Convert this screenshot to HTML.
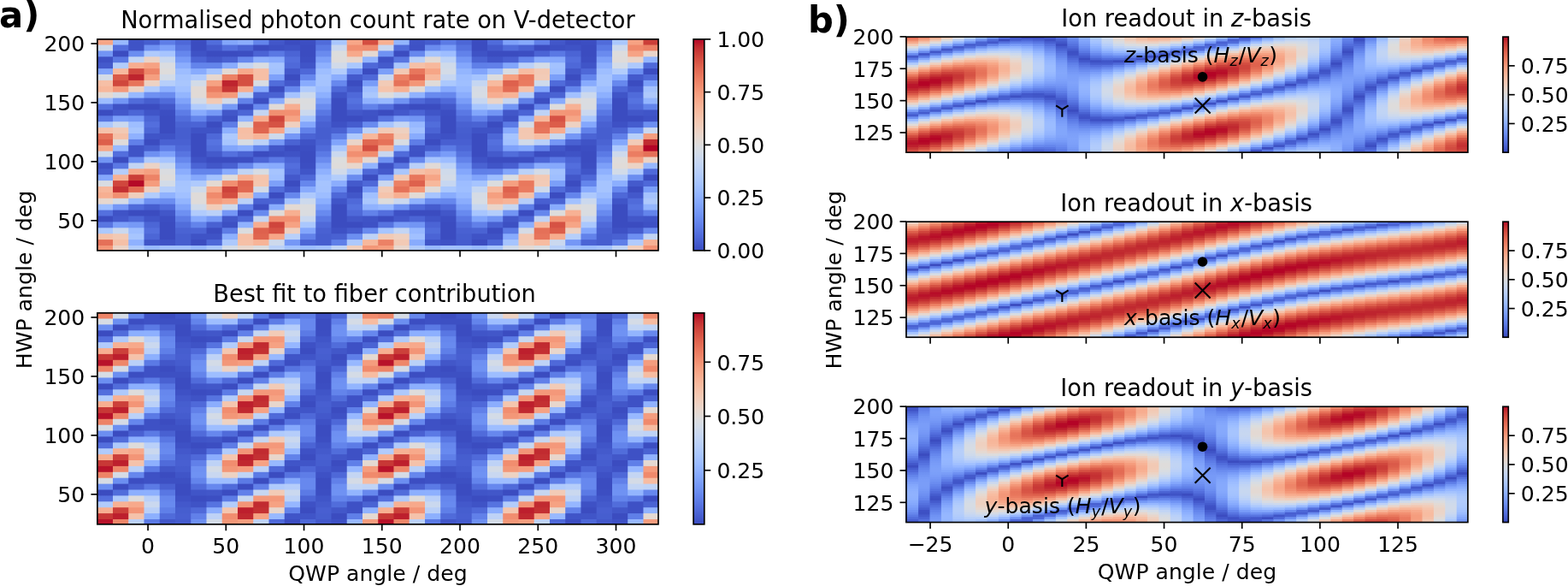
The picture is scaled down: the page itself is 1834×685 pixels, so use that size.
<!DOCTYPE html>
<html><head><meta charset="utf-8"><title>Figure</title>
<style>
html,body{margin:0;padding:0;background:#fff}
#f{position:relative;width:1834px;height:685px;overflow:hidden;background:#fff;font-family:'DejaVu Sans','Liberation Sans',sans-serif}
#f i{position:absolute;display:block}
#f svg{position:absolute;left:0;top:0}
#f svg path,#f svg rect{stroke:#000;stroke-linecap:butt;fill:none}
#f svg rect{stroke-linejoin:miter}
#f svg text{font-family:'DejaVu Sans','Liberation Sans',sans-serif;fill:#000}
</style></head><body>
<div id="f">
<i style="left:113px;top:45px;width:19px;height:248px;background:linear-gradient(#f6a586 7px,#cedaeb 8px 13.9px,#7295f4 14.9px 20.8px,#3e51c5 21.8px 27.7px,#445acc 28.7px 34.6px,#81a4fb 35.6px 41.5px,#d3dbe7 42.5px 48.4px,#f6bfa6 49.4px 55.3px,#f7b79b 56.3px 62.2px,#e4d9d2 63.2px 69.1px,#9dbdff 70.1px 76px,#5470de 77px 82.9px,#3b4cc0 83.9px 89.8px,#5875e1 90.8px 96.7px,#adc9fd 97.7px 103.6px,#f5c2aa 104.6px 110.5px,#e57058 111.5px 117.4px,#dd5f4b 118.4px 124.3px,#f6a586 125.3px 131.2px,#cedaeb 132.2px 138px,#7295f4 139px 144.9px,#3e51c5 145.9px 151.8px,#455cce 152.8px 158.7px,#84a7fc 159.7px 165.6px,#d8dce2 166.6px 172.5px,#f7b79b 173.5px 179.4px,#f7af91 180.4px 186.3px,#e7d7ce 187.3px 193.2px,#9ebeff 194.2px 200.1px,#5470de 201.1px 207px,#3b4cc0 208px 213.9px,#5875e1 214.9px 220.8px,#adc9fd 221.8px 227.7px,#f5c2aa 228.7px 234.6px,#e57058 235.6px 241.5px,#f39577 242.5px)"></i>
<i style="left:132px;top:45px;width:18px;height:248px;background:linear-gradient(#98b9ff 7px,#536edd 8px 13.9px,#3b4cc0 14.9px 20.8px,#5a78e4 21.8px 27.7px,#b2ccfb 28.7px 34.6px,#f7b99e 35.6px 41.5px,#da5a49 42.5px 48.4px,#d0473d 49.4px 55.3px,#f4987a 56.3px 62.2px,#d3dbe7 63.2px 69.1px,#7396f5 70.1px 76px,#3f53c6 77px 82.9px,#4358cb 83.9px 89.8px,#7b9ff9 90.8px 96.7px,#cad8ef 97.7px 103.6px,#f2c9b4 104.6px 110.5px,#f5c0a7 111.5px 117.4px,#dfdbd9 118.4px 124.3px,#98b9ff 125.3px 131.2px,#536edd 132.2px 138px,#3b4cc0 139px 144.9px,#5a78e4 145.9px 151.8px,#b5cdfa 152.8px 158.7px,#f7b194 159.7px 165.6px,#d0473d 166.6px 172.5px,#c43032 173.5px 179.4px,#f18f71 180.4px 186.3px,#d5dbe5 187.3px 193.2px,#7597f6 194.2px 200.1px,#3f53c6 201.1px 207px,#4358cb 208px 213.9px,#7b9ff9 214.9px 220.8px,#cad8ef 221.8px 227.7px,#f2c9b4 228.7px 234.6px,#f5c0a7 235.6px 241.5px,#ebd3c6 242.5px)"></i>
<i style="left:150px;top:45px;width:1px;height:248px;background:linear-gradient(#556cd4 7px,#445acc 8px 13.9px,#5f7de4 14.9px 20.8px,#a9bef0 21.8px 27.7px,#e6b5aa 28.7px 34.6px,#da6556 35.6px 41.5px,#c53135 42.5px 48.4px,#e16954 49.4px 55.3px,#efc3b0 56.3px 62.2px,#a7c1f9 63.2px 69.1px,#5976e1 70.1px 76px,#3c4ec1 77px 82.9px,#4a63d3 83.9px 89.8px,#779af7 90.8px 96.7px,#a9c4fb 97.7px 103.6px,#bac6ec 104.6px 110.5px,#a8b5e8 111.5px 117.4px,#8096e5 118.4px 124.3px,#556cd4 125.3px 131.2px,#445acc 132.2px 138px,#5f7de4 139px 144.9px,#aabeef 145.9px 151.8px,#e7b2a6 152.8px 158.7px,#d65a4f 159.7px 165.6px,#bc182c 166.6px 172.5px,#db5b4a 173.5px 179.4px,#efbeaa 180.4px 186.3px,#a9c3f9 187.3px 193.2px,#5976e1 194.2px 200.1px,#3c4ec1 201.1px 207px,#4a63d3 208px 213.9px,#779af7 214.9px 220.8px,#a9c4fb 221.8px 227.7px,#bac6ec 228.7px 234.6px,#a8b5e8 235.6px 241.5px,#beccef 242.5px)"></i>
<i style="left:151px;top:45px;width:17px;height:248px;background:linear-gradient(#3f53c6 13.9px,#6b8df0 14.9px 20.8px,#c3d5f4 21.8px 27.7px,#f7ad90 28.7px 34.6px,#d1493f 35.6px 41.5px,#be242e 42.5px 48.4px,#e7745b 49.4px 55.3px,#edd1c2 56.3px 62.2px,#98b9ff 63.2px 69.1px,#506bda 70.1px 76px,#3b4cc0 77px 82.9px,#4c66d6 83.9px 89.8px,#7699f6 90.8px 96.7px,#9ebeff 97.7px 103.6px,#a7c5fe 104.6px 110.5px,#8fb1fe 111.5px 117.4px,#6180e9 118.4px 124.3px,#3f53c6 125.3px 138px,#6b8df0 139px 144.9px,#c4d5f3 145.9px 151.8px,#f7a98b 152.8px 158.7px,#cb3e38 159.7px 165.6px,#b50927 166.6px 172.5px,#e26952 173.5px 179.4px,#efcebd 180.4px 186.3px,#9abbff 187.3px 193.2px,#506bda 194.2px 200.1px,#3b4cc0 201.1px 207px,#4c66d6 208px 213.9px,#7699f6 214.9px 220.8px,#9ebeff 221.8px 227.7px,#a7c5fe 228.7px 234.6px,#8fb1fe 235.6px 241.5px,#afcafc 242.5px)"></i>
<i style="left:168px;top:45px;width:1px;height:248px;background:linear-gradient(#4359cb 7px,#5772dc 8px 13.9px,#8dacf6 14.9px 20.8px,#d7d4dd 21.8px 27.7px,#f6a789 28.7px 34.6px,#e06854 35.6px 41.5px,#da6257 42.5px 48.4px,#eaa38f 49.4px 55.3px,#cfcedf 56.3px 62.2px,#83a4f8 63.2px 69.1px,#4b64d4 70.1px 76px,#3b4cc0 77px 82.9px,#465dcf 83.9px 89.8px,#617fe6 90.8px 96.7px,#7896ee 97.7px 103.6px,#7995ea 104.6px 110.5px,#6783e3 111.5px 117.4px,#4e66d4 118.4px 124.3px,#4359cb 125.3px 131.2px,#5772dc 132.2px 138px,#8dacf6 139px 144.9px,#d8d4dc 145.9px 151.8px,#f6a486 152.8px 158.7px,#dc614f 159.7px 165.6px,#d55352 166.6px 172.5px,#e89d89 173.5px 179.4px,#d0cddc 180.4px 186.3px,#84a5f8 187.3px 193.2px,#4b64d4 194.2px 200.1px,#3b4cc0 201.1px 207px,#465dcf 208px 213.9px,#617fe6 214.9px 220.8px,#7896ee 221.8px 227.7px,#7995ea 228.7px 234.6px,#6783e3 235.6px 241.5px,#a3c1fe 242.5px)"></i>
<i style="left:169px;top:45px;width:17px;height:248px;background:linear-gradient(#465ecf 7px,#6e90f2 8px 13.9px,#afcafc 14.9px 20.8px,#ebd3c6 21.8px 27.7px,#f6a283 28.7px 34.6px,#ee8669 35.6px 41.5px,#f59f80 42.5px 48.4px,#edd2c3 49.4px 55.3px,#b1cbfc 56.3px 62.2px,#6e90f2 63.2px 69.1px,#465ecf 70.1px 76px,#3b4cc0 77px 82.9px,#4055c8 83.9px 89.8px,#4c66d6 90.8px 96.7px,#536edd 97.7px 103.6px,#4c66d6 104.6px 110.5px,#4055c8 111.5px 117.4px,#3b4cc0 118.4px 124.3px,#465ecf 125.3px 131.2px,#6e90f2 132.2px 138px,#afcafc 139px 144.9px,#ebd3c6 145.9px 151.8px,#f5a081 152.8px 158.7px,#ed8366 159.7px 165.6px,#f59c7d 166.6px 172.5px,#eed0c0 173.5px 179.4px,#b2ccfb 180.4px 186.3px,#6e90f2 187.3px 193.2px,#465ecf 194.2px 200.1px,#3b4cc0 201.1px 207px,#4055c8 208px 213.9px,#4c66d6 214.9px 220.8px,#536edd 221.8px 227.7px,#4c66d6 228.7px 234.6px,#4055c8 235.6px 241.5px,#97b8ff 242.5px)"></i>
<i style="left:186px;top:45px;width:1px;height:248px;background:linear-gradient(#4c66d5 7px,#7294f4 8px 13.9px,#adc8fd 14.9px 20.8px,#e2d4d1 21.8px 27.7px,#efb19b 28.7px 34.6px,#ea9c86 35.6px 41.5px,#ecae9b 42.5px 48.4px,#dfd1d1 49.4px 55.3px,#a8c4fd 56.3px 62.2px,#6d8ff1 63.2px 69.1px,#4961d2 70.1px 76px,#3d4fc2 77px 82.9px,#3f53c6 83.9px 89.8px,#485fd0 90.8px 96.7px,#4d65d6 97.7px 103.6px,#485fd0 104.6px 110.5px,#4054c7 111.5px 117.4px,#3f51c5 118.4px 124.3px,#4c66d5 125.3px 131.2px,#7294f4 132.2px 138px,#adc8fd 139px 144.9px,#e2d4d1 145.9px 151.8px,#eeaf99 152.8px 158.7px,#e99a84 159.7px 165.6px,#ecac98 166.6px 172.5px,#e0cfcf 173.5px 179.4px,#a9c5fc 180.4px 186.3px,#6d8ff1 187.3px 193.2px,#4961d2 194.2px 200.1px,#3d4fc2 201.1px 207px,#3f53c6 208px 213.9px,#485fd0 214.9px 220.8px,#4d65d6 221.8px 227.7px,#485fd0 228.7px 234.6px,#4054c7 235.6px 241.5px,#9abaff 242.5px)"></i>
<i style="left:187px;top:45px;width:18px;height:248px;background:linear-gradient(#5e7de7 7px,#7ea1fa 8px 13.9px,#a6c4fe 14.9px 20.8px,#c7d7f0 21.8px 27.7px,#dadce0 28.7px 34.6px,#dedcdb 35.6px 41.5px,#d2dbe8 42.5px 48.4px,#b6cefa 49.4px 55.3px,#8fb1fe 56.3px 62.2px,#6a8bef 63.2px 69.1px,#506bda 70.1px 76px,#4257c9 77px 82.9px,#3c4ec2 83.9px 89.8px,#3b4cc0 90.8px 110.5px,#3f53c6 111.5px 117.4px,#4961d2 118.4px 124.3px,#5e7de7 125.3px 131.2px,#7ea1fa 132.2px 138px,#a6c4fe 139px 144.9px,#c7d7f0 145.9px 151.8px,#dadce0 152.8px 158.7px,#dedcdb 159.7px 165.6px,#d2dbe8 166.6px 172.5px,#b6cefa 173.5px 179.4px,#8fb1fe 180.4px 186.3px,#6b8df0 187.3px 193.2px,#506bda 194.2px 200.1px,#4257c9 201.1px 207px,#3c4ec2 208px 213.9px,#3b4cc0 214.9px 234.6px,#3f53c6 235.6px 241.5px,#a1c0ff 242.5px)"></i>
<i style="left:205px;top:45px;width:18px;height:248px;background:linear-gradient(#4e68d8 7px,#5875e1 8px 13.9px,#6687ed 14.9px 20.8px,#779af7 21.8px 27.7px,#8badfd 28.7px 34.6px,#9dbdff 35.6px 41.5px,#a6c4fe 42.5px 48.4px,#a9c6fd 49.4px 55.3px,#a2c1ff 56.3px 62.2px,#93b5fe 63.2px 69.1px,#80a3fa 70.1px 76px,#6e90f2 77px 82.9px,#5d7ce6 83.9px 89.8px,#516ddb 90.8px 96.7px,#4a63d3 97.7px 103.6px,#465ecf 104.6px 117.4px,#4961d2 118.4px 124.3px,#4e68d8 125.3px 131.2px,#5875e1 132.2px 138px,#6687ed 139px 144.9px,#779af7 145.9px 151.8px,#8badfd 152.8px 158.7px,#9bbcff 159.7px 165.6px,#a6c4fe 166.6px 172.5px,#a7c5fe 173.5px 179.4px,#a1c0ff 180.4px 186.3px,#93b5fe 187.3px 193.2px,#80a3fa 194.2px 200.1px,#6e90f2 201.1px 207px,#5d7ce6 208px 213.9px,#516ddb 214.9px 220.8px,#4a63d3 221.8px 227.7px,#465ecf 228.7px 241.5px,#a1c0ff 242.5px)"></i>
<i style="left:223px;top:45px;width:1px;height:248px;background:linear-gradient(#4053c6 7px,#4256c8 8px 13.9px,#4860cf 14.9px 20.8px,#5671dd 21.8px 27.7px,#6d8eef 28.7px 34.6px,#8daffd 35.6px 41.5px,#aec9fc 42.5px 48.4px,#c8d6ed 49.4px 55.3px,#d2d4e0 56.3px 62.2px,#ced1e0 63.2px 69.1px,#bdcded 70.1px 76px,#a1bdfa 77px 82.9px,#7ea0f7 83.9px 89.8px,#5f7ee7 90.8px 96.7px,#4b64d5 97.7px 103.6px,#4156c8 104.6px 110.5px,#3e50c4 111.5px 117.4px,#3e51c4 118.4px 124.3px,#4053c6 125.3px 131.2px,#4256c8 132.2px 138px,#4860cf 139px 144.9px,#5671dd 145.9px 151.8px,#6d8eef 152.8px 158.7px,#8baefd 159.7px 165.6px,#adc9fc 166.6px 172.5px,#c5d5ef 173.5px 179.4px,#d0d4e2 180.4px 186.3px,#cdd2e2 187.3px 193.2px,#bccdee 194.2px 200.1px,#a1bdfa 201.1px 207px,#7ea0f7 208px 213.9px,#5f7ee7 214.9px 220.8px,#4b64d5 221.8px 227.7px,#4156c8 228.7px 234.6px,#3e50c4 235.6px 241.5px,#99baff 242.5px)"></i>
<i style="left:224px;top:45px;width:17px;height:248px;background:linear-gradient(#3b4cc0 13.9px,#3f53c6 14.9px 20.8px,#4b64d5 21.8px 27.7px,#6384eb 28.7px 34.6px,#88abfd 35.6px 41.5px,#b1cbfc 42.5px 48.4px,#d2dbe8 49.4px 55.3px,#e1dad6 56.3px 69.1px,#d1dae9 70.1px 76px,#b1cbfc 77px 82.9px,#88abfd 83.9px 89.8px,#6384eb 90.8px 96.7px,#4b64d5 97.7px 103.6px,#3f53c6 104.6px 110.5px,#3b4cc0 111.5px 138px,#3f53c6 139px 144.9px,#4b64d5 145.9px 151.8px,#6384eb 152.8px 158.7px,#86a9fc 159.7px 165.6px,#afcafc 166.6px 172.5px,#cfdaea 173.5px 179.4px,#dfdbd9 180.4px 193.2px,#cfdaea 194.2px 200.1px,#b1cbfc 201.1px 207px,#88abfd 208px 213.9px,#6384eb 214.9px 220.8px,#4b64d5 221.8px 227.7px,#3f53c6 228.7px 234.6px,#3b4cc0 235.6px 241.5px,#97b8ff 242.5px)"></i>
<i style="left:241px;top:45px;width:1px;height:248px;background:linear-gradient(#465dce 7px,#4053c6 8px 13.9px,#3d4fc3 14.9px 20.8px,#465dcf 21.8px 27.7px,#6384eb 28.7px 34.6px,#97b7fe 35.6px 41.5px,#cdd1e5 42.5px 48.4px,#e4beb5 49.4px 55.3px,#e6ab9b 56.3px 62.2px,#eab6a5 63.2px 69.1px,#e2d2ce 70.1px 76px,#b7cff9 77px 82.9px,#7fa2f9 83.9px 89.8px,#5672de 90.8px 96.7px,#4358ca 97.7px 103.6px,#3f53c6 104.6px 110.5px,#455acc 111.5px 117.4px,#4960d0 118.4px 124.3px,#465dce 125.3px 131.2px,#4053c6 132.2px 138px,#3d4fc3 139px 144.9px,#465dcf 145.9px 151.8px,#6384eb 152.8px 158.7px,#95b6fd 159.7px 165.6px,#cad2e7 166.6px 172.5px,#e3c2ba 173.5px 179.4px,#e8b2a1 180.4px 186.3px,#eabaa9 187.3px 193.2px,#e0d3d1 194.2px 200.1px,#b6cefa 201.1px 207px,#7fa2f9 208px 213.9px,#5672de 214.9px 220.8px,#4358ca 221.8px 227.7px,#3f53c6 228.7px 234.6px,#455acc 235.6px 241.5px,#a0bffe 242.5px)"></i>
<i style="left:242px;top:45px;width:17px;height:248px;background:linear-gradient(#516ddb 7px,#445acc 8px 13.9px,#3b4cc0 14.9px 20.8px,#4257c9 21.8px 27.7px,#6384eb 28.7px 34.6px,#a5c3fe 35.6px 41.5px,#e7d7ce 42.5px 48.4px,#f6a283 49.4px 55.3px,#eb7d62 56.3px 62.2px,#f39475 63.2px 69.1px,#f2cab5 70.1px 76px,#bcd2f7 77px 82.9px,#7699f6 83.9px 89.8px,#4961d2 90.8px 96.7px,#3b4cc0 97.7px 103.6px,#3f53c6 104.6px 110.5px,#4e68d8 111.5px 117.4px,#5673e0 118.4px 124.3px,#516ddb 125.3px 131.2px,#445acc 132.2px 138px,#3b4cc0 139px 144.9px,#4257c9 145.9px 151.8px,#6384eb 152.8px 158.7px,#a3c2fe 159.7px 165.6px,#e4d9d2 166.6px 172.5px,#f7aa8c 173.5px 179.4px,#f08a6c 180.4px 186.3px,#f49a7b 187.3px 193.2px,#f1ccb8 194.2px 200.1px,#bbd1f8 201.1px 207px,#7699f6 208px 213.9px,#4961d2 214.9px 220.8px,#3b4cc0 221.8px 227.7px,#3f53c6 228.7px 234.6px,#4e68d8 235.6px 241.5px,#a9c6fd 242.5px)"></i>
<i style="left:259px;top:45px;width:1px;height:248px;background:linear-gradient(#5e7ce3 7px,#4860d1 8px 13.9px,#3b4cc0 14.9px 20.8px,#445acb 21.8px 27.7px,#6d8ef0 28.7px 34.6px,#b5c9f3 35.6px 41.5px,#e8c1b3 42.5px 48.4px,#e7816d 49.4px 55.3px,#e26a56 56.3px 62.2px,#f39677 63.2px 69.1px,#e9cec3 70.1px 76px,#aac3f7 77px 82.9px,#6888ea 83.9px 89.8px,#465dce 90.8px 96.7px,#4459ca 97.7px 103.6px,#536bd5 104.6px 110.5px,#6781e2 111.5px 117.4px,#6b88e8 118.4px 124.3px,#5e7ce3 125.3px 131.2px,#4860d1 132.2px 138px,#3b4cc0 139px 144.9px,#445acb 145.9px 151.8px,#6d8ef0 152.8px 158.7px,#b3c9f4 159.7px 165.6px,#e7c6b9 166.6px 172.5px,#ec8f77 173.5px 179.4px,#e97a61 180.4px 186.3px,#f59d7e 187.3px 193.2px,#e8cfc6 194.2px 200.1px,#a9c2f7 201.1px 207px,#6888ea 208px 213.9px,#465dce 214.9px 220.8px,#4459ca 221.8px 227.7px,#536bd5 228.7px 234.6px,#6781e2 235.6px 241.5px,#b4cbf8 242.5px)"></i>
<i style="left:260px;top:45px;width:18px;height:248px;background:linear-gradient(#82a6fb 7px,#5470de 8px 13.9px,#3b4cc0 14.9px 20.8px,#4961d2 21.8px 27.7px,#89acfd 28.7px 34.6px,#e3d9d3 35.6px 41.5px,#ec8165 42.5px 48.4px,#be242e 49.4px 55.3px,#c73635 56.3px 62.2px,#f49a7b 63.2px 69.1px,#d1dae9 70.1px 76px,#7699f6 77px 82.9px,#4257c9 83.9px 89.8px,#3d50c3 90.8px 96.7px,#5d7ce6 97.7px 103.6px,#8db0fe 104.6px 110.5px,#adc9fd 111.5px 117.4px,#a7c5fe 118.4px 124.3px,#82a6fb 125.3px 131.2px,#5470de 132.2px 138px,#3b4cc0 139px 144.9px,#4961d2 145.9px 151.8px,#88abfd 152.8px 158.7px,#dfdbd9 159.7px 165.6px,#f18f71 166.6px 172.5px,#cd423b 173.5px 179.4px,#d44e41 180.4px 186.3px,#f6a586 187.3px 193.2px,#cdd9ec 194.2px 200.1px,#7597f6 201.1px 207px,#4257c9 208px 213.9px,#3d50c3 214.9px 220.8px,#5d7ce6 221.8px 227.7px,#8db0fe 228.7px 234.6px,#adc9fd 235.6px 241.5px,#d2dbe8 242.5px)"></i>
<i style="left:278px;top:45px;width:18px;height:248px;background:linear-gradient(#8badfd 7px,#4a63d3 8px 13.9px,#3c4ec2 14.9px 20.8px,#6687ed 21.8px 27.7px,#c4d5f3 28.7px 34.6px,#f7a98b 35.6px 41.5px,#d55042 42.5px 55.3px,#f7ac8e 56.3px 62.2px,#bfd3f6 63.2px 69.1px,#6282ea 70.1px 76px,#3b4cc0 77px 82.9px,#4c66d6 83.9px 89.8px,#90b2fe 90.8px 96.7px,#dbdcde 97.7px 103.6px,#f6bea4 104.6px 110.5px,#f5c0a7 111.5px 117.4px,#d7dce3 118.4px 124.3px,#8badfd 125.3px 131.2px,#4a63d3 132.2px 138px,#3c4ec2 139px 144.9px,#6687ed 145.9px 151.8px,#c1d4f4 152.8px 158.7px,#f7b194 159.7px 165.6px,#e0654f 166.6px 172.5px,#e26952 173.5px 179.4px,#f7b79b 180.4px 186.3px,#bbd1f8 187.3px 193.2px,#6180e9 194.2px 200.1px,#3b4cc0 201.1px 207px,#4c66d6 208px 213.9px,#90b2fe 214.9px 220.8px,#dbdcde 221.8px 227.7px,#f6bea4 228.7px 234.6px,#f5c0a7 235.6px 241.5px,#e7d7ce 242.5px)"></i>
<i style="left:296px;top:45px;width:1px;height:248px;background:linear-gradient(#6c8eef 7px,#3f51c4 8px 13.9px,#475fd1 14.9px 20.8px,#84a6fa 21.8px 27.7px,#d4dae5 28.7px 34.6px,#f6baa0 35.6px 41.5px,#eea58e 42.5px 48.4px,#d7bbbc 49.4px 55.3px,#a3ace3 56.3px 62.2px,#657cda 63.2px 69.1px,#455acb 70.1px 76px,#5d7be4 77px 82.9px,#a8bbec 83.9px 89.8px,#dfaeaa 90.8px 96.7px,#dd7e6f 97.7px 103.6px,#e57a63 104.6px 110.5px,#f7b79b 111.5px 117.4px,#c2d4f2 118.4px 124.3px,#6c8eef 125.3px 131.2px,#3f51c4 132.2px 138px,#475fd1 139px 144.9px,#83a6fa 145.9px 151.8px,#d2dae7 152.8px 158.7px,#f5c0a6 159.7px 165.6px,#efaf98 166.6px 172.5px,#d7c0c4 173.5px 179.4px,#a1ace5 180.4px 186.3px,#647bdb 187.3px 193.2px,#455acb 194.2px 200.1px,#5d7be4 201.1px 207px,#a8bbec 208px 213.9px,#dfaeaa 214.9px 220.8px,#dd7e6f 221.8px 227.7px,#e57a63 228.7px 234.6px,#f7b79b 235.6px 241.5px,#dedbda 242.5px)"></i>
<i style="left:297px;top:45px;width:17px;height:248px;background:linear-gradient(#6384eb 7px,#3b4cc0 8px 13.9px,#4b64d5 14.9px 20.8px,#8db0fe 21.8px 27.7px,#d9dce1 28.7px 34.6px,#f6bfa6 35.6px 48.4px,#d8dce2 49.4px 55.3px,#89acfd 56.3px 62.2px,#4961d2 63.2px 69.1px,#3c4ec2 70.1px 76px,#688aef 77px 82.9px,#c4d5f3 83.9px 89.8px,#f7ad90 90.8px 96.7px,#de614d 97.7px 103.6px,#e0654f 104.6px 110.5px,#f7b497 111.5px 117.4px,#bcd2f7 118.4px 124.3px,#6384eb 125.3px 131.2px,#3b4cc0 132.2px 138px,#4b64d5 139px 144.9px,#8caffe 145.9px 151.8px,#d7dce3 152.8px 158.7px,#f5c4ac 159.7px 165.6px,#f4c6af 166.6px 172.5px,#d3dbe7 173.5px 179.4px,#86a9fc 180.4px 186.3px,#4961d2 187.3px 193.2px,#3c4ec2 194.2px 200.1px,#688aef 201.1px 207px,#c4d5f3 208px 213.9px,#f7ad90 214.9px 220.8px,#de614d 221.8px 227.7px,#e0654f 228.7px 234.6px,#f7b497 235.6px 241.5px,#dbdcde 242.5px)"></i>
<i style="left:314px;top:45px;width:1px;height:248px;background:linear-gradient(#526dd9 7px,#3c4ec2 8px 13.9px,#536edd 14.9px 20.8px,#8aadfd 21.8px 27.7px,#bfd0f0 28.7px 34.6px,#cbc1d3 35.6px 41.5px,#b8b0d1 42.5px 48.4px,#92a3de 49.4px 55.3px,#617bde 56.3px 62.2px,#4a62d3 63.2px 69.1px,#657fe0 70.1px 76px,#a6b3e2 77px 82.9px,#dbb1b0 83.9px 89.8px,#e27765 90.8px 96.7px,#da5948 97.7px 103.6px,#ec866c 104.6px 110.5px,#e1c7c3 111.5px 117.4px,#98b5f6 118.4px 124.3px,#526dd9 125.3px 131.2px,#3c4ec2 132.2px 138px,#536edd 139px 144.9px,#8aadfd 145.9px 151.8px,#bed0f1 152.8px 158.7px,#cac2d7 159.7px 165.6px,#b7b2d5 166.6px 172.5px,#90a2e1 173.5px 179.4px,#5f79dd 180.4px 186.3px,#4a62d3 187.3px 193.2px,#647ee0 194.2px 200.1px,#a6b4e3 201.1px 207px,#dbb1b0 208px 213.9px,#e27765 214.9px 220.8px,#da5948 221.8px 227.7px,#ec866c 228.7px 234.6px,#e1c7c3 235.6px 241.5px,#cad6eb 242.5px)"></i>
<i style="left:315px;top:45px;width:17px;height:248px;background:linear-gradient(#4257c9 7px,#3d50c3 8px 13.9px,#5a78e4 14.9px 20.8px,#88abfd 21.8px 27.7px,#a6c4fe 28.7px 34.6px,#a3c2fe 35.6px 41.5px,#7ea1fa 42.5px 48.4px,#516ddb 49.4px 55.3px,#3b4cc0 56.3px 62.2px,#4a63d3 63.2px 69.1px,#8badfd 70.1px 76px,#e1dad6 77px 82.9px,#f18f71 83.9px 89.8px,#cf453c 90.8px 96.7px,#d65244 97.7px 103.6px,#f7a688 104.6px 110.5px,#cdd9ec 111.5px 117.4px,#7699f6 118.4px 124.3px,#4257c9 125.3px 131.2px,#3d50c3 132.2px 138px,#5a78e4 139px 144.9px,#88abfd 145.9px 151.8px,#a6c4fe 152.8px 158.7px,#a2c1ff 159.7px 165.6px,#7da0f9 166.6px 172.5px,#516ddb 173.5px 179.4px,#3b4cc0 180.4px 186.3px,#4a63d3 187.3px 193.2px,#89acfd 194.2px 200.1px,#e0dbd8 201.1px 207px,#f18f71 208px 213.9px,#cf453c 214.9px 220.8px,#d65244 221.8px 227.7px,#f7a688 228.7px 234.6px,#cdd9ec 235.6px 241.5px,#bad0f8 242.5px)"></i>
<i style="left:332px;top:45px;width:1px;height:248px;background:linear-gradient(#4054c7 7px,#3e51c4 8px 13.9px,#5673e0 14.9px 20.8px,#7a9bf4 21.8px 27.7px,#8facf4 28.7px 34.6px,#89a6f0 35.6px 41.5px,#6c8aeb 42.5px 48.4px,#4d67d7 49.4px 55.3px,#465ccc 56.3px 62.2px,#627dde 63.2px 69.1px,#a2b9f2 70.1px 76px,#e7cec3 77px 82.9px,#f18f71 83.9px 89.8px,#d95e4f 90.8px 96.7px,#dd7365 97.7px 103.6px,#e6b1a6 104.6px 110.5px,#b6c7ef 111.5px 117.4px,#6a8bed 118.4px 124.3px,#4054c7 125.3px 131.2px,#3e51c4 132.2px 138px,#5673e0 139px 144.9px,#7a9bf4 145.9px 151.8px,#8fabf4 152.8px 158.7px,#89a5f1 159.7px 165.6px,#6b8aea 166.6px 172.5px,#4d67d7 173.5px 179.4px,#465ccc 180.4px 186.3px,#627dde 187.3px 193.2px,#a1b8f2 194.2px 200.1px,#e6cfc5 201.1px 207px,#f18f71 208px 213.9px,#d95e4f 214.9px 220.8px,#dd7365 221.8px 227.7px,#e6b1a6 228.7px 234.6px,#b6c7ef 235.6px 241.5px,#b3ccfa 242.5px)"></i>
<i style="left:333px;top:45px;width:18px;height:248px;background:linear-gradient(#3b4cc0 7px,#3f53c6 8px 13.9px,#4b64d5 14.9px 20.8px,#536edd 21.8px 27.7px,#4f69d9 28.7px 34.6px,#4358cb 35.6px 41.5px,#3b4cc0 42.5px 48.4px,#4358cb 49.4px 55.3px,#6687ed 56.3px 62.2px,#a5c3fe 63.2px 69.1px,#e3d9d3 70.1px 76px,#f7ad90 77px 82.9px,#f29072 83.9px 89.8px,#f6a283 90.8px 96.7px,#efcfbf 97.7px 103.6px,#b9d0f9 104.6px 110.5px,#7597f6 111.5px 117.4px,#4a63d3 118.4px 124.3px,#3b4cc0 125.3px 131.2px,#3f53c6 132.2px 138px,#4b64d5 139px 144.9px,#536edd 145.9px 151.8px,#4e68d8 152.8px 158.7px,#4358cb 159.7px 165.6px,#3b4cc0 166.6px 172.5px,#4358cb 173.5px 179.4px,#6687ed 180.4px 186.3px,#a5c3fe 187.3px 193.2px,#e3d9d3 194.2px 200.1px,#f7af91 201.1px 207px,#f29072 208px 213.9px,#f6a283 214.9px 220.8px,#efcfbf 221.8px 227.7px,#b9d0f9 228.7px 234.6px,#7597f6 235.6px 241.5px,#a1c0ff 242.5px)"></i>
<i style="left:351px;top:45px;width:18px;height:248px;background:linear-gradient(#3c4ec2 7px,#3b4cc0 8px 20.8px,#3c4ec2 21.8px 27.7px,#4055c8 28.7px 34.6px,#4e68d8 35.6px 41.5px,#6687ed 42.5px 48.4px,#88abfd 49.4px 55.3px,#afcafc 56.3px 62.2px,#ccd9ed 63.2px 69.1px,#dbdcde 70.1px 76px,#dadce0 77px 82.9px,#cad8ef 83.9px 89.8px,#aac7fd 90.8px 96.7px,#84a7fc 97.7px 103.6px,#6282ea 104.6px 110.5px,#4b64d5 111.5px 117.4px,#3f53c6 118.4px 124.3px,#3c4ec2 125.3px 131.2px,#3b4cc0 132.2px 144.9px,#3c4ec2 145.9px 151.8px,#4055c8 152.8px 158.7px,#4e68d8 159.7px 165.6px,#6687ed 166.6px 172.5px,#88abfd 173.5px 179.4px,#aec9fc 180.4px 186.3px,#ccd9ed 187.3px 193.2px,#dbdcde 194.2px 200.1px,#dadce0 201.1px 207px,#cad8ef 208px 213.9px,#aac7fd 214.9px 220.8px,#84a7fc 221.8px 227.7px,#6282ea 228.7px 234.6px,#4b64d5 235.6px 241.5px,#9bbcff 242.5px)"></i>
<i style="left:369px;top:45px;width:1px;height:248px;background:linear-gradient(#4b64d4 7px,#546fdc 8px 13.9px,#5f7ce4 14.9px 20.8px,#6e8dec 21.8px 27.7px,#7d9cf2 28.7px 34.6px,#8caaf6 35.6px 41.5px,#97b6fa 42.5px 48.4px,#9ebdfe 49.4px 55.3px,#a1c0fe 56.3px 62.2px,#9cb9fa 63.2px 69.1px,#90acf2 70.1px 76px,#829dec 77px 82.9px,#738de6 83.9px 89.8px,#647fe1 90.8px 96.7px,#5771dc 97.7px 103.6px,#4c66d5 104.6px 110.5px,#475fd0 111.5px 124.3px,#4b64d4 125.3px 131.2px,#546fdc 132.2px 138px,#5f7ce4 139px 144.9px,#6e8dec 145.9px 151.8px,#7d9cf2 152.8px 158.7px,#8caaf6 159.7px 165.6px,#97b6fa 166.6px 172.5px,#9ebdfe 173.5px 179.4px,#a1c0fe 180.4px 186.3px,#9bb9fa 187.3px 193.2px,#90acf2 194.2px 200.1px,#829dec 201.1px 207px,#738de6 208px 213.9px,#647fe1 214.9px 220.8px,#5771dc 221.8px 227.7px,#4c66d5 228.7px 234.6px,#475fd0 235.6px 241.5px,#a0bfff 242.5px)"></i>
<i style="left:370px;top:45px;width:17px;height:248px;background:linear-gradient(#506bda 7px,#5b7ae5 8px 13.9px,#6a8bef 14.9px 20.8px,#7da0f9 21.8px 27.7px,#8fb1fe 28.7px 34.6px,#9ebeff 35.6px 41.5px,#a6c4fe 42.5px 48.4px,#a5c3fe 49.4px 55.3px,#9dbdff 56.3px 62.2px,#8db0fe 63.2px 69.1px,#7a9df8 70.1px 76px,#688aef 77px 82.9px,#5977e3 83.9px 89.8px,#4f69d9 90.8px 96.7px,#4961d2 97.7px 103.6px,#465ecf 104.6px 117.4px,#4a63d3 118.4px 124.3px,#506bda 125.3px 131.2px,#5b7ae5 132.2px 138px,#6a8bef 139px 144.9px,#7da0f9 145.9px 151.8px,#8fb1fe 152.8px 158.7px,#9ebeff 159.7px 165.6px,#a6c4fe 166.6px 172.5px,#a5c3fe 173.5px 179.4px,#9dbdff 180.4px 186.3px,#8caffe 187.3px 193.2px,#7a9df8 194.2px 200.1px,#688aef 201.1px 207px,#5977e3 208px 213.9px,#4f69d9 214.9px 220.8px,#4961d2 221.8px 227.7px,#465ecf 228.7px 241.5px,#a1c0ff 242.5px)"></i>
<i style="left:387px;top:45px;width:1px;height:248px;background:linear-gradient(#7e9aec 7px,#95abea 8px 13.9px,#a5b6e6 14.9px 20.8px,#b0bfe9 21.8px 27.7px,#b1c6f3 28.7px 34.6px,#a9c6fd 35.6px 41.5px,#98b8fd 42.5px 48.4px,#85a4f6 49.4px 55.3px,#7491eb 56.3px 62.2px,#6581e2 63.2px 69.1px,#5973db 70.1px 76px,#516ad7 77px 82.9px,#4961d1 83.9px 89.8px,#455acc 90.8px 96.7px,#4359cb 97.7px 103.6px,#4860d1 104.6px 110.5px,#536fdc 111.5px 117.4px,#6785e8 118.4px 124.3px,#7e9aec 125.3px 131.2px,#95abea 132.2px 138px,#a5b6e6 139px 144.9px,#b0bfe9 145.9px 151.8px,#b1c6f3 152.8px 158.7px,#a9c6fd 159.7px 165.6px,#98b8fd 166.6px 172.5px,#85a4f6 173.5px 179.4px,#7491eb 180.4px 186.3px,#6480e2 187.3px 193.2px,#5973db 194.2px 200.1px,#516ad7 201.1px 207px,#4961d1 208px 213.9px,#455acc 214.9px 220.8px,#4359cb 221.8px 227.7px,#4860d1 228.7px 234.6px,#536fdc 235.6px 241.5px,#b1cafa 242.5px)"></i>
<i style="left:388px;top:45px;width:17px;height:248px;background:linear-gradient(#a9c6fd 7px,#cad8ef 8px 13.9px,#dcdddd 14.9px 20.8px,#dedcdb 21.8px 27.7px,#d1dae9 28.7px 34.6px,#b3cdfb 35.6px 41.5px,#8badfd 42.5px 48.4px,#6788ee 49.4px 55.3px,#4e68d8 56.3px 62.2px,#4055c8 63.2px 69.1px,#3b4cc0 70.1px 96.7px,#3e51c5 97.7px 103.6px,#4961d2 104.6px 110.5px,#5f7fe8 111.5px 117.4px,#81a4fb 118.4px 124.3px,#a9c6fd 125.3px 131.2px,#cad8ef 132.2px 138px,#dcdddd 139px 144.9px,#dedcdb 145.9px 151.8px,#d1dae9 152.8px 158.7px,#b3cdfb 159.7px 165.6px,#8badfd 166.6px 172.5px,#6788ee 173.5px 179.4px,#4e68d8 180.4px 186.3px,#4055c8 187.3px 193.2px,#3b4cc0 194.2px 220.8px,#3e51c5 221.8px 227.7px,#4961d2 228.7px 234.6px,#5f7fe8 235.6px 241.5px,#c0d4f5 242.5px)"></i>
<i style="left:405px;top:45px;width:1px;height:248px;background:linear-gradient(#bebddd 7px,#d5c4cd 8px 13.9px,#e3cfc7 14.9px 20.8px,#e1dad7 21.8px 27.7px,#c7d5ee 28.7px 34.6px,#9fbbf8 35.6px 41.5px,#7896f0 42.5px 48.4px,#5b78e1 49.4px 55.3px,#4b63d4 56.3px 62.2px,#445acd 63.2px 69.1px,#4256c8 70.1px 76px,#4054c7 77px 82.9px,#3d4fc2 83.9px 89.8px,#3b4cc0 90.8px 96.7px,#4054c7 97.7px 103.6px,#536eda 104.6px 110.5px,#7593ed 111.5px 117.4px,#9eb1ed 118.4px 124.3px,#bebddd 125.3px 131.2px,#d5c4cd 132.2px 138px,#e3cfc7 139px 144.9px,#e1dad7 145.9px 151.8px,#c7d5ee 152.8px 158.7px,#9fbbf8 159.7px 165.6px,#7896f0 166.6px 172.5px,#5b78e1 173.5px 179.4px,#4b63d4 180.4px 186.3px,#445acd 187.3px 193.2px,#4256c8 194.2px 200.1px,#4054c7 201.1px 207px,#3d4fc2 208px 213.9px,#3b4cc0 214.9px 220.8px,#4054c7 221.8px 227.7px,#536eda 228.7px 234.6px,#7593ed 235.6px 241.5px,#cdd2e6 242.5px)"></i>
<i style="left:406px;top:45px;width:18px;height:248px;background:linear-gradient(#f7a688 7px,#f18f71 8px 13.9px,#f7a98b 14.9px 20.8px,#e8d6cc 21.8px 27.7px,#abc8fd 28.7px 34.6px,#6a8bef 35.6px 41.5px,#445acc 42.5px 48.4px,#3b4cc0 49.4px 55.3px,#4257c9 56.3px 62.2px,#4f69d9 63.2px 69.1px,#5572df 70.1px 76px,#4f69d9 77px 82.9px,#4257c9 83.9px 89.8px,#3b4cc0 90.8px 96.7px,#455cce 97.7px 103.6px,#6c8ff1 104.6px 110.5px,#aec9fc 111.5px 117.4px,#ead4c8 118.4px 124.3px,#f7a688 125.3px 131.2px,#f18f71 132.2px 138px,#f7a98b 139px 144.9px,#e8d6cc 145.9px 151.8px,#abc8fd 152.8px 158.7px,#6a8bef 159.7px 165.6px,#445acc 166.6px 172.5px,#3b4cc0 173.5px 179.4px,#4257c9 180.4px 186.3px,#4f69d9 187.3px 193.2px,#5572df 194.2px 200.1px,#4f69d9 201.1px 207px,#4257c9 208px 213.9px,#3b4cc0 214.9px 220.8px,#455cce 221.8px 227.7px,#6c8ff1 228.7px 234.6px,#aec9fc 235.6px 241.5px,#efcebd 242.5px)"></i>
<i style="left:424px;top:45px;width:18px;height:248px;background:linear-gradient(#d44e41 7px,#f08b6e 8px 13.9px,#e5d8d1 14.9px 20.8px,#92b4fe 21.8px 27.7px,#4e68d8 28.7px 34.6px,#3b4cc0 35.6px 41.5px,#4e68d8 42.5px 48.4px,#799cf8 49.4px 55.3px,#a1c0ff 56.3px 62.2px,#aac7fd 63.2px 69.1px,#90b2fe 70.1px 76px,#6282ea 77px 82.9px,#3f53c6 83.9px 89.8px,#3e51c5 90.8px 96.7px,#688aef 97.7px 103.6px,#bed2f6 104.6px 110.5px,#f7b89c 111.5px 117.4px,#e16751 118.4px 124.3px,#d44e41 125.3px 131.2px,#f08b6e 132.2px 138px,#e5d8d1 139px 144.9px,#92b4fe 145.9px 151.8px,#4e68d8 152.8px 158.7px,#3b4cc0 159.7px 165.6px,#4e68d8 166.6px 172.5px,#799cf8 173.5px 179.4px,#a1c0ff 180.4px 186.3px,#aac7fd 187.3px 193.2px,#90b2fe 194.2px 200.1px,#6282ea 201.1px 207px,#3f53c6 208px 213.9px,#3e51c5 214.9px 220.8px,#688aef 221.8px 227.7px,#bed2f6 228.7px 234.6px,#f7b89c 235.6px 241.5px,#f39778 242.5px)"></i>
<i style="left:442px;top:45px;width:1px;height:248px;background:linear-gradient(#ef997f 7px,#d2c6d3 8px 13.9px,#8aa2eb 14.9px 20.8px,#5167d2 21.8px 27.7px,#465dcf 28.7px 34.6px,#6d8cec 35.6px 41.5px,#adbeeb 42.5px 48.4px,#d7c0c6 49.4px 55.3px,#e2c3bf 56.3px 62.2px,#d2d7e3 63.2px 69.1px,#96b7ff 70.1px 76px,#5673e0 77px 82.9px,#3c4ec1 83.9px 89.8px,#516bda 90.8px 96.7px,#99b8fb 97.7px 103.6px,#e6ccc4 104.6px 110.5px,#ee8d71 111.5px 117.4px,#e57057 118.4px 124.3px,#ef997f 125.3px 131.2px,#d2c6d3 132.2px 138px,#8aa2eb 139px 144.9px,#5167d2 145.9px 151.8px,#465dcf 152.8px 158.7px,#6d8cec 159.7px 165.6px,#adbeeb 166.6px 172.5px,#d7c0c6 173.5px 179.4px,#e2c3bf 180.4px 186.3px,#d2d7e3 187.3px 193.2px,#96b7ff 194.2px 200.1px,#5673e0 201.1px 207px,#3c4ec1 208px 213.9px,#516bda 214.9px 220.8px,#99b8fb 221.8px 227.7px,#e6ccc4 228.7px 234.6px,#ee8d71 235.6px 241.5px,#f59c7d 242.5px)"></i>
<i style="left:443px;top:45px;width:17px;height:248px;background:linear-gradient(#f7af91 7px,#c9d7f0 8px 13.9px,#6f92f3 14.9px 20.8px,#3e51c5 21.8px 27.7px,#445acc 28.7px 34.6px,#7b9ff9 35.6px 41.5px,#c9d7f0 42.5px 48.4px,#f2cbb7 49.4px 55.3px,#f5c4ac 56.3px 62.2px,#dddcdc 63.2px 69.1px,#98b9ff 70.1px 76px,#536edd 77px 82.9px,#3b4cc0 83.9px 89.8px,#5673e0 90.8px 96.7px,#a7c5fe 97.7px 103.6px,#f2cab5 104.6px 110.5px,#ec8165 111.5px 117.4px,#e67259 118.4px 124.3px,#f7af91 125.3px 131.2px,#c9d7f0 132.2px 138px,#6f92f3 139px 144.9px,#3e51c5 145.9px 151.8px,#445acc 152.8px 158.7px,#7b9ff9 159.7px 165.6px,#c9d7f0 166.6px 172.5px,#f2cbb7 173.5px 179.4px,#f5c4ac 180.4px 186.3px,#dddcdc 187.3px 193.2px,#98b9ff 194.2px 200.1px,#536edd 201.1px 207px,#3b4cc0 208px 213.9px,#5673e0 214.9px 220.8px,#a7c5fe 221.8px 227.7px,#f2cab5 228.7px 234.6px,#ec8165 235.6px 241.5px,#f59d7e 242.5px)"></i>
<i style="left:460px;top:45px;width:1px;height:248px;background:linear-gradient(#c2b2ca 7px,#899ee4 8px 13.9px,#546dd8 14.9px 20.8px,#4c64d4 21.8px 27.7px,#7993e6 28.7px 34.6px,#bab5d5 35.6px 41.5px,#dbaaa7 42.5px 48.4px,#ec9c86 49.4px 55.3px,#f6b99e 56.3px 62.2px,#d3dae6 63.2px 69.1px,#83a5f9 70.1px 76px,#485fd0 77px 82.9px,#3f52c6 83.9px 89.8px,#6788ec 90.8px 96.7px,#b6cdf9 97.7px 103.6px,#f0cdbb 104.6px 110.5px,#efa78f 111.5px 117.4px,#dfaaa1 118.4px 124.3px,#c2b2ca 125.3px 131.2px,#899ee4 132.2px 138px,#546dd8 139px 144.9px,#4c64d4 145.9px 151.8px,#7993e6 152.8px 158.7px,#bab5d5 159.7px 165.6px,#dbaaa7 166.6px 172.5px,#ec9c86 173.5px 179.4px,#f6b99e 180.4px 186.3px,#d3dae6 187.3px 193.2px,#83a5f9 194.2px 200.1px,#485fd0 201.1px 207px,#3f52c6 208px 213.9px,#6788ec 214.9px 220.8px,#b6cdf9 221.8px 227.7px,#f0cdbb 228.7px 234.6px,#efa78f 235.6px 241.5px,#eebba7 242.5px)"></i>
<i style="left:461px;top:45px;width:17px;height:248px;background:linear-gradient(#93b5fe 7px,#506bda 8px 13.9px,#3b4cc0 14.9px 20.8px,#5875e1 21.8px 27.7px,#a9c6fd 28.7px 34.6px,#f2c9b4 35.6px 41.5px,#ec8165 42.5px 48.4px,#e67259 49.4px 55.3px,#f7af91 56.3px 62.2px,#cad8ef 63.2px 69.1px,#7093f3 70.1px 76px,#3e51c5 77px 82.9px,#4358cb 83.9px 89.8px,#779af7 90.8px 96.7px,#c3d5f4 97.7px 103.6px,#eed0c0 104.6px 110.5px,#f2cab5 111.5px 117.4px,#d8dce2 118.4px 124.3px,#93b5fe 125.3px 131.2px,#506bda 132.2px 138px,#3b4cc0 139px 144.9px,#5875e1 145.9px 151.8px,#a9c6fd 152.8px 158.7px,#f2c9b4 159.7px 165.6px,#ec8165 166.6px 172.5px,#e67259 173.5px 179.4px,#f7af91 180.4px 186.3px,#cad8ef 187.3px 193.2px,#7093f3 194.2px 200.1px,#3e51c5 201.1px 207px,#4358cb 208px 213.9px,#779af7 214.9px 220.8px,#c3d5f4 221.8px 227.7px,#eed0c0 228.7px 234.6px,#f2cab5 235.6px 241.5px,#e8d6cc 242.5px)"></i>
<i style="left:478px;top:45px;width:1px;height:248px;background:linear-gradient(#7c9aee 7px,#4b64d4 8px 13.9px,#475dcd 14.9px 20.8px,#738ee7 21.8px 27.7px,#bec4e5 28.7px 34.6px,#efb29c 35.6px 41.5px,#e8785e 42.5px 48.4px,#ea7c62 49.4px 55.3px,#f1bba4 56.3px 62.2px,#bacdf3 63.2px 69.1px,#6787ec 70.1px 76px,#3d50c4 77px 82.9px,#455bce 83.9px 89.8px,#7699f6 90.8px 96.7px,#b7cdf7 97.7px 103.6px,#d9ccd1 104.6px 110.5px,#d5c1c9 111.5px 117.4px,#b6c2e3 118.4px 124.3px,#7c9aee 125.3px 131.2px,#4b64d4 132.2px 138px,#475dcd 139px 144.9px,#738ee7 145.9px 151.8px,#bec4e5 152.8px 158.7px,#efb29c 159.7px 165.6px,#e8785e 166.6px 172.5px,#ea7c62 173.5px 179.4px,#f1bba4 180.4px 186.3px,#bacdf3 187.3px 193.2px,#6787ec 194.2px 200.1px,#3d50c4 201.1px 207px,#455bce 208px 213.9px,#7699f6 214.9px 220.8px,#b7cdf7 221.8px 227.7px,#d9ccd1 228.7px 234.6px,#d5c1c9 235.6px 241.5px,#d8d2d9 242.5px)"></i>
<i style="left:479px;top:45px;width:18px;height:248px;background:linear-gradient(#3f53c6 7px,#3e51c5 8px 13.9px,#6788ee 14.9px 20.8px,#bad0f8 21.8px 27.7px,#f5c0a7 28.7px 34.6px,#e8765c 35.6px 41.5px,#de614d 42.5px 48.4px,#f39778 49.4px 55.3px,#e2dad5 56.3px 62.2px,#90b2fe 63.2px 69.1px,#4f69d9 70.1px 76px,#3b4cc0 77px 82.9px,#4b64d5 83.9px 89.8px,#7295f4 90.8px 96.7px,#97b8ff 97.7px 103.6px,#a1c0ff 104.6px 110.5px,#88abfd 111.5px 117.4px,#5e7de7 118.4px 124.3px,#3f53c6 125.3px 131.2px,#3e51c5 132.2px 138px,#6788ee 139px 144.9px,#bad0f8 145.9px 151.8px,#f5c0a7 152.8px 158.7px,#e8765c 159.7px 165.6px,#de614d 166.6px 172.5px,#f39778 173.5px 179.4px,#e2dad5 180.4px 186.3px,#90b2fe 187.3px 193.2px,#4f69d9 194.2px 200.1px,#3b4cc0 201.1px 207px,#4b64d5 208px 213.9px,#7295f4 214.9px 220.8px,#97b8ff 221.8px 227.7px,#a1c0ff 228.7px 234.6px,#88abfd 235.6px 241.5px,#aec9fc 242.5px)"></i>
<i style="left:497px;top:45px;width:18px;height:248px;background:linear-gradient(#455cce 7px,#6a8bef 8px 13.9px,#a6c4fe 14.9px 20.8px,#e1dad6 21.8px 27.7px,#f7b89c 28.7px 34.6px,#f6a586 35.6px 41.5px,#f7b89c 42.5px 48.4px,#e0dbd8 49.4px 55.3px,#a6c4fe 56.3px 62.2px,#688aef 63.2px 69.1px,#455cce 70.1px 76px,#3b4cc0 77px 82.9px,#4055c8 83.9px 89.8px,#4b64d5 90.8px 96.7px,#516ddb 97.7px 103.6px,#4b64d5 104.6px 110.5px,#4055c8 111.5px 117.4px,#3b4cc0 118.4px 124.3px,#455cce 125.3px 131.2px,#6a8bef 132.2px 138px,#a6c4fe 139px 144.9px,#e1dad6 145.9px 151.8px,#f7b89c 152.8px 158.7px,#f6a586 159.7px 165.6px,#f7b89c 166.6px 172.5px,#e0dbd8 173.5px 179.4px,#a6c4fe 180.4px 186.3px,#688aef 187.3px 193.2px,#455cce 194.2px 200.1px,#3b4cc0 201.1px 207px,#4055c8 208px 213.9px,#4b64d5 214.9px 220.8px,#516ddb 221.8px 227.7px,#4b64d5 228.7px 234.6px,#4055c8 235.6px 241.5px,#97b8ff 242.5px)"></i>
<i style="left:515px;top:45px;width:1px;height:248px;background:linear-gradient(#5673e0 7px,#7698f6 8px 13.9px,#9fbfff 14.9px 20.8px,#c4d4f0 21.8px 27.7px,#d8d3d9 28.7px 34.6px,#dbcfd2 35.6px 41.5px,#d1cfde 42.5px 48.4px,#b7ccf5 49.4px 55.3px,#8fb0fd 56.3px 62.2px,#6688ed 63.2px 69.1px,#4d66d7 70.1px 76px,#4055c7 77px 82.9px,#3d50c3 83.9px 89.8px,#3f51c5 90.8px 96.7px,#4053c6 97.7px 103.6px,#3f51c5 104.6px 110.5px,#3e52c6 111.5px 117.4px,#455bcd 118.4px 124.3px,#5673e0 125.3px 131.2px,#7698f6 132.2px 138px,#9fbfff 139px 144.9px,#c4d4f0 145.9px 151.8px,#d8d3d9 152.8px 158.7px,#dbcfd2 159.7px 165.6px,#d1cfde 166.6px 172.5px,#b7ccf5 173.5px 179.4px,#8fb0fd 180.4px 186.3px,#6688ed 187.3px 193.2px,#4d66d7 194.2px 200.1px,#4055c7 201.1px 207px,#3d50c3 208px 213.9px,#3f51c5 214.9px 220.8px,#4053c6 221.8px 227.7px,#3f51c5 228.7px 234.6px,#3e52c6 235.6px 241.5px,#9fbeff 242.5px)"></i>
<i style="left:516px;top:45px;width:17px;height:248px;background:linear-gradient(#5b7ae5 7px,#799cf8 8px 13.9px,#9dbdff 14.9px 20.8px,#bcd2f7 21.8px 27.7px,#cfdaea 28.7px 34.6px,#d3dbe7 35.6px 41.5px,#c6d6f1 42.5px 48.4px,#abc8fd 49.4px 55.3px,#88abfd 56.3px 62.2px,#6687ed 63.2px 69.1px,#4f69d9 70.1px 76px,#4257c9 77px 82.9px,#3c4ec2 83.9px 89.8px,#3b4cc0 90.8px 110.5px,#3e51c5 111.5px 117.4px,#485fd1 118.4px 124.3px,#5b7ae5 125.3px 131.2px,#799cf8 132.2px 138px,#9dbdff 139px 144.9px,#bcd2f7 145.9px 151.8px,#cfdaea 152.8px 158.7px,#d3dbe7 159.7px 165.6px,#c6d6f1 166.6px 172.5px,#abc8fd 173.5px 179.4px,#88abfd 180.4px 186.3px,#6687ed 187.3px 193.2px,#4f69d9 194.2px 200.1px,#4257c9 201.1px 207px,#3c4ec2 208px 213.9px,#3b4cc0 214.9px 234.6px,#3e51c5 235.6px 241.5px,#a1c0ff 242.5px)"></i>
<i style="left:533px;top:45px;width:1px;height:248px;background:linear-gradient(#536fdd 7px,#6686eb 8px 13.9px,#7e9ef4 14.9px 20.8px,#95b2f6 21.8px 27.7px,#a7bff4 28.7px 34.6px,#b1c7f3 35.6px 41.5px,#b0c9f8 42.5px 48.4px,#a5c3fe 49.4px 55.3px,#91b2fe 56.3px 62.2px,#7a9bf6 63.2px 69.1px,#6685e9 70.1px 76px,#5672dd 77px 82.9px,#4c64d4 83.9px 89.8px,#465cce 90.8px 96.7px,#4257ca 97.7px 103.6px,#4156c8 104.6px 110.5px,#4257ca 111.5px 117.4px,#485fd1 118.4px 124.3px,#536fdd 125.3px 131.2px,#6686eb 132.2px 138px,#7e9ef4 139px 144.9px,#95b2f6 145.9px 151.8px,#a7bff4 152.8px 158.7px,#b1c7f3 159.7px 165.6px,#b0c9f8 166.6px 172.5px,#a5c3fe 173.5px 179.4px,#91b2fe 180.4px 186.3px,#7a9bf6 187.3px 193.2px,#6685e9 194.2px 200.1px,#5672dd 201.1px 207px,#4c64d4 208px 213.9px,#465cce 214.9px 220.8px,#4257ca 221.8px 227.7px,#4156c8 228.7px 234.6px,#4257ca 235.6px 241.5px,#a0bfff 242.5px)"></i>
<i style="left:534px;top:45px;width:17px;height:248px;background:linear-gradient(#4c66d6 7px,#5572df 8px 13.9px,#6282ea 14.9px 20.8px,#7396f5 21.8px 27.7px,#84a7fc 28.7px 34.6px,#93b5fe 35.6px 41.5px,#9dbdff 42.5px 48.4px,#9fbfff 49.4px 55.3px,#98b9ff 56.3px 62.2px,#8badfd 63.2px 69.1px,#7a9df8 70.1px 76px,#688aef 77px 82.9px,#5a78e4 83.9px 89.8px,#506bda 90.8px 96.7px,#4961d2 97.7px 103.6px,#465ecf 104.6px 110.5px,#455cce 111.5px 117.4px,#485fd1 118.4px 124.3px,#4c66d6 125.3px 131.2px,#5572df 132.2px 138px,#6282ea 139px 144.9px,#7396f5 145.9px 151.8px,#84a7fc 152.8px 158.7px,#93b5fe 159.7px 165.6px,#9dbdff 166.6px 172.5px,#9fbfff 173.5px 179.4px,#98b9ff 180.4px 186.3px,#8badfd 187.3px 193.2px,#7a9df8 194.2px 200.1px,#688aef 201.1px 207px,#5a78e4 208px 213.9px,#506bda 214.9px 220.8px,#4961d2 221.8px 227.7px,#465ecf 228.7px 234.6px,#455cce 235.6px 241.5px,#9fbfff 242.5px)"></i>
<i style="left:551px;top:45px;width:1px;height:248px;background:linear-gradient(#475fd0 7px,#4e67d6 8px 13.9px,#5875e0 14.9px 20.8px,#6788eb 21.8px 27.7px,#7a9cf6 28.7px 34.6px,#8eb0fd 35.6px 41.5px,#a0bfff 42.5px 48.4px,#aac6fb 49.4px 55.3px,#a9c3f8 56.3px 62.2px,#a0baf6 63.2px 69.1px,#90adf6 70.1px 76px,#7a9bf3 77px 82.9px,#6585eb 83.9px 89.8px,#5571de 90.8px 96.7px,#4962d2 97.7px 103.6px,#445bcc 104.6px 110.5px,#4257ca 111.5px 117.4px,#445acc 118.4px 124.3px,#475fd0 125.3px 131.2px,#4e67d6 132.2px 138px,#5875e0 139px 144.9px,#6788eb 145.9px 151.8px,#7a9cf6 152.8px 158.7px,#8eb0fd 159.7px 165.6px,#a0bfff 166.6px 172.5px,#aac6fb 173.5px 179.4px,#a9c3f8 180.4px 186.3px,#a0baf6 187.3px 193.2px,#90adf6 194.2px 200.1px,#7a9bf3 201.1px 207px,#6585eb 208px 213.9px,#5571de 214.9px 220.8px,#4962d2 221.8px 227.7px,#445bcc 228.7px 234.6px,#4257ca 235.6px 241.5px,#9dbdff 242.5px)"></i>
<i style="left:552px;top:45px;width:18px;height:248px;background:linear-gradient(#3b4cc0 13.9px,#3f53c6 14.9px 20.8px,#4a63d3 21.8px 27.7px,#5f7fe8 28.7px 34.6px,#81a4fb 35.6px 41.5px,#a6c4fe 42.5px 48.4px,#c5d6f2 49.4px 55.3px,#d5dbe5 56.3px 62.2px,#d6dce4 63.2px 69.1px,#c6d6f1 70.1px 76px,#a7c5fe 77px 82.9px,#82a6fb 83.9px 89.8px,#6180e9 90.8px 96.7px,#4a63d3 97.7px 103.6px,#3f53c6 104.6px 110.5px,#3b4cc0 111.5px 138px,#3f53c6 139px 144.9px,#4a63d3 145.9px 151.8px,#5f7fe8 152.8px 158.7px,#81a4fb 159.7px 165.6px,#a6c4fe 166.6px 172.5px,#c5d6f2 173.5px 179.4px,#d5dbe5 180.4px 186.3px,#d6dce4 187.3px 193.2px,#c6d6f1 194.2px 200.1px,#a7c5fe 201.1px 207px,#82a6fb 208px 213.9px,#6180e9 214.9px 220.8px,#4a63d3 221.8px 227.7px,#3f53c6 228.7px 234.6px,#3b4cc0 235.6px 241.5px,#97b8ff 242.5px)"></i>
<i style="left:570px;top:45px;width:18px;height:248px;background:linear-gradient(#506bda 7px,#445acc 8px 13.9px,#3b4cc0 14.9px 20.8px,#4055c8 21.8px 27.7px,#6180e9 28.7px 34.6px,#9dbdff 35.6px 41.5px,#dbdcde 42.5px 48.4px,#f7ba9f 49.4px 55.3px,#f59f80 56.3px 62.2px,#f7ad90 63.2px 69.1px,#ead4c8 70.1px 76px,#b3cdfb 77px 82.9px,#7295f4 83.9px 89.8px,#4961d2 90.8px 96.7px,#3b4cc0 97.7px 103.6px,#3f53c6 104.6px 110.5px,#4c66d6 111.5px 117.4px,#5470de 118.4px 124.3px,#506bda 125.3px 131.2px,#445acc 132.2px 138px,#3b4cc0 139px 144.9px,#4055c8 145.9px 151.8px,#6180e9 152.8px 158.7px,#9dbdff 159.7px 165.6px,#dbdcde 166.6px 172.5px,#f7ba9f 173.5px 179.4px,#f59f80 180.4px 186.3px,#f7ad90 187.3px 193.2px,#ead4c8 194.2px 200.1px,#b3cdfb 201.1px 207px,#7295f4 208px 213.9px,#4961d2 214.9px 220.8px,#3b4cc0 221.8px 227.7px,#3f53c6 228.7px 234.6px,#4c66d6 235.6px 241.5px,#a7c5fe 242.5px)"></i>
<i style="left:588px;top:45px;width:1px;height:248px;background:linear-gradient(#7495f3 7px,#4e69d8 8px 13.9px,#3b4cc0 14.9px 20.8px,#465dcf 21.8px 27.7px,#7b9ef7 28.7px 34.6px,#cbd5e8 35.6px 41.5px,#efad95 42.5px 48.4px,#e3745f 49.4px 55.3px,#e7765d 56.3px 62.2px,#f7b295 63.2px 69.1px,#ced6e8 70.1px 76px,#80a1f5 77px 82.9px,#4c64d2 83.9px 89.8px,#4054c6 90.8px 96.7px,#5470dd 97.7px 103.6px,#7898f1 104.6px 110.5px,#93b0f5 111.5px 117.4px,#91b0f8 118.4px 124.3px,#7495f3 125.3px 131.2px,#4e69d8 132.2px 138px,#3b4cc0 139px 144.9px,#465dcf 145.9px 151.8px,#7b9ef7 152.8px 158.7px,#cbd5e8 159.7px 165.6px,#efad95 166.6px 172.5px,#e3745f 173.5px 179.4px,#e7765d 180.4px 186.3px,#f7b295 187.3px 193.2px,#ced6e8 194.2px 200.1px,#80a1f5 201.1px 207px,#4c64d2 208px 213.9px,#4054c6 214.9px 220.8px,#5470dd 221.8px 227.7px,#7898f1 228.7px 234.6px,#93b0f5 235.6px 241.5px,#c6d6ee 242.5px)"></i>
<i style="left:589px;top:45px;width:17px;height:248px;background:linear-gradient(#7ea1fa 7px,#516ddb 8px 13.9px,#3b4cc0 14.9px 20.8px,#485fd1 21.8px 27.7px,#82a6fb 28.7px 34.6px,#d8dce2 35.6px 41.5px,#f5a081 42.5px 48.4px,#de614d 49.4px 55.3px,#e36b54 56.3px 62.2px,#f7b396 63.2px 69.1px,#c6d6f1 70.1px 76px,#7295f4 77px 82.9px,#4257c9 83.9px 89.8px,#3d50c3 90.8px 96.7px,#5b7ae5 97.7px 103.6px,#88abfd 104.6px 110.5px,#a6c4fe 111.5px 117.4px,#a2c1ff 118.4px 124.3px,#7ea1fa 125.3px 131.2px,#516ddb 132.2px 138px,#3b4cc0 139px 144.9px,#485fd1 145.9px 151.8px,#82a6fb 152.8px 158.7px,#d8dce2 159.7px 165.6px,#f5a081 166.6px 172.5px,#de614d 173.5px 179.4px,#e36b54 180.4px 186.3px,#f7b396 187.3px 193.2px,#c6d6f1 194.2px 200.1px,#7295f4 201.1px 207px,#4257c9 208px 213.9px,#3d50c3 214.9px 220.8px,#5b7ae5 221.8px 227.7px,#88abfd 228.7px 234.6px,#a6c4fe 235.6px 241.5px,#cfdaea 242.5px)"></i>
<i style="left:606px;top:45px;width:1px;height:248px;background:linear-gradient(#82a5fb 7px,#4d67d6 8px 13.9px,#3c4dc1 14.9px 20.8px,#5773e0 21.8px 27.7px,#a1bdf9 28.7px 34.6px,#e9cbbf 35.6px 41.5px,#ef8b6e 42.5px 48.4px,#e46f57 49.4px 55.3px,#ed9981 56.3px 62.2px,#d4c1cc 63.2px 69.1px,#8fa7ec 70.1px 76px,#546ed8 77px 82.9px,#475ecf 83.9px 89.8px,#6783e3 90.8px 96.7px,#9daee5 97.7px 103.6px,#c2bad4 104.6px 110.5px,#cfc6d5 111.5px 117.4px,#bbcef3 118.4px 124.3px,#82a5fb 125.3px 131.2px,#4d67d6 132.2px 138px,#3c4dc1 139px 144.9px,#5773e0 145.9px 151.8px,#a1bdf9 152.8px 158.7px,#e9cbbf 159.7px 165.6px,#ef8b6e 166.6px 172.5px,#e46f57 173.5px 179.4px,#ed9981 180.4px 186.3px,#d4c1cc 187.3px 193.2px,#8fa7ec 194.2px 200.1px,#546ed8 201.1px 207px,#475ecf 208px 213.9px,#6783e3 214.9px 220.8px,#9daee5 221.8px 227.7px,#c2bad4 228.7px 234.6px,#cfc6d5 235.6px 241.5px,#dad9dd 242.5px)"></i>
<i style="left:607px;top:45px;width:17px;height:248px;background:linear-gradient(#86a9fc 7px,#4961d2 8px 13.9px,#3c4ec2 14.9px 20.8px,#6485ec 21.8px 27.7px,#bbd1f8 28.7px 34.6px,#f7bca1 35.6px 41.5px,#e9785d 42.5px 48.4px,#ea7b60 49.4px 55.3px,#f5c0a7 56.3px 62.2px,#b5cdfa 63.2px 69.1px,#5f7fe8 70.1px 76px,#3b4cc0 77px 82.9px,#4b64d5 83.9px 89.8px,#8caffe 90.8px 96.7px,#d5dbe5 97.7px 103.6px,#f3c7b1 104.6px 110.5px,#f3c8b2 111.5px 117.4px,#d1dae9 118.4px 124.3px,#86a9fc 125.3px 131.2px,#4961d2 132.2px 138px,#3c4ec2 139px 144.9px,#6485ec 145.9px 151.8px,#bbd1f8 152.8px 158.7px,#f7bca1 159.7px 165.6px,#e9785d 166.6px 172.5px,#ea7b60 173.5px 179.4px,#f5c0a7 180.4px 186.3px,#b5cdfa 187.3px 193.2px,#5f7fe8 194.2px 200.1px,#3b4cc0 201.1px 207px,#4b64d5 208px 213.9px,#8caffe 214.9px 220.8px,#d5dbe5 221.8px 227.7px,#f3c7b1 228.7px 234.6px,#f3c8b2 235.6px 241.5px,#e4d9d2 242.5px)"></i>
<i style="left:624px;top:45px;width:1px;height:248px;background:linear-gradient(#7b9df7 7px,#455bcd 8px 13.9px,#4054c7 14.9px 20.8px,#6f90f1 21.8px 27.7px,#c2d4f3 28.7px 34.6px,#f6c0a6 35.6px 41.5px,#ec9077 42.5px 48.4px,#e29688 49.4px 55.3px,#d4b9c0 56.3px 62.2px,#96adee 63.2px 69.1px,#5571dd 70.1px 76px,#475dcd 77px 82.9px,#6d84df 83.9px 89.8px,#abb1e1 90.8px 96.7px,#dabcbc 97.7px 103.6px,#f0af98 104.6px 110.5px,#f4c5ad 111.5px 117.4px,#cad7ee 118.4px 124.3px,#7b9df7 125.3px 131.2px,#455bcd 132.2px 138px,#4054c7 139px 144.9px,#6f90f1 145.9px 151.8px,#c2d4f3 152.8px 158.7px,#f6c0a6 159.7px 165.6px,#ec9077 166.6px 172.5px,#e29688 173.5px 179.4px,#d4b9c0 180.4px 186.3px,#96adee 187.3px 193.2px,#5571dd 194.2px 200.1px,#475dcd 201.1px 207px,#6d84df 208px 213.9px,#abb1e1 214.9px 220.8px,#dabcbc 221.8px 227.7px,#f0af98 228.7px 234.6px,#f4c5ad 235.6px 241.5px,#e1dad6 242.5px)"></i>
<i style="left:625px;top:45px;width:18px;height:248px;background:linear-gradient(#6180e9 7px,#3b4cc0 8px 13.9px,#4b64d5 14.9px 20.8px,#89acfd 21.8px 27.7px,#d3dbe7 28.7px 34.6px,#f2c9b4 35.6px 41.5px,#f2cbb7 42.5px 48.4px,#cedaeb 49.4px 55.3px,#84a7fc 56.3px 62.2px,#485fd1 63.2px 69.1px,#3c4ec2 70.1px 76px,#6687ed 77px 82.9px,#bfd3f6 83.9px 89.8px,#f7b79b 90.8px 96.7px,#e57058 97.7px 103.6px,#e7745b 104.6px 110.5px,#f7bca1 111.5px 117.4px,#b9d0f9 118.4px 124.3px,#6180e9 125.3px 131.2px,#3b4cc0 132.2px 138px,#4b64d5 139px 144.9px,#89acfd 145.9px 151.8px,#d3dbe7 152.8px 158.7px,#f2c9b4 159.7px 165.6px,#f2cbb7 166.6px 172.5px,#cedaeb 173.5px 179.4px,#84a7fc 180.4px 186.3px,#485fd1 187.3px 193.2px,#3c4ec2 194.2px 200.1px,#6687ed 201.1px 207px,#bfd3f6 208px 213.9px,#f7b79b 214.9px 220.8px,#e57058 221.8px 227.7px,#e7745b 228.7px 234.6px,#f7bca1 235.6px 241.5px,#d9dce1 242.5px)"></i>
<i style="left:643px;top:45px;width:18px;height:248px;background:linear-gradient(#4257c9 7px,#3d50c3 8px 13.9px,#5a78e4 14.9px 20.8px,#86a9fc 21.8px 27.7px,#a3c2fe 28.7px 34.6px,#9fbfff 35.6px 41.5px,#7b9ff9 42.5px 48.4px,#506bda 49.4px 55.3px,#3b4cc0 56.3px 62.2px,#4a63d3 63.2px 69.1px,#88abfd 70.1px 76px,#dddcdc 77px 82.9px,#f39778 83.9px 89.8px,#d65244 90.8px 96.7px,#dc5d4a 97.7px 103.6px,#f7ac8e 104.6px 110.5px,#cad8ef 111.5px 117.4px,#7597f6 118.4px 124.3px,#4257c9 125.3px 131.2px,#3d50c3 132.2px 138px,#5a78e4 139px 144.9px,#86a9fc 145.9px 151.8px,#a3c2fe 152.8px 158.7px,#9fbfff 159.7px 165.6px,#7b9ff9 166.6px 172.5px,#506bda 173.5px 179.4px,#3b4cc0 180.4px 186.3px,#4a63d3 187.3px 193.2px,#88abfd 194.2px 200.1px,#dddcdc 201.1px 207px,#f39778 208px 213.9px,#d65244 214.9px 220.8px,#dc5d4a 221.8px 227.7px,#f7ac8e 228.7px 234.6px,#cad8ef 235.6px 241.5px,#b9d0f9 242.5px)"></i>
<i style="left:661px;top:45px;width:1px;height:248px;background:linear-gradient(#3c4ec2 7px,#3f52c5 8px 13.9px,#4e68d8 14.9px 20.8px,#5e7ae3 21.8px 27.7px,#607be0 28.7px 34.6px,#556dd4 35.6px 41.5px,#485dcc 42.5px 48.4px,#465cce 49.4px 55.3px,#5b79e3 56.3px 62.2px,#90adf6 63.2px 69.1px,#ced0de 70.1px 76px,#f2baa3 77px 82.9px,#f39577 83.9px 89.8px,#ef9478 90.8px 96.7px,#e9b9a9 97.7px 103.6px,#c4c8e3 104.6px 110.5px,#87a5f5 111.5px 117.4px,#526cda 118.4px 124.3px,#3c4ec2 125.3px 131.2px,#3f52c5 132.2px 138px,#4e68d8 139px 144.9px,#5e7ae3 145.9px 151.8px,#607be0 152.8px 158.7px,#556dd4 159.7px 165.6px,#485dcc 166.6px 172.5px,#465cce 173.5px 179.4px,#5b79e3 180.4px 186.3px,#90adf6 187.3px 193.2px,#ced0de 194.2px 200.1px,#f2baa3 201.1px 207px,#f39577 208px 213.9px,#ef9478 214.9px 220.8px,#e9b9a9 221.8px 227.7px,#c4c8e3 228.7px 234.6px,#87a5f5 235.6px 241.5px,#a6c3fe 242.5px)"></i>
<i style="left:662px;top:45px;width:17px;height:248px;background:linear-gradient(#3b4cc0 7px,#3f53c6 8px 13.9px,#4b64d5 14.9px 20.8px,#536edd 21.8px 27.7px,#4e68d8 28.7px 34.6px,#4257c9 35.6px 41.5px,#3b4cc0 42.5px 48.4px,#4358cb 49.4px 55.3px,#6485ec 56.3px 62.2px,#a2c1ff 63.2px 69.1px,#e1dad6 70.1px 76px,#f7b194 77px 82.9px,#f39577 83.9px 89.8px,#f6a586 90.8px 96.7px,#edd1c2 97.7px 103.6px,#b7cff9 104.6px 110.5px,#7597f6 111.5px 117.4px,#4961d2 118.4px 124.3px,#3b4cc0 125.3px 131.2px,#3f53c6 132.2px 138px,#4b64d5 139px 144.9px,#536edd 145.9px 151.8px,#4e68d8 152.8px 158.7px,#4257c9 159.7px 165.6px,#3b4cc0 166.6px 172.5px,#4358cb 173.5px 179.4px,#6485ec 180.4px 186.3px,#a2c1ff 187.3px 193.2px,#e1dad6 194.2px 200.1px,#f7b194 201.1px 207px,#f39577 208px 213.9px,#f6a586 214.9px 220.8px,#edd1c2 221.8px 227.7px,#b7cff9 228.7px 234.6px,#7597f6 235.6px 241.5px,#a1c0ff 242.5px)"></i>
<i style="left:679px;top:45px;width:1px;height:248px;background:linear-gradient(#3c4dc1 7px,#3d4fc3 8px 13.9px,#4257ca 14.9px 20.8px,#475dce 21.8px 27.7px,#465ecf 28.7px 34.6px,#4960d1 35.6px 41.5px,#516bd8 42.5px 48.4px,#6885e6 49.4px 55.3px,#8caaf5 56.3px 62.2px,#b8cdf6 63.2px 69.1px,#dddbdb 70.1px 76px,#e7c8be 77px 82.9px,#dcb9b9 83.9px 89.8px,#cdb7c7 90.8px 96.7px,#b4bae1 97.7px 103.6px,#89a5f1 104.6px 110.5px,#5e7be4 111.5px 117.4px,#4459cb 118.4px 124.3px,#3c4dc1 125.3px 131.2px,#3d4fc3 132.2px 138px,#4257ca 139px 144.9px,#475dce 145.9px 151.8px,#465ecf 152.8px 158.7px,#4960d1 159.7px 165.6px,#516bd8 166.6px 172.5px,#6885e6 173.5px 179.4px,#8caaf5 180.4px 186.3px,#b8cdf6 187.3px 193.2px,#dddbdb 194.2px 200.1px,#e7c8be 201.1px 207px,#dcb9b9 208px 213.9px,#cdb7c7 214.9px 220.8px,#b4bae1 221.8px 227.7px,#89a5f1 228.7px 234.6px,#5e7be4 235.6px 241.5px,#9ebeff 242.5px)"></i>
<i style="left:680px;top:45px;width:17px;height:248px;background:linear-gradient(#3c4ec2 7px,#3b4cc0 8px 20.8px,#3c4ec2 21.8px 27.7px,#4055c8 28.7px 34.6px,#4e68d8 35.6px 41.5px,#6485ec 42.5px 48.4px,#88abfd 49.4px 55.3px,#aec9fc 56.3px 62.2px,#cbd8ee 63.2px 69.1px,#dadce0 70.1px 76px,#d9dce1 77px 82.9px,#c9d7f0 83.9px 89.8px,#aac7fd 90.8px 96.7px,#84a7fc 97.7px 103.6px,#6282ea 104.6px 110.5px,#4b64d5 111.5px 117.4px,#3f53c6 118.4px 124.3px,#3c4ec2 125.3px 131.2px,#3b4cc0 132.2px 144.9px,#3c4ec2 145.9px 151.8px,#4055c8 152.8px 158.7px,#4e68d8 159.7px 165.6px,#6485ec 166.6px 172.5px,#88abfd 173.5px 179.4px,#aec9fc 180.4px 186.3px,#cbd8ee 187.3px 193.2px,#dadce0 194.2px 200.1px,#d9dce1 201.1px 207px,#c9d7f0 208px 213.9px,#aac7fd 214.9px 220.8px,#84a7fc 221.8px 227.7px,#6282ea 228.7px 234.6px,#4b64d5 235.6px 241.5px,#9bbcff 242.5px)"></i>
<i style="left:697px;top:45px;width:1px;height:248px;background:linear-gradient(#4257c9 7px,#445acb 8px 13.9px,#495fce 14.9px 20.8px,#4f66d2 21.8px 27.7px,#5770d8 28.7px 34.6px,#6681e3 35.6px 41.5px,#7798f1 42.5px 48.4px,#91b2fd 49.4px 55.3px,#a9c5fd 56.3px 62.2px,#b9ccf3 63.2px 69.1px,#bec9e7 70.1px 76px,#b8c4e5 77px 82.9px,#a8bbec 83.9px 89.8px,#8fabf2 90.8px 96.7px,#7392f0 97.7px 103.6px,#5a77e2 104.6px 110.5px,#4a62d3 111.5px 117.4px,#4258ca 118.4px 124.3px,#4257c9 125.3px 131.2px,#445acb 132.2px 138px,#495fce 139px 144.9px,#4f66d2 145.9px 151.8px,#5770d8 152.8px 158.7px,#6681e3 159.7px 165.6px,#7798f1 166.6px 172.5px,#91b2fd 173.5px 179.4px,#a9c5fd 180.4px 186.3px,#b9ccf3 187.3px 193.2px,#bec9e7 194.2px 200.1px,#b8c4e5 201.1px 207px,#a8bbec 208px 213.9px,#8fabf2 214.9px 220.8px,#7392f0 221.8px 227.7px,#5a77e2 228.7px 234.6px,#4a62d3 235.6px 241.5px,#9dbdff 242.5px)"></i>
<i style="left:698px;top:45px;width:18px;height:248px;background:linear-gradient(#506bda 7px,#5b7ae5 8px 13.9px,#6a8bef 14.9px 20.8px,#7da0f9 21.8px 27.7px,#8fb1fe 28.7px 34.6px,#9ebeff 35.6px 41.5px,#a6c4fe 42.5px 55.3px,#9dbdff 56.3px 62.2px,#8db0fe 63.2px 69.1px,#7a9df8 70.1px 76px,#688aef 77px 82.9px,#5977e3 83.9px 89.8px,#4f69d9 90.8px 96.7px,#4961d2 97.7px 103.6px,#465ecf 104.6px 117.4px,#4a63d3 118.4px 124.3px,#506bda 125.3px 131.2px,#5b7ae5 132.2px 138px,#6a8bef 139px 144.9px,#7da0f9 145.9px 151.8px,#8fb1fe 152.8px 158.7px,#9ebeff 159.7px 165.6px,#a6c4fe 166.6px 179.4px,#9dbdff 180.4px 186.3px,#8db0fe 187.3px 193.2px,#7a9df8 194.2px 200.1px,#688aef 201.1px 207px,#5977e3 208px 213.9px,#4f69d9 214.9px 220.8px,#4961d2 221.8px 227.7px,#465ecf 228.7px 241.5px,#a1c0ff 242.5px)"></i>
<i style="left:716px;top:45px;width:18px;height:248px;background:linear-gradient(#aac7fd 7px,#ccd9ed 8px 13.9px,#dddcdc 14.9px 20.8px,#dfdbd9 21.8px 27.7px,#d2dbe8 28.7px 34.6px,#b3cdfb 35.6px 41.5px,#8caffe 42.5px 48.4px,#6788ee 49.4px 55.3px,#4e68d8 56.3px 62.2px,#4055c8 63.2px 69.1px,#3b4cc0 70.1px 96.7px,#3e51c5 97.7px 103.6px,#4a63d3 104.6px 110.5px,#6180e9 111.5px 117.4px,#84a7fc 118.4px 124.3px,#adc9fd 125.3px 131.2px,#cdd9ec 132.2px 138px,#dedcdb 139px 144.9px,#e0dbd8 145.9px 151.8px,#d2dbe8 152.8px 158.7px,#b3cdfb 159.7px 165.6px,#8caffe 166.6px 172.5px,#6788ee 173.5px 179.4px,#4e68d8 180.4px 186.3px,#4055c8 187.3px 193.2px,#3b4cc0 194.2px 220.8px,#3e51c5 221.8px 227.7px,#4961d2 228.7px 234.6px,#5f7fe8 235.6px 241.5px,#c0d4f5 242.5px)"></i>
<i style="left:734px;top:45px;width:1px;height:248px;background:linear-gradient(#e7aa9c 7px,#e99a86 8px 13.9px,#f1af97 14.9px 20.8px,#e8d5cb 21.8px 27.7px,#b5cdf8 28.7px 34.6px,#7a9af2 35.6px 41.5px,#536bd6 42.5px 48.4px,#4458c9 49.4px 55.3px,#455bce 56.3px 62.2px,#4d67d6 63.2px 69.1px,#516bda 70.1px 76px,#4b63d4 77px 82.9px,#4155c7 83.9px 89.8px,#3b4cc0 90.8px 96.7px,#445acc 97.7px 103.6px,#6889ed 104.6px 110.5px,#a6bff6 111.5px 117.4px,#dcc4c5 118.4px 124.3px,#e59f91 125.3px 131.2px,#e5907e 132.2px 138px,#f0ab92 139px 144.9px,#e9d5ca 145.9px 151.8px,#b5cdf8 152.8px 158.7px,#7a9af2 159.7px 165.6px,#536bd6 166.6px 172.5px,#4458c9 173.5px 179.4px,#455bce 180.4px 186.3px,#4d67d6 187.3px 193.2px,#516bda 194.2px 200.1px,#4b63d4 201.1px 207px,#4155c7 208px 213.9px,#3b4cc0 214.9px 220.8px,#445acc 221.8px 227.7px,#6686ec 228.7px 234.6px,#a0bcf8 235.6px 241.5px,#e7cec6 242.5px)"></i>
<i style="left:735px;top:45px;width:17px;height:248px;background:linear-gradient(#f6a283 7px,#f08a6c 8px 13.9px,#f6a385 14.9px 20.8px,#ead4c8 21.8px 27.7px,#aec9fc 28.7px 34.6px,#6b8df0 35.6px 41.5px,#445acc 42.5px 48.4px,#3b4cc0 49.4px 55.3px,#4358cb 56.3px 62.2px,#506bda 63.2px 69.1px,#5673e0 70.1px 76px,#4f69d9 77px 82.9px,#4257c9 83.9px 89.8px,#3b4cc0 90.8px 96.7px,#455cce 97.7px 103.6px,#7093f3 104.6px 110.5px,#b7cff9 111.5px 117.4px,#f2cbb7 118.4px 124.3px,#f39475 125.3px 131.2px,#eb7d62 132.2px 138px,#f59f80 139px 144.9px,#ebd3c6 145.9px 151.8px,#aec9fc 152.8px 158.7px,#6b8df0 159.7px 165.6px,#445acc 166.6px 172.5px,#3b4cc0 173.5px 179.4px,#4358cb 180.4px 186.3px,#506bda 187.3px 193.2px,#5673e0 194.2px 200.1px,#4f69d9 201.1px 207px,#4257c9 208px 213.9px,#3b4cc0 214.9px 220.8px,#455cce 221.8px 227.7px,#6e90f2 228.7px 234.6px,#b1cbfc 235.6px 241.5px,#f1cdba 242.5px)"></i>
<i style="left:752px;top:45px;width:1px;height:248px;background:linear-gradient(#de6b5a 7px,#ee8568 8px 13.9px,#efbeaa 14.9px 20.8px,#bbc4e6 21.8px 27.7px,#7a94e9 28.7px 34.6px,#5169d6 35.6px 41.5px,#4962d3 42.5px 48.4px,#5e7adf 49.4px 55.3px,#7993e7 56.3px 62.2px,#849fed 63.2px 69.1px,#7797f0 70.1px 76px,#5a78e3 77px 82.9px,#4156c8 83.9px 89.8px,#3d4fc3 90.8px 96.7px,#5a78e1 97.7px 103.6px,#a1b8f1 104.6px 110.5px,#d9b4b6 111.5px 117.4px,#d7736d 118.4px 124.3px,#d0454a 125.3px 131.2px,#e8765d 132.2px 138px,#f0bca6 139px 144.9px,#bcc4e5 145.9px 151.8px,#7a94e9 152.8px 158.7px,#5169d6 159.7px 165.6px,#4962d3 166.6px 172.5px,#5e7adf 173.5px 179.4px,#7993e7 180.4px 186.3px,#849fed 187.3px 193.2px,#7797f0 194.2px 200.1px,#5a78e3 201.1px 207px,#4156c8 208px 213.9px,#3d4fc3 214.9px 220.8px,#5976e0 221.8px 227.7px,#9cb5f3 228.7px 234.6px,#d7bdc3 235.6px 241.5px,#f2ad94 242.5px)"></i>
<i style="left:753px;top:45px;width:17px;height:248px;background:linear-gradient(#cb3e38 7px,#ec8165 8px 13.9px,#ead5c9 14.9px 20.8px,#94b6ff 21.8px 27.7px,#4f69d9 28.7px 34.6px,#3b4cc0 35.6px 41.5px,#4e68d8 42.5px 48.4px,#7b9ff9 49.4px 55.3px,#a5c3fe 56.3px 62.2px,#aec9fc 63.2px 69.1px,#93b5fe 70.1px 76px,#6384eb 77px 82.9px,#4055c8 83.9px 89.8px,#3e51c5 90.8px 96.7px,#6c8ff1 97.7px 103.6px,#c9d7f0 104.6px 110.5px,#f59d7e 111.5px 117.4px,#c12b30 118.4px 124.3px,#b40426 125.3px 131.2px,#e57058 132.2px 138px,#ecd3c5 139px 144.9px,#96b7ff 145.9px 151.8px,#4f69d9 152.8px 158.7px,#3b4cc0 159.7px 165.6px,#4e68d8 166.6px 172.5px,#7b9ff9 173.5px 179.4px,#a5c3fe 180.4px 186.3px,#aec9fc 187.3px 193.2px,#93b5fe 194.2px 200.1px,#6384eb 201.1px 207px,#4055c8 208px 213.9px,#3e51c5 214.9px 220.8px,#6a8bef 221.8px 227.7px,#c1d4f4 228.7px 234.6px,#f7b194 235.6px 241.5px,#f29274 242.5px)"></i>
<i style="left:113px;top:365px;width:19px;height:248px;background:linear-gradient(#ed8366 7px,#d6dce4 8px 13.9px,#6c8ff1 14.9px 20.8px,#3b4cc0 21.8px 27.7px,#536edd 28.7px 34.6px,#b1cbfc 35.6px 41.5px,#f7af91 42.5px 48.4px,#c83836 49.4px 55.3px,#b8122a 56.3px 62.2px,#ed8366 63.2px 69.1px,#d6dce4 70.1px 76px,#6c8ff1 77px 82.9px,#3b4cc0 83.9px 89.8px,#536edd 90.8px 96.7px,#b1cbfc 97.7px 103.6px,#f7af91 104.6px 110.5px,#c83836 111.5px 117.4px,#b8122a 118.4px 124.3px,#ed8366 125.3px 131.2px,#d6dce4 132.2px 138px,#6c8ff1 139px 144.9px,#3b4cc0 145.9px 151.8px,#536edd 152.8px 158.7px,#b1cbfc 159.7px 165.6px,#f7af91 166.6px 172.5px,#c83836 173.5px 179.4px,#b8122a 180.4px 186.3px,#ed8366 187.3px 193.2px,#d6dce4 194.2px 200.1px,#6c8ff1 201.1px 207px,#3b4cc0 208px 213.9px,#536edd 214.9px 220.8px,#b1cbfc 221.8px 227.7px,#f7af91 228.7px 234.6px,#c83836 235.6px 241.5px,#b8122a 242.5px)"></i>
<i style="left:132px;top:365px;width:18px;height:248px;background:linear-gradient(#d5dbe5 7px,#6c8ff1 8px 13.9px,#3b4cc0 14.9px 20.8px,#516ddb 21.8px 27.7px,#aec9fc 28.7px 34.6px,#f7b194 35.6px 41.5px,#cc403a 42.5px 48.4px,#bd1f2d 49.4px 55.3px,#ee8669 56.3px 62.2px,#d5dbe5 63.2px 69.1px,#6c8ff1 70.1px 76px,#3b4cc0 77px 82.9px,#516ddb 83.9px 89.8px,#aec9fc 90.8px 96.7px,#f7b194 97.7px 103.6px,#cc403a 104.6px 110.5px,#bd1f2d 111.5px 117.4px,#ee8669 118.4px 124.3px,#d5dbe5 125.3px 131.2px,#6c8ff1 132.2px 138px,#3b4cc0 139px 144.9px,#516ddb 145.9px 151.8px,#aec9fc 152.8px 158.7px,#f7b194 159.7px 165.6px,#cc403a 166.6px 172.5px,#bd1f2d 173.5px 179.4px,#ee8669 180.4px 186.3px,#d5dbe5 187.3px 193.2px,#6c8ff1 194.2px 200.1px,#3b4cc0 201.1px 207px,#516ddb 208px 213.9px,#aec9fc 214.9px 220.8px,#f7b194 221.8px 227.7px,#cc403a 228.7px 234.6px,#bd1f2d 235.6px 241.5px,#ee8669 242.5px)"></i>
<i style="left:150px;top:365px;width:1px;height:248px;background:linear-gradient(#819ceb 7px,#485ece 8px 13.9px,#465cce 14.9px 20.8px,#7d9ff5 21.8px 27.7px,#d2d7e3 28.7px 34.6px,#f7ab8d 35.6px 41.5px,#e98068 42.5px 48.4px,#e79a8b 49.4px 55.3px,#c8bed5 56.3px 62.2px,#819ceb 63.2px 69.1px,#485ece 70.1px 76px,#465cce 77px 82.9px,#7d9ff5 83.9px 89.8px,#d2d7e3 90.8px 96.7px,#f7ab8d 97.7px 103.6px,#e98068 104.6px 110.5px,#e79a8b 111.5px 117.4px,#c8bed5 118.4px 124.3px,#819ceb 125.3px 131.2px,#485ece 132.2px 138px,#465cce 139px 144.9px,#7d9ff5 145.9px 151.8px,#d2d7e3 152.8px 158.7px,#f7ab8d 159.7px 165.6px,#e98068 166.6px 172.5px,#e79a8b 173.5px 179.4px,#c8bed5 180.4px 186.3px,#819ceb 187.3px 193.2px,#485ece 194.2px 200.1px,#465cce 201.1px 207px,#7d9ff5 208px 213.9px,#d2d7e3 214.9px 220.8px,#f7ab8d 221.8px 227.7px,#e98068 228.7px 234.6px,#e79a8b 235.6px 241.5px,#c8bed5 242.5px)"></i>
<i style="left:151px;top:365px;width:17px;height:248px;background:linear-gradient(#6687ed 7px,#3c4ec2 8px 13.9px,#4961d2 14.9px 20.8px,#8caffe 21.8px 27.7px,#dedcdb 28.7px 34.6px,#f7a98b 35.6px 41.5px,#f39577 42.5px 48.4px,#f5c2aa 49.4px 55.3px,#bbd1f8 56.3px 62.2px,#6687ed 63.2px 69.1px,#3c4ec2 70.1px 76px,#4961d2 77px 82.9px,#8caffe 83.9px 89.8px,#dedcdb 90.8px 96.7px,#f7a98b 97.7px 103.6px,#f39577 104.6px 110.5px,#f5c2aa 111.5px 117.4px,#bbd1f8 118.4px 124.3px,#6687ed 125.3px 131.2px,#3c4ec2 132.2px 138px,#4961d2 139px 144.9px,#8caffe 145.9px 151.8px,#dedcdb 152.8px 158.7px,#f7a98b 159.7px 165.6px,#f39577 166.6px 172.5px,#f5c2aa 173.5px 179.4px,#bbd1f8 180.4px 186.3px,#6687ed 187.3px 193.2px,#3c4ec2 194.2px 200.1px,#4961d2 201.1px 207px,#8caffe 208px 213.9px,#dedcdb 214.9px 220.8px,#f7a98b 221.8px 227.7px,#f39577 228.7px 234.6px,#f5c2aa 235.6px 241.5px,#bbd1f8 242.5px)"></i>
<i style="left:168px;top:365px;width:1px;height:248px;background:linear-gradient(#526cd9 7px,#3d50c4 8px 13.9px,#526edc 14.9px 20.8px,#8db0fe 21.8px 27.7px,#ccd6ea 28.7px 34.6px,#e0c1bd 35.6px 41.5px,#d6b3b8 42.5px 48.4px,#c1b9d4 49.4px 55.3px,#8ba5ee 56.3px 62.2px,#526cd9 63.2px 69.1px,#3d50c4 70.1px 76px,#526edc 77px 82.9px,#8db0fe 83.9px 89.8px,#ccd6ea 90.8px 96.7px,#e0c1bd 97.7px 103.6px,#d6b3b8 104.6px 110.5px,#c1b9d4 111.5px 117.4px,#8ba5ee 118.4px 124.3px,#526cd9 125.3px 131.2px,#3d50c4 132.2px 138px,#526edc 139px 144.9px,#8db0fe 145.9px 151.8px,#ccd6ea 152.8px 158.7px,#e0c1bd 159.7px 165.6px,#d6b3b8 166.6px 172.5px,#c1b9d4 173.5px 179.4px,#8ba5ee 180.4px 186.3px,#526cd9 187.3px 193.2px,#3d50c4 194.2px 200.1px,#526edc 201.1px 207px,#8db0fe 208px 213.9px,#ccd6ea 214.9px 220.8px,#e0c1bd 221.8px 227.7px,#d6b3b8 228.7px 234.6px,#c1b9d4 235.6px 241.5px,#8ba5ee 242.5px)"></i>
<i style="left:169px;top:365px;width:17px;height:248px;background:linear-gradient(#3e51c5 13.9px,#5b7ae5 14.9px 20.8px,#8db0fe 21.8px 27.7px,#bad0f8 28.7px 34.6px,#cad8ef 35.6px 41.5px,#bad0f8 42.5px 48.4px,#8db0fe 49.4px 55.3px,#5b7ae5 56.3px 62.2px,#3e51c5 63.2px 76px,#5b7ae5 77px 82.9px,#8db0fe 83.9px 89.8px,#bad0f8 90.8px 96.7px,#cad8ef 97.7px 103.6px,#bad0f8 104.6px 110.5px,#8db0fe 111.5px 117.4px,#5b7ae5 118.4px 124.3px,#3e51c5 125.3px 138px,#5b7ae5 139px 144.9px,#8db0fe 145.9px 151.8px,#bad0f8 152.8px 158.7px,#cad8ef 159.7px 165.6px,#bad0f8 166.6px 172.5px,#8db0fe 173.5px 179.4px,#5b7ae5 180.4px 186.3px,#3e51c5 187.3px 200.1px,#5b7ae5 201.1px 207px,#8db0fe 208px 213.9px,#bad0f8 214.9px 220.8px,#cad8ef 221.8px 227.7px,#bad0f8 228.7px 234.6px,#8db0fe 235.6px 241.5px,#5b7ae5 242.5px)"></i>
<i style="left:186px;top:365px;width:1px;height:248px;background:linear-gradient(#3d50c4 7px,#3e51c4 8px 13.9px,#5674e0 14.9px 20.8px,#80a1f7 21.8px 27.7px,#a5bdf5 28.7px 34.6px,#b1c4ef 35.6px 41.5px,#a3bbf4 42.5px 48.4px,#7d9ef5 49.4px 55.3px,#5571de 56.3px 62.2px,#3d50c4 63.2px 69.1px,#3e51c4 70.1px 76px,#5674e0 77px 82.9px,#80a1f7 83.9px 89.8px,#a5bdf5 90.8px 96.7px,#b1c4ef 97.7px 103.6px,#a3bbf4 104.6px 110.5px,#7d9ef5 111.5px 117.4px,#5571de 118.4px 124.3px,#3d50c4 125.3px 131.2px,#3e51c4 132.2px 138px,#5674e0 139px 144.9px,#80a1f7 145.9px 151.8px,#a5bdf5 152.8px 158.7px,#b1c4ef 159.7px 165.6px,#a3bbf4 166.6px 172.5px,#7d9ef5 173.5px 179.4px,#5571de 180.4px 186.3px,#3d50c4 187.3px 193.2px,#3e51c4 194.2px 200.1px,#5674e0 201.1px 207px,#80a1f7 208px 213.9px,#a5bdf5 214.9px 220.8px,#b1c4ef 221.8px 227.7px,#a3bbf4 228.7px 234.6px,#7d9ef5 235.6px 241.5px,#5571de 242.5px)"></i>
<i style="left:187px;top:365px;width:18px;height:248px;background:linear-gradient(#3b4cc0 7px,#3d50c3 8px 13.9px,#4961d2 14.9px 20.8px,#5977e3 21.8px 27.7px,#6687ed 28.7px 34.6px,#688aef 35.6px 41.5px,#5f7fe8 42.5px 48.4px,#506bda 49.4px 55.3px,#4257c9 56.3px 62.2px,#3b4cc0 63.2px 69.1px,#3d50c3 70.1px 76px,#4961d2 77px 82.9px,#5977e3 83.9px 89.8px,#6687ed 90.8px 96.7px,#688aef 97.7px 103.6px,#5f7fe8 104.6px 110.5px,#506bda 111.5px 117.4px,#4257c9 118.4px 124.3px,#3b4cc0 125.3px 131.2px,#3d50c3 132.2px 138px,#4961d2 139px 144.9px,#5977e3 145.9px 151.8px,#6687ed 152.8px 158.7px,#688aef 159.7px 165.6px,#5f7fe8 166.6px 172.5px,#506bda 173.5px 179.4px,#4257c9 180.4px 186.3px,#3b4cc0 187.3px 193.2px,#3d50c3 194.2px 200.1px,#4961d2 201.1px 207px,#5977e3 208px 213.9px,#6687ed 214.9px 220.8px,#688aef 221.8px 227.7px,#5f7fe8 228.7px 234.6px,#506bda 235.6px 241.5px,#4257c9 242.5px)"></i>
<i style="left:205px;top:365px;width:18px;height:248px;background:linear-gradient(#4055c8 7px,#3d50c3 8px 13.9px,#3b4cc0 14.9px 27.7px,#3e51c5 28.7px 34.6px,#4358cb 35.6px 41.5px,#465ecf 42.5px 48.4px,#485fd1 49.4px 55.3px,#455cce 56.3px 62.2px,#4055c8 63.2px 69.1px,#3d50c3 70.1px 76px,#3b4cc0 77px 89.8px,#3e51c5 90.8px 96.7px,#4358cb 97.7px 103.6px,#465ecf 104.6px 110.5px,#485fd1 111.5px 117.4px,#455cce 118.4px 124.3px,#4055c8 125.3px 131.2px,#3d50c3 132.2px 138px,#3b4cc0 139px 151.8px,#3e51c5 152.8px 158.7px,#4358cb 159.7px 165.6px,#465ecf 166.6px 172.5px,#485fd1 173.5px 179.4px,#455cce 180.4px 186.3px,#4055c8 187.3px 193.2px,#3d50c3 194.2px 200.1px,#3b4cc0 201.1px 213.9px,#3e51c5 214.9px 220.8px,#4358cb 221.8px 227.7px,#465ecf 228.7px 234.6px,#485fd1 235.6px 241.5px,#455cce 242.5px)"></i>
<i style="left:223px;top:365px;width:1px;height:248px;background:linear-gradient(#6483e9 7px,#5a77e1 8px 13.9px,#4b64d4 14.9px 20.8px,#3f53c6 21.8px 27.7px,#3c4dc1 28.7px 34.6px,#4054c7 35.6px 41.5px,#4d66d7 42.5px 48.4px,#5b78e3 49.4px 55.3px,#6483e9 56.3px 69.1px,#5a77e1 70.1px 76px,#4b64d4 77px 82.9px,#3f53c6 83.9px 89.8px,#3c4dc1 90.8px 96.7px,#4054c7 97.7px 103.6px,#4d66d7 104.6px 110.5px,#5b78e3 111.5px 117.4px,#6483e9 118.4px 131.2px,#5a77e1 132.2px 138px,#4b64d4 139px 144.9px,#3f53c6 145.9px 151.8px,#3c4dc1 152.8px 158.7px,#4054c7 159.7px 165.6px,#4d66d7 166.6px 172.5px,#5b78e3 173.5px 179.4px,#6483e9 180.4px 193.2px,#5a77e1 194.2px 200.1px,#4b64d4 201.1px 207px,#3f53c6 208px 213.9px,#3c4dc1 214.9px 220.8px,#4054c7 221.8px 227.7px,#4d66d7 228.7px 234.6px,#5b78e3 235.6px 241.5px,#6483e9 242.5px)"></i>
<i style="left:224px;top:365px;width:17px;height:248px;background:linear-gradient(#6f92f3 7px,#6384eb 8px 13.9px,#506bda 14.9px 20.8px,#4055c8 21.8px 27.7px,#3b4cc0 28.7px 34.6px,#3f53c6 35.6px 41.5px,#4f69d9 42.5px 48.4px,#6180e9 49.4px 55.3px,#6e90f2 56.3px 62.2px,#6f92f3 63.2px 69.1px,#6384eb 70.1px 76px,#506bda 77px 82.9px,#4055c8 83.9px 89.8px,#3b4cc0 90.8px 96.7px,#3f53c6 97.7px 103.6px,#4f69d9 104.6px 110.5px,#6180e9 111.5px 117.4px,#6e90f2 118.4px 124.3px,#6f92f3 125.3px 131.2px,#6384eb 132.2px 138px,#506bda 139px 144.9px,#4055c8 145.9px 151.8px,#3b4cc0 152.8px 158.7px,#3f53c6 159.7px 165.6px,#4f69d9 166.6px 172.5px,#6180e9 173.5px 179.4px,#6e90f2 180.4px 186.3px,#6f92f3 187.3px 193.2px,#6384eb 194.2px 200.1px,#506bda 201.1px 207px,#4055c8 208px 213.9px,#3b4cc0 214.9px 220.8px,#3f53c6 221.8px 227.7px,#4f69d9 228.7px 234.6px,#6180e9 235.6px 241.5px,#6e90f2 242.5px)"></i>
<i style="left:241px;top:365px;width:1px;height:248px;background:linear-gradient(#9db5f1 7px,#81a2f5 8px 13.9px,#5c7ae4 14.9px 20.8px,#4156c9 21.8px 27.7px,#3c4dc1 28.7px 34.6px,#4b63d3 35.6px 41.5px,#6e8ceb 42.5px 48.4px,#90aaf0 49.4px 55.3px,#a1b6ec 56.3px 62.2px,#9db5f1 63.2px 69.1px,#81a2f5 70.1px 76px,#5c7ae4 77px 82.9px,#4156c9 83.9px 89.8px,#3c4dc1 90.8px 96.7px,#4b63d3 97.7px 103.6px,#6e8ceb 104.6px 110.5px,#90aaf0 111.5px 117.4px,#a1b6ec 118.4px 124.3px,#9db5f1 125.3px 131.2px,#81a2f5 132.2px 138px,#5c7ae4 139px 144.9px,#4156c9 145.9px 151.8px,#3c4dc1 152.8px 158.7px,#4b63d3 159.7px 165.6px,#6e8ceb 166.6px 172.5px,#90aaf0 173.5px 179.4px,#a1b6ec 180.4px 186.3px,#9db5f1 187.3px 193.2px,#81a2f5 194.2px 200.1px,#5c7ae4 201.1px 207px,#4156c9 208px 213.9px,#3c4dc1 214.9px 220.8px,#4b63d3 221.8px 227.7px,#6e8ceb 228.7px 234.6px,#90aaf0 235.6px 241.5px,#a1b6ec 242.5px)"></i>
<i style="left:242px;top:365px;width:17px;height:248px;background:linear-gradient(#c9d7f0 7px,#9ebeff 8px 13.9px,#6788ee 14.9px 20.8px,#4257c9 21.8px 27.7px,#3c4ec2 28.7px 34.6px,#5673e0 35.6px 41.5px,#8badfd 42.5px 48.4px,#bed2f6 49.4px 55.3px,#d3dbe7 56.3px 62.2px,#c9d7f0 63.2px 69.1px,#9ebeff 70.1px 76px,#6788ee 77px 82.9px,#4257c9 83.9px 89.8px,#3c4ec2 90.8px 96.7px,#5673e0 97.7px 103.6px,#8badfd 104.6px 110.5px,#bed2f6 111.5px 117.4px,#d3dbe7 118.4px 124.3px,#c9d7f0 125.3px 131.2px,#9ebeff 132.2px 138px,#6788ee 139px 144.9px,#4257c9 145.9px 151.8px,#3c4ec2 152.8px 158.7px,#5673e0 159.7px 165.6px,#8badfd 166.6px 172.5px,#bed2f6 173.5px 179.4px,#d3dbe7 180.4px 186.3px,#c9d7f0 187.3px 193.2px,#9ebeff 194.2px 200.1px,#6788ee 201.1px 207px,#4257c9 208px 213.9px,#3c4ec2 214.9px 220.8px,#5673e0 221.8px 227.7px,#8badfd 228.7px 234.6px,#bed2f6 235.6px 241.5px,#d3dbe7 242.5px)"></i>
<i style="left:259px;top:365px;width:1px;height:248px;background:linear-gradient(#d2d6e4 7px,#9ebeff 8px 13.9px,#6180e9 14.9px 20.8px,#4054c7 21.8px 27.7px,#455acb 28.7px 34.6px,#6e8ae7 35.6px 41.5px,#a6b4e9 42.5px 48.4px,#cbc0d3 49.4px 55.3px,#dbc9ca 56.3px 62.2px,#d2d6e4 63.2px 69.1px,#9ebeff 70.1px 76px,#6180e9 77px 82.9px,#4054c7 83.9px 89.8px,#455acb 90.8px 96.7px,#6e8ae7 97.7px 103.6px,#a6b4e9 104.6px 110.5px,#cbc0d3 111.5px 117.4px,#dbc9ca 118.4px 124.3px,#d2d6e4 125.3px 131.2px,#9ebeff 132.2px 138px,#6180e9 139px 144.9px,#4054c7 145.9px 151.8px,#455acb 152.8px 158.7px,#6e8ae7 159.7px 165.6px,#a6b4e9 166.6px 172.5px,#cbc0d3 173.5px 179.4px,#dbc9ca 180.4px 186.3px,#d2d6e4 187.3px 193.2px,#9ebeff 194.2px 200.1px,#6180e9 201.1px 207px,#4054c7 208px 213.9px,#455acb 214.9px 220.8px,#6e8ae7 221.8px 227.7px,#a6b4e9 228.7px 234.6px,#cbc0d3 235.6px 241.5px,#dbc9ca 242.5px)"></i>
<i style="left:260px;top:365px;width:18px;height:248px;background:linear-gradient(#edd2c3 7px,#9ebeff 8px 13.9px,#506bda 14.9px 20.8px,#3b4cc0 21.8px 27.7px,#5d7ce6 28.7px 34.6px,#b2ccfb 35.6px 41.5px,#f4c6af 42.5px 48.4px,#f18d6f 49.4px 55.3px,#f39778 56.3px 62.2px,#edd2c3 63.2px 69.1px,#9ebeff 70.1px 76px,#506bda 77px 82.9px,#3b4cc0 83.9px 89.8px,#5d7ce6 90.8px 96.7px,#b2ccfb 97.7px 103.6px,#f4c6af 104.6px 110.5px,#f18d6f 111.5px 117.4px,#f39778 118.4px 124.3px,#edd2c3 125.3px 131.2px,#9ebeff 132.2px 138px,#506bda 139px 144.9px,#3b4cc0 145.9px 151.8px,#5d7ce6 152.8px 158.7px,#b2ccfb 159.7px 165.6px,#f4c6af 166.6px 172.5px,#f18d6f 173.5px 179.4px,#f39778 180.4px 186.3px,#edd2c3 187.3px 193.2px,#9ebeff 194.2px 200.1px,#506bda 201.1px 207px,#3b4cc0 208px 213.9px,#5d7ce6 214.9px 220.8px,#b2ccfb 221.8px 227.7px,#f4c6af 228.7px 234.6px,#f18d6f 235.6px 241.5px,#f39778 242.5px)"></i>
<i style="left:278px;top:365px;width:18px;height:248px;background:linear-gradient(#c0d4f5 7px,#5b7ae5 8px 13.9px,#3b4cc0 14.9px 20.8px,#6180e9 21.8px 27.7px,#c7d7f0 28.7px 34.6px,#f39577 35.6px 41.5px,#bd1f2d 42.5px 48.4px,#c0282f 49.4px 55.3px,#f59d7e 56.3px 62.2px,#c0d4f5 63.2px 69.1px,#5b7ae5 70.1px 76px,#3b4cc0 77px 82.9px,#6180e9 83.9px 89.8px,#c7d7f0 90.8px 96.7px,#f39577 97.7px 103.6px,#bd1f2d 104.6px 110.5px,#c0282f 111.5px 117.4px,#f59d7e 118.4px 124.3px,#c0d4f5 125.3px 131.2px,#5b7ae5 132.2px 138px,#3b4cc0 139px 144.9px,#6180e9 145.9px 151.8px,#c7d7f0 152.8px 158.7px,#f39577 159.7px 165.6px,#bd1f2d 166.6px 172.5px,#c0282f 173.5px 179.4px,#f59d7e 180.4px 186.3px,#c0d4f5 187.3px 193.2px,#5b7ae5 194.2px 200.1px,#3b4cc0 201.1px 207px,#6180e9 208px 213.9px,#c7d7f0 214.9px 220.8px,#f39577 221.8px 227.7px,#bd1f2d 228.7px 234.6px,#c0282f 235.6px 241.5px,#f59d7e 242.5px)"></i>
<i style="left:296px;top:365px;width:1px;height:248px;background:linear-gradient(#738fe9 7px,#4357c9 8px 13.9px,#5874df 14.9px 20.8px,#aec2ef 21.8px 27.7px,#e9a796 28.7px 34.6px,#cd4441 35.6px 41.5px,#c22c31 42.5px 48.4px,#e9856f 49.4px 55.3px,#ccc6da 56.3px 62.2px,#738fe9 63.2px 69.1px,#4357c9 70.1px 76px,#5874df 77px 82.9px,#aec2ef 83.9px 89.8px,#e9a796 90.8px 96.7px,#cd4441 97.7px 103.6px,#c22c31 104.6px 110.5px,#e9856f 111.5px 117.4px,#ccc6da 118.4px 124.3px,#738fe9 125.3px 131.2px,#4357c9 132.2px 138px,#5874df 139px 144.9px,#aec2ef 145.9px 151.8px,#e9a796 152.8px 158.7px,#cd4441 159.7px 165.6px,#c22c31 166.6px 172.5px,#e9856f 173.5px 179.4px,#ccc6da 180.4px 186.3px,#738fe9 187.3px 193.2px,#4357c9 194.2px 200.1px,#5874df 201.1px 207px,#aec2ef 208px 213.9px,#e9a796 214.9px 220.8px,#cd4441 221.8px 227.7px,#c22c31 228.7px 234.6px,#e9856f 235.6px 241.5px,#ccc6da 242.5px)"></i>
<i style="left:297px;top:365px;width:17px;height:248px;background:linear-gradient(#5b7ae5 7px,#3b4cc0 8px 13.9px,#6180e9 14.9px 20.8px,#c6d6f1 21.8px 27.7px,#f4987a 28.7px 34.6px,#c12b30 35.6px 41.5px,#c43032 42.5px 48.4px,#f6a283 49.4px 55.3px,#bfd3f6 56.3px 62.2px,#5b7ae5 63.2px 69.1px,#3b4cc0 70.1px 76px,#6180e9 77px 82.9px,#c6d6f1 83.9px 89.8px,#f4987a 90.8px 96.7px,#c12b30 97.7px 103.6px,#c43032 104.6px 110.5px,#f6a283 111.5px 117.4px,#bfd3f6 118.4px 124.3px,#5b7ae5 125.3px 131.2px,#3b4cc0 132.2px 138px,#6180e9 139px 144.9px,#c6d6f1 145.9px 151.8px,#f4987a 152.8px 158.7px,#c12b30 159.7px 165.6px,#c43032 166.6px 172.5px,#f6a283 173.5px 179.4px,#bfd3f6 180.4px 186.3px,#5b7ae5 187.3px 193.2px,#3b4cc0 194.2px 200.1px,#6180e9 201.1px 207px,#c6d6f1 208px 213.9px,#f4987a 214.9px 220.8px,#c12b30 221.8px 227.7px,#c43032 228.7px 234.6px,#f6a283 235.6px 241.5px,#bfd3f6 242.5px)"></i>
<i style="left:314px;top:365px;width:1px;height:248px;background:linear-gradient(#4b62d2 7px,#4d65d4 8px 13.9px,#89a6f3 14.9px 20.8px,#ddd0d3 21.8px 27.7px,#f4987a 28.7px 34.6px,#dc685b 35.6px 41.5px,#d78681 42.5px 48.4px,#c6aec3 49.4px 55.3px,#859ce7 56.3px 62.2px,#4b62d2 63.2px 69.1px,#4d65d4 70.1px 76px,#89a6f3 77px 82.9px,#ddd0d3 83.9px 89.8px,#f4987a 90.8px 96.7px,#dc685b 97.7px 103.6px,#d78681 104.6px 110.5px,#c6aec3 111.5px 117.4px,#859ce7 118.4px 124.3px,#4b62d2 125.3px 131.2px,#4d65d4 132.2px 138px,#89a6f3 139px 144.9px,#ddd0d3 145.9px 151.8px,#f4987a 152.8px 158.7px,#dc685b 159.7px 165.6px,#d78681 166.6px 172.5px,#c6aec3 173.5px 179.4px,#859ce7 180.4px 186.3px,#4b62d2 187.3px 193.2px,#4d65d4 194.2px 200.1px,#89a6f3 201.1px 207px,#ddd0d3 208px 213.9px,#f4987a 214.9px 220.8px,#dc685b 221.8px 227.7px,#d78681 228.7px 234.6px,#c6aec3 235.6px 241.5px,#859ce7 242.5px)"></i>
<i style="left:315px;top:365px;width:17px;height:248px;background:linear-gradient(#3b4cc0 7px,#5d7ce6 8px 13.9px,#afcafc 14.9px 20.8px,#f2cbb7 21.8px 27.7px,#f4987a 28.7px 34.6px,#f6a283 35.6px 41.5px,#e8d6cc 42.5px 48.4px,#98b9ff 49.4px 55.3px,#4f69d9 56.3px 62.2px,#3b4cc0 63.2px 69.1px,#5d7ce6 70.1px 76px,#afcafc 77px 82.9px,#f2cbb7 83.9px 89.8px,#f4987a 90.8px 96.7px,#f6a283 97.7px 103.6px,#e8d6cc 104.6px 110.5px,#98b9ff 111.5px 117.4px,#4f69d9 118.4px 124.3px,#3b4cc0 125.3px 131.2px,#5d7ce6 132.2px 138px,#afcafc 139px 144.9px,#f2cbb7 145.9px 151.8px,#f4987a 152.8px 158.7px,#f6a283 159.7px 165.6px,#e8d6cc 166.6px 172.5px,#98b9ff 173.5px 179.4px,#4f69d9 180.4px 186.3px,#3b4cc0 187.3px 193.2px,#5d7ce6 194.2px 200.1px,#afcafc 201.1px 207px,#f2cbb7 208px 213.9px,#f4987a 214.9px 220.8px,#f6a283 221.8px 227.7px,#e8d6cc 228.7px 234.6px,#98b9ff 235.6px 241.5px,#4f69d9 242.5px)"></i>
<i style="left:332px;top:365px;width:1px;height:248px;background:linear-gradient(#4256c9 7px,#6888ec 8px 13.9px,#b1cbfb 14.9px 20.8px,#e7cec6 21.8px 27.7px,#e6a79b 28.7px 34.6px,#dca8a4 35.6px 41.5px,#c4c0d4 42.5px 48.4px,#819ef0 49.4px 55.3px,#4a62d3 56.3px 62.2px,#4256c9 63.2px 69.1px,#6888ec 70.1px 76px,#b1cbfb 77px 82.9px,#e7cec6 83.9px 89.8px,#e6a79b 90.8px 96.7px,#dca8a4 97.7px 103.6px,#c4c0d4 104.6px 110.5px,#819ef0 111.5px 117.4px,#4a62d3 118.4px 124.3px,#4256c9 125.3px 131.2px,#6888ec 132.2px 138px,#b1cbfb 139px 144.9px,#e7cec6 145.9px 151.8px,#e6a79b 152.8px 158.7px,#dca8a4 159.7px 165.6px,#c4c0d4 166.6px 172.5px,#819ef0 173.5px 179.4px,#4a62d3 180.4px 186.3px,#4256c9 187.3px 193.2px,#6888ec 194.2px 200.1px,#b1cbfb 201.1px 207px,#e7cec6 208px 213.9px,#e6a79b 214.9px 220.8px,#dca8a4 221.8px 227.7px,#c4c0d4 228.7px 234.6px,#819ef0 235.6px 241.5px,#4a62d3 242.5px)"></i>
<i style="left:333px;top:365px;width:18px;height:248px;background:linear-gradient(#5673e0 7px,#86a9fc 8px 13.9px,#b5cdfa 14.9px 20.8px,#cad8ef 21.8px 27.7px,#bed2f6 28.7px 34.6px,#96b7ff 35.6px 41.5px,#6282ea 42.5px 48.4px,#4055c8 49.4px 55.3px,#3c4ec2 56.3px 62.2px,#5673e0 63.2px 69.1px,#86a9fc 70.1px 76px,#b5cdfa 77px 82.9px,#cad8ef 83.9px 89.8px,#bed2f6 90.8px 96.7px,#96b7ff 97.7px 103.6px,#6282ea 104.6px 110.5px,#4055c8 111.5px 117.4px,#3c4ec2 118.4px 124.3px,#5673e0 125.3px 131.2px,#86a9fc 132.2px 138px,#b5cdfa 139px 144.9px,#cad8ef 145.9px 151.8px,#bed2f6 152.8px 158.7px,#96b7ff 159.7px 165.6px,#6282ea 166.6px 172.5px,#4055c8 173.5px 179.4px,#3c4ec2 180.4px 186.3px,#5673e0 187.3px 193.2px,#86a9fc 194.2px 200.1px,#b5cdfa 201.1px 207px,#cad8ef 208px 213.9px,#bed2f6 214.9px 220.8px,#96b7ff 221.8px 227.7px,#6282ea 228.7px 234.6px,#4055c8 235.6px 241.5px,#3c4ec2 242.5px)"></i>
<i style="left:351px;top:365px;width:18px;height:248px;background:linear-gradient(#5e7de7 7px,#6788ee 8px 20.8px,#5b7ae5 21.8px 27.7px,#4b64d5 28.7px 34.6px,#3e51c5 35.6px 41.5px,#3b4cc0 42.5px 48.4px,#4055c8 49.4px 55.3px,#4e68d8 56.3px 62.2px,#5e7de7 63.2px 69.1px,#6788ee 70.1px 82.9px,#5b7ae5 83.9px 89.8px,#4b64d5 90.8px 96.7px,#3e51c5 97.7px 103.6px,#3b4cc0 104.6px 110.5px,#4055c8 111.5px 117.4px,#4e68d8 118.4px 124.3px,#5e7de7 125.3px 131.2px,#6788ee 132.2px 144.9px,#5b7ae5 145.9px 151.8px,#4b64d5 152.8px 158.7px,#3e51c5 159.7px 165.6px,#3b4cc0 166.6px 172.5px,#4055c8 173.5px 179.4px,#4e68d8 180.4px 186.3px,#5e7de7 187.3px 193.2px,#6788ee 194.2px 207px,#5b7ae5 208px 213.9px,#4b64d5 214.9px 220.8px,#3e51c5 221.8px 227.7px,#3b4cc0 228.7px 234.6px,#4055c8 235.6px 241.5px,#4e68d8 242.5px)"></i>
<i style="left:369px;top:365px;width:1px;height:248px;background:linear-gradient(#455bcd 7px,#455acb 8px 20.8px,#4358ca 21.8px 27.7px,#4358cb 28.7px 34.6px,#4358ca 35.6px 41.5px,#455bcd 42.5px 48.4px,#455ccd 49.4px 55.3px,#465cce 56.3px 62.2px,#455bcd 63.2px 69.1px,#455acb 70.1px 82.9px,#4358ca 83.9px 89.8px,#4358cb 90.8px 96.7px,#4358ca 97.7px 103.6px,#455bcd 104.6px 110.5px,#455ccd 111.5px 117.4px,#465cce 118.4px 124.3px,#455bcd 125.3px 131.2px,#455acb 132.2px 144.9px,#4358ca 145.9px 151.8px,#4358cb 152.8px 158.7px,#4358ca 159.7px 165.6px,#455bcd 166.6px 172.5px,#455ccd 173.5px 179.4px,#465cce 180.4px 186.3px,#455bcd 187.3px 193.2px,#455acb 194.2px 207px,#4358ca 208px 213.9px,#4358cb 214.9px 220.8px,#4358ca 221.8px 227.7px,#455bcd 228.7px 234.6px,#455ccd 235.6px 241.5px,#465cce 242.5px)"></i>
<i style="left:370px;top:365px;width:17px;height:248px;background:linear-gradient(#3e51c5 7px,#3b4cc0 8px 20.8px,#3c4ec2 21.8px 27.7px,#4055c8 28.7px 34.6px,#445acc 35.6px 41.5px,#485fd1 42.5px 48.4px,#465ecf 49.4px 55.3px,#4358cb 56.3px 62.2px,#3e51c5 63.2px 69.1px,#3b4cc0 70.1px 82.9px,#3c4ec2 83.9px 89.8px,#4055c8 90.8px 96.7px,#445acc 97.7px 103.6px,#485fd1 104.6px 110.5px,#465ecf 111.5px 117.4px,#4358cb 118.4px 124.3px,#3e51c5 125.3px 131.2px,#3b4cc0 132.2px 144.9px,#3c4ec2 145.9px 151.8px,#4055c8 152.8px 158.7px,#445acc 159.7px 165.6px,#485fd1 166.6px 172.5px,#465ecf 173.5px 179.4px,#4358cb 180.4px 186.3px,#3e51c5 187.3px 193.2px,#3b4cc0 194.2px 207px,#3c4ec2 208px 213.9px,#4055c8 214.9px 220.8px,#445acc 221.8px 227.7px,#485fd1 228.7px 234.6px,#465ecf 235.6px 241.5px,#4358cb 242.5px)"></i>
<i style="left:387px;top:365px;width:1px;height:248px;background:linear-gradient(#465dcf 7px,#4f67d5 8px 13.9px,#566fda 14.9px 20.8px,#5771dc 21.8px 27.7px,#526dda 28.7px 34.6px,#4b64d4 35.6px 41.5px,#455bcd 42.5px 48.4px,#4055c7 49.4px 55.3px,#4054c8 56.3px 62.2px,#465dcf 63.2px 69.1px,#4f67d5 70.1px 76px,#566fda 77px 82.9px,#5771dc 83.9px 89.8px,#526dda 90.8px 96.7px,#4b64d4 97.7px 103.6px,#455bcd 104.6px 110.5px,#4055c7 111.5px 117.4px,#4054c8 118.4px 124.3px,#465dcf 125.3px 131.2px,#4f67d5 132.2px 138px,#566fda 139px 144.9px,#5771dc 145.9px 151.8px,#526dda 152.8px 158.7px,#4b64d4 159.7px 165.6px,#455bcd 166.6px 172.5px,#4055c7 173.5px 179.4px,#4054c8 180.4px 186.3px,#465dcf 187.3px 193.2px,#4f67d5 194.2px 200.1px,#566fda 201.1px 207px,#5771dc 208px 213.9px,#526dda 214.9px 220.8px,#4b64d4 221.8px 227.7px,#455bcd 228.7px 234.6px,#4055c7 235.6px 241.5px,#4054c8 242.5px)"></i>
<i style="left:388px;top:365px;width:17px;height:248px;background:linear-gradient(#4e68d8 7px,#6180e9 8px 13.9px,#6e90f2 14.9px 20.8px,#6f92f3 21.8px 27.7px,#6384eb 28.7px 34.6px,#516ddb 35.6px 41.5px,#4257c9 42.5px 48.4px,#3b4cc0 49.4px 55.3px,#3e51c5 56.3px 62.2px,#4e68d8 63.2px 69.1px,#6180e9 70.1px 76px,#6e90f2 77px 82.9px,#6f92f3 83.9px 89.8px,#6384eb 90.8px 96.7px,#516ddb 97.7px 103.6px,#4257c9 104.6px 110.5px,#3b4cc0 111.5px 117.4px,#3e51c5 118.4px 124.3px,#4e68d8 125.3px 131.2px,#6180e9 132.2px 138px,#6e90f2 139px 144.9px,#6f92f3 145.9px 151.8px,#6384eb 152.8px 158.7px,#516ddb 159.7px 165.6px,#4257c9 166.6px 172.5px,#3b4cc0 173.5px 179.4px,#3e51c5 180.4px 186.3px,#4e68d8 187.3px 193.2px,#6180e9 194.2px 200.1px,#6e90f2 201.1px 207px,#6f92f3 208px 213.9px,#6384eb 214.9px 220.8px,#516ddb 221.8px 227.7px,#4257c9 228.7px 234.6px,#3b4cc0 235.6px 241.5px,#3e51c5 242.5px)"></i>
<i style="left:405px;top:365px;width:1px;height:248px;background:linear-gradient(#6e86df 7px,#8099e8 8px 13.9px,#85a3f3 14.9px 20.8px,#799cf6 21.8px 27.7px,#6182ea 28.7px 34.6px,#4c65d5 35.6px 41.5px,#4155c8 42.5px 48.4px,#455acb 49.4px 55.3px,#566dd5 56.3px 62.2px,#6e86df 63.2px 69.1px,#8099e8 70.1px 76px,#85a3f3 77px 82.9px,#799cf6 83.9px 89.8px,#6182ea 90.8px 96.7px,#4c65d5 97.7px 103.6px,#4155c8 104.6px 110.5px,#455acb 111.5px 117.4px,#566dd5 118.4px 124.3px,#6e86df 125.3px 131.2px,#8099e8 132.2px 138px,#85a3f3 139px 144.9px,#799cf6 145.9px 151.8px,#6182ea 152.8px 158.7px,#4c65d5 159.7px 165.6px,#4155c8 166.6px 172.5px,#455acb 173.5px 179.4px,#566dd5 180.4px 186.3px,#6e86df 187.3px 193.2px,#8099e8 194.2px 200.1px,#85a3f3 201.1px 207px,#799cf6 208px 213.9px,#6182ea 214.9px 220.8px,#4c65d5 221.8px 227.7px,#4155c8 228.7px 234.6px,#455acb 235.6px 241.5px,#566dd5 242.5px)"></i>
<i style="left:406px;top:365px;width:18px;height:248px;background:linear-gradient(#c4d5f3 7px,#d4dbe6 8px 13.9px,#c3d5f4 14.9px 20.8px,#93b5fe 21.8px 27.7px,#5d7ce6 28.7px 34.6px,#3e51c5 35.6px 48.4px,#5f7fe8 49.4px 55.3px,#97b8ff 56.3px 62.2px,#c4d5f3 63.2px 69.1px,#d4dbe6 70.1px 76px,#c3d5f4 77px 82.9px,#93b5fe 83.9px 89.8px,#5d7ce6 90.8px 96.7px,#3e51c5 97.7px 110.5px,#5f7fe8 111.5px 117.4px,#97b8ff 118.4px 124.3px,#c4d5f3 125.3px 131.2px,#d4dbe6 132.2px 138px,#c3d5f4 139px 144.9px,#93b5fe 145.9px 151.8px,#5d7ce6 152.8px 158.7px,#3e51c5 159.7px 172.5px,#5f7fe8 173.5px 179.4px,#97b8ff 180.4px 186.3px,#c4d5f3 187.3px 193.2px,#d4dbe6 194.2px 200.1px,#c3d5f4 201.1px 207px,#93b5fe 208px 213.9px,#5d7ce6 214.9px 220.8px,#3e51c5 221.8px 234.6px,#5f7fe8 235.6px 241.5px,#97b8ff 242.5px)"></i>
<i style="left:424px;top:365px;width:18px;height:248px;background:linear-gradient(#f08a6c 7px,#f7bca1 8px 13.9px,#bfd3f6 14.9px 20.8px,#6788ee 21.8px 27.7px,#3c4ec2 28.7px 34.6px,#4a63d3 35.6px 41.5px,#90b2fe 42.5px 48.4px,#e4d9d2 49.4px 55.3px,#f59d7e 56.3px 62.2px,#f08a6c 63.2px 69.1px,#f7bca1 70.1px 76px,#bfd3f6 77px 82.9px,#6788ee 83.9px 89.8px,#3c4ec2 90.8px 96.7px,#4a63d3 97.7px 103.6px,#90b2fe 104.6px 110.5px,#e4d9d2 111.5px 117.4px,#f59d7e 118.4px 124.3px,#f08a6c 125.3px 131.2px,#f7bca1 132.2px 138px,#bfd3f6 139px 144.9px,#6788ee 145.9px 151.8px,#3c4ec2 152.8px 158.7px,#4a63d3 159.7px 165.6px,#90b2fe 166.6px 172.5px,#e4d9d2 173.5px 179.4px,#f59d7e 180.4px 186.3px,#f08a6c 187.3px 193.2px,#f7bca1 194.2px 200.1px,#bfd3f6 201.1px 207px,#6788ee 208px 213.9px,#3c4ec2 214.9px 220.8px,#4a63d3 221.8px 227.7px,#90b2fe 228.7px 234.6px,#e4d9d2 235.6px 241.5px,#f59d7e 242.5px)"></i>
<i style="left:442px;top:365px;width:1px;height:248px;background:linear-gradient(#ee8567 7px,#ddd5d5 8px 13.9px,#7f9ef2 14.9px 20.8px,#455aca 21.8px 27.7px,#4e67d7 28.7px 34.6px,#9ab4f3 35.6px 41.5px,#e0b0aa 42.5px 48.4px,#ce5c59 49.4px 55.3px,#c6313d 56.3px 62.2px,#ee8567 63.2px 69.1px,#ddd5d5 70.1px 76px,#7f9ef2 77px 82.9px,#455aca 83.9px 89.8px,#4e67d7 90.8px 96.7px,#9ab4f3 97.7px 103.6px,#e0b0aa 104.6px 110.5px,#ce5c59 111.5px 117.4px,#c6313d 118.4px 124.3px,#ee8567 125.3px 131.2px,#ddd5d5 132.2px 138px,#7f9ef2 139px 144.9px,#455aca 145.9px 151.8px,#4e67d7 152.8px 158.7px,#9ab4f3 159.7px 165.6px,#e0b0aa 166.6px 172.5px,#ce5c59 173.5px 179.4px,#c6313d 180.4px 186.3px,#ee8567 187.3px 193.2px,#ddd5d5 194.2px 200.1px,#7f9ef2 201.1px 207px,#455aca 208px 213.9px,#4e67d7 214.9px 220.8px,#9ab4f3 221.8px 227.7px,#e0b0aa 228.7px 234.6px,#ce5c59 235.6px 241.5px,#c6313d 242.5px)"></i>
<i style="left:443px;top:365px;width:17px;height:248px;background:linear-gradient(#ed8366 7px,#d6dce4 8px 13.9px,#6c8ff1 14.9px 20.8px,#3b4cc0 21.8px 27.7px,#536edd 28.7px 34.6px,#b1cbfc 35.6px 41.5px,#f7af91 42.5px 48.4px,#c83836 49.4px 55.3px,#b8122a 56.3px 62.2px,#ed8366 63.2px 69.1px,#d6dce4 70.1px 76px,#6c8ff1 77px 82.9px,#3b4cc0 83.9px 89.8px,#536edd 90.8px 96.7px,#b1cbfc 97.7px 103.6px,#f7af91 104.6px 110.5px,#c83836 111.5px 117.4px,#b8122a 118.4px 124.3px,#ed8366 125.3px 131.2px,#d6dce4 132.2px 138px,#6c8ff1 139px 144.9px,#3b4cc0 145.9px 151.8px,#536edd 152.8px 158.7px,#b1cbfc 159.7px 165.6px,#f7af91 166.6px 172.5px,#c83836 173.5px 179.4px,#b8122a 180.4px 186.3px,#ed8366 187.3px 193.2px,#d6dce4 194.2px 200.1px,#6c8ff1 201.1px 207px,#3b4cc0 208px 213.9px,#536edd 214.9px 220.8px,#b1cbfc 221.8px 227.7px,#f7af91 228.7px 234.6px,#c83836 235.6px 241.5px,#b8122a 242.5px)"></i>
<i style="left:460px;top:365px;width:1px;height:248px;background:linear-gradient(#e0b1a9 7px,#9eb3eb 8px 13.9px,#526cd7 14.9px 20.8px,#475dce 21.8px 27.7px,#839eed 28.7px 34.6px,#d6bdc5 35.6px 41.5px,#e07563 42.5px 48.4px,#c22b31 49.4px 55.3px,#d44f4b 56.3px 62.2px,#e0b1a9 63.2px 69.1px,#9eb3eb 70.1px 76px,#526cd7 77px 82.9px,#475dce 83.9px 89.8px,#839eed 90.8px 96.7px,#d6bdc5 97.7px 103.6px,#e07563 104.6px 110.5px,#c22b31 111.5px 117.4px,#d44f4b 118.4px 124.3px,#e0b1a9 125.3px 131.2px,#9eb3eb 132.2px 138px,#526cd7 139px 144.9px,#475dce 145.9px 151.8px,#839eed 152.8px 158.7px,#d6bdc5 159.7px 165.6px,#e07563 166.6px 172.5px,#c22b31 173.5px 179.4px,#d44f4b 180.4px 186.3px,#e0b1a9 187.3px 193.2px,#9eb3eb 194.2px 200.1px,#526cd7 201.1px 207px,#475dce 208px 213.9px,#839eed 214.9px 220.8px,#d6bdc5 221.8px 227.7px,#e07563 228.7px 234.6px,#c22b31 235.6px 241.5px,#d44f4b 242.5px)"></i>
<i style="left:461px;top:365px;width:17px;height:248px;background:linear-gradient(#d5dbe5 7px,#6c8ff1 8px 13.9px,#3b4cc0 14.9px 20.8px,#516ddb 21.8px 27.7px,#aec9fc 28.7px 34.6px,#f7b194 35.6px 41.5px,#cc403a 42.5px 48.4px,#bd1f2d 49.4px 55.3px,#ee8669 56.3px 62.2px,#d5dbe5 63.2px 69.1px,#6c8ff1 70.1px 76px,#3b4cc0 77px 82.9px,#516ddb 83.9px 89.8px,#aec9fc 90.8px 96.7px,#f7b194 97.7px 103.6px,#cc403a 104.6px 110.5px,#bd1f2d 111.5px 117.4px,#ee8669 118.4px 124.3px,#d5dbe5 125.3px 131.2px,#6c8ff1 132.2px 138px,#3b4cc0 139px 144.9px,#516ddb 145.9px 151.8px,#aec9fc 152.8px 158.7px,#f7b194 159.7px 165.6px,#cc403a 166.6px 172.5px,#bd1f2d 173.5px 179.4px,#ee8669 180.4px 186.3px,#d5dbe5 187.3px 193.2px,#6c8ff1 194.2px 200.1px,#3b4cc0 201.1px 207px,#516ddb 208px 213.9px,#aec9fc 214.9px 220.8px,#f7b194 221.8px 227.7px,#cc403a 228.7px 234.6px,#bd1f2d 235.6px 241.5px,#ee8669 242.5px)"></i>
<i style="left:478px;top:365px;width:1px;height:248px;background:linear-gradient(#b6c4e7 7px,#5f7de4 8px 13.9px,#3f52c5 14.9px 20.8px,#617fe5 21.8px 27.7px,#bbcef3 28.7px 34.6px,#f7af92 35.6px 41.5px,#d7584b 42.5px 48.4px,#cd4c50 49.4px 55.3px,#e09b91 56.3px 62.2px,#b6c4e7 63.2px 69.1px,#5f7de4 70.1px 76px,#3f52c5 77px 82.9px,#617fe5 83.9px 89.8px,#bbcef3 90.8px 96.7px,#f7af92 97.7px 103.6px,#d7584b 104.6px 110.5px,#cd4c50 111.5px 117.4px,#e09b91 118.4px 124.3px,#b6c4e7 125.3px 131.2px,#5f7de4 132.2px 138px,#3f52c5 139px 144.9px,#617fe5 145.9px 151.8px,#bbcef3 152.8px 158.7px,#f7af92 159.7px 165.6px,#d7584b 166.6px 172.5px,#cd4c50 173.5px 179.4px,#e09b91 180.4px 186.3px,#b6c4e7 187.3px 193.2px,#5f7de4 194.2px 200.1px,#3f52c5 201.1px 207px,#617fe5 208px 213.9px,#bbcef3 214.9px 220.8px,#f7af92 221.8px 227.7px,#d7584b 228.7px 234.6px,#cd4c50 235.6px 241.5px,#e09b91 242.5px)"></i>
<i style="left:479px;top:365px;width:18px;height:248px;background:linear-gradient(#6687ed 7px,#3c4ec2 8px 13.9px,#4961d2 14.9px 20.8px,#8caffe 21.8px 27.7px,#dedcdb 28.7px 34.6px,#f7a98b 35.6px 41.5px,#f39577 42.5px 48.4px,#f5c2aa 49.4px 55.3px,#bbd1f8 56.3px 62.2px,#6687ed 63.2px 69.1px,#3c4ec2 70.1px 76px,#4961d2 77px 82.9px,#8caffe 83.9px 89.8px,#dedcdb 90.8px 96.7px,#f7a98b 97.7px 103.6px,#f39577 104.6px 110.5px,#f5c2aa 111.5px 117.4px,#bbd1f8 118.4px 124.3px,#6687ed 125.3px 131.2px,#3c4ec2 132.2px 138px,#4961d2 139px 144.9px,#8caffe 145.9px 151.8px,#dedcdb 152.8px 158.7px,#f7a98b 159.7px 165.6px,#f39577 166.6px 172.5px,#f5c2aa 173.5px 179.4px,#bbd1f8 180.4px 186.3px,#6687ed 187.3px 193.2px,#3c4ec2 194.2px 200.1px,#4961d2 201.1px 207px,#8caffe 208px 213.9px,#dedcdb 214.9px 220.8px,#f7a98b 221.8px 227.7px,#f39577 228.7px 234.6px,#f5c2aa 235.6px 241.5px,#bbd1f8 242.5px)"></i>
<i style="left:497px;top:365px;width:18px;height:248px;background:linear-gradient(#3e51c5 13.9px,#5b7ae5 14.9px 20.8px,#8db0fe 21.8px 27.7px,#bad0f8 28.7px 34.6px,#cad8ef 35.6px 41.5px,#bad0f8 42.5px 48.4px,#8db0fe 49.4px 55.3px,#5b7ae5 56.3px 62.2px,#3e51c5 63.2px 76px,#5b7ae5 77px 82.9px,#8db0fe 83.9px 89.8px,#bad0f8 90.8px 96.7px,#cad8ef 97.7px 103.6px,#bad0f8 104.6px 110.5px,#8db0fe 111.5px 117.4px,#5b7ae5 118.4px 124.3px,#3e51c5 125.3px 138px,#5b7ae5 139px 144.9px,#8db0fe 145.9px 151.8px,#bad0f8 152.8px 158.7px,#cad8ef 159.7px 165.6px,#bad0f8 166.6px 172.5px,#8db0fe 173.5px 179.4px,#5b7ae5 180.4px 186.3px,#3e51c5 187.3px 200.1px,#5b7ae5 201.1px 207px,#8db0fe 208px 213.9px,#bad0f8 214.9px 220.8px,#cad8ef 221.8px 227.7px,#bad0f8 228.7px 234.6px,#8db0fe 235.6px 241.5px,#5b7ae5 242.5px)"></i>
<i style="left:515px;top:365px;width:1px;height:248px;background:linear-gradient(#3c4dc1 7px,#3d50c3 8px 13.9px,#4d66d6 14.9px 20.8px,#6484e9 21.8px 27.7px,#7897ef 28.7px 34.6px,#7e9bef 35.6px 41.5px,#7391ec 42.5px 48.4px,#5d7ae2 49.4px 55.3px,#475fcf 56.3px 62.2px,#3c4dc1 63.2px 69.1px,#3d50c3 70.1px 76px,#4d66d6 77px 82.9px,#6484e9 83.9px 89.8px,#7897ef 90.8px 96.7px,#7e9bef 97.7px 103.6px,#7391ec 104.6px 110.5px,#5d7ae2 111.5px 117.4px,#475fcf 118.4px 124.3px,#3c4dc1 125.3px 131.2px,#3d50c3 132.2px 138px,#4d66d6 139px 144.9px,#6484e9 145.9px 151.8px,#7897ef 152.8px 158.7px,#7e9bef 159.7px 165.6px,#7391ec 166.6px 172.5px,#5d7ae2 173.5px 179.4px,#475fcf 180.4px 186.3px,#3c4dc1 187.3px 193.2px,#3d50c3 194.2px 200.1px,#4d66d6 201.1px 207px,#6484e9 208px 213.9px,#7897ef 214.9px 220.8px,#7e9bef 221.8px 227.7px,#7391ec 228.7px 234.6px,#5d7ae2 235.6px 241.5px,#475fcf 242.5px)"></i>
<i style="left:516px;top:365px;width:17px;height:248px;background:linear-gradient(#3b4cc0 7px,#3d50c3 8px 13.9px,#4961d2 14.9px 20.8px,#5977e3 21.8px 27.7px,#6687ed 28.7px 34.6px,#688aef 35.6px 41.5px,#5f7fe8 42.5px 48.4px,#506bda 49.4px 55.3px,#4257c9 56.3px 62.2px,#3b4cc0 63.2px 69.1px,#3d50c3 70.1px 76px,#4961d2 77px 82.9px,#5977e3 83.9px 89.8px,#6687ed 90.8px 96.7px,#688aef 97.7px 103.6px,#5f7fe8 104.6px 110.5px,#506bda 111.5px 117.4px,#4257c9 118.4px 124.3px,#3b4cc0 125.3px 131.2px,#3d50c3 132.2px 138px,#4961d2 139px 144.9px,#5977e3 145.9px 151.8px,#6687ed 152.8px 158.7px,#688aef 159.7px 165.6px,#5f7fe8 166.6px 172.5px,#506bda 173.5px 179.4px,#4257c9 180.4px 186.3px,#3b4cc0 187.3px 193.2px,#3d50c3 194.2px 200.1px,#4961d2 201.1px 207px,#5977e3 208px 213.9px,#6687ed 214.9px 220.8px,#688aef 221.8px 227.7px,#5f7fe8 228.7px 234.6px,#506bda 235.6px 241.5px,#4257c9 242.5px)"></i>
<i style="left:533px;top:365px;width:1px;height:248px;background:linear-gradient(#3e51c4 7px,#3d50c3 8px 13.9px,#4256c8 14.9px 20.8px,#4960d0 21.8px 27.7px,#516ad8 28.7px 34.6px,#546fdc 35.6px 41.5px,#526ddb 42.5px 48.4px,#4c65d5 49.4px 55.3px,#445acc 56.3px 62.2px,#3e51c4 63.2px 69.1px,#3d50c3 70.1px 76px,#4256c8 77px 82.9px,#4960d0 83.9px 89.8px,#516ad8 90.8px 96.7px,#546fdc 97.7px 103.6px,#526ddb 104.6px 110.5px,#4c65d5 111.5px 117.4px,#445acc 118.4px 124.3px,#3e51c4 125.3px 131.2px,#3d50c3 132.2px 138px,#4256c8 139px 144.9px,#4960d0 145.9px 151.8px,#516ad8 152.8px 158.7px,#546fdc 159.7px 165.6px,#526ddb 166.6px 172.5px,#4c65d5 173.5px 179.4px,#445acc 180.4px 186.3px,#3e51c4 187.3px 193.2px,#3d50c3 194.2px 200.1px,#4256c8 201.1px 207px,#4960d0 208px 213.9px,#516ad8 214.9px 220.8px,#546fdc 221.8px 227.7px,#526ddb 228.7px 234.6px,#4c65d5 235.6px 241.5px,#445acc 242.5px)"></i>
<i style="left:534px;top:365px;width:17px;height:248px;background:linear-gradient(#4055c8 7px,#3d50c3 8px 13.9px,#3b4cc0 14.9px 27.7px,#3e51c5 28.7px 34.6px,#4358cb 35.6px 41.5px,#465ecf 42.5px 48.4px,#485fd1 49.4px 55.3px,#455cce 56.3px 62.2px,#4055c8 63.2px 69.1px,#3d50c3 70.1px 76px,#3b4cc0 77px 89.8px,#3e51c5 90.8px 96.7px,#4358cb 97.7px 103.6px,#465ecf 104.6px 110.5px,#485fd1 111.5px 117.4px,#455cce 118.4px 124.3px,#4055c8 125.3px 131.2px,#3d50c3 132.2px 138px,#3b4cc0 139px 151.8px,#3e51c5 152.8px 158.7px,#4358cb 159.7px 165.6px,#465ecf 166.6px 172.5px,#485fd1 173.5px 179.4px,#455cce 180.4px 186.3px,#4055c8 187.3px 193.2px,#3d50c3 194.2px 200.1px,#3b4cc0 201.1px 213.9px,#3e51c5 214.9px 220.8px,#4358cb 221.8px 227.7px,#465ecf 228.7px 234.6px,#485fd1 235.6px 241.5px,#455cce 242.5px)"></i>
<i style="left:551px;top:365px;width:1px;height:248px;background:linear-gradient(#4d66d4 7px,#485fce 8px 13.9px,#4155c7 14.9px 20.8px,#3c4fc2 21.8px 27.7px,#3d50c4 28.7px 34.6px,#4257ca 35.6px 41.5px,#4961d2 42.5px 48.4px,#4f68d8 49.4px 55.3px,#516bd8 56.3px 62.2px,#4d66d4 63.2px 69.1px,#485fce 70.1px 76px,#4155c7 77px 82.9px,#3c4fc2 83.9px 89.8px,#3d50c4 90.8px 96.7px,#4257ca 97.7px 103.6px,#4961d2 104.6px 110.5px,#4f68d8 111.5px 117.4px,#516bd8 118.4px 124.3px,#4d66d4 125.3px 131.2px,#485fce 132.2px 138px,#4155c7 139px 144.9px,#3c4fc2 145.9px 151.8px,#3d50c4 152.8px 158.7px,#4257ca 159.7px 165.6px,#4961d2 166.6px 172.5px,#4f68d8 173.5px 179.4px,#516bd8 180.4px 186.3px,#4d66d4 187.3px 193.2px,#485fce 194.2px 200.1px,#4155c7 201.1px 207px,#3c4fc2 208px 213.9px,#3d50c4 214.9px 220.8px,#4257ca 221.8px 227.7px,#4961d2 228.7px 234.6px,#4f68d8 235.6px 241.5px,#516bd8 242.5px)"></i>
<i style="left:552px;top:365px;width:18px;height:248px;background:linear-gradient(#6f92f3 7px,#6384eb 8px 13.9px,#506bda 14.9px 20.8px,#4055c8 21.8px 27.7px,#3b4cc0 28.7px 34.6px,#3f53c6 35.6px 41.5px,#4f69d9 42.5px 48.4px,#6180e9 49.4px 55.3px,#6e90f2 56.3px 62.2px,#6f92f3 63.2px 69.1px,#6384eb 70.1px 76px,#506bda 77px 82.9px,#4055c8 83.9px 89.8px,#3b4cc0 90.8px 96.7px,#3f53c6 97.7px 103.6px,#4f69d9 104.6px 110.5px,#6180e9 111.5px 117.4px,#6e90f2 118.4px 124.3px,#6f92f3 125.3px 131.2px,#6384eb 132.2px 138px,#506bda 139px 144.9px,#4055c8 145.9px 151.8px,#3b4cc0 152.8px 158.7px,#3f53c6 159.7px 165.6px,#4f69d9 166.6px 172.5px,#6180e9 173.5px 179.4px,#6e90f2 180.4px 186.3px,#6f92f3 187.3px 193.2px,#6384eb 194.2px 200.1px,#506bda 201.1px 207px,#4055c8 208px 213.9px,#3b4cc0 214.9px 220.8px,#3f53c6 221.8px 227.7px,#4f69d9 228.7px 234.6px,#6180e9 235.6px 241.5px,#6e90f2 242.5px)"></i>
<i style="left:570px;top:365px;width:18px;height:248px;background:linear-gradient(#c9d7f0 7px,#9ebeff 8px 13.9px,#6788ee 14.9px 20.8px,#4257c9 21.8px 27.7px,#3c4ec2 28.7px 34.6px,#5673e0 35.6px 41.5px,#8badfd 42.5px 48.4px,#bed2f6 49.4px 55.3px,#d3dbe7 56.3px 62.2px,#c9d7f0 63.2px 69.1px,#9ebeff 70.1px 76px,#6788ee 77px 82.9px,#4257c9 83.9px 89.8px,#3c4ec2 90.8px 96.7px,#5673e0 97.7px 103.6px,#8badfd 104.6px 110.5px,#bed2f6 111.5px 117.4px,#d3dbe7 118.4px 124.3px,#c9d7f0 125.3px 131.2px,#9ebeff 132.2px 138px,#6788ee 139px 144.9px,#4257c9 145.9px 151.8px,#3c4ec2 152.8px 158.7px,#5673e0 159.7px 165.6px,#8badfd 166.6px 172.5px,#bed2f6 173.5px 179.4px,#d3dbe7 180.4px 186.3px,#c9d7f0 187.3px 193.2px,#9ebeff 194.2px 200.1px,#6788ee 201.1px 207px,#4257c9 208px 213.9px,#3c4ec2 214.9px 220.8px,#5673e0 221.8px 227.7px,#8badfd 228.7px 234.6px,#bed2f6 235.6px 241.5px,#d3dbe7 242.5px)"></i>
<i style="left:588px;top:365px;width:1px;height:248px;background:linear-gradient(#e5d3cd 7px,#9ebeff 8px 13.9px,#5571de 14.9px 20.8px,#3c4ec2 21.8px 27.7px,#5672de 28.7px 34.6px,#9eb9f5 35.6px 41.5px,#dec1c0 42.5px 48.4px,#e69c8c 49.4px 55.3px,#eca690 56.3px 62.2px,#e5d3cd 63.2px 69.1px,#9ebeff 70.1px 76px,#5571de 77px 82.9px,#3c4ec2 83.9px 89.8px,#5672de 90.8px 96.7px,#9eb9f5 97.7px 103.6px,#dec1c0 104.6px 110.5px,#e69c8c 111.5px 117.4px,#eca690 118.4px 124.3px,#e5d3cd 125.3px 131.2px,#9ebeff 132.2px 138px,#5571de 139px 144.9px,#3c4ec2 145.9px 151.8px,#5672de 152.8px 158.7px,#9eb9f5 159.7px 165.6px,#dec1c0 166.6px 172.5px,#e69c8c 173.5px 179.4px,#eca690 180.4px 186.3px,#e5d3cd 187.3px 193.2px,#9ebeff 194.2px 200.1px,#5571de 201.1px 207px,#3c4ec2 208px 213.9px,#5672de 214.9px 220.8px,#9eb9f5 221.8px 227.7px,#dec1c0 228.7px 234.6px,#e69c8c 235.6px 241.5px,#eca690 242.5px)"></i>
<i style="left:589px;top:365px;width:17px;height:248px;background:linear-gradient(#edd2c3 7px,#9ebeff 8px 13.9px,#506bda 14.9px 20.8px,#3b4cc0 21.8px 27.7px,#5d7ce6 28.7px 34.6px,#b2ccfb 35.6px 41.5px,#f4c6af 42.5px 48.4px,#f18d6f 49.4px 55.3px,#f39778 56.3px 62.2px,#edd2c3 63.2px 69.1px,#9ebeff 70.1px 76px,#506bda 77px 82.9px,#3b4cc0 83.9px 89.8px,#5d7ce6 90.8px 96.7px,#b2ccfb 97.7px 103.6px,#f4c6af 104.6px 110.5px,#f18d6f 111.5px 117.4px,#f39778 118.4px 124.3px,#edd2c3 125.3px 131.2px,#9ebeff 132.2px 138px,#506bda 139px 144.9px,#3b4cc0 145.9px 151.8px,#5d7ce6 152.8px 158.7px,#b2ccfb 159.7px 165.6px,#f4c6af 166.6px 172.5px,#f18d6f 173.5px 179.4px,#f39778 180.4px 186.3px,#edd2c3 187.3px 193.2px,#9ebeff 194.2px 200.1px,#506bda 201.1px 207px,#3b4cc0 208px 213.9px,#5d7ce6 214.9px 220.8px,#b2ccfb 221.8px 227.7px,#f4c6af 228.7px 234.6px,#f18d6f 235.6px 241.5px,#f39778 242.5px)"></i>
<i style="left:606px;top:365px;width:1px;height:248px;background:linear-gradient(#d5d3de 7px,#7a99f1 8px 13.9px,#455acc 14.9px 20.8px,#4f68d6 21.8px 27.7px,#96adeb 28.7px 34.6px,#d5aeb4 35.6px 41.5px,#d66c69 42.5px 48.4px,#d7574d 49.4px 55.3px,#f49a7b 56.3px 62.2px,#d5d3de 63.2px 69.1px,#7a99f1 70.1px 76px,#455acc 77px 82.9px,#4f68d6 83.9px 89.8px,#96adeb 90.8px 96.7px,#d5aeb4 97.7px 103.6px,#d66c69 104.6px 110.5px,#d7574d 111.5px 117.4px,#f49a7b 118.4px 124.3px,#d5d3de 125.3px 131.2px,#7a99f1 132.2px 138px,#455acc 139px 144.9px,#4f68d6 145.9px 151.8px,#96adeb 152.8px 158.7px,#d5aeb4 159.7px 165.6px,#d66c69 166.6px 172.5px,#d7574d 173.5px 179.4px,#f49a7b 180.4px 186.3px,#d5d3de 187.3px 193.2px,#7a99f1 194.2px 200.1px,#455acc 201.1px 207px,#4f68d6 208px 213.9px,#96adeb 214.9px 220.8px,#d5aeb4 221.8px 227.7px,#d66c69 228.7px 234.6px,#d7574d 235.6px 241.5px,#f49a7b 242.5px)"></i>
<i style="left:607px;top:365px;width:17px;height:248px;background:linear-gradient(#c0d4f5 7px,#5b7ae5 8px 13.9px,#3b4cc0 14.9px 20.8px,#6180e9 21.8px 27.7px,#c7d7f0 28.7px 34.6px,#f39577 35.6px 41.5px,#bd1f2d 42.5px 48.4px,#c0282f 49.4px 55.3px,#f59d7e 56.3px 62.2px,#c0d4f5 63.2px 69.1px,#5b7ae5 70.1px 76px,#3b4cc0 77px 82.9px,#6180e9 83.9px 89.8px,#c7d7f0 90.8px 96.7px,#f39577 97.7px 103.6px,#bd1f2d 104.6px 110.5px,#c0282f 111.5px 117.4px,#f59d7e 118.4px 124.3px,#c0d4f5 125.3px 131.2px,#5b7ae5 132.2px 138px,#3b4cc0 139px 144.9px,#6180e9 145.9px 151.8px,#c7d7f0 152.8px 158.7px,#f39577 159.7px 165.6px,#bd1f2d 166.6px 172.5px,#c0282f 173.5px 179.4px,#f59d7e 180.4px 186.3px,#c0d4f5 187.3px 193.2px,#5b7ae5 194.2px 200.1px,#3b4cc0 201.1px 207px,#6180e9 208px 213.9px,#c7d7f0 214.9px 220.8px,#f39577 221.8px 227.7px,#bd1f2d 228.7px 234.6px,#c0282f 235.6px 241.5px,#f59d7e 242.5px)"></i>
<i style="left:624px;top:365px;width:1px;height:248px;background:linear-gradient(#a3baf0 7px,#526dda 8px 13.9px,#465bcc 14.9px 20.8px,#7e99eb 21.8px 27.7px,#d4c5ce 28.7px 34.6px,#e57662 35.6px 41.5px,#bf242e 42.5px 48.4px,#d04b47 49.4px 55.3px,#e5ada1 56.3px 62.2px,#a3baf0 63.2px 69.1px,#526dda 70.1px 76px,#465bcc 77px 82.9px,#7e99eb 83.9px 89.8px,#d4c5ce 90.8px 96.7px,#e57662 97.7px 103.6px,#bf242e 104.6px 110.5px,#d04b47 111.5px 117.4px,#e5ada1 118.4px 124.3px,#a3baf0 125.3px 131.2px,#526dda 132.2px 138px,#465bcc 139px 144.9px,#7e99eb 145.9px 151.8px,#d4c5ce 152.8px 158.7px,#e57662 159.7px 165.6px,#bf242e 166.6px 172.5px,#d04b47 173.5px 179.4px,#e5ada1 180.4px 186.3px,#a3baf0 187.3px 193.2px,#526dda 194.2px 200.1px,#465bcc 201.1px 207px,#7e99eb 208px 213.9px,#d4c5ce 214.9px 220.8px,#e57662 221.8px 227.7px,#bf242e 228.7px 234.6px,#d04b47 235.6px 241.5px,#e5ada1 242.5px)"></i>
<i style="left:625px;top:365px;width:18px;height:248px;background:linear-gradient(#5b7ae5 7px,#3b4cc0 8px 13.9px,#6180e9 14.9px 20.8px,#c6d6f1 21.8px 27.7px,#f4987a 28.7px 34.6px,#c12b30 35.6px 41.5px,#c43032 42.5px 48.4px,#f6a283 49.4px 55.3px,#bfd3f6 56.3px 62.2px,#5b7ae5 63.2px 69.1px,#3b4cc0 70.1px 76px,#6180e9 77px 82.9px,#c6d6f1 83.9px 89.8px,#f4987a 90.8px 96.7px,#c12b30 97.7px 103.6px,#c43032 104.6px 110.5px,#f6a283 111.5px 117.4px,#bfd3f6 118.4px 124.3px,#5b7ae5 125.3px 131.2px,#3b4cc0 132.2px 138px,#6180e9 139px 144.9px,#c6d6f1 145.9px 151.8px,#f4987a 152.8px 158.7px,#c12b30 159.7px 165.6px,#c43032 166.6px 172.5px,#f6a283 173.5px 179.4px,#bfd3f6 180.4px 186.3px,#5b7ae5 187.3px 193.2px,#3b4cc0 194.2px 200.1px,#6180e9 201.1px 207px,#c6d6f1 208px 213.9px,#f4987a 214.9px 220.8px,#c12b30 221.8px 227.7px,#c43032 228.7px 234.6px,#f6a283 235.6px 241.5px,#bfd3f6 242.5px)"></i>
<i style="left:643px;top:365px;width:18px;height:248px;background:linear-gradient(#3b4cc0 7px,#5d7ce6 8px 13.9px,#afcafc 14.9px 20.8px,#f2cbb7 21.8px 27.7px,#f4987a 28.7px 34.6px,#f6a283 35.6px 41.5px,#e8d6cc 42.5px 48.4px,#98b9ff 49.4px 55.3px,#4f69d9 56.3px 62.2px,#3b4cc0 63.2px 69.1px,#5d7ce6 70.1px 76px,#afcafc 77px 82.9px,#f2cbb7 83.9px 89.8px,#f4987a 90.8px 96.7px,#f6a283 97.7px 103.6px,#e8d6cc 104.6px 110.5px,#98b9ff 111.5px 117.4px,#4f69d9 118.4px 124.3px,#3b4cc0 125.3px 131.2px,#5d7ce6 132.2px 138px,#afcafc 139px 144.9px,#f2cbb7 145.9px 151.8px,#f4987a 152.8px 158.7px,#f6a283 159.7px 165.6px,#e8d6cc 166.6px 172.5px,#98b9ff 173.5px 179.4px,#4f69d9 180.4px 186.3px,#3b4cc0 187.3px 193.2px,#5d7ce6 194.2px 200.1px,#afcafc 201.1px 207px,#f2cbb7 208px 213.9px,#f4987a 214.9px 220.8px,#f6a283 221.8px 227.7px,#e8d6cc 228.7px 234.6px,#98b9ff 235.6px 241.5px,#4f69d9 242.5px)"></i>
<i style="left:661px;top:365px;width:1px;height:248px;background:linear-gradient(#506bd9 7px,#7da0f7 8px 13.9px,#b4ccfa 14.9px 20.8px,#d2d5e3 21.8px 27.7px,#c9c6dc 28.7px 34.6px,#aab3e5 35.6px 41.5px,#7e94e4 42.5px 48.4px,#526ad3 49.4px 55.3px,#4054c7 56.3px 62.2px,#506bd9 63.2px 69.1px,#7da0f7 70.1px 76px,#b4ccfa 77px 82.9px,#d2d5e3 83.9px 89.8px,#c9c6dc 90.8px 96.7px,#aab3e5 97.7px 103.6px,#7e94e4 104.6px 110.5px,#526ad3 111.5px 117.4px,#4054c7 118.4px 124.3px,#506bd9 125.3px 131.2px,#7da0f7 132.2px 138px,#b4ccfa 139px 144.9px,#d2d5e3 145.9px 151.8px,#c9c6dc 152.8px 158.7px,#aab3e5 159.7px 165.6px,#7e94e4 166.6px 172.5px,#526ad3 173.5px 179.4px,#4054c7 180.4px 186.3px,#506bd9 187.3px 193.2px,#7da0f7 194.2px 200.1px,#b4ccfa 201.1px 207px,#d2d5e3 208px 213.9px,#c9c6dc 214.9px 220.8px,#aab3e5 221.8px 227.7px,#7e94e4 228.7px 234.6px,#526ad3 235.6px 241.5px,#4054c7 242.5px)"></i>
<i style="left:662px;top:365px;width:17px;height:248px;background:linear-gradient(#5673e0 7px,#86a9fc 8px 13.9px,#b5cdfa 14.9px 20.8px,#cad8ef 21.8px 27.7px,#bed2f6 28.7px 34.6px,#96b7ff 35.6px 41.5px,#6282ea 42.5px 48.4px,#4055c8 49.4px 55.3px,#3c4ec2 56.3px 62.2px,#5673e0 63.2px 69.1px,#86a9fc 70.1px 76px,#b5cdfa 77px 82.9px,#cad8ef 83.9px 89.8px,#bed2f6 90.8px 96.7px,#96b7ff 97.7px 103.6px,#6282ea 104.6px 110.5px,#4055c8 111.5px 117.4px,#3c4ec2 118.4px 124.3px,#5673e0 125.3px 131.2px,#86a9fc 132.2px 138px,#b5cdfa 139px 144.9px,#cad8ef 145.9px 151.8px,#bed2f6 152.8px 158.7px,#96b7ff 159.7px 165.6px,#6282ea 166.6px 172.5px,#4055c8 173.5px 179.4px,#3c4ec2 180.4px 186.3px,#5673e0 187.3px 193.2px,#86a9fc 194.2px 200.1px,#b5cdfa 201.1px 207px,#cad8ef 208px 213.9px,#bed2f6 214.9px 220.8px,#96b7ff 221.8px 227.7px,#6282ea 228.7px 234.6px,#4055c8 235.6px 241.5px,#3c4ec2 242.5px)"></i>
<i style="left:679px;top:365px;width:1px;height:248px;background:linear-gradient(#5a78e4 7px,#7597f4 8px 13.9px,#8ba8f3 14.9px 20.8px,#8ea5ea 21.8px 27.7px,#8096e4 28.7px 34.6px,#6680e0 35.6px 41.5px,#4d65d3 42.5px 48.4px,#4055c8 49.4px 55.3px,#465cce 56.3px 62.2px,#5a78e4 63.2px 69.1px,#7597f4 70.1px 76px,#8ba8f3 77px 82.9px,#8ea5ea 83.9px 89.8px,#8096e4 90.8px 96.7px,#6680e0 97.7px 103.6px,#4d65d3 104.6px 110.5px,#4055c8 111.5px 117.4px,#465cce 118.4px 124.3px,#5a78e4 125.3px 131.2px,#7597f4 132.2px 138px,#8ba8f3 139px 144.9px,#8ea5ea 145.9px 151.8px,#8096e4 152.8px 158.7px,#6680e0 159.7px 165.6px,#4d65d3 166.6px 172.5px,#4055c8 173.5px 179.4px,#465cce 180.4px 186.3px,#5a78e4 187.3px 193.2px,#7597f4 194.2px 200.1px,#8ba8f3 201.1px 207px,#8ea5ea 208px 213.9px,#8096e4 214.9px 220.8px,#6680e0 221.8px 227.7px,#4d65d3 228.7px 234.6px,#4055c8 235.6px 241.5px,#465cce 242.5px)"></i>
<i style="left:680px;top:365px;width:17px;height:248px;background:linear-gradient(#5e7de7 7px,#6788ee 8px 20.8px,#5b7ae5 21.8px 27.7px,#4b64d5 28.7px 34.6px,#3e51c5 35.6px 41.5px,#3b4cc0 42.5px 48.4px,#4055c8 49.4px 55.3px,#4e68d8 56.3px 62.2px,#5e7de7 63.2px 69.1px,#6788ee 70.1px 82.9px,#5b7ae5 83.9px 89.8px,#4b64d5 90.8px 96.7px,#3e51c5 97.7px 103.6px,#3b4cc0 104.6px 110.5px,#4055c8 111.5px 117.4px,#4e68d8 118.4px 124.3px,#5e7de7 125.3px 131.2px,#6788ee 132.2px 144.9px,#5b7ae5 145.9px 151.8px,#4b64d5 152.8px 158.7px,#3e51c5 159.7px 165.6px,#3b4cc0 166.6px 172.5px,#4055c8 173.5px 179.4px,#4e68d8 180.4px 186.3px,#5e7de7 187.3px 193.2px,#6788ee 194.2px 207px,#5b7ae5 208px 213.9px,#4b64d5 214.9px 220.8px,#3e51c5 221.8px 227.7px,#3b4cc0 228.7px 234.6px,#4055c8 235.6px 241.5px,#4e68d8 242.5px)"></i>
<i style="left:697px;top:365px;width:1px;height:248px;background:linear-gradient(#5570dd 7px,#5a76e0 8px 20.8px,#526ddb 21.8px 27.7px,#4860d1 28.7px 34.6px,#4054c7 35.6px 41.5px,#3f52c5 42.5px 48.4px,#4258ca 49.4px 55.3px,#4b63d4 56.3px 62.2px,#5570dd 63.2px 69.1px,#5a76e0 70.1px 82.9px,#526ddb 83.9px 89.8px,#4860d1 90.8px 96.7px,#4054c7 97.7px 103.6px,#3f52c5 104.6px 110.5px,#4258ca 111.5px 117.4px,#4b63d4 118.4px 124.3px,#5570dd 125.3px 131.2px,#5a76e0 132.2px 144.9px,#526ddb 145.9px 151.8px,#4860d1 152.8px 158.7px,#4054c7 159.7px 165.6px,#3f52c5 166.6px 172.5px,#4258ca 173.5px 179.4px,#4b63d4 180.4px 186.3px,#5570dd 187.3px 193.2px,#5a76e0 194.2px 207px,#526ddb 208px 213.9px,#4860d1 214.9px 220.8px,#4054c7 221.8px 227.7px,#3f52c5 228.7px 234.6px,#4258ca 235.6px 241.5px,#4b63d4 242.5px)"></i>
<i style="left:698px;top:365px;width:18px;height:248px;background:linear-gradient(#3e51c5 7px,#3b4cc0 8px 20.8px,#3c4ec2 21.8px 27.7px,#4055c8 28.7px 34.6px,#445acc 35.6px 41.5px,#485fd1 42.5px 48.4px,#465ecf 49.4px 55.3px,#4358cb 56.3px 62.2px,#3e51c5 63.2px 69.1px,#3b4cc0 70.1px 82.9px,#3c4ec2 83.9px 89.8px,#4055c8 90.8px 96.7px,#445acc 97.7px 103.6px,#485fd1 104.6px 110.5px,#465ecf 111.5px 117.4px,#4358cb 118.4px 124.3px,#3e51c5 125.3px 131.2px,#3b4cc0 132.2px 144.9px,#3c4ec2 145.9px 151.8px,#4055c8 152.8px 158.7px,#445acc 159.7px 165.6px,#485fd1 166.6px 172.5px,#465ecf 173.5px 179.4px,#4358cb 180.4px 186.3px,#3e51c5 187.3px 193.2px,#3b4cc0 194.2px 207px,#3c4ec2 208px 213.9px,#4055c8 214.9px 220.8px,#445acc 221.8px 227.7px,#485fd1 228.7px 234.6px,#465ecf 235.6px 241.5px,#4358cb 242.5px)"></i>
<i style="left:716px;top:365px;width:18px;height:248px;background:linear-gradient(#4e68d8 7px,#6180e9 8px 13.9px,#6e90f2 14.9px 20.8px,#6f92f3 21.8px 27.7px,#6384eb 28.7px 34.6px,#516ddb 35.6px 41.5px,#4257c9 42.5px 48.4px,#3b4cc0 49.4px 55.3px,#3e51c5 56.3px 62.2px,#4e68d8 63.2px 69.1px,#6180e9 70.1px 76px,#6e90f2 77px 82.9px,#6f92f3 83.9px 89.8px,#6384eb 90.8px 96.7px,#516ddb 97.7px 103.6px,#4257c9 104.6px 110.5px,#3b4cc0 111.5px 117.4px,#3e51c5 118.4px 124.3px,#4e68d8 125.3px 131.2px,#6180e9 132.2px 138px,#6e90f2 139px 144.9px,#6f92f3 145.9px 151.8px,#6384eb 152.8px 158.7px,#516ddb 159.7px 165.6px,#4257c9 166.6px 172.5px,#3b4cc0 173.5px 179.4px,#3e51c5 180.4px 186.3px,#4e68d8 187.3px 193.2px,#6180e9 194.2px 200.1px,#6e90f2 201.1px 207px,#6f92f3 208px 213.9px,#6384eb 214.9px 220.8px,#516ddb 221.8px 227.7px,#4257c9 228.7px 234.6px,#3b4cc0 235.6px 241.5px,#3e51c5 242.5px)"></i>
<i style="left:734px;top:365px;width:1px;height:248px;background:linear-gradient(#acbfee 7px,#bdc9e7 8px 13.9px,#b2c7f4 14.9px 20.8px,#8caefc 21.8px 27.7px,#5e7ee7 28.7px 34.6px,#4257c9 35.6px 41.5px,#3f52c6 42.5px 48.4px,#5875e0 49.4px 55.3px,#85a3f3 56.3px 62.2px,#acbfee 63.2px 69.1px,#bdc9e7 70.1px 76px,#b2c7f4 77px 82.9px,#8caefc 83.9px 89.8px,#5e7ee7 90.8px 96.7px,#4257c9 97.7px 103.6px,#3f52c6 104.6px 110.5px,#5875e0 111.5px 117.4px,#85a3f3 118.4px 124.3px,#acbfee 125.3px 131.2px,#bdc9e7 132.2px 138px,#b2c7f4 139px 144.9px,#8caefc 145.9px 151.8px,#5e7ee7 152.8px 158.7px,#4257c9 159.7px 165.6px,#3f52c6 166.6px 172.5px,#5875e0 173.5px 179.4px,#85a3f3 180.4px 186.3px,#acbfee 187.3px 193.2px,#bdc9e7 194.2px 200.1px,#b2c7f4 201.1px 207px,#8caefc 208px 213.9px,#5e7ee7 214.9px 220.8px,#4257c9 221.8px 227.7px,#3f52c6 228.7px 234.6px,#5875e0 235.6px 241.5px,#85a3f3 242.5px)"></i>
<i style="left:735px;top:365px;width:17px;height:248px;background:linear-gradient(#c4d5f3 7px,#d4dbe6 8px 13.9px,#c3d5f4 14.9px 20.8px,#93b5fe 21.8px 27.7px,#5d7ce6 28.7px 34.6px,#3e51c5 35.6px 48.4px,#5f7fe8 49.4px 55.3px,#97b8ff 56.3px 62.2px,#c4d5f3 63.2px 69.1px,#d4dbe6 70.1px 76px,#c3d5f4 77px 82.9px,#93b5fe 83.9px 89.8px,#5d7ce6 90.8px 96.7px,#3e51c5 97.7px 110.5px,#5f7fe8 111.5px 117.4px,#97b8ff 118.4px 124.3px,#c4d5f3 125.3px 131.2px,#d4dbe6 132.2px 138px,#c3d5f4 139px 144.9px,#93b5fe 145.9px 151.8px,#5d7ce6 152.8px 158.7px,#3e51c5 159.7px 172.5px,#5f7fe8 173.5px 179.4px,#97b8ff 180.4px 186.3px,#c4d5f3 187.3px 193.2px,#d4dbe6 194.2px 200.1px,#c3d5f4 201.1px 207px,#93b5fe 208px 213.9px,#5d7ce6 214.9px 220.8px,#3e51c5 221.8px 234.6px,#5f7fe8 235.6px 241.5px,#97b8ff 242.5px)"></i>
<i style="left:752px;top:365px;width:1px;height:248px;background:linear-gradient(#dcaca9 7px,#e7cac0 8px 13.9px,#c1d4f5 14.9px 20.8px,#7b9cf5 21.8px 27.7px,#4b63d2 28.7px 34.6px,#455bcd 35.6px 41.5px,#6b86e4 42.5px 48.4px,#a8b0dc 49.4px 55.3px,#cba9b8 56.3px 62.2px,#dcaca9 63.2px 69.1px,#e7cac0 70.1px 76px,#c1d4f5 77px 82.9px,#7b9cf5 83.9px 89.8px,#4b63d2 90.8px 96.7px,#455bcd 97.7px 103.6px,#6b86e4 104.6px 110.5px,#a8b0dc 111.5px 117.4px,#cba9b8 118.4px 124.3px,#dcaca9 125.3px 131.2px,#e7cac0 132.2px 138px,#c1d4f5 139px 144.9px,#7b9cf5 145.9px 151.8px,#4b63d2 152.8px 158.7px,#455bcd 159.7px 165.6px,#6b86e4 166.6px 172.5px,#a8b0dc 173.5px 179.4px,#cba9b8 180.4px 186.3px,#dcaca9 187.3px 193.2px,#e7cac0 194.2px 200.1px,#c1d4f5 201.1px 207px,#7b9cf5 208px 213.9px,#4b63d2 214.9px 220.8px,#455bcd 221.8px 227.7px,#6b86e4 228.7px 234.6px,#a8b0dc 235.6px 241.5px,#cba9b8 242.5px)"></i>
<i style="left:753px;top:365px;width:17px;height:248px;background:linear-gradient(#f08a6c 7px,#f7bca1 8px 13.9px,#bfd3f6 14.9px 20.8px,#6788ee 21.8px 27.7px,#3c4ec2 28.7px 34.6px,#4a63d3 35.6px 41.5px,#90b2fe 42.5px 48.4px,#e4d9d2 49.4px 55.3px,#f59d7e 56.3px 62.2px,#f08a6c 63.2px 69.1px,#f7bca1 70.1px 76px,#bfd3f6 77px 82.9px,#6788ee 83.9px 89.8px,#3c4ec2 90.8px 96.7px,#4a63d3 97.7px 103.6px,#90b2fe 104.6px 110.5px,#e4d9d2 111.5px 117.4px,#f59d7e 118.4px 124.3px,#f08a6c 125.3px 131.2px,#f7bca1 132.2px 138px,#bfd3f6 139px 144.9px,#6788ee 145.9px 151.8px,#3c4ec2 152.8px 158.7px,#4a63d3 159.7px 165.6px,#90b2fe 166.6px 172.5px,#e4d9d2 173.5px 179.4px,#f59d7e 180.4px 186.3px,#f08a6c 187.3px 193.2px,#f7bca1 194.2px 200.1px,#bfd3f6 201.1px 207px,#6788ee 208px 213.9px,#3c4ec2 214.9px 220.8px,#4a63d3 221.8px 227.7px,#90b2fe 228.7px 234.6px,#e4d9d2 235.6px 241.5px,#f59d7e 242.5px)"></i>
<i style="left:811.10px;top:45.86px;width:12.70px;height:247.00px;background:linear-gradient(#b40426,#ba162b,#c0282f,#c53334,#cb3e38,#d0473d,#d55042,#d95847,#de614d,#e26952,#e57058,#e9785d,#ec7f63,#ee8669,#f18d6f,#f39475,#f59c7d,#f6a283,#f7a889,#f7ad90,#f7b396,#f7b89c,#f6bda2,#f5c1a9,#f4c6af,#f2cab5,#f0cdbb,#edd1c2,#ead4c8,#e7d7ce,#e3d9d3,#dfdbd9,#dadce0,#d6dce4,#d2dbe8,#cdd9ec,#c9d7f0,#c4d5f3,#bfd3f6,#bad0f8,#b5cdfa,#afcafc,#aac7fd,#a5c3fe,#9fbfff,#9abbff,#94b6ff,#8fb1fe,#88abfd,#82a6fb,#7da0f9,#779af7,#7295f4,#6c8ff1,#6788ee,#6282ea,#5d7ce6,#5875e1,#536edd,#4e68d8,#4961d2,#445acc,#3f53c6,#3b4cc0)"></i>
<i style="left:811.10px;top:365.86px;width:12.70px;height:247.00px;background:linear-gradient(#b40426,#ba162b,#c0282f,#c53334,#cb3e38,#d0473d,#d55042,#d95847,#de614d,#e26952,#e57058,#e9785d,#ec7f63,#ee8669,#f18d6f,#f39475,#f59c7d,#f6a283,#f7a889,#f7ad90,#f7b396,#f7b89c,#f6bda2,#f5c1a9,#f4c6af,#f2cab5,#f0cdbb,#edd1c2,#ead4c8,#e7d7ce,#e3d9d3,#dfdbd9,#dadce0,#d6dce4,#d2dbe8,#cdd9ec,#c9d7f0,#c4d5f3,#bfd3f6,#bad0f8,#b5cdfa,#afcafc,#aac7fd,#a5c3fe,#9fbfff,#9abbff,#94b6ff,#8fb1fe,#88abfd,#82a6fb,#7da0f9,#779af7,#7295f4,#6c8ff1,#6788ee,#6282ea,#5d7ce6,#5875e1,#536edd,#4e68d8,#4961d2,#445acc,#3f53c6,#3b4cc0)"></i>
<i style="left:1059px;top:43px;width:15px;height:136px;background:linear-gradient(#e36b54 2.1px,#f08a6c 3.1px 4.9px,#f7aa8c 5.9px 7.6px,#f3c8b2 8.6px 10.4px,#dedcdb 11.4px 13.1px,#bed2f6 14.1px 15.9px,#96b7ff 16.9px 18.6px,#6a8bef 19.6px 21.3px,#4257c9 22.3px 24.1px,#5977e3 25.1px 26.8px,#84a7fc 27.8px 29.6px,#adc9fd 30.6px 32.3px,#d2dbe8 33.3px 35.1px,#edd2c3 36.1px 37.8px,#f7b89c 38.8px 40.6px,#f4987a 41.6px 43.3px,#e9785d 44.3px 46.1px,#d95847 47.1px 48.8px,#cb3e38 49.8px 51.6px,#c0282f 52.6px 54.3px,#ba162b 55.3px 59.8px,#c0282f 60.8px 62.5px,#cc403a 63.5px 65.3px,#da5a49 66.3px 68px,#e97a5f 69px 70.8px,#f49a7b 71.8px 73.5px,#f7ba9f 74.5px 76.3px,#ebd3c6 77.3px 79px,#cfdaea 80px 81.8px,#aac7fd 82.8px 84.5px,#80a3fa 85.5px 87.3px,#5572df 88.3px 90px,#455cce 91px 92.8px,#6e90f2 93.8px 95.5px,#98b9ff 96.5px 98.3px,#c0d4f5 99.3px 101px,#e0dbd8 102px 103.8px,#f3c7b1 104.8px 106.5px,#f7a98b 107.5px 109.2px,#ef886b 110.2px 112px,#e16751 113px 114.7px,#d1493f 115.7px 117.5px,#c43032 118.5px 120.2px,#bb1b2c 121.2px 123px,#b8122a 124px 125.7px,#bd1f2d 126.7px 128.5px,#c53334 129.5px 131.2px,#d24b40 132.2px)"></i>
<i style="left:1074px;top:43px;width:1px;height:136px;background:linear-gradient(#ed8367 1.2px,#f6a586,#f3c4ad,#e1d9d5,#c2d4f3,#9abafe,#6f90f1,#445bcc,#5775e1,#80a3f9,#aac6fc,#d0d9e8,#ebd1c4,#f6b79c,#f39879,#e7745c,#d75445,#c73736,#bc1a2c,#b50827,#b50627,#bb1a2c,#c73635,#d65244,#e67159,#f29475,#f7b599,#edd0c1,#d4d9e5,#afcafb,#84a7fa,#5a77e2,#475ed0,#6b8cef,#96b7fe,#bfd2f4,#dfd8d7,#f3c6b1,#f6a98b,#ed8569,#e06550,#cf463d,#c22b31,#b81129,#b50627,#b70e28,#c12a30,#ce433b,#df624d 133.1px)"></i>
<i style="left:1075px;top:43px;width:12px;height:136px;background:linear-gradient(#ee8669 2.1px,#f7a889 3.1px 4.9px,#f3c7b1 5.9px 7.6px,#dfdbd9 8.6px 10.4px,#bfd3f6 11.4px 13.1px,#96b7ff 14.1px 15.9px,#6a8bef 16.9px 18.6px,#4055c8 19.6px 21.3px,#5a78e4 22.3px 24.1px,#85a8fc 25.1px 26.8px,#afcafc 27.8px 29.6px,#d4dbe6 30.6px 32.3px,#eed0c0 33.3px 35.1px,#f7b497 36.1px 37.8px,#f39475 38.8px 40.6px,#e57058 41.6px 43.3px,#d55042 44.3px 46.1px,#c53334 47.1px 48.8px,#ba162b 49.8px 51.6px,#b40426 52.6px 57.1px,#bb1b2c 58.1px 59.8px,#c83836 60.8px 62.5px,#d75445 63.5px 65.3px,#e7745b 66.3px 68px,#f39778 69px 70.8px,#f7b89c 71.8px 73.5px,#ecd3c5 74.5px 76.3px,#d1dae9 77.3px 79px,#abc8fd 80px 81.8px,#80a3fa 82.8px 84.5px,#5572df 85.5px 87.3px,#455cce 88.3px 90px,#6f92f3 91px 92.8px,#9bbcff 93.8px 95.5px,#c4d5f3 96.5px 98.3px,#e3d9d3 99.3px 101px,#f5c4ac 102px 103.8px,#f6a586 104.8px 106.5px,#ec8165 107.5px 109.2px,#de614d 110.2px 112px,#cd423b 113px 114.7px,#c0282f 115.7px 117.5px,#b70d28 118.5px 120.2px,#b40426 121.2px 123px,#b70d28 124px 125.7px,#c12b30 126.7px 128.5px,#cf453c 129.5px 131.2px,#e0654f 132.2px)"></i>
<i style="left:1087px;top:43px;width:1px;height:136px;background:linear-gradient(#f2977a 1.2px,#f5b79d,#e9d1c5,#cfd7e7,#abc5fa,#80a1f7,#5671dc,#4d66d6,#6f90f0,#9ab9fc,#c1d2f1,#e1d6d3,#f2c3ad,#f5a486,#ed8367,#de614e,#ce433c,#c02730,#b81029,#b40626,#b70f29,#c12931,#cf463d,#df6550,#ed8569,#f5a78a,#f2c5b0,#dfd6d7,#bed1f3,#96b6fc,#6b8bed,#4d67d7,#5a77e0,#85a7f9,#afc8fa,#d3d7e4,#eccfc0,#f5b599,#f29476,#e57159,#d65244,#c73535,#bc1b2c,#b60927,#b60b28,#bc1c2c,#c83936,#d75545,#e7755c 133.1px)"></i>
<i style="left:1088px;top:43px;width:12px;height:136px;background:linear-gradient(#f7a98b 2.1px,#f3c7b1 3.1px 4.9px,#dfdbd9 5.9px 7.6px,#bfd3f6 8.6px 10.4px,#96b7ff 11.4px 13.1px,#6a8bef 14.1px 15.9px,#4257c9 16.9px 18.6px,#5a78e4 19.6px 21.3px,#85a8fc 22.3px 24.1px,#afcafc 25.1px 26.8px,#d4dbe6 27.8px 29.6px,#eed0c0 30.6px 32.3px,#f7b599 33.3px 35.1px,#f39475 36.1px 37.8px,#e67259 38.8px 40.6px,#d65244 41.6px 43.3px,#c73635 44.3px 46.1px,#bb1b2c 47.1px 48.8px,#b50927 49.8px 54.3px,#bb1b2c 55.3px 57.1px,#c83836 58.1px 59.8px,#d75445 60.8px 62.5px,#e8765c 63.5px 65.3px,#f39778 66.3px 68px,#f7b89c 69px 70.8px,#ecd3c5 71.8px 73.5px,#d1dae9 74.5px 76.3px,#abc8fd 77.3px 79px,#80a3fa 80px 81.8px,#5572df 82.8px 84.5px,#455cce 85.5px 87.3px,#6f92f3 88.3px 90px,#9bbcff 91px 92.8px,#c3d5f4 93.8px 95.5px,#e2dad5 96.5px 98.3px,#f5c4ac 99.3px 101px,#f6a586 102px 103.8px,#ed8366 104.8px 106.5px,#de614d 107.5px 109.2px,#cd423b 110.2px 112px,#c0282f 113px 114.7px,#b70d28 115.7px 117.5px,#b40426 118.5px 120.2px,#b8122a 121.2px 123px,#c12b30 124px 125.7px,#d0473d 126.7px 128.5px,#e0654f 129.5px 131.2px,#ee8669 132.2px)"></i>
<i style="left:1100px;top:43px;width:1px;height:136px;background:linear-gradient(#f6ac8f 1.2px,#f1c9b5,#dcdadc,#bbd0f7,#91b2fd,#6686eb,#445acb,#5e7de6,#89abfc,#b2ccfa,#d6dae3,#efcebd,#f7b296,#f29173,#e57057,#d55043,#c63534,#bb1b2c,#b60b28,#b60c28,#bd1f2e,#ca3c38,#d95848,#e97a5f,#f39b7c,#f6bba1,#e9d4c9,#cdd8eb,#a7c4fd,#7c9ef7,#5370dd,#4961d2,#7396f4,#9fbefe,#c6d6f1,#e4d8d1,#f5c1a9,#f5a283,#ec8064,#dd5f4c,#cc413a,#c0282f,#b70e28,#b50727,#ba162b,#c32f32,#d24b3f,#e26952,#ef8a6d 133.1px)"></i>
<i style="left:1101px;top:43px;width:13px;height:136px;background:linear-gradient(#f2c9b4 2.1px,#dedcdb 3.1px 4.9px,#bed2f6 5.9px 7.6px,#96b7ff 8.6px 10.4px,#6a8bef 11.4px 13.1px,#4257c9 14.1px 15.9px,#5875e1 16.9px 18.6px,#82a6fb 19.6px 21.3px,#adc9fd 22.3px 24.1px,#d1dae9 25.1px 26.8px,#ecd3c5 27.8px 29.6px,#f7b99e 30.6px 32.3px,#f49a7b 33.3px 35.1px,#e97a5f 36.1px 37.8px,#da5a49 38.8px 40.6px,#cc403a 41.6px 43.3px,#c12b30 44.3px 46.1px,#bb1b2c 47.1px 51.6px,#c12b30 52.6px 54.3px,#cd423b 55.3px 57.1px,#dc5d4a 58.1px 59.8px,#ea7b60 60.8px 62.5px,#f59c7d 63.5px 65.3px,#f7bca1 66.3px 68px,#ead4c8 69px 70.8px,#cfdaea 71.8px 73.5px,#aac7fd 74.5px 76.3px,#80a3fa 77.3px 79px,#5572df 80px 81.8px,#445acc 82.8px 84.5px,#6c8ff1 85.5px 87.3px,#98b9ff 88.3px 90px,#c0d4f5 91px 92.8px,#dfdbd9 93.8px 95.5px,#f3c7b1 96.5px 98.3px,#f7aa8c 99.3px 101px,#f08a6c 102px 103.8px,#e26952 104.8px 106.5px,#d44e41 107.5px 109.2px,#c73635 110.2px 112px,#be242e 113px 114.7px,#bb1b2c 115.7px 117.5px,#be242e 118.5px 120.2px,#c73635 121.2px 123px,#d44e41 124px 125.7px,#e36b54 126.7px 128.5px,#f08b6e 129.5px 131.2px,#f7ac8e 132.2px)"></i>
<i style="left:1114px;top:43px;width:1px;height:136px;background:linear-gradient(#e2d6d2 1.2px,#c5d4f0,#a0befc,#7899f4,#4f68d6,#4f6ad9,#7293f2,#9bbbfd,#c2d4f2,#e0d8d7,#f2c6b1,#f6ab8d,#f08d70,#e56f57,#d85646,#cd413b,#c53334,#c32e32,#c73536,#d0473e,#dd5f4d,#e97a60,#f2977a,#f5b59b,#eccebf,#d5d8e2,#b4ccf7,#8caefb,#6281e8,#485fcf,#5d7ce5,#87a9fa,#b0c9fa,#d2dae7,#ebd1c4,#f6ba9f,#f49d7e,#eb7f63,#de624d,#d24a40,#c93a36,#c43133,#c63234,#cb3e3a,#d65244,#e36c55,#ee896d,#f5a78a,#f3c3ad 133.1px)"></i>
<i style="left:1115px;top:43px;width:12px;height:136px;background:linear-gradient(#dbdcde 2.1px,#bbd1f8 3.1px 4.9px,#94b6ff 5.9px 7.6px,#6b8df0 8.6px 10.4px,#445acc 11.4px 13.1px,#5572df 14.1px 15.9px,#7da0f9 16.9px 18.6px,#a6c4fe 19.6px 21.3px,#cbd8ee 22.3px 24.1px,#e6d7cf 25.1px 26.8px,#f5c1a9 27.8px 29.6px,#f6a586 30.6px 32.3px,#ef886b 33.3px 35.1px,#e36b54 36.1px 37.8px,#d75445 38.8px 40.6px,#cd423b 41.6px 43.3px,#c73635 44.3px 48.8px,#cc403a 49.8px 51.6px,#d65244 52.6px 54.3px,#e36b54 55.3px 57.1px,#ee8669 58.1px 59.8px,#f6a385 60.8px 62.5px,#f5c0a7 63.5px 65.3px,#e8d6cc 66.3px 68px,#ccd9ed 69px 70.8px,#a9c6fd 71.8px 73.5px,#80a3fa 74.5px 76.3px,#5673e0 77.3px 79px,#4257c9 80px 81.8px,#688aef 82.8px 84.5px,#92b4fe 85.5px 87.3px,#bad0f8 88.3px 90px,#d9dce1 91px 92.8px,#f0cdbb 93.8px 95.5px,#f7b497 96.5px 98.3px,#f39778 99.3px 101px,#e97a5f 102px 103.8px,#dd5f4b 104.8px 106.5px,#d1493f 107.5px 109.2px,#ca3b37 110.2px 112px,#c73635 113px 114.7px,#ca3b37 115.7px 117.5px,#d1493f 118.5px 120.2px,#dc5d4a 121.2px 123px,#e9785d 124px 125.7px,#f39577 126.7px 128.5px,#f7b396 129.5px 131.2px,#f1cdba 132.2px)"></i>
<i style="left:1127px;top:43px;width:1px;height:136px;background:linear-gradient(#d0d8e6 1.2px,#afc8fa,#88aafb,#5f7ee6,#485fd0,#5f7ee6,#87a9fb,#aec9fb,#d1d9e8,#e9d4c8,#f6bda3,#f5a283,#ee8669,#e36b54,#d95747,#d0483e,#cc3f3a,#cd413b,#d34d41,#dc5f4d,#e8785e,#f19375,#f5ae93,#efc8b5,#ded6d7,#c0d2f2,#9cbbfc,#7495f3,#4f68d8,#4c65d4,#7295f3,#9bbbfd,#c1d3f3,#dedada,#f2c9b5,#f7b093,#f29475,#e9795e,#de614c,#d34d41,#ce423b,#cc3f3a,#d0473e,#d85647,#e26a54,#ed8569,#f4a184,#f4bca4,#e9d2c7 133.1px)"></i>
<i style="left:1128px;top:43px;width:13px;height:136px;background:linear-gradient(#b9d0f9 2.1px,#93b5fe 3.1px 4.9px,#6c8ff1 5.9px 7.6px,#465ecf 8.6px 10.4px,#506bda 11.4px 13.1px,#7699f6 14.1px 15.9px,#9ebeff 16.9px 18.6px,#c1d4f4 19.6px 21.3px,#dddcdc 22.3px 24.1px,#f1ccb8 25.1px 26.8px,#f7b497 27.8px 29.6px,#f49a7b 30.6px 32.3px,#ec8165 33.3px 35.1px,#e36c55 36.1px 37.8px,#dc5d4a 38.8px 40.6px,#d75445 41.6px 43.3px,#d65244 44.3px 46.1px,#da5a49 47.1px 48.8px,#e26952 49.8px 51.6px,#ea7b60 52.6px 54.3px,#f39475 55.3px 57.1px,#f7af91 58.1px 59.8px,#f3c7b1 60.8px 62.5px,#e3d9d3 63.5px 65.3px,#c9d7f0 66.3px 68px,#a6c4fe 69px 70.8px,#80a3fa 71.8px 73.5px,#5977e3 74.5px 76.3px,#3e51c5 77.3px 79px,#6384eb 80px 81.8px,#89acfd 82.8px 84.5px,#afcafc 85.5px 87.3px,#d1dae9 88.3px 90px,#e9d5cb 91px 92.8px,#f5c1a9 93.8px 95.5px,#f7a889 96.5px 98.3px,#f18d6f 99.3px 101px,#e8765c 102px 103.8px,#e0654f 104.8px 106.5px,#d85646 107.5px 109.2px,#d65244 110.2px 112px,#d75445 113px 114.7px,#de614d 115.7px 117.5px,#e67259 118.5px 120.2px,#ef886b 121.2px 123px,#f6a283 124px 125.7px,#f7bca1 126.7px 128.5px,#edd1c2 129.5px 131.2px,#d7dce3 132.2px)"></i>
<i style="left:1141px;top:43px;width:1px;height:136px;background:linear-gradient(#95b6fe 1.2px,#7193f3,#4d67d6,#4a63d3,#6a8cef,#90b2fd,#b1ccfb,#d0d9ea,#e7d7cd,#f4c7b0,#f7b093,#f59c7d,#f0896b,#e97a5f,#e6725a,#e56f57,#e6735a,#ea7e63,#f18f71,#f6a285,#f7b79b,#f0cbb9,#dfdad8,#c7d5f0,#a6c4fd,#83a6fa,#5e7de7,#3e50c3,#5977e2,#7ea0f9,#a1c0fe,#c2d4f4,#dcdcdd,#eecfbe,#f7bca2,#f7a688,#f29274,#ed8265,#e7755b,#e57057,#e67159,#e8785e,#ee8769,#f4987a,#f6ad90,#f4c2a9,#e9d4c8,#d4dae5,#b8cef8 133.1px)"></i>
<i style="left:1142px;top:43px;width:12px;height:136px;background:linear-gradient(#92b4fe 2.1px,#6e90f2 3.1px 4.9px,#4a63d3 5.9px 10.4px,#6c8ff1 11.4px 13.1px,#92b4fe 14.1px 15.9px,#b3cdfb 16.9px 18.6px,#d1dae9 19.6px 21.3px,#e8d6cc 22.3px 24.1px,#f4c6af 25.1px 26.8px,#f7b093 27.8px 29.6px,#f59c7d 30.6px 32.3px,#f08a6c 33.3px 35.1px,#ea7b60 36.1px 37.8px,#e7745b 38.8px 40.6px,#e67259 41.6px 43.3px,#e8765c 44.3px 46.1px,#ec8165 47.1px 48.8px,#f29274 49.8px 51.6px,#f7a688 52.6px 54.3px,#f7ba9f 55.3px 57.1px,#efcebd 58.1px 59.8px,#dddcdc 60.8px 62.5px,#c4d5f3 63.5px 65.3px,#a3c2fe 66.3px 68px,#80a3fa 69px 70.8px,#5b7ae5 71.8px 73.5px,#3b4cc0 74.5px 76.3px,#5b7ae5 77.3px 79px,#80a3fa 80px 81.8px,#a3c2fe 82.8px 84.5px,#c4d5f3 85.5px 87.3px,#dddcdc 88.3px 90px,#efcebd 91px 92.8px,#f7bca1 93.8px 95.5px,#f7a688 96.5px 98.3px,#f29274 99.3px 101px,#ed8366 102px 103.8px,#e8765c 104.8px 106.5px,#e67259 107.5px 109.2px,#e7745b 110.2px 112px,#ea7b60 113px 114.7px,#f08a6c 115.7px 117.5px,#f59c7d 118.5px 120.2px,#f7b093 121.2px 123px,#f4c5ad 124px 125.7px,#e8d6cc 126.7px 128.5px,#d2dbe8 129.5px 131.2px,#b5cdfa 132.2px)"></i>
<i style="left:1154px;top:43px;width:1px;height:136px;background:linear-gradient(#80a2f8 1.2px,#5e7ce5,#465dcf,#5673df,#779bf6,#9bbbfe,#bad1f8,#d5dbe5,#e9d5ca,#f3c7b0,#f7b497,#f6a283,#f39475,#ef896c,#ed8569,#ed8469,#ef8a6e,#f29679,#f5a689,#f5b89e,#efc9b6,#e2d5d1,#cdd7ea,#b1caf9,#91b2fc,#6e8ff0,#4c66d5,#465dce,#6788ed,#8aacfc,#abc7fc,#c9d7ef,#dfdbd9,#f0cdbc,#f6bea4,#f7ab8d,#f49a7c,#f18e70,#ee8669,#ed8468,#ee876b,#f09073,#f49e81,#f5af93,#f3c0aa,#e9d0c4,#d8d7de,#c0d2f2,#a2bffc 133.1px)"></i>
<i style="left:1155px;top:43px;width:12px;height:136px;background:linear-gradient(#6f92f3 2.1px,#4f69d9 3.1px 4.9px,#4358cb 5.9px 7.6px,#6282ea 8.6px 10.4px,#82a6fb 11.4px 13.1px,#a3c2fe 14.1px 15.9px,#c0d4f5 16.9px 18.6px,#d8dce2 19.6px 21.3px,#ead5c9 22.3px 24.1px,#f3c7b1 25.1px 26.8px,#f7b79b 27.8px 29.6px,#f7a889 30.6px 32.3px,#f59d7e 33.3px 35.1px,#f39577 36.1px 37.8px,#f39475 38.8px 40.6px,#f39577 41.6px 43.3px,#f59d7e 44.3px 46.1px,#f7a98b 47.1px 48.8px,#f7b89c 49.8px 51.6px,#f3c8b2 52.6px 54.3px,#e8d6cc 55.3px 57.1px,#d6dce4 58.1px 59.8px,#bed2f6 60.8px 62.5px,#9fbfff 63.5px 65.3px,#80a3fa 66.3px 68px,#5e7de7 69px 70.8px,#3f53c6 71.8px 73.5px,#516ddb 74.5px 76.3px,#7295f4 77.3px 79px,#93b5fe 80px 81.8px,#b2ccfb 82.8px 84.5px,#cdd9ec 85.5px 87.3px,#e1dad6 88.3px 90px,#f0cdbb 91px 92.8px,#f6bfa6 93.8px 95.5px,#f7af91 96.5px 98.3px,#f6a283 99.3px 101px,#f4987a 102px 103.8px,#f39475 104.8px 109.2px,#f4987a 110.2px 112px,#f6a385 113px 114.7px,#f7b194 115.7px 117.5px,#f5c0a7 118.5px 120.2px,#efcfbf 121.2px 123px,#dfdbd9 124px 125.7px,#cad8ef 126.7px 128.5px,#afcafc 129.5px 131.2px,#90b2fe 132.2px)"></i>
<i style="left:1167px;top:43px;width:1px;height:136px;background:linear-gradient(#6c8ef0 1.2px,#4d65d6,#455bcd,#6484eb,#84a7fb,#a4c3fe,#c0d4f5,#d8dce2,#e9d5ca,#f3c8b2,#f7b99d,#f7aa8c,#f5a081,#f3997b,#f39879,#f3997c,#f5a183,#f6ad90,#f5bba1,#f0cab7,#e5d6d0,#d2dae7,#bacff7,#9bbcfe,#7c9ff8,#5b79e4,#4054c7,#5370dd,#7497f5,#94b6fe,#b3ccfb,#cdd9ec,#e1dad7,#efcebc,#f6c0a8,#f7b194,#f6a586,#f49b7e,#f39879,#f3987a,#f49d7f,#f6a78a,#f6b599,#f3c3ac,#ecd0c4,#dbdadc,#c6d6f1,#abc7fc,#8caefd 133.1px)"></i>
<i style="left:1168px;top:43px;width:13px;height:136px;background:linear-gradient(#5470de 2.1px,#3b4cc0 3.1px 4.9px,#5572df 5.9px 7.6px,#7295f4 8.6px 10.4px,#8fb1fe 11.4px 13.1px,#aac7fd 14.1px 15.9px,#c3d5f4 16.9px 18.6px,#d6dce4 19.6px 21.3px,#e5d8d1 22.3px 24.1px,#efcebd 25.1px 26.8px,#f4c5ad 27.8px 29.6px,#f7bca1 30.6px 32.3px,#f7b599 33.3px 35.1px,#f7b396 36.1px 37.8px,#f7b497 38.8px 40.6px,#f7b99e 41.6px 43.3px,#f5c0a7 44.3px 46.1px,#f2cab5 47.1px 48.8px,#ead4c8 49.8px 51.6px,#dddcdc 52.6px 54.3px,#ccd9ed 55.3px 57.1px,#b6cefa 58.1px 59.8px,#9bbcff 60.8px 62.5px,#80a3fa 63.5px 65.3px,#6282ea 66.3px 68px,#465ecf 69px 70.8px,#485fd1 71.8px 73.5px,#6384eb 74.5px 76.3px,#81a4fb 77.3px 79px,#9ebeff 80px 81.8px,#b7cff9 82.8px 84.5px,#cdd9ec 85.5px 87.3px,#dedcdb 88.3px 90px,#ebd3c6 91px 92.8px,#f2cab5 93.8px 95.5px,#f5c0a7 96.5px 98.3px,#f7b89c 99.3px 101px,#f7b497 102px 103.8px,#f7b396 104.8px 106.5px,#f7b79b 107.5px 109.2px,#f6bda2 110.2px 112px,#f4c5ad 113px 114.7px,#efcfbf 115.7px 117.5px,#e4d9d2 118.5px 120.2px,#d5dbe5 121.2px 123px,#c1d4f4 124px 125.7px,#a9c6fd 126.7px 128.5px,#8db0fe 129.5px 131.2px,#7093f3 132.2px)"></i>
<i style="left:1181px;top:43px;width:1px;height:136px;background:linear-gradient(#475ecf 1.2px,#445acc,#5c7be6,#779af7,#91b3fe,#a8c6fe,#bed3f6,#cfdaeb,#dcdbdd,#e6d6cd,#edd1c1,#f0cbb8,#f1c7b3,#f2c6b1,#f1c8b4,#eeccbb,#e9d1c6,#e2d8d2,#d6d8e1,#c8d6ee,#b5cdf9,#9fbefe,#86a8fb,#6d8ff1,#536fdd,#3f54c6,#516bda,#6a8cef,#84a7fc,#9dbdff,#b3cdfa,#c7d7f0,#d7dbe3,#e2dad5,#ead3c7,#eecebd,#f1c9b6,#f2c6b1,#f1c7b2,#f0cab7,#edcec0,#e6d4cb,#ddd8da,#d0d8e8,#bfd2f4,#aac6fc,#93b4fd,#799cf7,#607fe8 133.1px)"></i>
<i style="left:1182px;top:43px;width:12px;height:136px;background:linear-gradient(#4257c9 2.1px,#485fd1 3.1px 4.9px,#5f7fe8 5.9px 7.6px,#799cf8 8.6px 10.4px,#92b4fe 11.4px 13.1px,#a7c5fe 14.1px 15.9px,#bcd2f7 16.9px 18.6px,#ccd9ed 19.6px 21.3px,#d9dce1 22.3px 24.1px,#e3d9d3 25.1px 26.8px,#ead5c9 27.8px 29.6px,#eed0c0 30.6px 32.3px,#efcebd 33.3px 35.1px,#f0cdbb 36.1px 37.8px,#efcfbf 38.8px 40.6px,#ebd3c6 41.6px 43.3px,#e5d8d1 44.3px 46.1px,#dcdddd 47.1px 48.8px,#cfdaea 49.8px 51.6px,#c0d4f5 52.6px 54.3px,#adc9fd 55.3px 57.1px,#97b8ff 58.1px 59.8px,#7ea1fa 60.8px 62.5px,#6687ed 63.5px 65.3px,#4e68d8 66.3px 68px,#3d50c3 69px 70.8px,#5470de 71.8px 73.5px,#6c8ff1 74.5px 76.3px,#85a8fc 77.3px 79px,#9dbdff 80px 81.8px,#b2ccfb 82.8px 84.5px,#c5d6f2 85.5px 87.3px,#d4dbe6 88.3px 90px,#dedcdb 91px 92.8px,#e7d7ce 93.8px 95.5px,#ecd3c5 96.5px 98.3px,#efcfbf 99.3px 101px,#f0cdbb 102px 103.8px,#efcebd 104.8px 106.5px,#edd1c2 107.5px 109.2px,#e9d5cb 110.2px 112px,#e1dad6 113px 114.7px,#d6dce4 115.7px 117.5px,#c9d7f0 118.5px 120.2px,#b7cff9 121.2px 123px,#a2c1ff 124px 125.7px,#8badfd 126.7px 128.5px,#7295f4 129.5px 131.2px,#5a78e4 132.2px)"></i>
<i style="left:1194px;top:43px;width:1px;height:136px;background:linear-gradient(#4053c6 1.2px,#4a62d3,#607fe8,#789af7,#8fb1fe,#a3c2fe,#b6cff9,#c6d6f1,#d2dae7,#dcd9db,#e3d7d3,#e7d4cb,#e8d3c9,#e8d2c8,#e7d3cb,#e3d6d1,#dcd8db,#d3dae5,#c6d6f0,#b6cef8,#a4c2fd,#8fb0fd,#779af6,#6180e9,#4a63d4,#3f53c6,#5571df,#6c8ef1,#83a6fb,#9abaff,#aec9fc,#bfd3f5,#cdd9eb,#d7dbe2,#e0d8d7,#e5d6cf,#e8d3ca,#e8d2c8,#e7d3c9,#e5d4ce,#e0d7d6,#d8d9df,#cdd8eb,#bfd2f4,#aec9fb,#99bafe,#84a6fb,#6c8ef0,#5572df 133.1px)"></i>
<i style="left:1195px;top:43px;width:13px;height:136px;background:linear-gradient(#3b4cc0 2.1px,#4e68d8 3.1px 4.9px,#6180e9 5.9px 7.6px,#7597f6 8.6px 10.4px,#89acfd 11.4px 13.1px,#9bbcff 14.1px 15.9px,#abc8fd 16.9px 18.6px,#bad0f8 19.6px 21.3px,#c5d6f2 22.3px 24.1px,#cedaeb 25.1px 26.8px,#d4dbe6 27.8px 29.6px,#d8dce2 30.6px 32.3px,#d9dce1 33.3px 37.8px,#d6dce4 38.8px 40.6px,#d2dbe8 41.6px 43.3px,#cad8ef 44.3px 46.1px,#c0d4f5 47.1px 48.8px,#b3cdfb 49.8px 51.6px,#a3c2fe 52.6px 54.3px,#92b4fe 55.3px 57.1px,#7ea1fa 58.1px 59.8px,#6a8bef 60.8px 62.5px,#5673e0 63.5px 65.3px,#4358cb 66.3px 68px,#445acc 69px 70.8px,#5673e0 71.8px 73.5px,#6b8df0 74.5px 76.3px,#80a3fa 77.3px 79px,#93b5fe 80px 81.8px,#a5c3fe 82.8px 84.5px,#b3cdfb 85.5px 87.3px,#c0d4f5 88.3px 90px,#cad8ef 91px 92.8px,#d2dbe8 93.8px 95.5px,#d6dce4 96.5px 98.3px,#d9dce1 99.3px 103.8px,#d8dce2 104.8px 106.5px,#d4dbe6 107.5px 109.2px,#cedaeb 110.2px 112px,#c5d6f2 113px 114.7px,#bad0f8 115.7px 117.5px,#abc8fd 118.5px 120.2px,#9bbcff 121.2px 123px,#88abfd 124px 125.7px,#7597f6 126.7px 128.5px,#6180e9 129.5px 131.2px,#4c66d6 132.2px)"></i>
<i style="left:1208px;top:43px;width:13px;height:136px;background:linear-gradient(#3b4cc0 2.1px,#4961d2 3.1px 4.9px,#5977e3 5.9px 7.6px,#688aef 8.6px 10.4px,#779af7 11.4px 13.1px,#86a9fc 14.1px 15.9px,#94b6ff 16.9px 18.6px,#9fbfff 19.6px 21.3px,#a9c6fd 22.3px 24.1px,#b1cbfc 25.1px 26.8px,#b6cefa 27.8px 29.6px,#bad0f8 30.6px 32.3px,#bbd1f8 33.3px 37.8px,#b9d0f9 38.8px 40.6px,#b3cdfb 41.6px 43.3px,#adc9fd 44.3px 46.1px,#a3c2fe 47.1px 48.8px,#98b9ff 49.8px 51.6px,#8caffe 52.6px 54.3px,#7ea1fa 55.3px 57.1px,#6f92f3 58.1px 59.8px,#5f7fe8 60.8px 62.5px,#506bda 63.5px 65.3px,#4055c8 66.3px 68px,#4257c9 69px 70.8px,#516ddb 71.8px 73.5px,#6180e9 74.5px 76.3px,#7093f3 77.3px 79px,#80a3fa 80px 81.8px,#8db0fe 82.8px 84.5px,#9abbff 85.5px 87.3px,#a5c3fe 88.3px 90px,#adc9fd 91px 92.8px,#b3cdfb 93.8px 95.5px,#b9d0f9 96.5px 98.3px,#bbd1f8 99.3px 103.8px,#bad0f8 104.8px 106.5px,#b6cefa 107.5px 109.2px,#b1cbfc 110.2px 112px,#a9c6fd 113px 114.7px,#9fbfff 115.7px 117.5px,#93b5fe 118.5px 120.2px,#85a8fc 121.2px 123px,#779af7 124px 125.7px,#6788ee 126.7px 128.5px,#5875e1 129.5px 131.2px,#4961d2 132.2px)"></i>
<i style="left:1221px;top:43px;width:1px;height:136px;background:linear-gradient(#3f52c5 1.2px,#4358ca,#506bda,#5d7ce6,#6a8bef,#7799f5,#83a5fa,#8daffc,#97b7fd,#9fbdfd,#a4c1fd,#a8c4fc,#aac6fc,#aac6fc,#a9c5fc,#a4c2fd,#9fbffe,#97b8fe,#8eb0fd,#84a7fc,#799cf8,#6c8ef1,#5e7ee7,#526ddc,#445acd,#3f52c5,#4962d2,#5773e0,#6484ea,#7193f2,#7da0f8,#89abfb,#93b4fd,#9bbafd,#a1bffd,#a7c3fc,#a9c5fc,#aac6fc,#a9c5fc,#a7c4fd,#a2c0fe,#9dbcfe,#94b5fe,#8aadfc,#7fa2fa,#7396f5,#6586ed,#5976e2,#4c65d5 133.1px)"></i>
<i style="left:1222px;top:43px;width:12px;height:136px;background:linear-gradient(#4257c9 2.1px,#3d50c3 3.1px 4.9px,#4961d2 5.9px 7.6px,#5470de 8.6px 10.4px,#5f7fe8 11.4px 13.1px,#6a8bef 14.1px 15.9px,#7597f6 16.9px 18.6px,#7ea1fa 19.6px 21.3px,#88abfd 22.3px 24.1px,#8fb1fe 25.1px 26.8px,#94b6ff 27.8px 29.6px,#98b9ff 30.6px 32.3px,#9bbcff 33.3px 40.6px,#98b9ff 41.6px 43.3px,#94b6ff 44.3px 46.1px,#8db0fe 47.1px 48.8px,#86a9fc 49.8px 51.6px,#7ea1fa 52.6px 54.3px,#7597f6 55.3px 57.1px,#6a8bef 58.1px 59.8px,#5e7de7 60.8px 62.5px,#536edd 63.5px 65.3px,#485fd1 66.3px 68px,#3c4ec2 69px 70.8px,#4358cb 71.8px 73.5px,#4e68d8 74.5px 76.3px,#5977e3 77.3px 79px,#6485ec 80px 81.8px,#6f92f3 82.8px 84.5px,#7a9df8 85.5px 87.3px,#84a7fc 88.3px 90px,#8badfd 91px 92.8px,#92b4fe 93.8px 95.5px,#97b8ff 96.5px 98.3px,#9abbff 99.3px 101px,#9bbcff 102px 106.5px,#9abbff 107.5px 109.2px,#96b7ff 110.2px 112px,#92b4fe 113px 114.7px,#8badfd 115.7px 117.5px,#82a6fb 118.5px 120.2px,#799cf8 121.2px 123px,#6f92f3 124px 125.7px,#6485ec 126.7px 128.5px,#5977e3 129.5px 131.2px,#4e68d8 132.2px)"></i>
<i style="left:1234px;top:43px;width:1px;height:136px;background:linear-gradient(#445acc 1.2px,#3f53c5,#4860d1,#506bda,#5b7ae4,#6686eb,#7092f3,#799cf7,#83a5fb,#8aacfc,#8fb1fe,#93b5fe,#97b8fe,#97b8fe,#97b9fe,#95b6ff,#91b4fe,#8baefe,#85a8fc,#7da0fa,#7597f6,#6b8cef,#5f7fe8,#5570df,#4a62d3,#3f52c5,#4359cb,#4c65d5,#5572df,#607fe8,#6a8cef,#7597f5,#7fa1f9,#86a8fb,#8daffc,#92b3fe,#95b7fe,#97b8fe,#97b9fe,#97b8fe,#93b5fe,#90b2fe,#89acfd,#81a5fb,#799cf8,#6f92f3,#6586ec,#5a79e4,#506bda 133.1px)"></i>
<i style="left:1235px;top:43px;width:13px;height:136px;background:linear-gradient(#536edd 2.1px,#4a63d3 3.1px 4.9px,#4257c9 5.9px 7.6px,#3b4cc0 8.6px 10.4px,#445acc 11.4px 13.1px,#4c66d6 14.1px 15.9px,#5572df 16.9px 18.6px,#5d7ce6 19.6px 21.3px,#6485ec 22.3px 24.1px,#6c8ff1 25.1px 26.8px,#7396f5 27.8px 29.6px,#799cf8 30.6px 32.3px,#7da0f9 33.3px 35.1px,#80a3fa 36.1px 37.8px,#82a6fb 38.8px 40.6px,#84a7fc 41.6px 43.3px,#82a6fb 44.3px 46.1px,#81a4fb 47.1px 48.8px,#7ea1fa 49.8px 51.6px,#7a9df8 52.6px 54.3px,#7597f6 55.3px 57.1px,#6e90f2 58.1px 59.8px,#6788ee 60.8px 62.5px,#5f7fe8 63.5px 65.3px,#5673e0 66.3px 68px,#4e68d8 69px 70.8px,#455cce 71.8px 73.5px,#3d50c3 74.5px 76.3px,#3f53c6 77.3px 79px,#485fd1 80px 81.8px,#506bda 82.8px 84.5px,#5977e3 85.5px 87.3px,#6180e9 88.3px 90px,#688aef 91px 92.8px,#6f92f3 93.8px 95.5px,#7699f6 96.5px 98.3px,#7a9df8 99.3px 101px,#7ea1fa 102px 103.8px,#81a4fb 104.8px 106.5px,#82a6fb 107.5px 114.7px,#80a3fa 115.7px 117.5px,#7b9ff9 118.5px 120.2px,#779af7 121.2px 123px,#7093f3 124px 125.7px,#6a8bef 126.7px 128.5px,#6384eb 129.5px 131.2px,#5b7ae5 132.2px)"></i>
<i style="left:1248px;top:43px;width:1px;height:136px;background:linear-gradient(#6585eb 1.2px,#5e7ce6,#5673df,#4e68d7,#4c64d5,#475ed0,#4358ca,#465ccd,#4e68d6,#5672df,#5d7ce5,#6686ec,#6c8df0,#7194f3,#7699f6,#7a9df8,#7da1fa,#7ea1fa,#7ea1fa,#7ea2fa,#7c9ef9,#789bf7,#7497f6,#6e90f2,#6889ee,#6282e9,#5a77e2,#526ddb,#4c66d6,#4960d2,#465ccd,#4257c9,#4a62d2,#526edc,#5a77e2,#6282e9,#6889ee,#6f90f2,#7496f5,#789bf7,#7b9ef9,#7ea2fa,#7ea2fa,#7fa2fa,#7c9ff9,#7a9df8,#7698f6,#7194f3,#6b8df0 133.1px)"></i>
<i style="left:1249px;top:43px;width:12px;height:136px;background:linear-gradient(#6b8df0 2.1px,#6485ec 3.1px 4.9px,#5d7ce6 5.9px 7.6px,#5572df 8.6px 10.4px,#4e68d8 11.4px 13.1px,#455cce 14.1px 15.9px,#3d50c3 16.9px 18.6px,#3e51c5 19.6px 21.3px,#465ecf 22.3px 24.1px,#4f69d9 25.1px 26.8px,#5673e0 27.8px 29.6px,#5f7fe8 30.6px 32.3px,#6687ed 33.3px 35.1px,#6c8ff1 36.1px 37.8px,#7295f4 38.8px 40.6px,#779af7 41.6px 43.3px,#7b9ff9 44.3px 46.1px,#7da0f9 47.1px 48.8px,#7ea1fa 49.8px 51.6px,#80a3fa 52.6px 54.3px,#7ea1fa 55.3px 57.1px,#7b9ff9 58.1px 59.8px,#799cf8 60.8px 62.5px,#7396f5 63.5px 65.3px,#6e90f2 66.3px 68px,#688aef 69px 70.8px,#6180e9 71.8px 73.5px,#5977e3 74.5px 76.3px,#516ddb 77.3px 79px,#4961d2 80px 81.8px,#4257c9 82.8px 84.5px,#3b4cc0 85.5px 87.3px,#4358cb 88.3px 90px,#4b64d5 91px 92.8px,#536edd 93.8px 95.5px,#5b7ae5 96.5px 98.3px,#6282ea 99.3px 101px,#6a8bef 102px 103.8px,#6f92f3 104.8px 106.5px,#7597f6 107.5px 109.2px,#799cf8 110.2px 112px,#7da0f9 113px 114.7px,#7ea1fa 115.7px 117.5px,#80a3fa 118.5px 120.2px,#7ea1fa 121.2px 123px,#7da0f9 124px 125.7px,#7a9df8 126.7px 128.5px,#7699f6 129.5px 131.2px,#7093f3 132.2px)"></i>
<i style="left:1261px;top:43px;width:1px;height:136px;background:linear-gradient(#7698f5 1.2px,#7091f2,#6989ed,#6180e7,#5976e1,#506bd9,#475ecf,#445acc,#465dcf,#485fd0,#4f69d9,#5977e2,#6181e9,#688aef,#7092f3,#7699f7,#7c9ff9,#7fa2fa,#82a5fb,#85a8fb,#85a8fb,#84a7fb,#82a5fa,#7da0f8,#799bf6,#7396f4,#6d8def,#6585eb,#5d7be4,#5470dc,#4c65d4,#4459cb,#455cce,#475fd0,#4c64d4,#5470de,#5d7be5,#6586ec,#6c8ef1,#7396f5,#799cf8,#7ea1fa,#82a5fb,#84a7fb,#84a7fb,#84a7fb,#83a6fa,#80a3f9,#7b9ef7 133.1px)"></i>
<i style="left:1262px;top:43px;width:13px;height:136px;background:linear-gradient(#8badfd 2.1px,#85a8fc 3.1px 4.9px,#7ea1fa 5.9px 7.6px,#7699f6 8.6px 10.4px,#6e90f2 11.4px 13.1px,#6485ec 14.1px 15.9px,#5a78e4 16.9px 18.6px,#4f69d9 19.6px 21.3px,#455cce 22.3px 24.1px,#3b4cc0 25.1px 26.8px,#4358cb 27.8px 29.6px,#4e68d8 30.6px 32.3px,#5875e1 33.3px 35.1px,#6282ea 36.1px 37.8px,#6b8df0 38.8px 40.6px,#7597f6 41.6px 43.3px,#7da0f9 44.3px 46.1px,#84a7fc 47.1px 48.8px,#89acfd 49.8px 51.6px,#8fb1fe 52.6px 54.3px,#92b4fe 55.3px 57.1px,#93b5fe 58.1px 59.8px,#92b4fe 60.8px 62.5px,#90b2fe 63.5px 65.3px,#8db0fe 66.3px 68px,#88abfd 69px 70.8px,#82a6fb 71.8px 73.5px,#7b9ff9 74.5px 76.3px,#7295f4 77.3px 79px,#688aef 80px 81.8px,#5f7fe8 82.8px 84.5px,#5572df 85.5px 87.3px,#4a63d3 88.3px 90px,#4055c8 91px 92.8px,#3e51c5 93.8px 95.5px,#485fd1 96.5px 98.3px,#536edd 99.3px 101px,#5d7ce6 102px 103.8px,#6788ee 104.8px 106.5px,#7093f3 107.5px 109.2px,#799cf8 110.2px 112px,#81a4fb 113px 114.7px,#88abfd 115.7px 117.5px,#8caffe 118.5px 120.2px,#90b2fe 121.2px 123px,#92b4fe 124px 125.7px,#93b5fe 126.7px 128.5px,#92b4fe 129.5px 131.2px,#8fb1fe 132.2px)"></i>
<i style="left:1275px;top:43px;width:13px;height:136px;background:linear-gradient(#adc9fd 2.1px,#a9c6fd 3.1px 4.9px,#a2c1ff 5.9px 7.6px,#98b9ff 8.6px 10.4px,#8db0fe 11.4px 13.1px,#82a6fb 14.1px 15.9px,#7597f6 16.9px 18.6px,#6788ee 19.6px 21.3px,#5977e3 22.3px 24.1px,#4a63d3 25.1px 26.8px,#3d50c3 27.8px 29.6px,#455cce 30.6px 32.3px,#536edd 33.3px 35.1px,#6180e9 36.1px 37.8px,#6f92f3 38.8px 40.6px,#7da0f9 41.6px 43.3px,#89acfd 44.3px 46.1px,#94b6ff 47.1px 48.8px,#9ebeff 49.8px 51.6px,#a6c4fe 52.6px 54.3px,#abc8fd 55.3px 57.1px,#afcafc 58.1px 59.8px,#b1cbfc 60.8px 65.3px,#afcafc 66.3px 68px,#abc8fd 69px 70.8px,#a5c3fe 71.8px 73.5px,#9dbdff 74.5px 76.3px,#93b5fe 77.3px 79px,#88abfd 80px 81.8px,#7b9ff9 82.8px 84.5px,#6e90f2 85.5px 87.3px,#5f7fe8 88.3px 90px,#516ddb 91px 92.8px,#4358cb 93.8px 95.5px,#3e51c5 96.5px 98.3px,#4b64d5 99.3px 101px,#5a78e4 102px 103.8px,#688aef 104.8px 106.5px,#7699f6 107.5px 109.2px,#84a7fc 110.2px 112px,#8fb1fe 113px 114.7px,#9abbff 115.7px 117.5px,#a2c1ff 118.5px 120.2px,#a9c6fd 121.2px 123px,#aec9fc 124px 125.7px,#b1cbfc 126.7px 128.5px,#b2ccfb 129.5px 131.2px,#b1cbfc 132.2px)"></i>
<i style="left:1288px;top:43px;width:1px;height:136px;background:linear-gradient(#bfd2f3 1.2px,#bad0f6,#b3ccf9,#a9c5fc,#9dbdfd,#90b2fd,#80a3fa,#7092f3,#5f7fe8,#4f69d9,#3f53c6,#455cce,#5672df,#6686ec,#779af6,#87aafc,#95b7fe,#a2c1fe,#adc8fc,#b6cef8,#bcd1f5,#c0d3f2,#c3d3f1,#c3d3f1,#c0d3f2,#bdd1f5,#b6cdf8,#aec8fb,#a4c1fd,#97b7fe,#89abfc,#799bf7,#6789ee,#5774e1,#465dcf,#3d4fc3,#4d66d7,#5e7de7,#6e91f2,#7ea1f9,#8fb1fe,#9cbcfe,#a8c5fd,#b2cbfa,#b9cff6,#bfd2f4,#c2d3f2,#c3d4f1,#c3d3f1 133.1px)"></i>
<i style="left:1289px;top:43px;width:12px;height:136px;background:linear-gradient(#cdd9ec 2.1px,#c7d7f0 3.1px 4.9px,#c0d4f5 5.9px 7.6px,#b6cefa 8.6px 10.4px,#aac7fd 11.4px 13.1px,#9bbcff 14.1px 15.9px,#89acfd 16.9px 18.6px,#779af7 19.6px 21.3px,#6485ec 22.3px 24.1px,#536edd 25.1px 26.8px,#4055c8 27.8px 29.6px,#455cce 30.6px 32.3px,#5875e1 33.3px 35.1px,#6a8bef 36.1px 37.8px,#7da0f9 38.8px 40.6px,#8fb1fe 41.6px 43.3px,#9fbfff 44.3px 46.1px,#adc9fd 47.1px 48.8px,#b9d0f9 49.8px 51.6px,#c3d5f4 52.6px 54.3px,#cad8ef 55.3px 57.1px,#cedaeb 58.1px 59.8px,#d1dae9 60.8px 65.3px,#cedaeb 66.3px 68px,#cbd8ee 69px 70.8px,#c4d5f3 71.8px 73.5px,#bbd1f8 74.5px 76.3px,#b1cbfc 77.3px 79px,#a2c1ff 80px 81.8px,#93b5fe 82.8px 84.5px,#81a4fb 85.5px 87.3px,#6e90f2 88.3px 90px,#5b7ae5 91px 92.8px,#4961d2 93.8px 95.5px,#3c4ec2 96.5px 98.3px,#4e68d8 99.3px 101px,#6180e9 102px 103.8px,#7396f5 104.8px 106.5px,#85a8fc 107.5px 109.2px,#97b8ff 110.2px 112px,#a6c4fe 113px 114.7px,#b3cdfb 115.7px 117.5px,#bed2f6 118.5px 120.2px,#c6d6f1 121.2px 123px,#ccd9ed 124px 125.7px,#cfdaea 126.7px 128.5px,#d1dae9 129.5px)"></i>
<i style="left:1301px;top:43px;width:1px;height:136px;background:linear-gradient(#d1d9e7 1.2px,#cbd8ec,#c4d5f2,#bad0f8,#adc9fc,#9ebeff,#8baefd,#799cf8,#6586ed,#536edd,#3f54c7,#475ed0,#5a78e3,#6d8ff1,#81a4fa,#93b5fe,#a4c2fe,#b2ccfb,#bed2f5,#c8d6f0,#cfd8ea,#d3d9e6,#d5d9e3,#d5d9e3,#d2d9e6,#cfd8e9,#c8d6ef,#bfd3f5,#b4cdfa,#a5c3fe,#95b7fe,#83a6fb,#6f91f3,#5b7ae5,#4860d1,#3d50c4,#506bda,#6483eb,#779af6,#89acfd,#9cbbfe,#abc7fc,#b8cff8,#c3d4f2,#cbd7ec,#d1d9e8,#d4d9e4,#d5d9e3,#d5d9e4 133.1px)"></i>
<i style="left:1302px;top:43px;width:13px;height:136px;background:linear-gradient(#e6d7cf 2.1px,#dfdbd9 3.1px 4.9px,#d7dce3 5.9px 7.6px,#ccd9ed 8.6px 10.4px,#bed2f6 11.4px 13.1px,#abc8fd 14.1px 15.9px,#96b7ff 16.9px 18.6px,#80a3fa 19.6px 21.3px,#688aef 22.3px 24.1px,#516ddb 25.1px 26.8px,#3c4ec2 27.8px 29.6px,#4e68d8 30.6px 32.3px,#6485ec 33.3px 35.1px,#7da0f9 36.1px 37.8px,#93b5fe 38.8px 40.6px,#a9c6fd 41.6px 43.3px,#bbd1f8 44.3px 46.1px,#cad8ef 47.1px 48.8px,#d6dce4 49.8px 51.6px,#dedcdb 52.6px 54.3px,#e5d8d1 55.3px 57.1px,#e9d5cb 58.1px 59.8px,#ead4c8 60.8px 65.3px,#e8d6cc 66.3px 68px,#e3d9d3 69px 70.8px,#dbdcde 71.8px 73.5px,#d2dbe8 74.5px 76.3px,#c5d6f2 77.3px 79px,#b5cdfa 80px 81.8px,#a1c0ff 82.8px 84.5px,#8badfd 85.5px 87.3px,#7597f6 88.3px 90px,#5d7ce6 91px 92.8px,#465ecf 93.8px 95.5px,#4358cb 96.5px 98.3px,#5977e3 99.3px 101px,#7093f3 102px 103.8px,#88abfd 104.8px 106.5px,#9ebeff 107.5px 109.2px,#b2ccfb 110.2px 112px,#c3d5f4 113px 114.7px,#d1dae9 115.7px 117.5px,#dadce0 118.5px 120.2px,#e2dad5 121.2px 123px,#e7d7ce 124px 125.7px,#ead5c9 126.7px 128.5px,#ead4c8 129.5px 131.2px,#e9d5cb 132.2px)"></i>
<i style="left:1315px;top:43px;width:1px;height:136px;background:linear-gradient(#f0cbb9 1.2px,#ebd2c5,#e3d8d4,#d6dbe4,#c5d6f1,#b0cbfb,#98b9ff,#7ea1fa,#6384eb,#4a62d3,#4359cb,#5d7be5,#7699f6,#91b3fe,#aac6fc,#bfd2f4,#d1d9e7,#dfd8d8,#e9d3c8,#eecdbb,#f1c6b2,#f3c2ab,#f4c1aa,#f3c3ac,#f2c8b3,#efcebd,#e7d5cb,#dcdbdc,#ced9eb,#bcd1f7,#a5c3fe,#8caffe,#7093f4,#5673e0,#3e50c3,#4f69d9,#698aef,#83a6fb,#9ebefe,#b5cdf9,#c8d7ee,#d9dadf,#e4d5d0,#ecd0c1,#f1c9b5,#f3c4af,#f3c2ab,#f3c2ab,#f2c5af 133.1px)"></i>
<i style="left:1316px;top:43px;width:12px;height:136px;background:linear-gradient(#f3c8b2 2.1px,#efcfbf 3.1px 4.9px,#e6d7cf 5.9px 7.6px,#d9dce1 8.6px 10.4px,#c7d7f0 11.4px 13.1px,#b2ccfb 14.1px 15.9px,#98b9ff 16.9px 18.6px,#7ea1fa 19.6px 21.3px,#6282ea 22.3px 24.1px,#485fd1 25.1px 26.8px,#455cce 27.8px 29.6px,#6180e9 30.6px 32.3px,#7b9ff9 33.3px 35.1px,#97b8ff 36.1px 37.8px,#b1cbfc 38.8px 40.6px,#c6d6f1 41.6px 43.3px,#d8dce2 44.3px 46.1px,#e5d8d1 47.1px 48.8px,#eed0c0 49.8px 51.6px,#f3c8b2 52.6px 54.3px,#f5c1a9 55.3px 57.1px,#f6bda2 58.1px 59.8px,#f7bca1 60.8px 62.5px,#f6bea4 63.5px 65.3px,#f5c4ac 66.3px 68px,#f2cbb7 69px 70.8px,#ebd3c6 71.8px 73.5px,#dfdbd9 74.5px 76.3px,#d1dae9 77.3px 79px,#bed2f6 80px 81.8px,#a6c4fe 82.8px 84.5px,#8caffe 85.5px 87.3px,#6f92f3 88.3px 90px,#5470de 91px 92.8px,#3b4cc0 93.8px 95.5px,#536edd 96.5px 98.3px,#6e90f2 99.3px 101px,#89acfd 102px 103.8px,#a5c3fe 104.8px 106.5px,#bcd2f7 107.5px 109.2px,#cfdaea 110.2px 112px,#dfdbd9 113px 114.7px,#ead4c8 115.7px 117.5px,#f1ccb8 118.5px 120.2px,#f5c4ac 121.2px 123px,#f6bfa6 124px 125.7px,#f6bda2 126.7px 131.2px,#f5c0a7 132.2px)"></i>
<i style="left:1328px;top:43px;width:1px;height:136px;background:linear-gradient(#f5c2a9 1.2px,#f1cbb8,#e9d5ca,#dbdcdf,#c8d7f0,#b1cbfb,#96b7ff,#799cf7,#5c7ae5,#445acc,#4d67d7,#6b8cef,#87aafb,#a4c1fd,#bdd1f5,#d1d7e6,#e1d6d3,#ebcfc1,#f1c5b0,#f5bca3,#f5b59a,#f6b194,#f6b195,#f6b599,#f6bca3,#f4c6af,#eed0c0,#e2d9d5,#d2dae8,#bdd2f6,#a4c2fe,#88abfd,#6a8cf0,#4e67d7,#4156c8,#5c7ae4,#799cf7,#95b6fd,#b1caf9,#c7d6ee,#d9d8dd,#e7d3ca,#efcab8,#f3c0a8,#f5b89d,#f6b398,#f6b194,#f6b396,#f6b89d 133.1px)"></i>
<i style="left:1329px;top:43px;width:13px;height:136px;background:linear-gradient(#f7b79b 2.1px,#f4c5ad 3.1px 4.9px,#edd2c3 5.9px 7.6px,#dddcdc 8.6px 10.4px,#cad8ef 11.4px 13.1px,#afcafc 14.1px 15.9px,#92b4fe 16.9px 18.6px,#7093f3 19.6px 21.3px,#536edd 22.3px 24.1px,#3e51c5 25.1px 26.8px,#5b7ae5 27.8px 29.6px,#7b9ff9 30.6px 32.3px,#9bbcff 33.3px 35.1px,#b9d0f9 36.1px 37.8px,#d1dae9 38.8px 40.6px,#e3d9d3 41.6px 43.3px,#f0cdbb 44.3px 46.1px,#f6bfa6 47.1px 48.8px,#f7b396 49.8px 51.6px,#f7a889 52.6px 54.3px,#f5a081 55.3px 57.1px,#f59d7e 58.1px 59.8px,#f59f80 60.8px 62.5px,#f7a688 63.5px 65.3px,#f7b093 66.3px 68px,#f6bda2 69px 70.8px,#f2cbb7 71.8px 73.5px,#e6d7cf 74.5px 76.3px,#d4dbe6 77.3px 79px,#bcd2f7 80px 81.8px,#a1c0ff 82.8px 84.5px,#81a4fb 85.5px 87.3px,#6282ea 88.3px 90px,#4358cb 91px 92.8px,#4c66d6 93.8px 95.5px,#6b8df0 96.5px 98.3px,#8caffe 99.3px 101px,#aac7fd 102px 103.8px,#c5d6f2 104.8px 106.5px,#dadce0 107.5px 109.2px,#ead4c8 110.2px 112px,#f3c7b1 113px 114.7px,#f7b99e 115.7px 117.5px,#f7ac8e 118.5px 120.2px,#f6a385 121.2px 123px,#f59f80 124px 125.7px,#f59d7e 126.7px 128.5px,#f6a283 129.5px 131.2px,#f7aa8c 132.2px)"></i>
<i style="left:1342px;top:43px;width:13px;height:136px;background:linear-gradient(#f7ac8e 2.1px,#f6bfa6 3.1px 4.9px,#edd1c2 5.9px 7.6px,#dbdcde 8.6px 10.4px,#c1d4f4 11.4px 13.1px,#a2c1ff 14.1px 15.9px,#80a3fa 16.9px 18.6px,#5b7ae5 19.6px 21.3px,#3c4ec2 22.3px 24.1px,#5977e3 25.1px 26.8px,#7b9ff9 27.8px 29.6px,#9fbfff 30.6px 32.3px,#bfd3f6 33.3px 35.1px,#d9dce1 36.1px 37.8px,#ecd3c5 38.8px 40.6px,#f5c1a9 41.6px 43.3px,#f7ad90 44.3px 46.1px,#f59c7d 47.1px 48.8px,#f08b6e 49.8px 51.6px,#ec8165 52.6px 54.3px,#ea7b60 55.3px 57.1px,#eb7d62 58.1px 59.8px,#ee8468 60.8px 62.5px,#f29274 63.5px 65.3px,#f6a283 66.3px 68px,#f7b599 69px 70.8px,#f2c9b4 71.8px 73.5px,#e5d8d1 74.5px 76.3px,#cfdaea 77.3px 79px,#b2ccfb 80px 81.8px,#92b4fe 82.8px 84.5px,#6e90f2 85.5px 87.3px,#4b64d5 88.3px 90px,#485fd1 91px 92.8px,#6a8bef 93.8px 95.5px,#8db0fe 96.5px 98.3px,#afcafc 99.3px 101px,#ccd9ed 102px 103.8px,#e3d9d3 104.8px 106.5px,#f2cbb7 107.5px 109.2px,#f7b89c 110.2px 112px,#f6a586 113px 114.7px,#f39475 115.7px 117.5px,#ee8669 118.5px 120.2px,#eb7d62 121.2px 123px,#ea7b60 124px 125.7px,#ec8165 126.7px 128.5px,#f08a6c 129.5px 131.2px,#f49a7b 132.2px)"></i>
<i style="left:1355px;top:43px;width:1px;height:136px;background:linear-gradient(#f7ab8d 1.2px,#f5c1a8,#ead4c8,#d4dbe5,#b6cef9,#95b5fe,#7091f2,#4b64d4,#4b63d3,#6d8ef0,#92b3fd,#b5ccf8,#d2d8e5,#e7d3c9,#f2c1ab,#f5ab8f,#f29579,#ec8368,#e6745b,#e36c55,#e26953,#e56f57,#ea7b60,#f08c6f,#f5a081,#f7b69a,#f1cbb8,#e0dbd8,#c7d6f0,#a6c4fd,#82a5fa,#5e7ce6,#475ed0,#5b78e3,#80a1f8,#a3c1fc,#c4d4f0,#ded7d8,#eecab9,#f5b79d,#f4a183,#ef8c70,#ea7c62,#e46f57,#e26a54,#e36c55,#e7745b,#ed8266,#f39577 133.1px)"></i>
<i style="left:1356px;top:43px;width:12px;height:136px;background:linear-gradient(#f7aa8c 2.1px,#f5c2aa 3.1px 4.9px,#e8d6cc 5.9px 7.6px,#cfdaea 8.6px 10.4px,#afcafc 11.4px 13.1px,#8badfd 14.1px 15.9px,#6485ec 16.9px 18.6px,#4055c8 19.6px 21.3px,#5572df 22.3px 24.1px,#7b9ff9 25.1px 26.8px,#a2c1ff 27.8px 29.6px,#c4d5f3 30.6px 32.3px,#dfdbd9 33.3px 35.1px,#f1ccb8 36.1px 37.8px,#f7b599 38.8px 40.6px,#f59c7d 41.6px 43.3px,#ee8468 44.3px 46.1px,#e67259 47.1px 48.8px,#df634e 49.8px 51.6px,#dc5d4a 52.6px 57.1px,#e0654f 58.1px 59.8px,#e7745b 60.8px 62.5px,#ef886b 63.5px 65.3px,#f59f80 66.3px 68px,#f7b79b 69px 70.8px,#f0cdbb 71.8px 73.5px,#dcdddd 74.5px 76.3px,#c1d4f4 77.3px 79px,#9ebeff 80px 81.8px,#779af7 82.8px 84.5px,#536edd 85.5px 87.3px,#445acc 88.3px 90px,#688aef 91px 92.8px,#8fb1fe 93.8px 95.5px,#b3cdfb 96.5px 98.3px,#d3dbe7 99.3px 101px,#ead5c9 102px 103.8px,#f5c0a7 104.8px 106.5px,#f7a98b 107.5px 109.2px,#f29072 110.2px 112px,#ea7b60 113px 114.7px,#e36b54 115.7px 117.5px,#dd5f4b 118.5px 120.2px,#dc5d4a 121.2px 123px,#de614d 124px 125.7px,#e36b54 126.7px 128.5px,#eb7d62 129.5px 131.2px,#f29274 132.2px)"></i>
<i style="left:1368px;top:43px;width:1px;height:136px;background:linear-gradient(#f7ac8e 1.2px,#f4c4ad,#e5d7d0,#cbd8ed,#aac6fd,#85a7fb,#5e7de6,#445acc,#5c7ae4,#83a6fa,#a9c5fc,#cad6ed,#e3d7d1,#f2c6b0,#f6ad91,#f29476,#ea7c62,#e26a54,#db5c4a,#d95847,#da5948,#df634d,#e6735a,#ef886b,#f5a082,#f7b99e,#eecfbf,#d9dce0,#bcd1f6,#98b9fe,#7193f3,#4f69d9,#4b63d2,#7092f2,#97b7fd,#bad0f6,#d8d9e0,#ecd0c1,#f5b99f,#f5a183,#ef886b,#e6735b,#df634f,#da5947,#d95847,#dc5e4b,#e26953,#eb7d62,#f29375 133.1px)"></i>
<i style="left:1369px;top:43px;width:13px;height:136px;background:linear-gradient(#f7b599 2.1px,#f0cdbb 3.1px 4.9px,#dadce0 5.9px 7.6px,#bbd1f8 8.6px 10.4px,#94b6ff 11.4px 13.1px,#6b8df0 14.1px 15.9px,#455cce 16.9px 18.6px,#5470de 19.6px 21.3px,#7b9ff9 22.3px 24.1px,#a3c2fe 25.1px 26.8px,#c9d7f0 27.8px 29.6px,#e4d9d2 30.6px 32.3px,#f4c5ad 33.3px 35.1px,#f7aa8c 36.1px 37.8px,#f18d6f 38.8px 40.6px,#e67259 41.6px 43.3px,#da5a49 44.3px 46.1px,#d1493f 47.1px 48.8px,#cc403a 49.8px 54.3px,#d0473d 55.3px 57.1px,#d95847 58.1px 59.8px,#e46e56 60.8px 62.5px,#f08a6c 63.5px 65.3px,#f7a688 66.3px 68px,#f5c2aa 69px 70.8px,#e7d7ce 71.8px 73.5px,#cbd8ee 74.5px 76.3px,#a9c6fd 77.3px 79px,#80a3fa 80px 81.8px,#5875e1 82.8px 84.5px,#4055c8 85.5px 87.3px,#6788ee 88.3px 90px,#90b2fe 91px 92.8px,#b7cff9 93.8px 95.5px,#d7dce3 96.5px 98.3px,#eed0c0 99.3px 101px,#f7b89c 102px 103.8px,#f59c7d 104.8px 106.5px,#ec7f63 107.5px 109.2px,#e0654f 110.2px 112px,#d65244 113px 114.7px,#cd423b 115.7px 117.5px,#cb3e38 118.5px 120.2px,#cd423b 121.2px 123px,#d55042 124px 125.7px,#df634e 126.7px 128.5px,#ea7b60 129.5px 131.2px,#f4987a 132.2px)"></i>
<i style="left:1382px;top:43px;width:1px;height:136px;background:linear-gradient(#f5c2aa 1.2px,#e4d7d0,#c8d6f0,#a2c0fe,#779af5,#4f69d7,#4f69d8,#7395f3,#9dbcfd,#c3d3f1,#e1d7d5,#f2c4af,#f6a98c,#ee896d,#e36c55,#d55144,#c93b38,#c42f32,#c12a30,#c63334,#ce433b,#db5c49,#e8785d,#f39778,#f7b498,#efcfbe,#d7dae2,#b5cdf9,#8caefc,#6382e9,#4358cb,#5e7de5,#88a9fb,#b1cafa,#d3d9e5,#ecd0c2,#f5b79d,#f39a7c,#e97b60,#db5d4b,#cf463d,#c53334,#c12a31,#c22d31,#c93a37,#d55042,#e26953,#ef876a,#f6a587 133.1px)"></i>
<i style="left:1383px;top:43px;width:12px;height:136px;background:linear-gradient(#f4c6af 2.1px,#e1dad6 3.1px 4.9px,#c3d5f4 5.9px 7.6px,#9bbcff 8.6px 10.4px,#7093f3 11.4px 13.1px,#485fd1 14.1px 15.9px,#516ddb 16.9px 18.6px,#7b9ff9 19.6px 21.3px,#a6c4fe 22.3px 24.1px,#cbd8ee 25.1px 26.8px,#e7d7ce 27.8px 29.6px,#f6bfa6 30.6px 32.3px,#f6a283 33.3px 35.1px,#ec8165 36.1px 37.8px,#df634e 38.8px 40.6px,#d1493f 41.6px 43.3px,#c53334 44.3px 46.1px,#c0282f 47.1px 48.8px,#be242e 49.8px 51.6px,#c43032 52.6px 54.3px,#cd423b 55.3px 57.1px,#dc5d4a 58.1px 59.8px,#e97a5f 60.8px 62.5px,#f49a7b 63.5px 65.3px,#f7b89c 66.3px 68px,#edd2c3 69px 70.8px,#d3dbe7 71.8px 73.5px,#afcafc 74.5px 76.3px,#85a8fc 77.3px 79px,#5b7ae5 80px 81.8px,#3e51c5 82.8px 84.5px,#6687ed 85.5px 87.3px,#90b2fe 88.3px 90px,#b9d0f9 91px 92.8px,#dadce0 93.8px 95.5px,#f1cdba 96.5px 98.3px,#f7b194 99.3px 101px,#f29274 102px 103.8px,#e67259 104.8px 106.5px,#d75445 107.5px 109.2px,#cb3e38 110.2px 112px,#c12b30 113px 114.7px,#be242e 115.7px 117.5px,#c0282f 118.5px 120.2px,#c83836 121.2px 123px,#d55042 124px 125.7px,#e36b54 126.7px 128.5px,#f08a6c 129.5px 131.2px,#f7a98b 132.2px)"></i>
<i style="left:1395px;top:43px;width:1px;height:136px;background:linear-gradient(#eecdbd 1.2px,#d6d8e1,#b5ccf8,#8badfb,#6180e6,#4b64d5,#6281e7,#8caefb,#b5ccf7,#d7d7df,#edccbc,#f6b196,#f19275,#e5725a,#d75445,#c93a38,#bf242f,#bc1c2c,#bd202d,#c53233,#d0483e,#e06550,#ed8467,#f5a486,#f4c1a9,#e4d6d0,#c6d5ef,#a0befc,#7697f4,#4f69d7,#4e66d5,#7799f4,#a1befc,#c7d5ee,#e4d5cf,#f3c0a9,#f4a285,#ec8367,#de634f,#cf463d,#c42e33,#bc1d2c,#bc1d2c,#c0282f,#ca3c38,#d85646,#e7745b,#f29475,#f6b397 133.1px)"></i>
<i style="left:1396px;top:43px;width:13px;height:136px;background:linear-gradient(#e5d8d1 2.1px,#c6d6f1 3.1px 4.9px,#9fbfff 5.9px 7.6px,#7396f5 8.6px 10.4px,#4a63d3 11.4px 13.1px,#506bda 14.1px 15.9px,#7b9ff9 16.9px 18.6px,#a6c4fe 19.6px 21.3px,#ccd9ed 22.3px 24.1px,#ead5c9 25.1px 26.8px,#f7bca1 27.8px 29.6px,#f59c7d 30.6px 32.3px,#e97a5f 33.3px 35.1px,#da5a49 36.1px 37.8px,#cb3e38 38.8px 40.6px,#be242e 41.6px 43.3px,#b70d28 44.3px 46.1px,#b50927 47.1px 48.8px,#bb1b2c 49.8px 51.6px,#c73635 52.6px 54.3px,#d55042 55.3px 57.1px,#e57058 58.1px 59.8px,#f29274 60.8px 62.5px,#f7b396 63.5px 65.3px,#efcebd 66.3px 68px,#d7dce3 69px 70.8px,#b3cdfb 71.8px 73.5px,#89acfd 74.5px 76.3px,#5e7de7 77.3px 79px,#3d50c3 80px 81.8px,#6687ed 82.8px 84.5px,#92b4fe 85.5px 87.3px,#bbd1f8 88.3px 90px,#dcdddd 91px 92.8px,#f2cab5 93.8px 95.5px,#f7ad90 96.5px 98.3px,#f08b6e 99.3px 101px,#e36b54 102px 103.8px,#d24b40 104.8px 106.5px,#c43032 107.5px 109.2px,#ba162b 110.2px 112px,#b50927 113px 114.7px,#b8122a 115.7px 117.5px,#c0282f 118.5px 120.2px,#cd423b 121.2px 123px,#dd5f4b 124px 125.7px,#ec8165 126.7px 128.5px,#f6a283 129.5px 131.2px,#f5c1a9 132.2px)"></i>
<i style="left:1409px;top:43px;width:13px;height:136px;background:linear-gradient(#c7d7f0 2.1px,#a1c0ff 3.1px 4.9px,#7597f6 5.9px 7.6px,#4a63d3 8.6px 10.4px,#506bda 11.4px 13.1px,#7b9ff9 14.1px 15.9px,#a6c4fe 16.9px 18.6px,#cdd9ec 19.6px 21.3px,#ead5c9 22.3px 24.1px,#f7bca1 25.1px 26.8px,#f49a7b 27.8px 29.6px,#e9785d 30.6px 32.3px,#d85646 33.3px 35.1px,#c83836 36.1px 37.8px,#bb1b2c 38.8px 40.6px,#b40426 41.6px 46.1px,#b8122a 47.1px 48.8px,#c43032 49.8px 51.6px,#d44e41 52.6px 54.3px,#e36c55 55.3px 57.1px,#f18f71 58.1px 59.8px,#f7b093 60.8px 62.5px,#f0cdbb 63.5px 65.3px,#d8dce2 66.3px 68px,#b5cdfa 69px 70.8px,#8badfd 71.8px 73.5px,#5e7de7 74.5px 76.3px,#3d50c3 77.3px 79px,#6687ed 80px 81.8px,#92b4fe 82.8px 84.5px,#bbd1f8 85.5px 87.3px,#dcdddd 88.3px 90px,#f2c9b4 91px 92.8px,#f7ac8e 93.8px 95.5px,#f08a6c 96.5px 98.3px,#e16751 99.3px 101px,#d0473d 102px 103.8px,#c12b30 104.8px 106.5px,#b70d28 107.5px 109.2px,#b40426 110.2px 112px,#b50927 113px 114.7px,#be242e 115.7px 117.5px,#cb3e38 118.5px 120.2px,#dc5d4a 121.2px 123px,#eb7d62 124px 125.7px,#f5a081 126.7px 128.5px,#f5c0a7 129.5px 131.2px,#e6d7cf 132.2px)"></i>
<i style="left:1422px;top:43px;width:1px;height:136px;background:linear-gradient(#aec8f9 1.2px,#85a7f9,#5a76e0,#4e69d8,#6a8aed,#95b5fc,#bdd1f4,#ded7d8,#f1c6b1,#f6a98c,#ee876b,#e06651,#d0473e,#c32e32,#b9162b,#b60927,#b9142a,#c12831,#cf453d,#de634f,#ec8368,#f5a587,#f2c2ac,#e0d6d4,#c2d3f1,#9ab9fc,#7090f0,#4a62d1,#5671dc,#81a2f7,#aac5fa,#ced8e8,#e9d1c5,#f5b89e,#f3987b,#e8775d,#d85647,#c93b38,#bd212e,#b70d28,#b60c28,#bc1e2c,#c83836,#d75345,#e6735a,#f29477,#f5b59a,#ebcfc1,#d3d6e4 133.1px)"></i>
<i style="left:1423px;top:43px;width:12px;height:136px;background:linear-gradient(#9ebeff 2.1px,#7396f5 3.1px 4.9px,#4961d2 5.9px 7.6px,#516ddb 8.6px 10.4px,#7b9ff9 11.4px 13.1px,#a6c4fe 14.1px 15.9px,#ccd9ed 16.9px 18.6px,#e9d5cb 19.6px 21.3px,#f6bda2 22.3px 24.1px,#f59d7e 25.1px 26.8px,#ea7b60 27.8px 29.6px,#da5a49 30.6px 32.3px,#cb3e38 33.3px 35.1px,#c0282f 36.1px 37.8px,#b8122a 38.8px 40.6px,#b70d28 41.6px 43.3px,#bd1f2d 44.3px 46.1px,#c73635 47.1px 48.8px,#d65244 49.8px 51.6px,#e57058 52.6px 54.3px,#f29274 55.3px 57.1px,#f7b396 58.1px 59.8px,#efcebd 60.8px 62.5px,#d6dce4 63.5px 65.3px,#b3cdfb 66.3px 68px,#89acfd 69px 70.8px,#5e7de7 71.8px 73.5px,#3d50c3 74.5px 76.3px,#6687ed 77.3px 79px,#92b4fe 80px 81.8px,#bad0f8 82.8px 84.5px,#dbdcde 85.5px 87.3px,#f2cab5 88.3px 90px,#f7ad90 91px 92.8px,#f08b6e 93.8px 95.5px,#e36b54 96.5px 98.3px,#d24b40 99.3px 101px,#c53334 102px 103.8px,#bb1b2c 104.8px 106.5px,#b70d28 107.5px 109.2px,#b8122a 110.2px 112px,#c12b30 113px 114.7px,#cf453c 115.7px 117.5px,#de614d 118.5px 120.2px,#ec8165 121.2px 123px,#f6a385 124px 125.7px,#f5c2aa 126.7px 128.5px,#e4d9d2 129.5px 131.2px,#c6d6f1 132.2px)"></i>
<i style="left:1435px;top:43px;width:1px;height:136px;background:linear-gradient(#94b5fc 1.2px,#6a8aed,#4b64d4,#5a78e1,#84a7fa,#aec8fb,#d2d9e6,#ecd1c3,#f6b89c,#f39879,#e8765c,#d85747,#ca3d38,#c0292f,#ba172b,#ba152b,#c12730,#cc3f3a,#da5b4a,#e87960,#f39a7d,#f5baa0,#e9d1c6,#ced8e9,#a9c5fb,#7fa1f8,#5774e0,#465ccc,#6f90f1,#9abafd,#c1d3f3,#e0d9d6,#f3c5ae,#f6a88a,#ee866a,#e16751,#d1493f,#c53234,#bc1e2d,#ba142a,#bc1b2d,#c53334,#d34d41,#e26a54,#ee8a6e,#f5ab8e,#f1c7b4,#ddd8d9,#bdd0f4 133.1px)"></i>
<i style="left:1436px;top:43px;width:13px;height:136px;background:linear-gradient(#6f92f3 2.1px,#485fd1 3.1px 4.9px,#516ddb 5.9px 7.6px,#7b9ff9 8.6px 10.4px,#a5c3fe 11.4px 13.1px,#cbd8ee 14.1px 15.9px,#e7d7ce 16.9px 18.6px,#f5c0a7 19.6px 21.3px,#f6a385 22.3px 24.1px,#ed8366 25.1px 26.8px,#e0654f 27.8px 29.6px,#d24b40 30.6px 32.3px,#c83836 33.3px 35.1px,#c12b30 36.1px 40.6px,#c53334 41.6px 43.3px,#d0473d 44.3px 46.1px,#dd5f4b 47.1px 48.8px,#ea7b60 49.8px 51.6px,#f59c7d 52.6px 54.3px,#f7ba9f 55.3px 57.1px,#ecd3c5 58.1px 59.8px,#d2dbe8 60.8px 62.5px,#aec9fc 63.5px 65.3px,#85a8fc 66.3px 68px,#5b7ae5 69px 70.8px,#3f53c6 71.8px 73.5px,#6687ed 74.5px 76.3px,#90b2fe 77.3px 79px,#b9d0f9 80px 81.8px,#d9dce1 82.8px 84.5px,#f1cdba 85.5px 87.3px,#f7b194 88.3px 90px,#f39475 91px 92.8px,#e7745b 93.8px 95.5px,#d95847 96.5px 98.3px,#cc403a 99.3px 101px,#c43032 102px 103.8px,#c0282f 104.8px 106.5px,#c32e31 107.5px 109.2px,#ca3b37 110.2px 112px,#d65244 113px 114.7px,#e36c55 115.7px 117.5px,#f08b6e 118.5px 120.2px,#f7ac8e 121.2px 123px,#f3c8b2 124px 125.7px,#e0dbd8 126.7px 128.5px,#c1d4f4 129.5px 131.2px,#9abbff 132.2px)"></i>
<i style="left:1449px;top:43px;width:1px;height:136px;background:linear-gradient(#4c64d3 1.2px,#526ddc,#7396f3,#9cbbfd,#c1d3f3,#dfd9d8,#f2c9b5,#f7b093,#f39476,#e9785e,#de604c,#d44d41,#ce433b,#cc403a,#d0473e,#d85546,#e36c55,#ed8468,#f5a083,#f5bda3,#e8d2c8,#d0d7e7,#aec8fa,#87a8fa,#5f7de5,#475ece,#607ee7,#88aafb,#afc9fb,#d1dae8,#e9d3c8,#f6bda3,#f5a182,#ee8669,#e36b54,#d85646,#d0473e,#cd413a,#cd413a,#d34d41,#dd5f4c,#e8775d,#f29376,#f6b093,#f0c8b6,#ddd8d9,#c0d2f3,#9cbbfc,#7394f2 133.1px)"></i>
<i style="left:1450px;top:43px;width:12px;height:136px;background:linear-gradient(#445acc 2.1px,#5470de 3.1px 4.9px,#7b9ff9 5.9px 7.6px,#a3c2fe 8.6px 10.4px,#c7d7f0 11.4px 13.1px,#e3d9d3 14.1px 15.9px,#f4c6af 16.9px 18.6px,#f7ac8e 19.6px 21.3px,#f29072 22.3px 24.1px,#e8765c 25.1px 26.8px,#dd5f4b 27.8px 29.6px,#d44e41 30.6px 32.3px,#cf453c 33.3px 37.8px,#d44e41 38.8px 40.6px,#dc5d4a 41.6px 43.3px,#e7745b 44.3px 46.1px,#f18d6f 47.1px 48.8px,#f7a98b 49.8px 51.6px,#f5c4ac 52.6px 54.3px,#e5d8d1 55.3px 57.1px,#cad8ef 58.1px 59.8px,#a6c4fe 60.8px 62.5px,#7ea1fa 63.5px 65.3px,#5673e0 66.3px 68px,#4257c9 69px 70.8px,#6788ee 71.8px 73.5px,#90b2fe 74.5px 76.3px,#b6cefa 77.3px 79px,#d6dce4 80px 81.8px,#edd1c2 82.8px 84.5px,#f7b99e 85.5px 87.3px,#f59d7e 88.3px 90px,#ed8366 91px 92.8px,#e26952 93.8px 95.5px,#d85646 96.5px 98.3px,#d1493f 99.3px 101px,#cf453c 102px 103.8px,#d0473d 104.8px 106.5px,#d75445 107.5px 109.2px,#e16751 110.2px 112px,#ec7f63 113px 114.7px,#f59c7d 115.7px 117.5px,#f7b89c 118.5px 120.2px,#efcfbf 121.2px 123px,#d8dce2 124px 125.7px,#b9d0f9 126.7px 128.5px,#93b5fe 129.5px 131.2px,#6a8bef 132.2px)"></i>
<i style="left:1462px;top:43px;width:1px;height:136px;background:linear-gradient(#4c64d4 1.2px,#6484e9,#8badfc,#b0cafa,#d1d9e7,#e9d4c9,#f5c0a7,#f6a788,#f18d6f,#e8765c,#df634e,#d95746,#d65244,#d75546,#dd604d,#e47059,#ed886d,#f4a083,#f4b9a1,#eacec2,#d5d6e0,#b6ccf6,#92b2fb,#6b8bed,#4f69d8,#526cd9,#7899f5,#9fbdfd,#c2d3f2,#ded9da,#f0cbb8,#f7b497,#f4997a,#ed8165,#e36b54,#db5c4a,#d65345,#d75345,#d95848,#e06853,#e97b61,#f19376,#f5ae92,#f0c5b1,#e1d3d2,#c6d4ed,#a5c1fb,#7fa0f6,#5874de 133.1px)"></i>
<i style="left:1463px;top:43px;width:13px;height:136px;background:linear-gradient(#5673e0 2.1px,#7b9ff9 3.1px 4.9px,#a1c0ff 5.9px 7.6px,#c3d5f4 8.6px 10.4px,#dedcdb 11.4px 13.1px,#f1cdba 14.1px 15.9px,#f7b79b 16.9px 18.6px,#f59f80 19.6px 21.3px,#f08a6c 22.3px 24.1px,#e8765c 25.1px 26.8px,#e26952 27.8px 29.6px,#df634e 30.6px 35.1px,#e36b54 36.1px 37.8px,#e9785d 38.8px 40.6px,#f08b6e 41.6px 43.3px,#f6a385 44.3px 46.1px,#f7ba9f 47.1px 48.8px,#efcfbf 49.8px 51.6px,#dadce0 52.6px 54.3px,#bfd3f6 55.3px 57.1px,#9bbcff 58.1px 59.8px,#7699f6 60.8px 62.5px,#516ddb 63.5px 65.3px,#455cce 66.3px 68px,#688aef 69px 70.8px,#8fb1fe 71.8px 73.5px,#b3cdfb 74.5px 76.3px,#d2dbe8 77.3px 79px,#e9d5cb 80px 81.8px,#f5c2aa 82.8px 84.5px,#f7ac8e 85.5px 87.3px,#f39475 88.3px 90px,#ec7f63 91px 92.8px,#e46e56 93.8px 95.5px,#e0654f 96.5px 98.3px,#de614d 99.3px 101px,#e16751 102px 103.8px,#e57058 104.8px 106.5px,#ed8366 107.5px 109.2px,#f39778 110.2px 112px,#f7af91 113px 114.7px,#f4c6af 115.7px 117.5px,#e6d7cf 118.5px 120.2px,#cdd9ec 121.2px 123px,#aec9fc 124px 125.7px,#89acfd 126.7px 128.5px,#6384eb 129.5px 131.2px,#3f53c6 132.2px)"></i>
<i style="left:1476px;top:43px;width:13px;height:136px;background:linear-gradient(#7b9ff9 2.1px,#9ebeff 3.1px 4.9px,#bed2f6 5.9px 7.6px,#d7dce3 8.6px 10.4px,#ead4c8 11.4px 13.1px,#f5c4ac 14.1px 15.9px,#f7b194 16.9px 18.6px,#f59f80 19.6px 21.3px,#f29072 22.3px 24.1px,#ee8669 25.1px 26.8px,#ed8366 27.8px 29.6px,#ee8468 30.6px 32.3px,#f08b6e 33.3px 35.1px,#f39778 36.1px 37.8px,#f7a889 38.8px 40.6px,#f7ba9f 41.6px 43.3px,#f1ccb8 44.3px 46.1px,#e2dad5 47.1px 48.8px,#ccd9ed 49.8px 51.6px,#afcafc 52.6px 54.3px,#8fb1fe 55.3px 57.1px,#6b8df0 58.1px 59.8px,#4a63d3 60.8px 62.5px,#4961d2 63.5px 65.3px,#6a8bef 66.3px 68px,#8db0fe 69px 70.8px,#aec9fc 71.8px 73.5px,#cbd8ee 74.5px 76.3px,#e2dad5 77.3px 79px,#f1ccb8 80px 81.8px,#f7ba9f 82.8px 84.5px,#f7a889 85.5px 87.3px,#f4987a 88.3px 90px,#f08b6e 91px 92.8px,#ee8468 93.8px 95.5px,#ed8366 96.5px 98.3px,#ee8669 99.3px 101px,#f29072 102px 103.8px,#f59f80 104.8px 106.5px,#f7b093 107.5px 109.2px,#f5c2aa 110.2px 112px,#ebd3c6 113px 114.7px,#d8dce2 115.7px 117.5px,#bfd3f6 118.5px 120.2px,#9fbfff 121.2px 123px,#7da0f9 124px 125.7px,#5a78e4 126.7px 128.5px,#3b4cc0 129.5px 131.2px,#5977e3 132.2px)"></i>
<i style="left:1489px;top:43px;width:1px;height:136px;background:linear-gradient(#8fb1fd 1.2px,#aec9fb,#c8d7ef,#dddbdb,#edd1c2,#f5c3ab,#f7b598,#f6a789,#f59e80,#f3987b,#f3987a,#f49d80,#f4a589,#f4b297,#f2c0aa,#eacec1,#ddd5d7,#c8d4ec,#afc7f8,#90b0fb,#7192f0,#516bd8,#4d66d6,#5f7ee5,#7fa2f8,#9fbefd,#bcd1f6,#d3dbe6,#e6d7cf,#f2cbb6,#f6bca1,#f7ae90,#f6a385,#f49a7c,#f3977a,#f39a7c,#f4a083,#f5ac8f,#f3b9a1,#efc7b5,#e4d2cc,#d3d5e2,#bccff3,#a0bdfb,#80a2f7,#617fe6,#4961d1,#506ad8,#6e90f1 133.1px)"></i>
<i style="left:1490px;top:43px;width:12px;height:136px;background:linear-gradient(#9bbcff 2.1px,#b7cff9 3.1px 4.9px,#cedaeb 5.9px 7.6px,#e1dad6 8.6px 10.4px,#efcfbf 11.4px 13.1px,#f5c2aa 14.1px 15.9px,#f7b79b 16.9px 18.6px,#f7ac8e 19.6px 21.3px,#f7a688 22.3px 24.1px,#f6a385 25.1px 26.8px,#f6a586 27.8px 29.6px,#f7ac8e 30.6px 32.3px,#f7b599 33.3px 35.1px,#f5c2aa 36.1px 37.8px,#efcebd 38.8px 40.6px,#e2dad5 41.6px 43.3px,#d1dae9 44.3px 46.1px,#b9d0f9 47.1px 48.8px,#9dbdff 49.8px 51.6px,#7ea1fa 52.6px 54.3px,#5f7fe8 55.3px 57.1px,#4257c9 58.1px 59.8px,#4e68d8 60.8px 62.5px,#6c8ff1 63.5px 65.3px,#8caffe 66.3px 68px,#a9c6fd 69px 70.8px,#c4d5f3 71.8px 73.5px,#d8dce2 74.5px 76.3px,#e9d5cb 77.3px 79px,#f2cab5 80px 81.8px,#f6bda2 82.8px 84.5px,#f7b194 85.5px 87.3px,#f7a98b 88.3px 90px,#f6a385 91px 95.5px,#f7a889 96.5px 98.3px,#f7b093 99.3px 101px,#f7bca1 102px 103.8px,#f2c9b4 104.8px 106.5px,#ead5c9 107.5px 109.2px,#dadce0 110.2px 112px,#c5d6f2 113px 114.7px,#abc8fd 115.7px 117.5px,#8db0fe 118.5px 120.2px,#6e90f2 121.2px 123px,#506bda 124px 125.7px,#3f53c6 126.7px 128.5px,#5d7ce6 129.5px 131.2px,#7b9ff9 132.2px)"></i>
<i style="left:1502px;top:43px;width:1px;height:136px;background:linear-gradient(#a0bffe 1.2px,#bad1f7,#d0daea,#e1dad6,#eed0c0,#f4c4ad,#f6baa0,#f7b194,#f7ac90,#f6ab8e,#f5ad91,#f5b499,#f3bda5,#efc8b6,#e7d1c8,#d9d8dd,#c6d4ee,#adc7fa,#92b2fc,#7495f3,#5773df,#465dce,#5571de,#7396f4,#91b3fe,#adc8fc,#c6d6f1,#d9dce1,#e9d5cb,#f1cbb7,#f5c0a6,#f7b59a,#f7af92,#f6aa8e,#f6ab8f,#f6b094,#f4b89f,#f2c3ad,#ebcdc0,#e1d5d3,#d0d8e7,#bacff5,#a0befc,#82a4f9,#6584ea,#4e68d8,#475dce,#6484ea,#81a5fa 133.1px)"></i>
<i style="left:1503px;top:43px;width:13px;height:136px;background:linear-gradient(#afcafc 2.1px,#c5d6f2 3.1px 4.9px,#d5dbe5 5.9px 7.6px,#e2dad5 8.6px 10.4px,#ecd3c5 11.4px 13.1px,#f1ccb8 14.1px 15.9px,#f4c6af 16.9px 18.6px,#f5c2aa 19.6px 21.3px,#f5c1a9 22.3px 24.1px,#f5c4ac 25.1px 26.8px,#f2c9b4 27.8px 29.6px,#efcfbf 30.6px 32.3px,#e7d7ce 33.3px 35.1px,#dbdcde 36.1px 37.8px,#ccd9ed 38.8px 40.6px,#b9d0f9 41.6px 43.3px,#a1c0ff 44.3px 46.1px,#86a9fc 47.1px 48.8px,#6c8ff1 49.8px 51.6px,#516ddb 52.6px 54.3px,#3b4cc0 55.3px 57.1px,#5470de 58.1px 59.8px,#6e90f2 60.8px 62.5px,#89acfd 63.5px 65.3px,#a3c2fe 66.3px 68px,#bad0f8 69px 70.8px,#cdd9ec 71.8px 73.5px,#dcdddd 74.5px 76.3px,#e8d6cc 77.3px 79px,#efcebd 80px 81.8px,#f3c8b2 82.8px 84.5px,#f5c4ac 85.5px 87.3px,#f5c1a9 88.3px 90px,#f5c2aa 91px 92.8px,#f4c6af 93.8px 95.5px,#f1ccb8 96.5px 98.3px,#ebd3c6 99.3px 101px,#e1dad6 102px 103.8px,#d4dbe6 104.8px 106.5px,#c3d5f4 107.5px 109.2px,#adc9fd 110.2px 112px,#94b6ff 113px 114.7px,#7a9df8 115.7px 117.5px,#5e7de7 118.5px 120.2px,#455cce 121.2px 123px,#485fd1 124px 125.7px,#6180e9 126.7px 128.5px,#7b9ff9 129.5px 131.2px,#97b8ff 132.2px)"></i>
<i style="left:1516px;top:43px;width:1px;height:136px;background:linear-gradient(#b7cff9 1.2px,#c7d7f0,#d3dbe7,#dcdcdd,#e3d9d3,#e7d6cd,#e8d4ca,#e8d4c9,#e6d5cc,#e2d8d3,#dbd9dc,#d2d7e5,#c6d4ef,#b5ccf7,#a3c1fc,#8eaffc,#779af5,#607fe7,#4a61d1,#475fd0,#5571de,#6b8df0,#84a7fb,#9abaff,#adc9fc,#bfd3f5,#cdd9ec,#d8dce2,#e0dbd9,#e5d7cf,#e8d5ca,#e8d4c9,#e7d5cb,#e3d7d0,#ded8d8,#d7d9e0,#ccd6ea,#bed1f3,#adc7fa,#98b8fc,#82a4f9,#6c8def,#5571dd,#4154c6,#4e69d8,#6180e8,#789bf6,#8fb1fd,#a4c2fe 133.1px)"></i>
<i style="left:1517px;top:43px;width:12px;height:136px;background:linear-gradient(#b9d0f9 2.1px,#c7d7f0 3.1px 4.9px,#d3dbe7 5.9px 7.6px,#dbdcde 8.6px 10.4px,#e1dad6 11.4px 13.1px,#e5d8d1 14.1px 15.9px,#e6d7cf 16.9px 21.3px,#e3d9d3 22.3px 24.1px,#dedcdb 25.1px 26.8px,#d6dce4 27.8px 29.6px,#ccd9ed 30.6px 32.3px,#bfd3f6 33.3px 35.1px,#aec9fc 36.1px 37.8px,#9bbcff 38.8px 40.6px,#86a9fc 41.6px 43.3px,#6f92f3 44.3px 46.1px,#5977e3 47.1px 48.8px,#4358cb 49.8px 51.6px,#455cce 52.6px 54.3px,#5a78e4 55.3px 57.1px,#7093f3 58.1px 59.8px,#88abfd 60.8px 62.5px,#9dbdff 63.5px 65.3px,#afcafc 66.3px 68px,#c0d4f5 69px 70.8px,#cdd9ec 71.8px 73.5px,#d7dce3 74.5px 76.3px,#dedcdb 77.3px 79px,#e3d9d3 80px 81.8px,#e6d7cf 82.8px 87.3px,#e4d9d2 88.3px 90px,#e0dbd8 91px 92.8px,#dadce0 93.8px 95.5px,#d2dbe8 96.5px 98.3px,#c6d6f1 99.3px 101px,#b7cff9 102px 103.8px,#a5c3fe 104.8px 106.5px,#90b2fe 107.5px 109.2px,#7a9df8 110.2px 112px,#6485ec 113px 114.7px,#4e68d8 115.7px 117.5px,#3b4cc0 118.5px 120.2px,#506bda 121.2px 123px,#6687ed 124px 125.7px,#7da0f9 126.7px 128.5px,#93b5fe 129.5px 131.2px,#a6c4fe 132.2px)"></i>
<i style="left:1529px;top:43px;width:1px;height:136px;background:linear-gradient(#b8cff9 1.2px,#c3d5f3,#cdd9ec,#d3dae6,#d7d9e1,#dad8de,#d9d7de,#d7d6df,#d3d6e2,#ccd5e9,#c2d2ef,#b6ccf5,#a9c3fa,#97b6fa,#85a6f8,#7191f0,#5d7ae3,#4e67d6,#4960d2,#526dda,#6585eb,#799cf7,#8eb0fe,#a0bfff,#b0cafc,#bdd2f6,#c8d7f0,#d0dae9,#d6dae3,#d8d9df,#dad7dd,#d8d7de,#d5d7e1,#cfd6e6,#c7d4ec,#bdd0f2,#b0c8f7,#a1bdfa,#8faffa,#7a9cf4,#6786ea,#536eda,#4b64d5,#485fcf,#5c7ae4,#7092f2,#84a7fb,#97b9fe,#a8c5fe 133.1px)"></i>
<i style="left:1530px;top:43px;width:13px;height:136px;background:linear-gradient(#b6cefa 2.1px,#bfd3f6 3.1px 4.9px,#c5d6f2 5.9px 7.6px,#c9d7f0 8.6px 10.4px,#cbd8ee 11.4px 15.9px,#c9d7f0 16.9px 18.6px,#c4d5f3 19.6px 21.3px,#bed2f6 22.3px 24.1px,#b5cdfa 25.1px 26.8px,#a9c6fd 27.8px 29.6px,#9bbcff 30.6px 32.3px,#8caffe 33.3px 35.1px,#7a9df8 36.1px 37.8px,#688aef 38.8px 40.6px,#5673e0 41.6px 43.3px,#455cce 44.3px 46.1px,#3f53c6 47.1px 48.8px,#506bda 49.8px 51.6px,#6282ea 52.6px 54.3px,#7396f5 55.3px 57.1px,#85a8fc 58.1px 59.8px,#96b7ff 60.8px 62.5px,#a3c2fe 63.5px 65.3px,#b1cbfc 66.3px 68px,#bad0f8 69px 70.8px,#c1d4f4 71.8px 73.5px,#c7d7f0 74.5px 76.3px,#cbd8ee 77.3px 81.8px,#cad8ef 82.8px 84.5px,#c7d7f0 85.5px 87.3px,#c1d4f4 88.3px 90px,#bad0f8 91px 92.8px,#afcafc 93.8px 95.5px,#a2c1ff 96.5px 98.3px,#94b6ff 99.3px 101px,#84a7fc 102px 103.8px,#7295f4 104.8px 106.5px,#5f7fe8 107.5px 109.2px,#4e68d8 110.2px 112px,#3d50c3 113px 114.7px,#485fd1 115.7px 117.5px,#5977e3 118.5px 120.2px,#6b8df0 121.2px 123px,#7da0f9 124px 125.7px,#8db0fe 126.7px 128.5px,#9dbdff 129.5px 131.2px,#aac7fd 132.2px)"></i>
<i style="left:1543px;top:43px;width:13px;height:136px;background:linear-gradient(#a7c5fe 2.1px,#aac7fd 3.1px 4.9px,#abc8fd 5.9px 7.6px,#aac7fd 8.6px 10.4px,#a9c6fd 11.4px 13.1px,#a3c2fe 14.1px 15.9px,#9ebeff 16.9px 18.6px,#96b7ff 19.6px 21.3px,#8caffe 22.3px 24.1px,#81a4fb 25.1px 26.8px,#7597f6 27.8px 29.6px,#6788ee 30.6px 32.3px,#5977e3 33.3px 35.1px,#4c66d6 36.1px 37.8px,#3f53c6 38.8px 40.6px,#4257c9 41.6px 43.3px,#4f69d9 44.3px 46.1px,#5d7ce6 47.1px 48.8px,#6a8bef 49.8px 51.6px,#779af7 52.6px 54.3px,#82a6fb 55.3px 57.1px,#8db0fe 58.1px 59.8px,#97b8ff 60.8px 62.5px,#9fbfff 63.5px 65.3px,#a5c3fe 66.3px 68px,#a9c6fd 69px 70.8px,#abc8fd 71.8px 76.3px,#aac7fd 77.3px 79px,#a6c4fe 80px 81.8px,#a1c0ff 82.8px 84.5px,#9abbff 85.5px 87.3px,#90b2fe 88.3px 90px,#86a9fc 91px 92.8px,#7a9df8 93.8px 95.5px,#6e90f2 96.5px 98.3px,#6180e9 99.3px 101px,#536edd 102px 103.8px,#455cce 104.8px 106.5px,#3b4cc0 107.5px 109.2px,#4961d2 110.2px 112px,#5572df 113px 114.7px,#6384eb 115.7px 117.5px,#7093f3 118.5px 120.2px,#7da0f9 121.2px 123px,#88abfd 124px 125.7px,#93b5fe 126.7px 128.5px,#9bbcff 129.5px 131.2px,#a2c1ff 132.2px)"></i>
<i style="left:1556px;top:43px;width:1px;height:136px;background:linear-gradient(#95b7fe 1.2px,#96b6fd,#93b4fc,#8fb0fc,#8babfa,#84a5f8,#7c9df5,#7493f1,#6a89eb,#607de4,#556fdb,#4a61d0,#4b63d3,#4c66d6,#4e68d7,#5672de,#617fe7,#6b8cef,#7497f5,#7da0fa,#84a7fc,#8aadfd,#90b2fe,#93b5fe,#95b7fe,#96b7fe,#94b5fd,#92b3fc,#8daefb,#87a8f9,#81a2f7,#7899f3,#6f8fee,#6583e8,#5a76df,#5068d5,#4a62d2,#4c64d5,#4d67d6,#506ad8,#5b78e3,#6585eb,#6f92f2,#789bf7,#82a5fb,#88abfd,#8eb0fd,#92b4fe,#94b6fe 133.1px)"></i>
<i style="left:1557px;top:43px;width:12px;height:136px;background:linear-gradient(#8caffe 2.1px,#8badfd 3.1px 4.9px,#86a9fc 5.9px 7.6px,#81a4fb 8.6px 10.4px,#7a9df8 11.4px 13.1px,#7396f5 14.1px 15.9px,#6a8bef 16.9px 18.6px,#6180e9 19.6px 21.3px,#5875e1 22.3px 24.1px,#4e68d8 25.1px 26.8px,#445acc 27.8px 29.6px,#3b4cc0 30.6px 32.3px,#4358cb 33.3px 35.1px,#4c66d6 36.1px 37.8px,#5673e0 38.8px 40.6px,#6180e9 41.6px 43.3px,#6a8bef 44.3px 46.1px,#7295f4 47.1px 48.8px,#7a9df8 49.8px 51.6px,#81a4fb 52.6px 54.3px,#85a8fc 55.3px 57.1px,#89acfd 58.1px 59.8px,#8caffe 60.8px 62.5px,#8db0fe 63.5px 68px,#8caffe 69px 70.8px,#88abfd 71.8px 73.5px,#84a7fc 74.5px 76.3px,#7ea1fa 77.3px 79px,#7699f6 80px 81.8px,#6f92f3 82.8px 84.5px,#6687ed 85.5px 87.3px,#5d7ce6 88.3px 90px,#536edd 91px 92.8px,#4961d2 93.8px 95.5px,#3f53c6 96.5px 98.3px,#3e51c5 99.3px 101px,#485fd1 102px 103.8px,#516ddb 104.8px 106.5px,#5b7ae5 107.5px 109.2px,#6485ec 110.2px 112px,#6e90f2 113px 114.7px,#7699f6 115.7px 117.5px,#7da0f9 118.5px 120.2px,#84a7fc 121.2px 123px,#88abfd 124px 125.7px,#8badfd 126.7px 128.5px,#8db0fe 129.5px)"></i>
<i style="left:1569px;top:43px;width:1px;height:136px;background:linear-gradient(#83a6fa 1.2px,#80a2f8,#7b9df6,#7596f3,#6e8eef,#6786ea,#5e7be3,#5976e1,#5470dd,#4f69d9,#4961d2,#4559ca,#4c64d4,#5571dd,#5d7ce5,#6787ed,#6e90f1,#7598f5,#7b9ef9,#80a3fb,#82a6fb,#85a8fc,#86a9fc,#86a9fb,#84a7fa,#82a4f9,#7d9ff7,#789af5,#7293f1,#6a8aec,#6382e7,#5c79e2,#5774e0,#526cdc,#4c65d5,#475dce,#485ecf,#516bd9,#5977e1,#6282e9,#698bef,#7194f4,#789bf7,#7da0f9,#82a5fb,#85a8fc,#86a8fb,#86a9fc,#85a8fb 133.1px)"></i>
<i style="left:1570px;top:43px;width:13px;height:136px;background:linear-gradient(#688aef 2.1px,#6180e9 3.1px 4.9px,#5a78e4 5.9px 7.6px,#536edd 8.6px 10.4px,#4a63d3 11.4px 13.1px,#4257c9 14.1px 15.9px,#3b4cc0 16.9px 18.6px,#4257c9 19.6px 21.3px,#4a63d3 22.3px 24.1px,#516ddb 25.1px 26.8px,#5977e3 27.8px 29.6px,#6180e9 30.6px 32.3px,#6788ee 33.3px 35.1px,#6e90f2 36.1px 37.8px,#7396f5 38.8px 40.6px,#779af7 41.6px 43.3px,#7a9df8 44.3px 46.1px,#7da0f9 47.1px 48.8px,#7ea1fa 49.8px 54.3px,#7b9ff9 55.3px 57.1px,#7a9df8 58.1px 59.8px,#7699f6 60.8px 62.5px,#7093f3 63.5px 65.3px,#6b8df0 66.3px 68px,#6485ec 69px 70.8px,#5e7de7 71.8px 73.5px,#5673e0 74.5px 76.3px,#4e68d8 77.3px 79px,#465ecf 80px 81.8px,#3e51c5 82.8px 84.5px,#3d50c3 85.5px 87.3px,#455cce 88.3px 90px,#4e68d8 91px 92.8px,#5572df 93.8px 95.5px,#5d7ce6 96.5px 98.3px,#6485ec 99.3px 101px,#6b8df0 102px 103.8px,#7093f3 104.8px 106.5px,#7699f6 107.5px 109.2px,#799cf8 110.2px 112px,#7b9ff9 113px 114.7px,#7da0f9 115.7px 117.5px,#7ea1fa 118.5px 120.2px,#7da0f9 121.2px 123px,#7b9ff9 124px 125.7px,#779af7 126.7px 128.5px,#7396f5 129.5px 131.2px,#6e90f2 132.2px)"></i>
<i style="left:1583px;top:43px;width:1px;height:136px;background:linear-gradient(#455bcc 1.2px,#4257c8,#4962d2,#506ada,#5672df,#5d7ae4,#6281e8,#698aed,#7192f2,#7799f5,#7b9ef8,#7fa1f9,#82a4fa,#83a5fb,#82a5fb,#82a5fb,#7fa2fa,#7b9ff9,#779af7,#7194f4,#6a8bf0,#6282e9,#5b78e3,#516cda,#4a61d1,#4154c6,#465ccd,#4c65d5,#536fdd,#5a78e3,#5f7ee6,#6586ea,#6c8eef,#7495f3,#789af6,#7da0f8,#80a3fa,#82a5fa,#83a6fb,#83a6fb,#81a5fb,#7ea1fa,#7a9df8,#7497f5,#6e90f1,#6688ed,#5e7de7,#5673df,#4e68d7 133.1px)"></i>
<i style="left:1584px;top:43px;width:12px;height:136px;background:linear-gradient(#3f53c6 2.1px,#3d50c3 3.1px 4.9px,#465ecf 5.9px 7.6px,#4f69d9 8.6px 10.4px,#5875e1 11.4px 13.1px,#6180e9 14.1px 15.9px,#688aef 16.9px 18.6px,#7093f3 19.6px 21.3px,#779af7 22.3px 24.1px,#7da0f9 25.1px 26.8px,#81a4fb 27.8px 29.6px,#84a7fc 30.6px 32.3px,#86a9fc 33.3px 37.8px,#85a8fc 38.8px 40.6px,#84a7fc 41.6px 43.3px,#80a3fa 44.3px 46.1px,#7b9ff9 47.1px 48.8px,#7699f6 49.8px 51.6px,#6f92f3 52.6px 54.3px,#6788ee 55.3px 57.1px,#5e7de7 58.1px 59.8px,#5673e0 60.8px 62.5px,#4c66d6 63.5px 65.3px,#445acc 66.3px 68px,#3b4cc0 69px 70.8px,#4257c9 71.8px 73.5px,#4a63d3 74.5px 76.3px,#5470de 77.3px 79px,#5d7ce6 80px 81.8px,#6485ec 82.8px 84.5px,#6c8ff1 85.5px 87.3px,#7396f5 88.3px 90px,#7a9df8 91px 92.8px,#7ea1fa 93.8px 95.5px,#82a6fb 96.5px 98.3px,#85a8fc 99.3px 101px,#86a9fc 102px 106.5px,#85a8fc 107.5px 109.2px,#82a6fb 110.2px 112px,#7ea1fa 113px 114.7px,#799cf8 115.7px 117.5px,#7295f4 118.5px 120.2px,#6b8df0 121.2px 123px,#6384eb 124px 125.7px,#5a78e4 126.7px 128.5px,#516ddb 129.5px 131.2px,#4961d2 132.2px)"></i>
<i style="left:1596px;top:43px;width:1px;height:136px;background:linear-gradient(#4f68d6 1.2px,#536dd8,#5d7ae1,#6785e9,#708fee,#7898f3,#7fa1f6,#85a7f9,#8aacfb,#8eaffc,#90b1fd,#90b2fd,#8fb1fd,#8caffd,#88abfd,#84a7fc,#7da0f9,#7598f6,#6d8ef0,#6383ea,#5976e1,#4f68d6,#4d66d5,#4d67d7,#4e68d7,#4f67d5,#5874dd,#627fe5,#6b8aec,#7494f1,#7b9cf5,#82a4f7,#87a9fa,#8cadfb,#8eaffc,#8fb2fd,#90b2fd,#8eb0fd,#8badfd,#86a9fc,#80a4fb,#799cf8,#7193f3,#6789ed,#5e7ce5,#5470dc,#4c65d4,#4d67d6,#4e68d8 133.1px)"></i>
<i style="left:1597px;top:43px;width:13px;height:136px;background:linear-gradient(#6180e9 2.1px,#6c8ff1 3.1px 4.9px,#779af7 5.9px 7.6px,#82a6fb 8.6px 10.4px,#8badfd 11.4px 13.1px,#93b5fe 14.1px 15.9px,#9abbff 16.9px 18.6px,#9ebeff 19.6px 21.3px,#a1c0ff 22.3px 24.1px,#a2c1ff 25.1px 26.8px,#a1c0ff 27.8px 29.6px,#9ebeff 30.6px 32.3px,#9abbff 33.3px 35.1px,#94b6ff 36.1px 37.8px,#8caffe 38.8px 40.6px,#84a7fc 41.6px 43.3px,#799cf8 44.3px 46.1px,#6e90f2 47.1px 48.8px,#6282ea 49.8px 51.6px,#5572df 52.6px 54.3px,#4961d2 55.3px 57.1px,#3d50c3 58.1px 59.8px,#4257c9 60.8px 62.5px,#4e68d8 63.5px 65.3px,#5a78e4 66.3px 68px,#6687ed 69px 70.8px,#7295f4 71.8px 73.5px,#7da0f9 74.5px 76.3px,#86a9fc 77.3px 79px,#8fb1fe 80px 81.8px,#96b7ff 82.8px 84.5px,#9bbcff 85.5px 87.3px,#9fbfff 88.3px 90px,#a1c0ff 91px 95.5px,#9fbfff 96.5px 98.3px,#9dbdff 99.3px 101px,#97b8ff 102px 103.8px,#90b2fe 104.8px 106.5px,#88abfd 107.5px 109.2px,#7ea1fa 110.2px 112px,#7396f5 113px 114.7px,#6788ee 115.7px 117.5px,#5b7ae5 118.5px 120.2px,#4f69d9 121.2px 123px,#4358cb 124px 125.7px,#3c4ec2 126.7px 128.5px,#485fd1 129.5px 131.2px,#5470de 132.2px)"></i>
<i style="left:1610px;top:43px;width:13px;height:136px;background:linear-gradient(#94b6ff 2.1px,#a2c1ff 3.1px 4.9px,#adc9fd 5.9px 7.6px,#b5cdfa 8.6px 10.4px,#bbd1f8 11.4px 13.1px,#bfd3f6 14.1px 15.9px,#c1d4f4 16.9px 21.3px,#bfd3f6 22.3px 24.1px,#bbd1f8 25.1px 26.8px,#b5cdfa 27.8px 29.6px,#abc8fd 30.6px 32.3px,#a1c0ff 33.3px 35.1px,#94b6ff 36.1px 37.8px,#86a9fc 38.8px 40.6px,#7699f6 41.6px 43.3px,#6687ed 44.3px 46.1px,#5572df 47.1px 48.8px,#455cce 49.8px 51.6px,#3e51c5 52.6px 54.3px,#4e68d8 55.3px 57.1px,#5e7de7 58.1px 59.8px,#6e90f2 60.8px 62.5px,#7ea1fa 63.5px 65.3px,#8db0fe 66.3px 68px,#9bbcff 69px 70.8px,#a7c5fe 71.8px 73.5px,#b1cbfc 74.5px 76.3px,#b9d0f9 77.3px 79px,#bed2f6 80px 81.8px,#c0d4f5 82.8px 84.5px,#c1d4f4 85.5px 87.3px,#c0d4f5 88.3px 90px,#bed2f6 91px 92.8px,#b9d0f9 93.8px 95.5px,#b1cbfc 96.5px 98.3px,#a7c5fe 99.3px 101px,#9bbcff 102px 103.8px,#8db0fe 104.8px 106.5px,#7ea1fa 107.5px 109.2px,#6e90f2 110.2px 112px,#5e7de7 113px 114.7px,#4e68d8 115.7px 117.5px,#3e51c5 118.5px 120.2px,#455cce 121.2px 123px,#5572df 124px 125.7px,#6687ed 126.7px 128.5px,#7699f6 129.5px 131.2px,#86a9fc 132.2px)"></i>
<i style="left:1623px;top:43px;width:1px;height:136px;background:linear-gradient(#b6cbf6 1.2px,#c1d2f0,#c9d6ec,#cfd8e7,#d2d8e5,#d4d9e4,#d3dae5,#d0d9e8,#ccd8ed,#c4d5f3,#bad0f8,#adc9fc,#9ebeff,#8daffe,#7b9df8,#6788ed,#536fdc,#455bcc,#4c66d6,#5975e0,#6b8ced,#7fa0f6,#91b1fb,#a2befb,#afc8f8,#bccff3,#c5d4ee,#ccd6e9,#d1d8e6,#d3d9e4,#d3d9e4,#d2d9e7,#ced9ea,#c8d7ef,#c0d3f6,#b4cdfb,#a6c4fe,#96b7fe,#83a6fb,#7192f3,#5d7ce5,#4a62d2,#4961d2,#516cda,#6281e7,#7596f2,#88a9f9,#99b8fb,#a9c3f9 133.1px)"></i>
<i style="left:1624px;top:43px;width:12px;height:136px;background:linear-gradient(#c6d6f1 2.1px,#d1dae9 3.1px 4.9px,#d7dce3 5.9px 7.6px,#dcdddd 8.6px 10.4px,#dedcdb 11.4px 15.9px,#dcdddd 16.9px 18.6px,#d8dce2 19.6px 21.3px,#d2dbe8 22.3px 24.1px,#c9d7f0 25.1px 26.8px,#bcd2f7 27.8px 29.6px,#aec9fc 30.6px 32.3px,#9dbdff 33.3px 35.1px,#89acfd 36.1px 37.8px,#7597f6 38.8px 40.6px,#5f7fe8 41.6px 43.3px,#4a63d3 44.3px 46.1px,#3d50c3 47.1px 48.8px,#506bda 49.8px 51.6px,#6687ed 52.6px 54.3px,#7a9df8 55.3px 57.1px,#8fb1fe 58.1px 59.8px,#a2c1ff 60.8px 62.5px,#b3cdfb 63.5px 65.3px,#c0d4f5 66.3px 68px,#ccd9ed 69px 70.8px,#d4dbe6 71.8px 73.5px,#dadce0 74.5px 76.3px,#dddcdc 77.3px 79px,#dedcdb 80px 81.8px,#dddcdc 82.8px 84.5px,#dadce0 85.5px 87.3px,#d5dbe5 88.3px 90px,#cdd9ec 91px 92.8px,#c3d5f4 93.8px 95.5px,#b6cefa 96.5px 98.3px,#a6c4fe 99.3px 101px,#93b5fe 102px 103.8px,#7ea1fa 104.8px 106.5px,#6a8bef 107.5px 109.2px,#5572df 110.2px 112px,#4055c8 113px 114.7px,#465ecf 115.7px 117.5px,#5b7ae5 118.5px 120.2px,#7093f3 121.2px 123px,#85a8fc 124px 125.7px,#98b9ff 126.7px 128.5px,#aac7fd 129.5px 131.2px,#bad0f8 132.2px)"></i>
<i style="left:1636px;top:43px;width:1px;height:136px;background:linear-gradient(#d0d5e5 1.2px,#d9d7dd,#ded7d7,#e2d8d2,#e3d7d1,#e3d8d2,#e0dad7,#dbdbde,#d4dbe6,#cad7ef,#bbd1f7,#abc7fd,#98b9ff,#83a6fb,#6d8ef1,#5673df,#4a63d3,#475ece,#5c7ae3,#7394f2,#88a9f9,#9dbbfb,#afc8f9,#bfd1f2,#cbd5ea,#d5d7e1,#dcd7d9,#e1d7d4,#e3d7d1,#e3d8d1,#e2d9d4,#dedadb,#d8dbe2,#cfdaeb,#c3d5f4,#b4cdfb,#a2c1fe,#8eb0fd,#7799f6,#6281e8,#4f69d8,#465dcf,#526dd9,#6888ec,#7ea0f6,#93b3fb,#a6c2fb,#b7cdf6,#c5d2ee 133.1px)"></i>
<i style="left:1637px;top:43px;width:13px;height:136px;background:linear-gradient(#ebd3c6 2.1px,#efcebd 3.1px 4.9px,#f2cbb7 5.9px 7.6px,#f2c9b4 8.6px 10.4px,#f2cbb7 11.4px 13.1px,#f0cdbb 14.1px 15.9px,#ebd3c6 16.9px 18.6px,#e4d9d2 19.6px 21.3px,#d9dce1 22.3px 24.1px,#cbd8ee 25.1px 26.8px,#bad0f8 27.8px 29.6px,#a3c2fe 30.6px 32.3px,#8caffe 33.3px 35.1px,#7295f4 36.1px 37.8px,#5977e3 38.8px 40.6px,#4055c8 41.6px 43.3px,#4a63d3 44.3px 46.1px,#6384eb 47.1px 48.8px,#7da0f9 49.8px 51.6px,#96b7ff 52.6px 54.3px,#aec9fc 55.3px 57.1px,#c1d4f4 58.1px 59.8px,#d2dbe8 60.8px 62.5px,#dedcdb 63.5px 65.3px,#e8d6cc 66.3px 68px,#edd1c2 69px 70.8px,#f1ccb8 71.8px 73.5px,#f2cab5 74.5px 79px,#f1ccb8 80px 81.8px,#eed0c0 82.8px 84.5px,#e8d6cc 85.5px 87.3px,#dfdbd9 88.3px 90px,#d3dbe7 91px 92.8px,#c3d5f4 93.8px 95.5px,#afcafc 96.5px 98.3px,#98b9ff 99.3px 101px,#80a3fa 102px 103.8px,#6485ec 104.8px 106.5px,#4c66d6 107.5px 109.2px,#3f53c6 110.2px 112px,#5673e0 113px 114.7px,#7093f3 115.7px 117.5px,#89acfd 118.5px 120.2px,#a2c1ff 121.2px 123px,#b9d0f9 124px 125.7px,#cad8ef 126.7px 128.5px,#d8dce2 129.5px 131.2px,#e3d9d3 132.2px)"></i>
<i style="left:1650px;top:43px;width:1px;height:136px;background:linear-gradient(#f6b79c 1.2px,#f6b396,#f6b195,#f6b498,#f6ba9f,#f4c2ab,#f0cebb,#e7d7ce,#d7dce3,#c5d5f2,#acc8fc,#91b3fe,#7396f4,#5773e0,#4053c6,#5571de,#7192f2,#8daffc,#a9c5fc,#c1d3f2,#d5dae3,#e4d5d0,#eecdbd,#f3c3ac,#f5bba1,#f6b499,#f6b195,#f6b295,#f6b79b,#f5bfa5,#f2c8b3,#ecd2c4,#dfdbd9,#cfdaeb,#b8d0f8,#9fbfff,#83a6fb,#6584eb,#4961d2,#4a63d3,#6181e8,#7fa2f9,#9cbbfe,#b5cdf9,#ccd8eb,#ddd9d9,#ead1c6,#f1c8b3,#f5bea5 133.1px)"></i>
<i style="left:1651px;top:43px;width:12px;height:136px;background:linear-gradient(#f7b396 2.1px,#f7af91 3.1px 4.9px,#f7ad90 5.9px 7.6px,#f7b194 8.6px 10.4px,#f7b89c 11.4px 13.1px,#f5c1a9 14.1px 15.9px,#f1cdba 16.9px 18.6px,#e7d7ce 19.6px 21.3px,#d7dce3 22.3px 24.1px,#c4d5f3 25.1px 26.8px,#aac7fd 27.8px 29.6px,#8fb1fe 30.6px 32.3px,#7093f3 33.3px 35.1px,#536edd 36.1px 37.8px,#3c4ec2 38.8px 40.6px,#5875e1 41.6px 43.3px,#7699f6 44.3px 46.1px,#93b5fe 47.1px 48.8px,#afcafc 49.8px 51.6px,#c7d7f0 52.6px 54.3px,#dadce0 55.3px 57.1px,#e9d5cb 58.1px 59.8px,#f2cbb7 60.8px 62.5px,#f6bfa6 63.5px 65.3px,#f7b79b 66.3px 68px,#f7b093 69px 70.8px,#f7ad90 71.8px 73.5px,#f7af91 74.5px 76.3px,#f7b497 77.3px 79px,#f6bda2 80px 81.8px,#f3c7b1 82.8px 84.5px,#edd2c3 85.5px 87.3px,#dfdbd9 88.3px 90px,#cedaeb 91px 92.8px,#b7cff9 93.8px 95.5px,#9dbdff 96.5px 98.3px,#80a3fa 99.3px 101px,#6180e9 102px 103.8px,#455cce 104.8px 106.5px,#4a63d3 107.5px 109.2px,#6687ed 110.2px 112px,#85a8fc 113px 114.7px,#a2c1ff 115.7px 117.5px,#bbd1f8 118.5px 120.2px,#d2dbe8 121.2px 123px,#e2dad5 124px 125.7px,#eed0c0 126.7px 128.5px,#f4c5ad 129.5px 131.2px,#f7ba9f 132.2px)"></i>
<i style="left:1663px;top:43px;width:1px;height:136px;background:linear-gradient(#f4a183 1.2px,#f49f81,#f5a183,#f6a88a,#f7b396,#f5bfa6,#f1cdba,#e4d8d2,#d2dbe8,#bbd0f7,#9dbdfd,#7fa1f8,#607ee6,#4c64d5,#4f69d6,#6e8eee,#8daefa,#abc4f9,#c4d3ee,#d9d5da,#e7cfc6,#f0c4b0,#f4b79e,#f5ac90,#f4a487,#f49f82,#f59f82,#f6a486,#f7ad8f,#f6b99e,#f3c7b0,#ecd3c6,#dbdbde,#c7d7f0,#acc8fc,#8fb0fd,#7091f1,#5069d8,#4c66d6,#5f7ce4,#7e9ff6,#9dbafb,#b9cdf4,#cfd5e6,#e1d3d0,#eccbbb,#f2bda6,#f4b196,#f5a78a 133.1px)"></i>
<i style="left:1664px;top:43px;width:12px;height:136px;background:linear-gradient(#f18d6f 4.9px,#f39475 5.9px 7.6px,#f59f80 8.6px 10.4px,#f7ad90 11.4px 13.1px,#f6bda2 14.1px 15.9px,#f0cdbb 16.9px 18.6px,#e1dad6 19.6px 21.3px,#ccd9ed 22.3px 24.1px,#b1cbfc 25.1px 26.8px,#90b2fe 27.8px 29.6px,#6e90f2 30.6px 32.3px,#4e68d8 33.3px 35.1px,#445acc 36.1px 37.8px,#6485ec 38.8px 40.6px,#85a8fc 41.6px 43.3px,#a6c4fe 44.3px 46.1px,#c4d5f3 47.1px 48.8px,#dbdcde 49.8px 51.6px,#edd2c3 52.6px 54.3px,#f5c2aa 55.3px 57.1px,#f7b194 58.1px 59.8px,#f6a283 60.8px 62.5px,#f39778 63.5px 65.3px,#f18f71 66.3px 68px,#f18d6f 69px 70.8px,#f29072 71.8px 73.5px,#f4987a 74.5px 76.3px,#f6a586 77.3px 79px,#f7b599 80px 81.8px,#f4c6af 82.8px 84.5px,#ead5c9 85.5px 87.3px,#d7dce3 88.3px 90px,#bfd3f6 91px 92.8px,#a1c0ff 93.8px 95.5px,#80a3fa 96.5px 98.3px,#5e7de7 99.3px 101px,#3e51c5 102px 103.8px,#5470de 104.8px 106.5px,#7597f6 107.5px 109.2px,#97b8ff 110.2px 112px,#b6cefa 113px 114.7px,#d1dae9 115.7px 117.5px,#e4d9d2 118.5px 120.2px,#f2cbb7 121.2px 123px,#f7ba9f 124px 125.7px,#f7a98b 126.7px 128.5px,#f59c7d 129.5px 131.2px,#f29274 132.2px)"></i>
<i style="left:1676px;top:43px;width:1px;height:136px;background:linear-gradient(#f08a6d 1.2px,#f08b6d,#f39374,#f59e7f,#f7ad90,#f6bea3,#efcebc,#e0dad7,#cad8ee,#aec9fc,#8daffd,#6b8cef,#4e68d8,#485fcf,#6889ee,#89abfc,#aac6fc,#c7d5ef,#dddad9,#eecfbe,#f5bea6,#f6ad90,#f59e80,#f29375,#f08c6f,#f08a6d,#f18e71,#f49779,#f6a586,#f7b599,#f4c7b0,#e9d6cb,#d5dbe4,#bdd2f7,#9ebdff,#7d9ff8,#5b79e4,#4155c8,#5875e1,#799bf7,#9bbbfe,#bacff7,#d4d9e5,#e6d6cd,#f2c7b2,#f6b69b,#f6a587,#f4987a,#f18f71 133.1px)"></i>
<i style="left:1677px;top:43px;width:13px;height:136px;background:linear-gradient(#e46e56 2.1px,#e8765c 3.1px 4.9px,#ee8468 5.9px 7.6px,#f4987a 8.6px 10.4px,#f7ad90 11.4px 13.1px,#f5c4ac 14.1px 15.9px,#e9d5cb 16.9px 18.6px,#d3dbe7 19.6px 21.3px,#b5cdfa 22.3px 24.1px,#92b4fe 25.1px 26.8px,#6c8ff1 27.8px 29.6px,#4a63d3 30.6px 32.3px,#4b64d5 33.3px 35.1px,#6f92f3 36.1px 37.8px,#94b6ff 38.8px 40.6px,#b7cff9 41.6px 43.3px,#d4dbe6 44.3px 46.1px,#ead5c9 47.1px 48.8px,#f5c2aa 49.8px 51.6px,#f7ac8e 52.6px 54.3px,#f39778 55.3px 57.1px,#ee8468 58.1px 59.8px,#e8765c 60.8px 62.5px,#e36c55 63.5px 68px,#e57058 69px 70.8px,#eb7d62 71.8px 73.5px,#f18d6f 74.5px 76.3px,#f6a283 77.3px 79px,#f7b89c 80px 81.8px,#f1cdba 82.8px 84.5px,#dedcdb 85.5px 87.3px,#c5d6f2 88.3px 90px,#a5c3fe 91px 92.8px,#80a3fa 93.8px 95.5px,#5b7ae5 96.5px 98.3px,#3b4cc0 99.3px 101px,#5d7ce6 102px 103.8px,#81a4fb 104.8px 106.5px,#a6c4fe 107.5px 109.2px,#c6d6f1 110.2px 112px,#dfdbd9 113px 114.7px,#f1ccb8 115.7px 117.5px,#f7b89c 118.5px 120.2px,#f6a283 121.2px 123px,#f18d6f 124px 125.7px,#ea7b60 126.7px 128.5px,#e57058 129.5px 131.2px,#e36c55 132.2px)"></i>
<i style="left:1690px;top:43px;width:1px;height:136px;background:linear-gradient(#dd604d 1.2px,#e56f57,#ee8468,#f59d7e,#f7b59a,#f0ccba,#dddadb,#c1d3f3,#9ebdfd,#7799f4,#526dd9,#4f6ad9,#6989ed,#90b1fb,#b4cbf7,#d3d7e3,#e9cfc4,#f3bca4,#f4a487,#ef8c70,#e7765d,#df6450,#da5a49,#d95747,#db5b4a,#e16751,#ea7a5f,#f29072,#f7a98b,#f5c2a9,#e8d5cb,#d0d9e9,#b0cafa,#8badfb,#6585ea,#485fd0,#5773de,#7d9ff7,#a3c0fb,#c5d4ee,#dfd5d5,#efc7b4,#f4b195,#f2987b,#eb8166,#e36d56,#dc5f4d,#d85647,#d95948 133.1px)"></i>
<i style="left:1691px;top:43px;width:12px;height:136px;background:linear-gradient(#da5a49 2.1px,#e36c55 3.1px 4.9px,#ee8468 5.9px 7.6px,#f59f80 8.6px 10.4px,#f7b99e 11.4px 13.1px,#eed0c0 14.1px 15.9px,#d8dce2 16.9px 18.6px,#b9d0f9 19.6px 21.3px,#94b6ff 22.3px 24.1px,#6b8df0 25.1px 26.8px,#465ecf 27.8px 29.6px,#516ddb 30.6px 32.3px,#779af7 33.3px 35.1px,#9fbfff 36.1px 37.8px,#c3d5f4 38.8px 40.6px,#dfdbd9 41.6px 43.3px,#f2cab5 44.3px 46.1px,#f7b194 47.1px 48.8px,#f39778 49.8px 51.6px,#eb7d62 52.6px 54.3px,#e16751 55.3px 57.1px,#d85646 58.1px 59.8px,#d44e41 60.8px 65.3px,#d75445 66.3px 68px,#df634e 69px 70.8px,#e9785d 71.8px 73.5px,#f29274 74.5px 76.3px,#f7ac8e 77.3px 79px,#f4c6af 80px 81.8px,#e4d9d2 82.8px 84.5px,#cad8ef 85.5px 87.3px,#a7c5fe 88.3px 90px,#80a3fa 91px 92.8px,#5977e3 93.8px 95.5px,#3f53c6 96.5px 98.3px,#6384eb 99.3px 101px,#8caffe 102px 103.8px,#b2ccfb 104.8px 106.5px,#d3dbe7 107.5px 109.2px,#ead4c8 110.2px 112px,#f6bea4 113px 114.7px,#f6a586 115.7px 117.5px,#f08a6c 118.5px 120.2px,#e67259 121.2px 123px,#dd5f4b 124px 125.7px,#d65244 126.7px 128.5px,#d24b40 129.5px 131.2px,#d55042 132.2px)"></i>
<i style="left:1703px;top:43px;width:1px;height:136px;background:linear-gradient(#da5a49 1.2px,#e46e57,#ef886c,#f6a486,#f5bfa6,#e9d4c9,#d0d9e8,#aec8fb,#88aafb,#5f7ee5,#4a64d4,#5e7ce4,#85a7f9,#acc7fa,#ced5e8,#e6d3ca,#f3bea7,#f4a487,#ee896d,#e47059,#da5b4a,#d24c41,#d0463d,#d1483e,#d65244,#e0644f,#ea7b60,#f39778,#f7b295,#f1cab7,#ddd9da,#c0d3f3,#9bbbfd,#7495f2,#526edc,#4c64d2,#7192f1,#9ab9fc,#bed1f2,#dcd7da,#eecab9,#f5b296,#f2977a,#e97c62,#df6550,#d65344,#d1483f,#cf453d,#d34d40 133.1px)"></i>
<i style="left:1704px;top:43px;width:13px;height:136px;background:linear-gradient(#da5a49 2.1px,#e7745b 3.1px 4.9px,#f29274 5.9px 7.6px,#f7b194 8.6px 10.4px,#f1ccb8 11.4px 13.1px,#dcdddd 14.1px 15.9px,#bcd2f7 16.9px 18.6px,#94b6ff 19.6px 21.3px,#6b8df0 22.3px 24.1px,#445acc 25.1px 26.8px,#5572df 27.8px 29.6px,#7ea1fa 30.6px 32.3px,#a7c5fe 33.3px 35.1px,#ccd9ed 36.1px 37.8px,#e8d6cc 38.8px 40.6px,#f5c0a7 41.6px 43.3px,#f6a385 44.3px 46.1px,#ee8468 47.1px 48.8px,#e26952 49.8px 51.6px,#d55042 52.6px 54.3px,#cb3e38 55.3px 57.1px,#c53334 58.1px 62.5px,#ca3b37 63.5px 65.3px,#d44e41 66.3px 68px,#e16751 69px 70.8px,#ed8366 71.8px 73.5px,#f6a283 74.5px 76.3px,#f6bfa6 77.3px 79px,#e9d5cb 80px 81.8px,#cdd9ec 82.8px 84.5px,#a9c6fd 85.5px 87.3px,#80a3fa 88.3px 90px,#5673e0 91px 92.8px,#4358cb 93.8px 95.5px,#6a8bef 96.5px 98.3px,#93b5fe 99.3px 101px,#bbd1f8 102px 103.8px,#dbdcde 104.8px 106.5px,#f1cdba 107.5px 109.2px,#f7b194 110.2px 112px,#f39475 113px 114.7px,#e8765c 115.7px 117.5px,#da5a49 118.5px 120.2px,#cf453c 121.2px 123px,#c73635 124px 125.7px,#c43032 126.7px 128.5px,#c73635 129.5px 131.2px,#cf453c 132.2px)"></i>
<i style="left:1757.86px;top:43.10px;width:6.41px;height:135.05px;background:linear-gradient(#b40426,#ba162b,#c0282f,#c53334,#cb3e38,#d0473d,#d55042,#d95847,#de614d,#e26952,#e57058,#e9785d,#ec7f63,#ee8669,#f18d6f,#f39475,#f59c7d,#f6a283,#f7a889,#f7ad90,#f7b396,#f7b89c,#f6bda2,#f5c1a9,#f4c6af,#f2cab5,#f0cdbb,#edd1c2,#ead4c8,#e7d7ce,#e3d9d3,#dfdbd9,#dadce0,#d6dce4,#d2dbe8,#cdd9ec,#c9d7f0,#c4d5f3,#bfd3f6,#bad0f8,#b5cdfa,#afcafc,#aac7fd,#a5c3fe,#9fbfff,#9abbff,#94b6ff,#8fb1fe,#88abfd,#82a6fb,#7da0f9,#779af7,#7295f4,#6c8ff1,#6788ee,#6282ea,#5d7ce6,#5875e1,#536edd,#4e68d8,#4961d2,#445acc,#3f53c6,#3b4cc0)"></i>
<i style="left:1059px;top:259px;width:15px;height:136px;background:linear-gradient(#e8d6cc 2.2px,#f6bea4 3.2px 5px,#f59f80 6px 7.7px,#ec7f63 8.7px 10.5px,#dd5f4b 11.5px 13.2px,#cf453c 14.2px 16px,#c32e31 17px 18.7px,#bb1b2c 19.7px 24.2px,#c0282f 25.2px 26.9px,#cb3e38 27.9px 29.7px,#d85646 30.7px 32.4px,#e8765c 33.4px 35.2px,#f39577 36.2px 37.9px,#f7b599 38.9px 40.7px,#eed0c0 41.7px 43.4px,#d5dbe5 44.4px 46.2px,#b1cbfc 47.2px 48.9px,#88abfd 49.9px 51.7px,#5d7ce6 52.7px 54.4px,#3e51c5 55.4px 57.2px,#6687ed 58.2px 59.9px,#90b2fe 60.9px 62.6px,#bad0f8 63.6px 65.4px,#dadce0 66.4px 68.1px,#f1ccb8 69.1px 70.9px,#f7b093 71.9px 73.6px,#f18f71 74.6px 76.4px,#e46e56 77.4px 79.1px,#d65244 80.1px 81.9px,#c83836 82.9px 84.6px,#be242e 85.6px 87.4px,#bb1b2c 88.4px 90.1px,#bd1f2d 91.1px 92.9px,#c53334 93.9px 95.6px,#d1493f 96.6px 98.4px,#e16751 99.4px 101.1px,#ee8669 102.1px 103.9px,#f7a688 104.9px 106.6px,#f5c4ac 107.6px 109.3px,#e2dad5 110.3px 112.1px,#c4d5f3 113.1px 114.8px,#9dbdff 115.8px 117.6px,#7295f4 118.6px 120.3px,#4961d2 121.3px 123.1px,#516ddb 124.1px 125.8px,#7b9ff9 126.8px 128.6px,#a6c4fe 129.6px 131.3px,#cbd8ee 132.3px)"></i>
<i style="left:1074px;top:259px;width:1px;height:136px;background:linear-gradient(#f4c2ab 1.3px,#f5a385,#ed8266,#df644f,#d0483e,#c43032,#bb192c,#ba172b,#be232e,#c73635,#d55043,#e46d56,#f18f71,#f7b093,#f1cab7,#d9dbdf,#b8cef8,#90b2fe,#6585eb,#3f51c4,#5e7de6,#89acfc,#b3ccfa,#d6dbe3,#efcfbe,#f6b498,#f39375,#e6735b,#d75546,#c93b37,#be222e,#b9142a,#bb1b2c,#c22c31,#ce433b,#dd5e4c,#eb7e63,#f59f80,#f5bea6,#e7d6cd,#cad7ed,#a5c2fe,#7a9df7,#506bd9,#4d67d7,#7395f4,#9ebdfe,#c5d5f1,#e4d7d1 133.2px)"></i>
<i style="left:1075px;top:259px;width:12px;height:136px;background:linear-gradient(#f5c0a7 2.2px,#f5a081 3.2px 5px,#ec7f63 6px 7.7px,#de614d 8.7px 10.5px,#cf453c 11.5px 13.2px,#c32e31 14.2px 16px,#ba162b 17px 21.4px,#be242e 22.4px 24.2px,#c83836 25.2px 26.9px,#d65244 27.9px 29.7px,#e57058 30.7px 32.4px,#f29274 33.4px 35.2px,#f7b396 36.2px 37.9px,#f0cdbb 38.9px 40.7px,#d7dce3 41.7px 43.4px,#b5cdfa 44.4px 46.2px,#8caffe 47.2px 48.9px,#6180e9 49.9px 51.7px,#3b4cc0 52.7px 54.4px,#6282ea 55.4px 57.2px,#8db0fe 58.2px 59.9px,#b7cff9 60.9px 62.6px,#d9dce1 63.6px 65.4px,#f1cdba 66.4px 68.1px,#f7b194 69.1px 70.9px,#f29072 71.9px 73.6px,#e57058 74.6px 76.4px,#d65244 77.4px 79.1px,#c83836 80.1px 81.9px,#bd1f2d 82.9px 84.6px,#b8122a 85.6px 87.4px,#bb1b2c 88.4px 90.1px,#c32e31 91.1px 92.9px,#cf453c 93.9px 95.6px,#de614d 96.6px 98.4px,#ec8165 99.4px 101.1px,#f6a283 102.1px 103.9px,#f5c1a9 104.9px 106.6px,#e5d8d1 107.6px 109.3px,#c7d7f0 110.3px 112.1px,#a1c0ff 113.1px 114.8px,#7699f6 115.8px 117.6px,#4c66d6 118.6px 120.3px,#4e68d8 121.3px 123.1px,#779af7 124.1px 125.8px,#a2c1ff 126.8px 128.6px,#c9d7f0 129.6px 131.3px,#e7d7ce 132.3px)"></i>
<i style="left:1087px;top:259px;width:1px;height:136px;background:linear-gradient(#f5b094 1.3px,#f19072,#e56f57,#d65244,#c83836,#bf222e,#b9122a,#ba182b,#c22d31,#ce443c,#dd604d,#eb7f64,#f4a183,#f4c0a8,#e5d4ce,#c7d6ee,#a1bffc,#7799f4,#4e66d5,#4e66d4,#7798f4,#a1bffc,#c7d5ee,#e4d5ce,#f4bfa7,#f5a183,#eb7f64,#dd604d,#cf443d,#c32c32,#ba162b,#b8122a,#be232e,#c83836,#d65243,#e57058,#f09073,#f6b094,#eeccbb,#d8d8e0,#b5cdf7,#8cadfb,#6281e7,#4c66d6,#6280e7,#8cadfb,#b5ccf8,#d7d7e0,#eeccbb 133.2px)"></i>
<i style="left:1088px;top:259px;width:12px;height:136px;background:linear-gradient(#f5a081 2.2px,#ec7f63 3.2px 5px,#dd5f4b 6px 7.7px,#cd423b 8.7px 10.5px,#c12b30 11.5px 13.2px,#ba162b 14.2px 16px,#b70d28 17px 18.7px,#bb1b2c 19.7px 21.4px,#c73635 22.4px 24.2px,#d55042 25.2px 26.9px,#e46e56 27.9px 29.7px,#f18f71 30.7px 32.4px,#f7b093 33.4px 35.2px,#f1cdba 36.2px 37.9px,#d9dce1 38.9px 40.7px,#b7cff9 41.7px 43.4px,#8db0fe 44.4px 46.2px,#6282ea 47.2px 48.9px,#3b4cc0 49.9px 51.7px,#6180e9 52.7px 54.4px,#8caffe 55.4px 57.2px,#b6cefa 58.2px 59.9px,#d8dce2 60.9px 62.6px,#f0cdbb 63.6px 65.4px,#f7b194 66.4px 68.1px,#f29072 69.1px 70.9px,#e46e56 71.9px 73.6px,#d55042 74.6px 76.4px,#c73635 77.4px 79.1px,#bd1f2d 80.1px 81.9px,#b70d28 82.9px 84.6px,#b8122a 85.6px 87.4px,#c12b30 88.4px 90.1px,#cd423b 91.1px 92.9px,#dd5f4b 93.9px 95.6px,#ec7f63 96.6px 98.4px,#f5a081 99.4px 101.1px,#f6bfa6 102.1px 103.9px,#e7d7ce 104.9px 106.6px,#cad8ef 107.6px 109.3px,#a3c2fe 110.3px 112.1px,#779af7 113.1px 114.8px,#4e68d8 115.8px 117.6px,#4c66d6 118.6px 120.3px,#7699f6 121.3px 123.1px,#a2c1ff 124.1px 125.8px,#c9d7f0 126.8px 128.6px,#e6d7cf 129.6px 131.3px,#f5c0a7 132.3px)"></i>
<i style="left:1100px;top:259px;width:1px;height:136px;background:linear-gradient(#f49c7e 1.3px,#ea7c60,#db5c49,#cc3f3a,#c0282f,#b9152b,#b70e28,#bc1d2d,#c83836,#d65344,#e57159,#f29274,#f6b397,#efcfbe,#d6dbe3,#b3ccfa,#89abfc,#5e7ce6,#3f51c4,#6585eb,#90b2fe,#bacff7,#dbdade,#f1cab7,#f6ae90,#f08c6f,#e26b54,#d34d41,#c63334,#bc1d2c,#b70d28,#b9142b,#c22d31,#cf453d,#de624d,#ed8266,#f5a385,#f4c1aa,#e4d7d1,#c6d6f1,#9ebefd,#7395f4,#4e68d8,#506bd9,#7b9df7,#a6c3fd,#ccd7ed,#e8d5cb,#f5bda3 133.2px)"></i>
<i style="left:1101px;top:259px;width:13px;height:136px;background:linear-gradient(#eb7d62 2.2px,#dc5d4a 3.2px 5px,#cc403a 6px 7.7px,#c0282f 8.7px 10.5px,#b8122a 11.5px 13.2px,#b50927 14.2px 16px,#bb1b2c 17px 18.7px,#c53334 19.7px 21.4px,#d44e41 22.4px 24.2px,#e36c55 25.2px 26.9px,#f18f71 27.9px 29.7px,#f7af91 30.7px 32.4px,#f1ccb8 33.4px 35.2px,#d9dce1 36.2px 37.9px,#b7cff9 38.9px 40.7px,#8db0fe 41.7px 43.4px,#6282ea 44.4px 46.2px,#3b4cc0 47.2px 48.9px,#6180e9 49.9px 51.7px,#8caffe 52.7px 54.4px,#b6cefa 55.4px 57.2px,#d9dce1 58.2px 59.9px,#f1cdba 60.9px 62.6px,#f7b093 63.6px 65.4px,#f18f71 66.4px 68.1px,#e36c55 69.1px 70.9px,#d44e41 71.9px 73.6px,#c53334 74.6px 76.4px,#bb1b2c 77.4px 79.1px,#b50927 80.1px 81.9px,#b70d28 82.9px 84.6px,#c0282f 85.6px 87.4px,#cc403a 88.4px 90.1px,#dc5d4a 91.1px 92.9px,#eb7d62 93.9px 95.6px,#f59f80 96.6px 98.4px,#f6bfa6 99.4px 101.1px,#e7d7ce 102.1px 103.9px,#cad8ef 104.9px 106.6px,#a3c2fe 107.6px 109.3px,#779af7 110.3px 112.1px,#4e68d8 113.1px 114.8px,#4c66d6 115.8px 117.6px,#7699f6 118.6px 120.3px,#a2c1ff 121.3px 123.1px,#c9d7f0 124.1px 125.8px,#e7d7ce 126.8px 128.6px,#f6bfa6 129.6px 131.3px,#f5a081 132.3px)"></i>
<i style="left:1114px;top:259px;width:1px;height:136px;background:linear-gradient(#df6450 1.3px,#d0473d,#c22c32,#ba152a,#b60c28,#b9122a,#c12a30,#d0463d,#df634f,#ed8569,#f5a689,#f3c4ae,#e0d7d5,#c0d2f3,#99b8fd,#6e8eef,#465ccc,#5774de,#82a3f8,#acc6fa,#cfd8e8,#ebd0c3,#f5b89d,#f3977a,#e7765c,#d75546,#c93936,#bd1e2e,#b70e28,#b60c28,#bc1d2c,#c83835,#d75545,#e7745b,#f29577,#f6b69b,#ebd0c2,#d2d7e6,#aec8fa,#83a5f8,#5975e0,#4e68d8,#6c8cee,#96b6fc,#bfd1f3,#dfd6d7,#f2c5b0,#f5a78a,#ed866a 133.2px)"></i>
<i style="left:1115px;top:259px;width:12px;height:136px;background:linear-gradient(#da5a49 2.2px,#cb3e38 3.2px 5px,#be242e 6px 7.7px,#b70d28 8.7px 10.5px,#b50927 11.5px 13.2px,#ba162b 14.2px 16px,#c43032 17px 18.7px,#d44e41 19.7px 21.4px,#e36c55 22.4px 24.2px,#f18f71 25.2px 26.9px,#f7b093 27.9px 29.7px,#f1cdba 30.7px 32.4px,#d9dce1 33.4px 35.2px,#b6cefa 36.2px 37.9px,#8caffe 38.9px 40.7px,#6180e9 41.7px 43.4px,#3b4cc0 44.4px 46.2px,#6384eb 47.2px 48.9px,#8fb1fe 49.9px 51.7px,#b9d0f9 52.7px 54.4px,#dadce0 55.4px 57.2px,#f2cbb7 58.2px 59.9px,#f7af91 60.9px 62.6px,#f18d6f 63.6px 65.4px,#e36b54 66.4px 68.1px,#d24b40 69.1px 70.9px,#c43032 71.9px 73.6px,#ba162b 74.6px 76.4px,#b50927 77.4px 79.1px,#b70d28 80.1px 81.9px,#be242e 82.9px 84.6px,#cb3e38 85.6px 87.4px,#dc5d4a 88.4px 90.1px,#eb7d62 91.1px 92.9px,#f59f80 93.9px 95.6px,#f6bfa6 96.6px 98.4px,#e7d7ce 99.4px 101.1px,#c9d7f0 102.1px 103.9px,#a2c1ff 104.9px 106.6px,#7699f6 107.6px 109.3px,#4c66d6 110.3px 112.1px,#4e68d8 113.1px 114.8px,#799cf8 115.8px 117.6px,#a3c2fe 118.6px 120.3px,#cbd8ee 121.3px 123.1px,#e8d6cc 124.1px 125.8px,#f6bea4 126.8px 128.6px,#f59d7e 129.6px 131.3px,#ea7b60 132.3px)"></i>
<i style="left:1127px;top:259px;width:1px;height:136px;background:linear-gradient(#d55043 1.3px,#c73435,#bb1c2c,#b60a27,#b70d28,#bd1e2d,#c93937,#d95848,#e8775e,#f39a7c,#f5b99f,#e9d2c7,#cdd7e9,#a8c3fb,#7e9ff7,#5671dd,#485ece,#7293f1,#9dbbfc,#c4d4f0,#e1d6d2,#f4c1aa,#f5a385,#ec8166,#dd604d,#cd423b,#c02730,#b81029,#b50927,#b9142a,#c22d32,#d0483e,#e16852,#ee886c,#f5a98c,#f1c7b3,#ddd7d9,#bcd0f5,#93b4fc,#6888eb,#4e68d8,#5c79e2,#87a9fa,#b0c9f8,#d5d7e2,#edcebf,#f5b397,#f19174,#e57058 133.2px)"></i>
<i style="left:1128px;top:259px;width:13px;height:136px;background:linear-gradient(#ca3b37 2.2px,#bd1f2d 3.2px 5px,#b50927 6px 7.7px,#b40426 8.7px 10.5px,#ba162b 11.5px 13.2px,#c43032 14.2px 16px,#d44e41 17px 18.7px,#e46e56 19.7px 21.4px,#f29072 22.4px 24.2px,#f7b194 25.2px 26.9px,#f0cdbb 27.9px 29.7px,#d7dce3 30.7px 32.4px,#b3cdfb 33.4px 35.2px,#89acfd 36.2px 37.9px,#5e7de7 38.9px 40.7px,#3d50c3 41.7px 43.4px,#6687ed 44.4px 46.2px,#92b4fe 47.2px 48.9px,#bbd1f8 49.9px 51.7px,#dcdddd 52.7px 54.4px,#f2c9b4 55.4px 57.2px,#f7ac8e 58.2px 59.9px,#f08a6c 60.9px 62.6px,#e16751 63.6px 65.4px,#d1493f 66.4px 68.1px,#c32e31 69.1px 70.9px,#b8122a 71.9px 73.6px,#b40426 74.6px 76.4px,#b50927 77.4px 79.1px,#be242e 80.1px 81.9px,#cc403a 82.9px 84.6px,#dc5d4a 85.6px 87.4px,#ec7f63 88.4px 90.1px,#f5a081 91.1px 92.9px,#f5c0a7 93.9px 95.6px,#e5d8d1 96.6px 98.4px,#c7d7f0 99.4px 101.1px,#9fbfff 102.1px 103.9px,#7396f5 104.9px 106.6px,#4a63d3 107.6px 109.3px,#516ddb 110.3px 112.1px,#7b9ff9 113.1px 114.8px,#a7c5fe 115.8px 117.6px,#cdd9ec 118.6px 120.3px,#ead5c9 121.3px 123.1px,#f7bca1 124.1px 125.8px,#f49a7b 126.8px 128.6px,#e9785d 129.6px 131.3px,#d95847 132.3px)"></i>
<i style="left:1141px;top:259px;width:1px;height:136px;background:linear-gradient(#bc1e2d 1.3px,#b50627,#b40426,#b9142b,#c43133,#d44d41,#e46d56,#f18f71,#f7b194,#f0ccbb,#d7dae1,#b4ccfa,#8aacfc,#5e7ce6,#4358cb,#6686eb,#92b3fd,#bbd0f7,#dcdadc,#f1c9b5,#f7ab8d,#ef896c,#e16851,#d1483e,#c22e31,#b81029,#b40526,#b50927,#bd222d,#cb3e39,#dc5c4a,#eb7e63,#f5a082,#f5bfa7,#e5d7cf,#c7d5f0,#9fbefe,#7497f4,#4a63d2,#536fdd,#7c9ef7,#a6c4fd,#cdd8eb,#e9d4c8,#f6baa0,#f39a7b,#e8775e,#d95747,#c93937 133.2px)"></i>
<i style="left:1142px;top:259px;width:12px;height:136px;background:linear-gradient(#bb1b2c 2.2px,#b40426 3.2px 7.7px,#ba162b 8.7px 10.5px,#c53334 11.5px 13.2px,#d55042 14.2px 16px,#e57058 17px 18.7px,#f29274 19.7px 21.4px,#f7b497 22.4px 24.2px,#efcfbf 25.2px 26.9px,#d5dbe5 27.9px 29.7px,#b1cbfc 30.7px 32.4px,#86a9fc 33.4px 35.2px,#5a78e4 36.2px 37.9px,#4055c8 38.9px 40.7px,#6a8bef 41.7px 43.4px,#96b7ff 44.4px 46.2px,#bfd3f6 47.2px 48.9px,#dfdbd9 49.9px 51.7px,#f3c7b1 52.7px 54.4px,#f7a889 55.4px 57.2px,#ee8669 58.2px 59.9px,#e0654f 60.9px 62.6px,#cf453c 63.6px 65.4px,#c12b30 66.4px 68.1px,#b70d28 69.1px 70.9px,#b40426 71.9px 73.6px,#b50927 74.6px 76.4px,#be242e 77.4px 79.1px,#cc403a 80.1px 81.9px,#dd5f4b 82.9px 84.6px,#ec8165 85.6px 87.4px,#f6a385 88.4px 90.1px,#f5c2aa 91.1px 92.9px,#e3d9d3 93.9px 95.6px,#c4d5f3 96.6px 98.4px,#9bbcff 99.4px 101.1px,#7093f3 102.1px 103.9px,#465ecf 104.9px 106.6px,#5470de 107.6px 109.3px,#80a3fa 110.3px 112.1px,#aac7fd 113.1px 114.8px,#d1dae9 115.8px 117.6px,#ecd3c5 118.6px 120.3px,#f7b89c 121.3px 123.1px,#f39778 124.1px 125.8px,#e7745b 126.8px 128.6px,#d75445 129.6px 131.3px,#c73635 132.3px)"></i>
<i style="left:1154px;top:259px;width:1px;height:136px;background:linear-gradient(#b70f29 1.3px,#b40426,#b70d29,#c12730,#ce433c,#de624e,#ec8368,#f5a588,#f2c4ae,#e0d5d4,#c0d2f1,#98b7fb,#6d8ded,#4f68d8,#5874de,#83a4f7,#adc7f9,#d1d7e5,#eacfc2,#f5b59b,#f29577,#e6735a,#d65345,#c73635,#bc1b2c,#b50827,#b60927,#bb192b,#c73535,#d65244,#e6725a,#f29477,#f5b59b,#eacfc2,#d1d6e5,#adc6f9,#82a4f7,#5974de,#506bd9,#6d8dee,#98b7fb,#c0d1f1,#e0d5d4,#f2c3ae,#f5a588,#ec8468,#de624f,#ce433c,#c02530 133.2px)"></i>
<i style="left:1155px;top:259px;width:12px;height:136px;background:linear-gradient(#b40426 5px,#ba162b 6px 7.7px,#c73635 8.7px 10.5px,#d65244 11.5px 13.2px,#e67259 14.2px 16px,#f39577 17px 18.7px,#f7b79b 19.7px 21.4px,#edd2c3 22.4px 24.2px,#d2dbe8 25.2px 26.9px,#adc9fd 27.9px 29.7px,#81a4fb 30.7px 32.4px,#5673e0 33.4px 35.2px,#445acc 36.2px 37.9px,#6e90f2 38.9px 40.7px,#9abbff 41.7px 43.4px,#c3d5f4 44.4px 46.2px,#e2dad5 47.2px 48.9px,#f5c4ac 49.9px 51.7px,#f6a586 52.7px 54.4px,#ed8366 55.4px 57.2px,#de614d 58.2px 59.9px,#cd423b 60.9px 62.6px,#c0282f 63.6px 65.4px,#b70d28 66.4px 68.1px,#b40426 69.1px 70.9px,#b70d28 71.9px 73.6px,#c0282f 74.6px 76.4px,#cf453c 77.4px 79.1px,#df634e 80.1px 81.9px,#ee8468 82.9px 84.6px,#f7a688 85.6px 87.4px,#f4c6af 88.4px 90.1px,#e0dbd8 91.1px 92.9px,#c0d4f5 93.9px 95.6px,#97b8ff 96.6px 98.4px,#6b8df0 99.4px 101.1px,#4358cb 102.1px 103.9px,#5977e3 104.9px 106.6px,#84a7fc 107.6px 109.3px,#afcafc 110.3px 112.1px,#d4dbe6 113.1px 114.8px,#eed0c0 115.8px 117.6px,#f7b599 118.6px 120.3px,#f39475 121.3px 123.1px,#e67259 124.1px 125.8px,#d65244 126.8px 128.6px,#c53334 129.6px 131.3px,#ba162b 132.3px)"></i>
<i style="left:1167px;top:259px;width:1px;height:136px;background:linear-gradient(#b40526 1.3px,#b50727,#bc1a2c,#c93a37,#d85747,#e8775d,#f39a7c,#f5bba1,#e9d3c8,#cdd8eb,#a7c4fd,#7b9df7,#5471de,#4a61d1,#7496f4,#9fbefd,#c7d5f0,#e4d7d0,#f5c0a7,#f5a082,#eb7f63,#dc5d4b,#cb3e39,#bf242e,#b70c28,#b40526,#b81129,#c22c31,#d1493f,#e16852,#ef896c,#f6aa8d,#f1c9b5,#dcdadc,#bad0f6,#91b2fd,#6586eb,#465cce,#5f7de6,#8aacfc,#b4ccf9,#d7d9e1,#efccbb,#f6b094,#f18f71,#e46e56,#d44e42,#c42f33,#b9142a 133.2px)"></i>
<i style="left:1168px;top:259px;width:13px;height:136px;background:linear-gradient(#b50927 2.2px,#bb1b2c 3.2px 5px,#c83836 6px 7.7px,#d85646 8.7px 10.5px,#e9785d 11.5px 13.2px,#f49a7b 14.2px 16px,#f7ba9f 17px 18.7px,#ead4c8 19.7px 21.4px,#cedaeb 22.4px 24.2px,#a9c6fd 25.2px 26.9px,#7da0f9 27.9px 29.7px,#536edd 30.7px 32.4px,#4961d2 33.4px 35.2px,#7295f4 36.2px 37.9px,#9ebeff 38.9px 40.7px,#c6d6f1 41.7px 43.4px,#e5d8d1 44.4px 46.2px,#f5c1a9 47.2px 48.9px,#f6a283 49.9px 51.7px,#ec7f63 52.7px 54.4px,#dd5f4b 55.4px 57.2px,#cc403a 58.2px 59.9px,#be242e 60.9px 62.6px,#b50927 63.6px 65.4px,#b40426 66.4px 68.1px,#b70d28 69.1px 70.9px,#c12b30 71.9px 73.6px,#d0473d 74.6px 76.4px,#e16751 77.4px 79.1px,#ef886b 80.1px 81.9px,#f7aa8c 82.9px 84.6px,#f2c9b4 85.6px 87.4px,#dddcdc 88.4px 90.1px,#bcd2f7 91.1px 92.9px,#93b5fe 93.9px 95.6px,#6788ee 96.6px 98.4px,#3e51c5 99.4px 101.1px,#5d7ce6 102.1px 103.9px,#88abfd 104.9px 106.6px,#b3cdfb 107.6px 109.3px,#d6dce4 110.3px 112.1px,#efcebd 113.1px 114.8px,#f7b194 115.8px 117.6px,#f29072 118.6px 120.3px,#e46e56 121.3px 123.1px,#d44e41 124.1px 125.8px,#c43032 126.8px 128.6px,#ba162b 129.6px 131.3px,#b40426 132.3px)"></i>
<i style="left:1181px;top:259px;width:1px;height:136px;background:linear-gradient(#bc1d2c 1.3px,#c73535,#d55144,#e57159,#f29375,#f5b499,#eccec0,#d3d7e4,#afc9f9,#85a6f9,#5b77e1,#4e68d8,#6b8bed,#95b5fc,#bed1f3,#ded7d7,#f1c5b0,#f5a88b,#ed8669,#df6450,#d0473d,#c22c31,#b71029,#b40526,#b70e29,#c0272f,#cd423c,#de614e,#ed8367,#f5a487,#f3c3ac,#e1d7d4,#c1d3f1,#9ab9fc,#6f90ef,#475ccc,#5875e0,#80a2f7,#aac5fa,#cfd8e8,#ead0c4,#f5b79d,#f39779,#e7755c,#d75446,#c83836,#bd1d2d,#b60927,#b50827 133.2px)"></i>
<i style="left:1182px;top:259px;width:12px;height:136px;background:linear-gradient(#be242e 2.2px,#cb3e38 3.2px 5px,#da5a49 6px 7.7px,#ea7b60 8.7px 10.5px,#f59d7e 11.5px 13.2px,#f6bea4 14.2px 16px,#e8d6cc 17px 18.7px,#cad8ef 19.7px 21.4px,#a3c2fe 22.4px 24.2px,#779af7 25.2px 26.9px,#4e68d8 27.9px 29.7px,#4c66d6 30.7px 32.4px,#779af7 33.4px 35.2px,#a2c1ff 36.2px 37.9px,#cad8ef 38.9px 40.7px,#e7d7ce 41.7px 43.4px,#f6bea4 44.4px 46.2px,#f59f80 47.2px 48.9px,#ea7b60 49.9px 51.7px,#da5a49 52.7px 54.4px,#cb3e38 55.4px 57.2px,#be242e 58.2px 59.9px,#b50927 60.9px 62.6px,#b40426 63.6px 65.4px,#b8122a 66.4px 68.1px,#c43032 69.1px 70.9px,#d24b40 71.9px 73.6px,#e36b54 74.6px 76.4px,#f18d6f 77.4px 79.1px,#f7af91 80.1px 81.9px,#f1ccb8 82.9px 84.6px,#dadce0 85.6px 87.4px,#b7cff9 88.4px 90.1px,#8db0fe 91.1px 92.9px,#6282ea 93.9px 95.6px,#3b4cc0 96.6px 98.4px,#6282ea 99.4px 101.1px,#8db0fe 102.1px 103.9px,#b7cff9 104.9px 106.6px,#d9dce1 107.6px 109.3px,#f1ccb8 110.3px 112.1px,#f7af91 113.1px 114.8px,#f18d6f 115.8px 117.6px,#e36b54 118.6px 120.3px,#d24b40 121.3px 123.1px,#c43032 124.1px 125.8px,#ba162b 126.8px 128.6px,#b40426 129.6px 131.3px,#b50927 132.3px)"></i>
<i style="left:1194px;top:259px;width:1px;height:136px;background:linear-gradient(#c32e32 1.3px,#d1493e,#e06752,#ee886c,#f5a98c,#f0c7b3,#ddd6d8,#bcd0f4,#93b3fb,#6887eb,#4f6ad9,#5c79e2,#87a8f9,#b0c9f9,#d5d7e2,#eccebf,#f6b397,#f19375,#e46f58,#d55143,#c73535,#bc1c2c,#b50927,#b60c28,#bc1d2d,#ca3b37,#d85747,#e8775e,#f39a7c,#f4b9a0,#e8d1c6,#cdd7e9,#a8c3fa,#7d9ff6,#5671dd,#4960cf,#7293f1,#9cbbfc,#c3d4f0,#e1d6d2,#f3c1aa,#f5a385,#ec8165,#dd604d,#cd423b,#c12730,#b8122a,#b50727,#b9132a 133.2px)"></i>
<i style="left:1195px;top:259px;width:13px;height:136px;background:linear-gradient(#cd423b 2.2px,#dd5f4b 3.2px 5px,#ec8165 6px 7.7px,#f6a283 8.7px 10.5px,#f5c1a9 11.5px 13.2px,#e5d8d1 14.2px 16px,#c6d6f1 17px 18.7px,#9fbfff 19.7px 21.4px,#7396f5 22.4px 24.2px,#4961d2 25.2px 26.9px,#516ddb 27.9px 29.7px,#7b9ff9 30.7px 32.4px,#a6c4fe 33.4px 35.2px,#cdd9ec 36.2px 37.9px,#ead5c9 38.9px 40.7px,#f7bca1 41.7px 43.4px,#f59c7d 44.4px 46.2px,#e97a5f 47.2px 48.9px,#d95847 49.9px 51.7px,#cb3e38 52.7px 54.4px,#be242e 55.4px 57.2px,#b70d28 58.2px 59.9px,#b50927 60.9px 62.6px,#bb1b2c 63.6px 65.4px,#c53334 66.4px 68.1px,#d55042 69.1px 70.9px,#e46e56 71.9px 73.6px,#f29072 74.6px 76.4px,#f7b396 77.4px 79.1px,#efcebd 80.1px 81.9px,#d7dce3 82.9px 84.6px,#b3cdfb 85.6px 87.4px,#89acfd 88.4px 90.1px,#5e7de7 91.1px 92.9px,#3d50c3 93.9px 95.6px,#6687ed 96.6px 98.4px,#92b4fe 99.4px 101.1px,#bbd1f8 102.1px 103.9px,#dcdddd 104.9px 106.6px,#f2cab5 107.6px 109.3px,#f7ac8e 110.3px 112.1px,#f08b6e 113.1px 114.8px,#e26952 115.8px 117.6px,#d24b40 118.6px 120.3px,#c43032 121.3px 123.1px,#ba162b 124.1px 125.8px,#b50927 126.8px 128.6px,#b70d28 129.6px 131.3px,#c0282f 132.3px)"></i>
<i style="left:1208px;top:259px;width:13px;height:136px;background:linear-gradient(#e0654f 2.2px,#ee8468 3.2px 5px,#f7a688 6px 7.7px,#f4c5ad 8.7px 10.5px,#e1dad6 11.5px 13.2px,#c3d5f4 14.2px 16px,#9abbff 17px 18.7px,#6e90f2 19.7px 21.4px,#455cce 22.4px 24.2px,#5572df 25.2px 26.9px,#80a3fa 27.9px 29.7px,#aac7fd 30.7px 32.4px,#cfdaea 33.4px 35.2px,#ebd3c6 36.2px 37.9px,#f7b99e 38.9px 40.7px,#f49a7b 41.7px 43.4px,#e9785d 44.4px 46.2px,#d95847 47.2px 48.9px,#ca3b37 49.9px 51.7px,#be242e 52.7px 54.4px,#b70d28 55.4px 59.9px,#bd1f2d 60.9px 62.6px,#c83836 63.6px 65.4px,#d75445 66.4px 68.1px,#e7745b 69.1px 70.9px,#f39577 71.9px 73.6px,#f7b79b 74.6px 76.4px,#edd1c2 77.4px 79.1px,#d3dbe7 80.1px 81.9px,#afcafc 82.9px 84.6px,#84a7fc 85.6px 87.4px,#5977e3 88.4px 90.1px,#4257c9 91.1px 92.9px,#6a8bef 93.9px 95.6px,#96b7ff 96.6px 98.4px,#bed2f6 99.4px 101.1px,#dedcdb 102.1px 103.9px,#f3c8b2 104.9px 106.6px,#f7aa8c 107.6px 109.3px,#ef886b 110.3px 112.1px,#e16751 113.1px 114.8px,#d1493f 115.8px 117.6px,#c43032 118.6px 120.3px,#ba162b 121.3px 123.1px,#b70d28 124.1px 125.8px,#ba162b 126.8px 128.6px,#c32e31 129.6px 131.3px,#d0473d 132.3px)"></i>
<i style="left:1221px;top:259px;width:1px;height:136px;background:linear-gradient(#e9795f 1.3px,#f3997b,#f5b89f,#e8d1c6,#ced6e7,#abc5fa,#80a1f6,#5671dc,#506bd9,#6e8fef,#99b8fb,#c0d2f1,#dfd6d5,#f1c4af,#f5a789,#ee876a,#e06651,#d1483e,#c42f32,#bb1a2c,#b9122a,#bc1c2c,#c53033,#d24a40,#e16953,#ee896c,#f5a98d,#f1c6b2,#ddd6d8,#bdd0f3,#96b5fb,#6b8aec,#4e68d8,#5a76df,#84a5f8,#adc7f9,#d1d6e5,#ead0c3,#f5b79c,#f29779,#e7765d,#d85747,#ca3b38,#bf252f,#b9142a,#b9152a,#c02630,#cb3e39,#da5948 133.2px)"></i>
<i style="left:1222px;top:259px;width:12px;height:136px;background:linear-gradient(#f08a6c 2.2px,#f7aa8c 3.2px 5px,#f3c8b2 6px 7.7px,#dedcdb 8.7px 10.5px,#bed2f6 11.5px 13.2px,#96b7ff 14.2px 16px,#6a8bef 17px 18.7px,#4257c9 19.7px 21.4px,#5977e3 22.4px 24.2px,#84a7fc 25.2px 26.9px,#aec9fc 27.9px 29.7px,#d3dbe7 30.7px 32.4px,#edd2c3 33.4px 35.2px,#f7b89c 36.2px 37.9px,#f39778 38.9px 40.7px,#e8765c 41.7px 43.4px,#d85646 44.4px 46.2px,#ca3b37 47.2px 48.9px,#be242e 49.9px 51.7px,#b8122a 52.7px 54.4px,#ba162b 55.4px 57.2px,#c0282f 58.2px 59.9px,#cb3e38 60.9px 62.6px,#da5a49 63.6px 65.4px,#e97a5f 66.4px 68.1px,#f49a7b 69.1px 70.9px,#f7ba9f 71.9px 73.6px,#ebd3c6 74.6px 76.4px,#cfdaea 77.4px 79.1px,#aac7fd 80.1px 81.9px,#80a3fa 82.9px 84.6px,#5572df 85.6px 87.4px,#455cce 88.4px 90.1px,#6e90f2 91.1px 92.9px,#9abbff 93.9px 95.6px,#c1d4f4 96.6px 98.4px,#e1dad6 99.4px 101.1px,#f4c6af 102.1px 103.9px,#f7a889 104.9px 106.6px,#ee8669 107.6px 109.3px,#e16751 110.3px 112.1px,#d1493f 113.1px 114.8px,#c43032 115.8px 117.6px,#bb1b2c 118.6px 120.3px,#b8122a 121.3px 123.1px,#bb1b2c 124.1px 125.8px,#c53334 126.8px 128.6px,#d24b40 129.6px 131.3px,#e26952 132.3px)"></i>
<i style="left:1234px;top:259px;width:1px;height:136px;background:linear-gradient(#f18f71 1.3px,#f6af92,#f0cbb8,#d9dadf,#b7cdf7,#8fb0fc,#6483e9,#465ccd,#607fe7,#8bacfc,#b4ccf9,#d7d9e1,#eecebd,#f6b397,#f19274,#e67159,#d65244,#c93836,#bd222e,#b8132a,#bb192c,#c22c31,#ce433b,#dc5f4d,#eb7f64,#f49f81,#f5bea6,#e6d4cc,#c9d7ed,#a3c1fc,#799bf5,#5370dd,#4c64d4,#7597f4,#a0bffd,#c6d5ef,#e4d7d0,#f4c1a9,#f6a384,#ec8165,#df634e,#cf453d,#c32e31,#bb1a2c,#b9152b,#bd1f2d,#c73736,#d55043,#e46f57 133.2px)"></i>
<i style="left:1235px;top:259px;width:13px;height:136px;background:linear-gradient(#f7af91 2.2px,#f2cbb7 3.2px 5px,#dbdcde 6px 7.7px,#bad0f8 8.7px 10.5px,#90b2fe 11.5px 13.2px,#6687ed 14.2px 16px,#3e51c5 17px 18.7px,#5d7ce6 19.7px 21.4px,#88abfd 22.4px 24.2px,#b2ccfb 25.2px 26.9px,#d5dbe5 27.9px 29.7px,#eed0c0 30.7px 32.4px,#f7b599 33.4px 35.2px,#f39577 36.2px 37.9px,#e7745b 38.9px 40.7px,#d85646 41.7px 43.4px,#ca3b37 44.4px 46.2px,#c0282f 47.2px 48.9px,#ba162b 49.9px 51.7px,#bb1b2c 52.7px 54.4px,#c32e31 55.4px 57.2px,#cd423b 58.2px 59.9px,#dd5f4b 60.9px 62.6px,#eb7d62 63.6px 65.4px,#f59f80 66.4px 68.1px,#f6bea4 69.1px 70.9px,#e8d6cc 71.9px 73.6px,#ccd9ed 74.6px 76.4px,#a6c4fe 77.4px 79.1px,#7b9ff9 80.1px 81.9px,#516ddb 82.9px 84.6px,#4961d2 85.6px 87.4px,#7295f4 88.4px 90.1px,#9dbdff 91.1px 92.9px,#c4d5f3 93.9px 95.6px,#e3d9d3 96.6px 98.4px,#f5c4ac 99.4px 101.1px,#f7a688 102.1px 103.9px,#ee8468 104.9px 106.6px,#e0654f 107.6px 109.3px,#d1493f 110.3px 112.1px,#c43032 113.1px 114.8px,#bd1f2d 115.8px 117.6px,#ba162b 118.6px 120.3px,#be242e 121.3px 123.1px,#c73635 124.1px 125.8px,#d55042 126.8px 128.6px,#e46e56 129.6px 131.3px,#f18f71 132.3px)"></i>
<i style="left:1248px;top:259px;width:1px;height:136px;background:linear-gradient(#f1c6b2 1.3px,#ded8d8,#bfd2f3,#98b7fc,#6e8eef,#465bcb,#5874e0,#80a2f8,#aac4fb,#ced8e9,#e8d1c7,#f5bba1,#f49c7e,#ea7c62,#dc5e4b,#ce443c,#c22d31,#bc1e2d,#bc1d2c,#c22b30,#cd413a,#da5b49,#e97a5f,#f39a7c,#f5b89f,#e9d2c6,#cfd7e7,#acc6fa,#82a4f8,#5976e0,#4d68d7,#6b8bed,#95b5fc,#bcd0f4,#ddd7da,#f0c7b4,#f6ab8f,#f08c6e,#e46d55,#d55043,#c73635,#bf232e,#bc1c2c,#be242e,#c73535,#d34c41,#e26a53,#ef8a6d,#f6aa8d 133.2px)"></i>
<i style="left:1249px;top:259px;width:12px;height:136px;background:linear-gradient(#efcebd 2.2px,#d7dce3 3.2px 5px,#b6cefa 6px 7.7px,#8caffe 8.7px 10.5px,#6282ea 11.5px 13.2px,#3b4cc0 14.2px 16px,#6180e9 17px 18.7px,#8caffe 19.7px 21.4px,#b5cdfa 22.4px 24.2px,#d7dce3 25.2px 26.9px,#efcebd 27.9px 29.7px,#f7b497 30.7px 32.4px,#f39475 33.4px 35.2px,#e7745b 36.2px 37.9px,#d85646 38.9px 40.7px,#cb3e38 41.7px 43.4px,#c0282f 44.4px 46.2px,#bb1b2c 47.2px 48.9px,#bd1f2d 49.9px 51.7px,#c43032 52.7px 54.4px,#d0473d 55.4px 57.2px,#df634e 58.2px 59.9px,#ed8366 60.9px 62.6px,#f6a385 63.6px 65.4px,#f5c1a9 66.4px 68.1px,#e5d8d1 69.1px 70.9px,#c7d7f0 71.9px 73.6px,#a1c0ff 74.6px 76.4px,#7699f6 77.4px 79.1px,#4e68d8 80.1px 81.9px,#4c66d6 82.9px 84.6px,#7699f6 85.6px 87.4px,#a1c0ff 88.4px 90.1px,#c7d7f0 91.1px 92.9px,#e5d8d1 93.9px 95.6px,#f5c1a9 96.6px 98.4px,#f6a385 99.4px 101.1px,#ed8366 102.1px 103.9px,#e0654f 104.9px 106.6px,#d1493f 107.6px 109.3px,#c43032 110.3px 112.1px,#bd1f2d 113.1px 114.8px,#bb1b2c 115.8px 117.6px,#c0282f 118.6px 120.3px,#ca3b37 121.3px 123.1px,#d75445 124.1px 125.8px,#e67259 126.8px 128.6px,#f39475 129.6px 131.3px,#f7b396 132.3px)"></i>
<i style="left:1261px;top:259px;width:1px;height:136px;background:linear-gradient(#e5d3cc 1.3px,#cad6ec,#a6c2fb,#7b9df5,#5570dc,#4a60d0,#7191f0,#9cbbfc,#c2d2f1,#e0d7d4,#f2c4ae,#f5a88b,#ee886b,#e16953,#d34d41,#c73735,#bf252e,#bd202d,#c12730,#ca3b37,#d65344,#e57058,#f19072,#f5af93,#eecab9,#d9d7dd,#b8cef5,#90b1fb,#6685e9,#4f69d9,#5c79e2,#87a8f9,#b0c9f9,#d2d7e4,#ebcfc2,#f5b69c,#f2977a,#e8785d,#da5a49,#cd413b,#c22c31,#bd1f2d,#be222e,#c43133,#d0463d,#dd614e,#eb7f64,#f4a082,#f3bea6 133.2px)"></i>
<i style="left:1262px;top:259px;width:13px;height:136px;background:linear-gradient(#d4dbe6 2.2px,#b1cbfc 3.2px 5px,#88abfd 6px 7.7px,#5d7ce6 8.7px 10.5px,#3d50c3 11.5px 13.2px,#6485ec 14.2px 16px,#8fb1fe 17px 18.7px,#b9d0f9 19.7px 21.4px,#d9dce1 22.4px 24.2px,#f1cdba 25.2px 26.9px,#f7b194 27.9px 29.7px,#f29274 30.7px 32.4px,#e67259 33.4px 35.2px,#d75445 36.2px 37.9px,#cb3e38 38.9px 40.7px,#c12b30 41.7px 43.4px,#bd1f2d 44.4px 46.2px,#c0282f 47.2px 48.9px,#c73635 49.9px 51.7px,#d44e41 52.7px 54.4px,#e26952 55.4px 57.2px,#ef886b 58.2px 59.9px,#f7a889 60.9px 62.6px,#f4c5ad 63.6px 65.4px,#e2dad5 66.4px 68.1px,#c4d5f3 69.1px 70.9px,#9dbdff 71.9px 73.6px,#7295f4 74.6px 76.4px,#4961d2 77.4px 79.1px,#506bda 80.1px 81.9px,#7a9df8 82.9px 84.6px,#a5c3fe 85.6px 87.4px,#cad8ef 88.4px 90.1px,#e7d7ce 91.1px 92.9px,#f5c0a7 93.9px 95.6px,#f6a283 96.6px 98.4px,#ec8165 99.4px 101.1px,#df634e 102.1px 103.9px,#d0473d 104.9px 106.6px,#c53334 107.6px 109.3px,#be242e 110.3px 112.1px,#bd1f2d 113.1px 114.8px,#c32e31 115.8px 117.6px,#cc403a 118.6px 120.3px,#da5a49 121.3px 123.1px,#e9785d 124.1px 125.8px,#f39778 126.8px 128.6px,#f7b79b 129.6px 131.3px,#edd1c2 132.3px)"></i>
<i style="left:1275px;top:259px;width:13px;height:136px;background:linear-gradient(#adc9fd 2.2px,#82a6fb 3.2px 5px,#5977e3 6px 7.7px,#4257c9 8.7px 10.5px,#6a8bef 11.5px 13.2px,#94b6ff 14.2px 16px,#bcd2f7 17px 18.7px,#dcdddd 19.7px 21.4px,#f2cbb7 22.4px 24.2px,#f7af91 25.2px 26.9px,#f18f71 27.9px 29.7px,#e57058 30.7px 32.4px,#d75445 33.4px 35.2px,#cb3e38 36.2px 37.9px,#c12b30 38.9px 40.7px,#be242e 41.7px 43.4px,#c12b30 44.4px 46.2px,#ca3b37 47.2px 48.9px,#d65244 49.9px 51.7px,#e36c55 52.7px 54.4px,#f18d6f 55.4px 57.2px,#f7ac8e 58.2px 59.9px,#f2c9b4 60.9px 62.6px,#dedcdb 63.6px 65.4px,#bfd3f6 66.4px 68.1px,#97b8ff 69.1px 70.9px,#6c8ff1 71.9px 73.6px,#455cce 74.6px 76.4px,#5572df 77.4px 79.1px,#7ea1fa 80.1px 81.9px,#a9c6fd 82.9px 84.6px,#cdd9ec 85.6px 87.4px,#e9d5cb 88.4px 90.1px,#f6bea4 91.1px 92.9px,#f59f80 93.9px 95.6px,#ec7f63 96.6px 98.4px,#de614d 99.4px 101.1px,#d0473d 102.1px 103.9px,#c53334 104.9px 106.6px,#c0282f 107.6px 109.3px,#be242e 110.3px 112.1px,#c43032 113.1px 114.8px,#cf453c 115.8px 117.6px,#dd5f4b 118.6px 120.3px,#ea7b60 121.3px 123.1px,#f59c7d 124.1px 125.8px,#f7ba9f 126.8px 128.6px,#ebd3c6 129.6px 131.3px,#d1dae9 132.3px)"></i>
<i style="left:1288px;top:259px;width:1px;height:136px;background:linear-gradient(#92b2fb 1.3px,#6888eb,#4e69d8,#5b77e0,#84a5f8,#adc7f9,#d0d7e6,#e9d1c5,#f5baa0,#f39b7d,#e97b61,#dd5f4d,#d0463d,#c53333,#c0292f,#c12a30,#c73635,#d24a3f,#df6450,#eb8065,#f4a183,#f4bea6,#e5d4cc,#cad5eb,#a6c2fb,#7c9df5,#536eda,#516cda,#6f90ef,#98b8fc,#c0d1f2,#ded6d7,#f1c6b2,#f5ab8e,#ef8b6e,#e46d55,#d65244,#ca3c38,#c22d31,#c0282f,#c32e32,#cb3e39,#d85646,#e5725a,#f09073,#f6b094,#efcab8,#dad6dc,#b9cef5 133.2px)"></i>
<i style="left:1289px;top:259px;width:12px;height:136px;background:linear-gradient(#7da0f9 2.2px,#5470de 3.2px 5px,#465ecf 6px 7.7px,#6e90f2 8.7px 10.5px,#98b9ff 11.5px 13.2px,#c0d4f5 14.2px 16px,#dfdbd9 17px 18.7px,#f3c8b2 19.7px 21.4px,#f7ac8e 22.4px 24.2px,#f08b6e 25.2px 26.9px,#e36c55 27.9px 29.7px,#d65244 30.7px 32.4px,#ca3b37 33.4px 35.2px,#c12b30 36.2px 37.9px,#c0282f 38.9px 40.7px,#c32e31 41.7px 43.4px,#cb3e38 44.4px 46.2px,#d85646 47.2px 48.9px,#e67259 49.9px 51.7px,#f29072 52.7px 54.4px,#f7b093 55.4px 57.2px,#f1ccb8 58.2px 59.9px,#dbdcde 60.9px 62.6px,#bad0f8 63.6px 65.4px,#92b4fe 66.4px 68.1px,#6788ee 69.1px 70.9px,#4055c8 71.9px 73.6px,#5a78e4 74.6px 76.4px,#84a7fc 77.4px 79.1px,#adc9fd 80.1px 81.9px,#d1dae9 82.9px 84.6px,#ebd3c6 85.6px 87.4px,#f7ba9f 88.4px 90.1px,#f59c7d 91.1px 92.9px,#ea7b60 93.9px 95.6px,#dd5f4b 96.6px 98.4px,#d0473d 99.4px 101.1px,#c53334 102.1px 103.9px,#c0282f 104.9px 109.3px,#c73635 110.3px 112.1px,#d1493f 113.1px 114.8px,#df634e 115.8px 117.6px,#ec8165 118.6px 120.3px,#f5a081 121.3px 123.1px,#f6bfa6 124.1px 125.8px,#e8d6cc 126.8px 128.6px,#ccd9ed 129.6px 131.3px,#a7c5fe 132.3px)"></i>
<i style="left:1301px;top:259px;width:1px;height:136px;background:linear-gradient(#7597f3 1.3px,#526edc,#4e68d6,#7698f4,#a0befd,#c6d5ef,#e3d7d2,#f4c3ab,#f6a688,#ee866a,#e16752,#d44e42,#c83836,#c12a30,#c12930,#c53133,#ce433b,#db5c4a,#e8785e,#f39679,#f6b59a,#edcfbf,#d5d9e3,#b2caf9,#8aacfb,#607ee6,#455ccd,#6281e8,#8cadfc,#b4ccf9,#d6d8e2,#edcebf,#f6b499,#f39678,#e8765c,#db5b48,#ce433b,#c43133,#c0292f,#c12b30,#c93a37,#d44e42,#e26953,#ee876b,#f5a688,#f3c3ad,#e2d6d2,#c5d5f0,#9fbefd 133.2px)"></i>
<i style="left:1302px;top:259px;width:13px;height:136px;background:linear-gradient(#4e68d8 2.2px,#4b64d5 3.2px 5px,#7597f6 6px 7.7px,#9ebeff 8.7px 10.5px,#c5d6f2 11.5px 13.2px,#e3d9d3 14.2px 16px,#f4c5ad 17px 18.7px,#f7a889 19.7px 21.4px,#ef886b 22.4px 24.2px,#e36b54 25.2px 26.9px,#d55042 27.9px 29.7px,#ca3b37 30.7px 32.4px,#c12b30 33.4px 35.2px,#c0282f 36.2px 37.9px,#c43032 38.9px 40.7px,#cd423b 41.7px 43.4px,#da5a49 44.4px 46.2px,#e9785d 47.2px 48.9px,#f39778 49.9px 51.7px,#f7b599 52.7px 54.4px,#efcfbf 55.4px 57.2px,#d7dce3 58.2px 59.9px,#b5cdfa 60.9px 62.6px,#8caffe 63.6px 65.4px,#6282ea 66.4px 68.1px,#3b4cc0 69.1px 70.9px,#5f7fe8 71.9px 73.6px,#89acfd 74.6px 76.4px,#b2ccfb 77.4px 79.1px,#d5dbe5 80.1px 81.9px,#eed0c0 82.9px 84.6px,#f7b79b 85.6px 87.4px,#f4987a 88.4px 90.1px,#e9785d 91.1px 92.9px,#dc5d4a 93.9px 95.6px,#cf453c 96.6px 98.4px,#c43032 99.4px 101.1px,#c0282f 102.1px 103.9px,#c12b30 104.9px 106.6px,#c83836 107.6px 109.3px,#d44e41 110.3px 112.1px,#e26952 113.1px 114.8px,#ee8669 115.8px 117.6px,#f7a688 118.6px 120.3px,#f5c4ac 121.3px 123.1px,#e4d9d2 124.1px 125.8px,#c7d7f0 126.8px 128.6px,#a1c0ff 129.6px 131.3px,#7699f6 132.3px)"></i>
<i style="left:1315px;top:259px;width:1px;height:136px;background:linear-gradient(#506cda 1.3px,#7092f1,#9ab9fc,#c0d2f3,#dfd7d6,#f1c6b1,#f6ab8e,#ef8b6e,#e36d55,#d65245,#cb3d39,#c32f32,#c12b30,#c43033,#cd423a,#d95847,#e6735b,#f29476,#f6b296,#efccbb,#d9d8df,#b7cdf6,#90b0fc,#6686eb,#475ece,#5c7ae3,#85a6f9,#aec8fa,#d0d8e7,#ebd0c4,#f5baa0,#f49c7e,#ea7c62,#dd5f4c,#d0473e,#c73534,#c12a30,#c22d31,#c83735,#d34c41,#e06550,#ed8368,#f5a284,#f4c0a8,#e5d6ce,#c9d5ec,#a4c1fc,#7a9df6,#536cd9 133.2px)"></i>
<i style="left:1316px;top:259px;width:12px;height:136px;background:linear-gradient(#516ddb 2.2px,#7b9ff9 3.2px 5px,#a5c3fe 6px 7.7px,#cad8ef 8.7px 10.5px,#e7d7ce 11.5px 13.2px,#f5c0a7 14.2px 16px,#f6a385 17px 18.7px,#ed8366 19.7px 21.4px,#e0654f 22.4px 24.2px,#d24b40 25.2px 26.9px,#c83836 27.9px 29.7px,#c12b30 30.7px 35.2px,#c53334 36.2px 37.9px,#d0473d 38.9px 40.7px,#dd5f4b 41.7px 43.4px,#ea7b60 44.4px 46.2px,#f59c7d 47.2px 48.9px,#f7ba9f 49.9px 51.7px,#ecd3c5 52.7px 54.4px,#d2dbe8 55.4px 57.2px,#aec9fc 58.2px 59.9px,#85a8fc 60.9px 62.6px,#5b7ae5 63.6px 65.4px,#3f53c6 66.4px 68.1px,#6687ed 69.1px 70.9px,#90b2fe 71.9px 73.6px,#b9d0f9 74.6px 76.4px,#d9dce1 77.4px 79.1px,#f1cdba 80.1px 81.9px,#f7b396 82.9px 84.6px,#f39475 85.6px 87.4px,#e7745b 88.4px 90.1px,#d95847 91.1px 92.9px,#cc403a 93.9px 95.6px,#c43032 96.6px 98.4px,#c0282f 99.4px 101.1px,#c32e31 102.1px 103.9px,#ca3b37 104.9px 106.6px,#d65244 107.6px 109.3px,#e36c55 110.3px 112.1px,#f08b6e 113.1px 114.8px,#f7aa8c 115.8px 117.6px,#f3c8b2 118.6px 120.3px,#e0dbd8 121.3px 123.1px,#c1d4f4 124.1px 125.8px,#9abbff 126.8px 128.6px,#6f92f3 129.6px 131.3px,#485fd1 132.3px)"></i>
<i style="left:1328px;top:259px;width:1px;height:136px;background:linear-gradient(#6483e7 1.3px,#8eaffb,#b6ccf6,#d6d6e0,#edcdbd,#f5b398,#f29578,#e7765d,#da5a48,#cd423b,#c53233,#c12b30,#c32f32,#ca3b38,#d65244,#e36c55,#ef8a6d,#f5a98c,#f1c5b0,#e0d5d4,#c2d3f0,#9cbafb,#7393f1,#536fdc,#516ad7,#799af4,#a2bffb,#c7d4ed,#e2d5d0,#f3c1a9,#f5a587,#ed8669,#e16752,#d44e41,#c93937,#c22d31,#c12a30,#c63534,#cf453d,#dc5e4c,#e97a61,#f3997c,#f5b79d,#ead0c3,#d2d7e4,#b0c8f8,#87a8f9,#5d7be3,#4e68d8 133.2px)"></i>
<i style="left:1329px;top:259px;width:13px;height:136px;background:linear-gradient(#84a7fc 2.2px,#adc9fd 3.2px 5px,#d1dae9 6px 7.7px,#ebd3c6 8.7px 10.5px,#f7bca1 11.5px 13.2px,#f59d7e 14.2px 16px,#eb7d62 17px 18.7px,#de614d 19.7px 21.4px,#d0473d 22.4px 24.2px,#c53334 25.2px 26.9px,#c0282f 27.9px 29.7px,#c12b30 30.7px 32.4px,#c73635 33.4px 35.2px,#d1493f 36.2px 37.9px,#e0654f 38.9px 40.7px,#ec8165 41.7px 43.4px,#f6a283 44.4px 46.2px,#f6bfa6 47.2px 48.9px,#e8d6cc 49.9px 51.7px,#ccd9ed 52.7px 54.4px,#a7c5fe 55.4px 57.2px,#7da0f9 58.2px 59.9px,#5470de 60.9px 62.6px,#455cce 63.6px 65.4px,#6e90f2 66.4px 68.1px,#98b9ff 69.1px 70.9px,#c0d4f5 71.9px 73.6px,#dfdbd9 74.6px 76.4px,#f2c9b4 77.4px 79.1px,#f7ac8e 80.1px 81.9px,#f18d6f 82.9px 84.6px,#e46e56 85.6px 87.4px,#d65244 88.4px 90.1px,#cb3e38 91.1px 92.9px,#c32e31 93.9px 95.6px,#c0282f 96.6px 98.4px,#c32e31 99.4px 101.1px,#cc403a 102.1px 103.9px,#d85646 104.9px 106.6px,#e67259 107.6px 109.3px,#f29274 110.3px 112.1px,#f7b093 113.1px 114.8px,#f1ccb8 115.8px 117.6px,#dbdcde 118.6px 120.3px,#bad0f8 121.3px 123.1px,#93b5fe 124.1px 125.8px,#6788ee 126.8px 128.6px,#4055c8 129.6px 131.3px,#5977e3 132.3px)"></i>
<i style="left:1342px;top:259px;width:13px;height:136px;background:linear-gradient(#b5cdfa 2.2px,#d7dce3 3.2px 5px,#efcebd 6px 7.7px,#f7b497 8.7px 10.5px,#f39577 11.5px 13.2px,#e8765c 14.2px 16px,#d95847 17px 18.7px,#cd423b 19.7px 21.4px,#c43032 22.4px 24.2px,#c0282f 25.2px 26.9px,#c12b30 27.9px 29.7px,#c83836 30.7px 32.4px,#d44e41 33.4px 35.2px,#e26952 36.2px 37.9px,#ef886b 38.9px 40.7px,#f7a889 41.7px 43.4px,#f4c5ad 44.4px 46.2px,#e3d9d3 47.2px 48.9px,#c5d6f2 49.9px 51.7px,#9ebeff 52.7px 54.4px,#7597f6 55.4px 57.2px,#4b64d5 58.2px 59.9px,#4e68d8 60.9px 62.6px,#779af7 63.6px 65.4px,#a1c0ff 66.4px 68.1px,#c7d7f0 69.1px 70.9px,#e5d8d1 71.9px 73.6px,#f5c2aa 74.6px 76.4px,#f6a586 77.4px 79.1px,#ee8669 80.1px 81.9px,#e16751 82.9px 84.6px,#d44e41 85.6px 87.4px,#c83836 88.4px 90.1px,#c12b30 91.1px 92.9px,#c0282f 93.9px 95.6px,#c43032 96.6px 98.4px,#cd423b 99.4px 101.1px,#da5a49 102.1px 103.9px,#e9785d 104.9px 106.6px,#f39778 107.6px 109.3px,#f7b79b 110.3px 112.1px,#eed0c0 113.1px 114.8px,#d5dbe5 115.8px 117.6px,#b2ccfb 118.6px 120.3px,#89acfd 121.3px 123.1px,#5f7fe8 124.1px 125.8px,#3b4cc0 126.8px 128.6px,#6282ea 129.6px 131.3px,#8caffe 132.3px)"></i>
<i style="left:1355px;top:259px;width:1px;height:136px;background:linear-gradient(#cdd6e8 1.3px,#e7d1c8,#f4bba3,#f39d80,#ea7e64,#dd614e,#d0473e,#c63535,#c02930,#c12a30,#c63434,#d0473e,#dd614d,#eb7f64,#f49e81,#f4bca3,#e7d2c8,#ccd5e8,#a8c3fa,#80a0f6,#5872dd,#536edc,#6c8bec,#95b5fb,#bccff3,#dbd5d9,#f0c8b5,#f5ac90,#f08e71,#e46f57,#d65345,#cb3c38,#c22c31,#c0292f,#c32e32,#cb3d38,#d75446,#e57058,#f08f71,#f5ad91,#efc9b6,#dbd6d9,#bccff3,#95b4fa,#6b8bec,#4f69d8,#5873dd,#81a2f6,#a9c3f9 133.2px)"></i>
<i style="left:1356px;top:259px;width:12px;height:136px;background:linear-gradient(#dedcdb 2.2px,#f2c9b4 3.2px 5px,#f7ad90 6px 7.7px,#f18d6f 8.7px 10.5px,#e46e56 11.5px 13.2px,#d65244 14.2px 16px,#ca3b37 17px 18.7px,#c12b30 19.7px 21.4px,#be242e 22.4px 24.2px,#c12b30 25.2px 26.9px,#ca3b37 27.9px 29.7px,#d65244 30.7px 32.4px,#e46e56 33.4px 35.2px,#f18f71 36.2px 37.9px,#f7ad90 38.9px 40.7px,#f2cab5 41.7px 43.4px,#dddcdc 44.4px 46.2px,#bcd2f7 47.2px 48.9px,#94b6ff 49.9px 51.7px,#6a8bef 52.7px 54.4px,#4358cb 55.4px 57.2px,#5875e1 58.2px 59.9px,#81a4fb 60.9px 62.6px,#abc8fd 63.6px 65.4px,#cfdaea 66.4px 68.1px,#ead4c8 69.1px 70.9px,#f7bca1 71.9px 73.6px,#f59d7e 74.6px 76.4px,#eb7d62 77.4px 79.1px,#dd5f4b 80.1px 81.9px,#cf453c 82.9px 84.6px,#c43032 85.6px 87.4px,#be242e 88.4px 90.1px,#c0282f 91.1px 92.9px,#c53334 93.9px 95.6px,#d0473d 96.6px 98.4px,#de614d 99.4px 101.1px,#ec7f63 102.1px 103.9px,#f59f80 104.9px 106.6px,#f6bda2 107.6px 109.3px,#ead5c9 110.3px 112.1px,#cedaeb 113.1px 114.8px,#aac7fd 115.8px 117.6px,#80a3fa 118.6px 120.3px,#5673e0 121.3px 123.1px,#445acc 124.1px 125.8px,#6c8ff1 126.8px 128.6px,#97b8ff 129.6px 131.3px,#bed2f6 132.3px)"></i>
<i style="left:1368px;top:259px;width:1px;height:136px;background:linear-gradient(#e2d7d2 1.3px,#f3c2ab,#f5a588,#ee8569,#e06752,#d34c41,#c83735,#c0292f,#bf252e,#c32f32,#cd403a,#d95949,#e7755c,#f29679,#f5b399,#edcdbe,#d5d9e2,#b3cbf8,#8aacfb,#617fe6,#4960d1,#6280e6,#8bacfb,#b3ccf8,#d5d8e2,#eccebf,#f6b499,#f29577,#e7765d,#da5947,#cc403a,#c32d31,#be242e,#c12a30,#c73836,#d34d41,#e16852,#ee866a,#f5a688,#f3c2ab,#e3d5d1,#c5d5ef,#a0befc,#7697f3,#5471de,#4e66d4,#7698f4,#a0befc,#c5d3ef 133.2px)"></i>
<i style="left:1369px;top:259px;width:13px;height:136px;background:linear-gradient(#f5c1a9 2.2px,#f6a385 3.2px 5px,#ee8468 6px 7.7px,#e0654f 8.7px 10.5px,#d1493f 11.5px 13.2px,#c53334 14.2px 16px,#be242e 17px 18.7px,#bd1f2d 19.7px 21.4px,#c12b30 22.4px 24.2px,#cc403a 25.2px 26.9px,#d95847 27.9px 29.7px,#e8765c 30.7px 32.4px,#f39577 33.4px 35.2px,#f7b599 36.2px 37.9px,#efcfbf 38.9px 40.7px,#d6dce4 41.7px 43.4px,#b3cdfb 44.4px 46.2px,#8badfd 47.2px 48.9px,#5f7fe8 49.9px 51.7px,#3b4cc0 52.7px 54.4px,#6282ea 55.4px 57.2px,#8caffe 58.2px 59.9px,#b6cefa 60.9px 62.6px,#d7dce3 63.6px 65.4px,#efcebd 66.4px 68.1px,#f7b497 69.1px 70.9px,#f39475 71.9px 73.6px,#e7745b 74.6px 76.4px,#d85646 77.4px 79.1px,#cb3e38 80.1px 81.9px,#c12b30 82.9px 84.6px,#bd1f2d 85.6px 87.4px,#be242e 88.4px 90.1px,#c53334 91.1px 92.9px,#d24b40 93.9px 95.6px,#e16751 96.6px 98.4px,#ee8468 99.4px 101.1px,#f6a586 102.1px 103.9px,#f5c2aa 104.9px 106.6px,#e4d9d2 107.6px 109.3px,#c6d6f1 110.3px 112.1px,#9fbfff 113.1px 114.8px,#7597f6 115.8px 117.6px,#4c66d6 118.6px 120.3px,#4e68d8 121.3px 123.1px,#779af7 124.1px 125.8px,#a2c1ff 126.8px 128.6px,#c7d7f0 129.6px 131.3px,#e5d8d1 132.3px)"></i>
<i style="left:1382px;top:259px;width:1px;height:136px;background:linear-gradient(#f4a285 1.3px,#ec8267,#de634f,#d0483e,#c43133,#bd202e,#bd202d,#c22b30,#cb3d39,#d95747,#e6745b,#f29577,#f6b498,#edcebe,#d5d8e2,#b3cbf8,#8bacfa,#607ee5,#4a63d3,#6382e8,#8daefb,#b5ccf7,#d7d8e0,#edcbbb,#f5b196,#f19375,#e6735b,#d85646,#cb3d39,#c12930,#bc1e2d,#be232e,#c63434,#d24a3f,#df6551,#ee8569,#f5a588,#f3c2aa,#e2d7d2,#c6d3ef,#9ebdfc,#7596f2,#4d64d2,#5673e0,#7799f4,#a2bffc,#c7d5ee,#e4d4ce,#f3bfa9 133.2px)"></i>
<i style="left:1383px;top:259px;width:12px;height:136px;background:linear-gradient(#f49a7b 2.2px,#e97a5f 3.2px 5px,#da5a49 6px 7.7px,#cc403a 8.7px 10.5px,#c12b30 11.5px 13.2px,#bb1b2c 14.2px 16px,#bd1f2d 17px 18.7px,#c32e31 19.7px 21.4px,#cd423b 22.4px 24.2px,#dc5d4a 25.2px 26.9px,#ea7b60 27.9px 29.7px,#f59d7e 30.7px 32.4px,#f7bca1 33.4px 35.2px,#ead4c8 36.2px 37.9px,#cedaeb 38.9px 40.7px,#aac7fd 41.7px 43.4px,#80a3fa 44.4px 46.2px,#5572df 47.2px 48.9px,#455cce 49.9px 51.7px,#6e90f2 52.7px 54.4px,#98b9ff 55.4px 57.2px,#c0d4f5 58.2px 59.9px,#dfdbd9 60.9px 62.6px,#f3c7b1 63.6px 65.4px,#f7aa8c 66.4px 68.1px,#f08a6c 69.1px 70.9px,#e36b54 71.9px 73.6px,#d44e41 74.6px 76.4px,#c73635 77.4px 79.1px,#be242e 80.1px 81.9px,#bb1b2c 82.9px 84.6px,#be242e 85.6px 87.4px,#c83836 88.4px 90.1px,#d55042 91.1px 92.9px,#e36c55 93.9px 95.6px,#f18d6f 96.6px 98.4px,#f7ad90 99.4px 101.1px,#f2c9b4 102.1px 103.9px,#dddcdc 104.9px 106.6px,#bed2f6 107.6px 109.3px,#94b6ff 110.3px 112.1px,#6a8bef 113.1px 114.8px,#4257c9 115.8px 117.6px,#5977e3 118.6px 120.3px,#82a6fb 121.3px 123.1px,#adc9fd 124.1px 125.8px,#d1dae9 126.8px 128.6px,#ecd3c5 129.6px 131.3px,#f7b99e 132.3px)"></i>
<i style="left:1395px;top:259px;width:1px;height:136px;background:linear-gradient(#ee896c 1.3px,#e16a54,#d34c41,#c63535,#be232e,#bb1b2c,#c0262f,#c83836,#d44f43,#e36c55,#ef8c6f,#f5ac8f,#efc8b4,#dcd5d8,#bbcff3,#94b4fa,#6b8aeb,#536fdd,#5a75df,#84a4f7,#acc5f9,#cfd5e6,#e8d0c5,#f4b89e,#f3997c,#e97a60,#db5c4a,#cd413b,#c22b31,#bc1e2d,#bd202d,#c32d32,#ce433c,#dc5e4c,#e97c62,#f39c7f,#f4bba3,#e7d1c7,#ccd6e8,#a9c3f9,#7f9ff5,#5873dd,#5069d7,#6e8eee,#98b7fa,#bfd1f1,#ded4d6,#f0c5b1,#f5a98d 133.2px)"></i>
<i style="left:1396px;top:259px;width:13px;height:136px;background:linear-gradient(#e46e56 2.2px,#d65244 3.2px 5px,#c83836 6px 7.7px,#be242e 8.7px 10.5px,#ba162b 11.5px 13.2px,#bb1b2c 14.2px 16px,#c43032 17px 18.7px,#d0473d 19.7px 21.4px,#df634e 22.4px 24.2px,#ed8366 25.2px 26.9px,#f6a586 27.9px 29.7px,#f5c2aa 30.7px 32.4px,#e4d9d2 33.4px 35.2px,#c6d6f1 36.2px 37.9px,#9fbfff 38.9px 40.7px,#7396f5 41.7px 43.4px,#4a63d3 44.4px 46.2px,#506bda 47.2px 48.9px,#799cf8 49.9px 51.7px,#a5c3fe 52.7px 54.4px,#cad8ef 55.4px 57.2px,#e7d7ce 58.2px 59.9px,#f6bfa6 60.9px 62.6px,#f5a081 63.6px 65.4px,#ec7f63 66.4px 68.1px,#de614d 69.1px 70.9px,#cf453c 71.9px 73.6px,#c32e31 74.6px 76.4px,#bb1b2c 77.4px 79.1px,#ba162b 80.1px 81.9px,#c0282f 82.9px 84.6px,#ca3b37 85.6px 87.4px,#d75445 88.4px 90.1px,#e7745b 91.1px 92.9px,#f39475 93.9px 95.6px,#f7b497 96.6px 98.4px,#efcfbf 99.4px 101.1px,#d6dce4 102.1px 103.9px,#b3cdfb 104.9px 106.6px,#89acfd 107.6px 109.3px,#5e7de7 110.3px 112.1px,#3c4ec2 113.1px 114.8px,#6485ec 115.8px 117.6px,#8fb1fe 118.6px 120.3px,#b9d0f9 121.3px 123.1px,#dadce0 124.1px 125.8px,#f1ccb8 126.8px 128.6px,#f7b093 129.6px 131.3px,#f29072 132.3px)"></i>
<i style="left:1409px;top:259px;width:13px;height:136px;background:linear-gradient(#d0473d 2.2px,#c32e31 3.2px 5px,#bb1b2c 6px 7.7px,#b8122a 8.7px 10.5px,#bb1b2c 11.5px 13.2px,#c53334 14.2px 16px,#d24b40 17px 18.7px,#e36b54 19.7px 21.4px,#f08b6e 22.4px 24.2px,#f7ac8e 25.2px 26.9px,#f2c9b4 27.9px 29.7px,#dddcdc 30.7px 32.4px,#bcd2f7 33.4px 35.2px,#93b5fe 36.2px 37.9px,#688aef 38.9px 40.7px,#3f53c6 41.7px 43.4px,#5a78e4 44.4px 46.2px,#85a8fc 47.2px 48.9px,#afcafc 49.9px 51.7px,#d4dbe6 52.7px 54.4px,#edd1c2 55.4px 57.2px,#f7b79b 58.2px 59.9px,#f39577 60.9px 62.6px,#e7745b 63.6px 65.4px,#d85646 66.4px 68.1px,#ca3b37 69.1px 70.9px,#be242e 71.9px 73.6px,#b8122a 74.6px 76.4px,#ba162b 77.4px 79.1px,#c0282f 80.1px 81.9px,#cc403a 82.9px 84.6px,#da5a49 85.6px 87.4px,#e97a5f 88.4px 90.1px,#f59c7d 91.1px 92.9px,#f7bca1 93.9px 95.6px,#ead4c8 96.6px 98.4px,#cedaeb 99.4px 101.1px,#a9c6fd 102.1px 103.9px,#7ea1fa 104.9px 106.6px,#5470de 107.6px 109.3px,#465ecf 110.3px 112.1px,#6f92f3 113.1px 114.8px,#9bbcff 115.8px 117.6px,#c3d5f4 118.6px 120.3px,#e2dad5 121.3px 123.1px,#f4c5ad 124.1px 125.8px,#f7a688 126.8px 128.6px,#ee8468 129.6px 131.3px,#e0654f 132.3px)"></i>
<i style="left:1422px;top:259px;width:1px;height:136px;background:linear-gradient(#c53234 1.3px,#bc1d2d,#b9132a,#bb1a2c,#c22b31,#cf463e,#de614f,#ec8367,#f4a386,#f2c1ac,#e1d5d1,#c3d2ef,#9dbafb,#7292ef,#4f67d6,#5772de,#7c9cf4,#a6c1fa,#cad6e9,#e6d1c8,#f3bba4,#f39c80,#e97c62,#da5b4b,#cc3f3a,#c12830,#ba162a,#b8122a,#be232e,#c93a37,#d75446,#e5725a,#f19376,#f5b398,#ebcebf,#d4d5e1,#b1c9f7,#88a8f8,#5e7ae2,#526edc,#6685e8,#90b0fa,#b9cef4,#dbd5da,#eec8b6,#f5ad91,#ef8c70,#e26b55,#d34d41 133.2px)"></i>
<i style="left:1423px;top:259px;width:12px;height:136px;background:linear-gradient(#be242e 2.2px,#b8122a 3.2px 5px,#b70d28 6px 7.7px,#bd1f2d 8.7px 10.5px,#c73635 11.5px 13.2px,#d65244 14.2px 16px,#e57058 17px 18.7px,#f29274 19.7px 21.4px,#f7b396 22.4px 24.2px,#efcfbf 25.2px 26.9px,#d6dce4 27.9px 29.7px,#b2ccfb 30.7px 32.4px,#88abfd 33.4px 35.2px,#5d7ce6 36.2px 37.9px,#3e51c5 38.9px 40.7px,#6687ed 41.7px 43.4px,#92b4fe 44.4px 46.2px,#bbd1f8 47.2px 48.9px,#dcdddd 49.9px 51.7px,#f2cab5 52.7px 54.4px,#f7ad90 55.4px 57.2px,#f08b6e 58.2px 59.9px,#e36b54 60.9px 62.6px,#d24b40 63.6px 65.4px,#c43032 66.4px 68.1px,#bb1b2c 69.1px 70.9px,#b70d28 71.9px 73.6px,#b8122a 74.6px 76.4px,#c12b30 77.4px 79.1px,#cf453c 80.1px 81.9px,#de614d 82.9px 84.6px,#ec8165 85.6px 87.4px,#f6a385 88.4px 90.1px,#f5c2aa 91.1px 92.9px,#e4d9d2 93.9px 95.6px,#c5d6f2 96.6px 98.4px,#9ebeff 99.4px 101.1px,#7295f4 102.1px 103.9px,#4961d2 104.9px 106.6px,#516ddb 107.6px 109.3px,#7b9ff9 110.3px 112.1px,#a6c4fe 113.1px 114.8px,#ccd9ed 115.8px 117.6px,#ead5c9 118.6px 120.3px,#f6bda2 121.3px 123.1px,#f59d7e 124.1px 125.8px,#ea7b60 126.8px 128.6px,#da5a49 129.6px 131.3px,#cb3e38 132.3px)"></i>
<i style="left:1435px;top:259px;width:1px;height:136px;background:linear-gradient(#bc1e2d 1.3px,#b8112a,#b81129,#c0252f,#cb3d39,#da5a49,#e8795f,#f39a7d,#f4baa0,#e8d1c8,#cdd7e9,#a7c3fb,#7d9ff6,#5876e1,#495fcf,#7292f1,#9dbbfc,#c3d3f0,#e1d7d2,#f3c2ab,#f5a487,#ec8267,#de624f,#ce443c,#c12a30,#ba172b,#b70e28,#ba182b,#c43133,#d34c40,#e26953,#ee8a6d,#f5ab8e,#f0c7b4,#dcd8da,#bbcff5,#93b3fc,#6787ea,#4d66d6,#5c7ae2,#86a8fa,#b0c9f9,#d3d7e3,#edcebe,#f5b499,#f29476,#e6725a,#d65245,#c83735 133.2px)"></i>
<i style="left:1436px;top:259px;width:13px;height:136px;background:linear-gradient(#b50927 2.2px,#b70d28 3.2px 5px,#bd1f2d 6px 7.7px,#ca3b37 8.7px 10.5px,#d85646 11.5px 13.2px,#e9785d 14.2px 16px,#f49a7b 17px 18.7px,#f7ba9f 19.7px 21.4px,#ebd3c6 22.4px 24.2px,#cedaeb 25.2px 26.9px,#a9c6fd 27.9px 29.7px,#7ea1fa 30.7px 32.4px,#5470de 33.4px 35.2px,#465ecf 36.2px 37.9px,#7093f3 38.9px 40.7px,#9dbdff 41.7px 43.4px,#c4d5f3 44.4px 46.2px,#e3d9d3 47.2px 48.9px,#f5c2aa 49.9px 51.7px,#f6a586 52.7px 54.4px,#ed8366 55.4px 57.2px,#de614d 58.2px 59.9px,#cd423b 60.9px 62.6px,#c0282f 63.6px 65.4px,#b8122a 66.4px 68.1px,#b50927 69.1px 70.9px,#b8122a 71.9px 73.6px,#c32e31 74.6px 76.4px,#d1493f 77.4px 79.1px,#e16751 80.1px 81.9px,#ef886b 82.9px 84.6px,#f7aa8c 85.6px 87.4px,#f3c8b2 88.4px 90.1px,#dedcdb 91.1px 92.9px,#bed2f6 93.9px 95.6px,#94b6ff 96.6px 98.4px,#688aef 99.4px 101.1px,#3f53c6 102.1px 103.9px,#5b7ae5 104.9px 106.6px,#86a9fc 107.6px 109.3px,#b1cbfc 110.3px 112.1px,#d5dbe5 113.1px 114.8px,#efcfbf 115.8px 117.6px,#f7b497 118.6px 120.3px,#f39475 121.3px 123.1px,#e57058 124.1px 125.8px,#d65244 126.8px 128.6px,#c73635 129.6px 131.3px,#bb1b2c 132.3px)"></i>
<i style="left:1449px;top:259px;width:1px;height:136px;background:linear-gradient(#b70c28 1.3px,#bd202d,#c93a38,#d95746,#e7765d,#f3997a,#f6b89e,#e9d2c6,#cfd6e8,#a9c5fb,#7fa0f7,#546fdc,#506ada,#7091f0,#9bbafc,#c3d4f0,#e2d5d2,#f2c2ab,#f5a385,#eb8266,#dd604d,#ce423b,#c02630,#b70f28,#b50727,#b9142a,#c22a31,#d1483e,#e06551,#ee886b,#f6a98c,#f2c6b1,#ddd8d9,#bdd1f4,#94b4fc,#6989ec,#4459ca,#5d7ce5,#86a8f9,#b0c9f9,#d3d9e4,#edcdbe,#f6b399,#f19376,#e57159,#d55044,#c73535,#bb192c,#b50827 133.2px)"></i>
<i style="left:1450px;top:259px;width:12px;height:136px;background:linear-gradient(#b70d28 2.2px,#be242e 3.2px 5px,#cc403a 6px 7.7px,#dc5d4a 8.7px 10.5px,#eb7d62 11.5px 13.2px,#f5a081 14.2px 16px,#f6bfa6 17px 18.7px,#e6d7cf 19.7px 21.4px,#c9d7f0 22.4px 24.2px,#a1c0ff 25.2px 26.9px,#7597f6 27.9px 29.7px,#4b64d5 30.7px 32.4px,#4f69d9 33.4px 35.2px,#7a9df8 36.2px 37.9px,#a5c3fe 38.9px 40.7px,#ccd9ed 41.7px 43.4px,#e9d5cb 44.4px 46.2px,#f6bda2 47.2px 48.9px,#f59c7d 49.9px 51.7px,#e97a5f 52.7px 54.4px,#d95847 55.4px 57.2px,#ca3b37 58.2px 59.9px,#bd1f2d 60.9px 62.6px,#b50927 63.6px 65.4px,#b40426 66.4px 68.1px,#ba162b 69.1px 70.9px,#c43032 71.9px 73.6px,#d44e41 74.6px 76.4px,#e36c55 77.4px 79.1px,#f18f71 80.1px 81.9px,#f7b093 82.9px 84.6px,#f1cdba 85.6px 87.4px,#d8dce2 88.4px 90.1px,#b6cefa 91.1px 92.9px,#8badfd 93.9px 95.6px,#5f7fe8 96.6px 98.4px,#3c4ec2 99.4px 101.1px,#6485ec 102.1px 103.9px,#90b2fe 104.9px 106.6px,#bad0f8 107.6px 109.3px,#dbdcde 110.3px 112.1px,#f2cab5 113.1px 114.8px,#f7ad90 115.8px 117.6px,#f08b6e 118.6px 120.3px,#e26952 121.3px 123.1px,#d1493f 124.1px 125.8px,#c32e31 126.8px 128.6px,#b8122a 129.6px 131.3px,#b40426 132.3px)"></i>
<i style="left:1462px;top:259px;width:1px;height:136px;background:linear-gradient(#bb182b 1.3px,#c43133,#d44e42,#e36d56,#f08e71,#f5af93,#eecaba,#d7d6de,#b5cbf6,#8cacfa,#607de4,#506ada,#6482e7,#8faffa,#b8cdf5,#dad6db,#efc8b7,#f5ac90,#ef8b6f,#e16954,#d14a3f,#c42e32,#b9142a,#b50727,#b70c28,#bf222f,#cc3e3a,#dc5d4b,#ea7d62,#f49f82,#f3bda6,#e5d3cc,#c7d4ed,#a1befb,#7696f2,#536edb,#5068d5,#799af4,#a4c0fa,#cad5eb,#e5d3ca,#f4bba2,#f39c7f,#e97a61,#da5a49,#ca3b38,#be202d,#b60c28,#b50827 133.2px)"></i>
<i style="left:1463px;top:259px;width:13px;height:136px;background:linear-gradient(#c0282f 2.2px,#cd423b 3.2px 5px,#de614d 6px 7.7px,#ed8366 8.7px 10.5px,#f6a586 11.5px 13.2px,#f5c4ac 14.2px 16px,#e2dad5 17px 18.7px,#c3d5f4 19.7px 21.4px,#9abbff 22.4px 24.2px,#6e90f2 25.2px 26.9px,#445acc 27.9px 29.7px,#5673e0 30.7px 32.4px,#81a4fb 33.4px 35.2px,#adc9fd 36.2px 37.9px,#d2dbe8 38.9px 40.7px,#edd2c3 41.7px 43.4px,#f7b79b 44.4px 46.2px,#f39577 47.2px 48.9px,#e7745b 49.9px 51.7px,#d65244 52.7px 54.4px,#c73635 55.4px 57.2px,#bb1b2c 58.2px 59.9px,#b40426 60.9px 65.4px,#ba162b 66.4px 68.1px,#c53334 69.1px 70.9px,#d65244 71.9px 73.6px,#e67259 74.6px 76.4px,#f39475 77.4px 79.1px,#f7b599 80.1px 81.9px,#eed0c0 82.9px 84.6px,#d4dbe6 85.6px 87.4px,#afcafc 88.4px 90.1px,#84a7fc 91.1px 92.9px,#5977e3 93.9px 95.6px,#4257c9 96.6px 98.4px,#6b8df0 99.4px 101.1px,#97b8ff 102.1px 103.9px,#c0d4f5 104.9px 106.6px,#e0dbd8 107.6px 109.3px,#f4c6af 110.3px 112.1px,#f7a688 113.1px 114.8px,#ee8468 115.8px 117.6px,#df634e 118.6px 120.3px,#cf453c 121.3px 123.1px,#c0282f 124.1px 125.8px,#b70d28 126.8px 128.6px,#b40426 129.6px 131.3px,#b70d28 132.3px)"></i>
<i style="left:1476px;top:259px;width:13px;height:136px;background:linear-gradient(#cf453c 2.2px,#e0654f 3.2px 5px,#ee8669 6px 7.7px,#f7a98b 8.7px 10.5px,#f3c7b1 11.5px 13.2px,#dfdbd9 14.2px 16px,#bed2f6 17px 18.7px,#94b6ff 19.7px 21.4px,#688aef 22.4px 24.2px,#4055c8 25.2px 26.9px,#5b7ae5 27.9px 29.7px,#86a9fc 30.7px 32.4px,#b1cbfc 33.4px 35.2px,#d5dbe5 36.2px 37.9px,#efcfbf 38.9px 40.7px,#f7b396 41.7px 43.4px,#f29274 44.4px 46.2px,#e46e56 47.2px 48.9px,#d55042 49.9px 51.7px,#c53334 52.7px 54.4px,#ba162b 55.4px 57.2px,#b40426 58.2px 62.6px,#bb1b2c 63.6px 65.4px,#c73635 66.4px 68.1px,#d75445 69.1px 70.9px,#e8765c 71.9px 73.6px,#f4987a 74.6px 76.4px,#f7b99e 77.4px 79.1px,#ebd3c6 80.1px 81.9px,#cfdaea 82.9px 84.6px,#aac7fd 85.6px 87.4px,#7ea1fa 88.4px 90.1px,#5470de 91.1px 92.9px,#465ecf 93.9px 95.6px,#7093f3 96.6px 98.4px,#9dbdff 99.4px 101.1px,#c5d6f2 102.1px 103.9px,#e4d9d2 104.9px 106.6px,#f5c2aa 107.6px 109.3px,#f6a385 110.3px 112.1px,#ec8165 113.1px 114.8px,#dd5f4b 115.8px 117.6px,#cc403a 118.6px 120.3px,#be242e 121.3px 123.1px,#b50927 124.1px 125.8px,#b40426 126.8px 128.6px,#b70d28 129.6px 131.3px,#c12b30 132.3px)"></i>
<i style="left:1489px;top:259px;width:1px;height:136px;background:linear-gradient(#da5a49 1.3px,#e97b61,#f49d7f,#f4bda5,#e5d4cc,#c8d5ec,#a2bffb,#7799f4,#4e66d5,#536edb,#7899f4,#a2c0fb,#c9d6ec,#e6d2cb,#f4bca4,#f49d7f,#e97a61,#da5a49,#ca3c38,#bd1e2e,#b60b28,#b40426,#b8122a,#c32d32,#d24a40,#e26b54,#f08d6f,#f6ad91,#efcab8,#d8d7de,#b6cdf7,#8eaffa,#6280e7,#4d67d6,#6281e7,#8daffb,#b7cdf6,#d9d7dd,#efc9b7,#f5ad90,#f08c70,#e26a54,#d24c40,#c32e32,#b8132a,#b40626,#b60a27,#bd202d,#ca3d38 133.2px)"></i>
<i style="left:1490px;top:259px;width:12px;height:136px;background:linear-gradient(#e16751 2.2px,#ef886b 3.2px 5px,#f7aa8c 6px 7.7px,#f2c9b4 8.7px 10.5px,#dddcdc 11.5px 13.2px,#bbd1f8 14.2px 16px,#92b4fe 17px 18.7px,#6687ed 19.7px 21.4px,#3e51c5 22.4px 24.2px,#5e7de7 25.2px 26.9px,#89acfd 27.9px 29.7px,#b3cdfb 30.7px 32.4px,#d7dce3 33.4px 35.2px,#f0cdbb 36.2px 37.9px,#f7b194 38.9px 40.7px,#f29072 41.7px 43.4px,#e36c55 44.4px 46.2px,#d44e41 47.2px 48.9px,#c43032 49.9px 51.7px,#b8122a 52.7px 54.4px,#b40426 55.4px 59.9px,#bb1b2c 60.9px 62.6px,#c83836 63.6px 65.4px,#d85646 66.4px 68.1px,#e9785d 69.1px 70.9px,#f49a7b 71.9px 73.6px,#f7ba9f 74.6px 76.4px,#ead4c8 77.4px 79.1px,#cdd9ec 80.1px 81.9px,#a7c5fe 82.9px 84.6px,#7da0f9 85.6px 87.4px,#516ddb 88.4px 90.1px,#4961d2 91.1px 92.9px,#7396f5 93.9px 95.6px,#9fbfff 96.6px 98.4px,#c6d6f1 99.4px 101.1px,#e5d8d1 102.1px 103.9px,#f5c0a7 104.9px 106.6px,#f5a081 107.6px 109.3px,#ec7f63 110.3px 112.1px,#dc5d4a 113.1px 114.8px,#cc403a 115.8px 117.6px,#be242e 118.6px 120.3px,#b50927 121.3px 123.1px,#b40426 124.1px 125.8px,#b70d28 126.8px 128.6px,#c12b30 129.6px 131.3px,#d0473d 132.3px)"></i>
<i style="left:1502px;top:259px;width:1px;height:136px;background:linear-gradient(#e46f57 1.3px,#f19073,#f6b195,#edcdbd,#d5d9e2,#b2caf9,#88aafa,#5d7be4,#455bcd,#6888ec,#93b4fd,#bbd0f5,#ddd9da,#f2c7b2,#f6a98c,#ef886c,#e06550,#d1483e,#c22a30,#b70f29,#b40526,#b60a28,#be222f,#cc3f3a,#dc5e4b,#ec8064,#f5a183,#f4c0a8,#e3d5d0,#c4d4f0,#9dbcfd,#7394f2,#4f6ad9,#536dda,#7d9ff7,#a8c4fc,#cdd6ea,#e9d3c8,#f5b99f,#f3987a,#e9785d,#d85646,#c93a37,#bc1e2c,#b50827,#b50727,#ba152a,#c43133,#d44e42 133.2px)"></i>
<i style="left:1503px;top:259px;width:13px;height:136px;background:linear-gradient(#f08a6c 2.2px,#f7aa8c 3.2px 5px,#f2c9b4 6px 7.7px,#dddcdc 8.7px 10.5px,#bbd1f8 11.5px 13.2px,#92b4fe 14.2px 16px,#6687ed 17px 18.7px,#3e51c5 19.7px 21.4px,#5e7de7 22.4px 24.2px,#89acfd 25.2px 26.9px,#b3cdfb 27.9px 29.7px,#d7dce3 30.7px 32.4px,#efcebd 33.4px 35.2px,#f7b194 36.2px 37.9px,#f29072 38.9px 40.7px,#e46e56 41.7px 43.4px,#d44e41 44.4px 46.2px,#c53334 47.2px 48.9px,#ba162b 49.9px 51.7px,#b40426 52.7px 54.4px,#b50927 55.4px 57.2px,#bd1f2d 58.2px 59.9px,#ca3b37 60.9px 62.6px,#d85646 63.6px 65.4px,#e9785d 66.4px 68.1px,#f49a7b 69.1px 70.9px,#f7ba9f 71.9px 73.6px,#ead4c8 74.6px 76.4px,#cdd9ec 77.4px 79.1px,#a7c5fe 80.1px 81.9px,#7da0f9 82.9px 84.6px,#516ddb 85.6px 87.4px,#4961d2 88.4px 90.1px,#7396f5 91.1px 92.9px,#9fbfff 93.9px 95.6px,#c6d6f1 96.6px 98.4px,#e5d8d1 99.4px 101.1px,#f5c1a9 102.1px 103.9px,#f6a283 104.9px 106.6px,#ec7f63 107.6px 109.3px,#dd5f4b 110.3px 112.1px,#cc403a 113.1px 114.8px,#be242e 115.8px 117.6px,#b50927 118.6px 120.3px,#b40426 121.3px 123.1px,#b8122a 124.1px 125.8px,#c32e31 126.8px 128.6px,#d0473d 129.6px 131.3px,#e16751 132.3px)"></i>
<i style="left:1516px;top:259px;width:1px;height:136px;background:linear-gradient(#f6a486 1.3px,#f4c3ac,#e1d9d5,#c3d4f2,#9abafe,#7192f1,#465dce,#5572df,#7fa1f9,#aac6fc,#cfd9e9,#ead2c6,#f6b89d,#f4997a,#e8775d,#d85747,#c93a37,#bd1f2d,#b60b28,#b50827,#bc1b2c,#c63435,#d65244,#e57158,#f29375,#f7b498,#edcfc0,#d3d9e4,#b0cafa,#86a9fb,#5b78e2,#4860d1,#698aee,#94b6fd,#bed1f5,#ded9d8,#f2c7b2,#f6aa8c,#ee886b,#e06651,#d0473e,#c22c31,#b81129,#b50927,#b71029,#c12930,#ce433b,#de624e,#ed8367 133.2px)"></i>
<i style="left:1517px;top:259px;width:12px;height:136px;background:linear-gradient(#f7a98b 2.2px,#f3c8b2 3.2px 5px,#dedcdb 6px 7.7px,#bed2f6 8.7px 10.5px,#94b6ff 11.5px 13.2px,#6a8bef 14.2px 16px,#4055c8 17px 18.7px,#5a78e4 19.7px 21.4px,#85a8fc 22.4px 24.2px,#b1cbfc 25.2px 26.9px,#d4dbe6 27.9px 29.7px,#eed0c0 30.7px 32.4px,#f7b497 33.4px 35.2px,#f39475 36.2px 37.9px,#e67259 38.9px 40.7px,#d65244 41.7px 43.4px,#c73635 44.4px 46.2px,#bb1b2c 47.2px 48.9px,#b50927 49.9px 54.4px,#bd1f2d 55.4px 57.2px,#c83836 58.2px 59.9px,#d85646 60.9px 62.6px,#e8765c 63.6px 65.4px,#f4987a 66.4px 68.1px,#f7b99e 69.1px 70.9px,#ebd3c6 71.9px 73.6px,#cfdaea 74.6px 76.4px,#aac7fd 77.4px 79.1px,#80a3fa 80.1px 81.9px,#5470de 82.9px 84.6px,#465ecf 85.6px 87.4px,#6f92f3 88.4px 90.1px,#9bbcff 91.1px 92.9px,#c4d5f3 93.9px 95.6px,#e3d9d3 96.6px 98.4px,#f5c4ac 99.4px 101.1px,#f6a586 102.1px 103.9px,#ed8366 104.9px 106.6px,#de614d 107.6px 109.3px,#cd423b 110.3px 112.1px,#c0282f 113.1px 114.8px,#b70d28 115.8px 117.6px,#b50927 118.6px 120.3px,#b8122a 121.3px 123.1px,#c32e31 124.1px 125.8px,#d0473d 126.8px 128.6px,#e16751 129.6px 131.3px,#ef886b 132.3px)"></i>
<i style="left:1529px;top:259px;width:1px;height:136px;background:linear-gradient(#f6b59a 1.3px,#ecd0c1,#d2d9e6,#aec8fa,#84a6fa,#5a76e0,#4962d2,#6b8bee,#95b6fc,#bed2f4,#ded7d8,#f2c6b1,#f6a88a,#ef886a,#e06651,#d1483e,#c32c31,#b9152a,#b60b27,#b9132a,#c22a31,#cf443d,#df634f,#ed8468,#f5a588,#f3c4ae,#e1d7d4,#c1d3f2,#9ab9fd,#6f90f0,#4c65d5,#5672dd,#80a2f8,#abc6fb,#d0d8e8,#ead2c4,#f6b89d,#f3987a,#e8775d,#d85647,#c93937,#bd202d,#b60b28,#b60d28,#bc1d2d,#c83836,#d75344,#e7745b,#f39578 133.2px)"></i>
<i style="left:1530px;top:259px;width:13px;height:136px;background:linear-gradient(#f4c5ad 2.2px,#e2dad5 3.2px 5px,#c3d5f4 6px 7.7px,#9abbff 8.7px 10.5px,#6f92f3 11.5px 13.2px,#455cce 14.2px 16px,#5572df 17px 18.7px,#80a3fa 19.7px 21.4px,#aac7fd 22.4px 24.2px,#cfdaea 25.2px 26.9px,#ebd3c6 27.9px 29.7px,#f7b99e 30.7px 32.4px,#f4987a 33.4px 35.2px,#e9785d 36.2px 37.9px,#d85646 38.9px 40.7px,#ca3b37 41.7px 43.4px,#bd1f2d 44.4px 46.2px,#b70d28 47.2px 51.7px,#bd1f2d 52.7px 54.4px,#c83836 55.4px 57.2px,#d75445 58.2px 59.9px,#e7745b 60.9px 62.6px,#f39577 63.6px 65.4px,#f7b599 66.4px 68.1px,#edd1c2 69.1px 70.9px,#d4dbe6 71.9px 73.6px,#afcafc 74.6px 76.4px,#85a8fc 77.4px 79.1px,#5a78e4 80.1px 81.9px,#4257c9 82.9px 84.6px,#6a8bef 85.6px 87.4px,#96b7ff 88.4px 90.1px,#bfd3f6 91.1px 92.9px,#dfdbd9 93.9px 95.6px,#f3c8b2 96.6px 98.4px,#f7a98b 99.4px 101.1px,#ef886b 102.1px 103.9px,#e16751 104.9px 106.6px,#d1493f 107.6px 109.3px,#c32e31 110.3px 112.1px,#ba162b 113.1px 114.8px,#b50927 115.8px 117.6px,#b8122a 118.6px 120.3px,#c12b30 121.3px 123.1px,#cf453c 124.1px 125.8px,#df634e 126.8px 128.6px,#ee8468 129.6px 131.3px,#f7a688 132.3px)"></i>
<i style="left:1543px;top:259px;width:13px;height:136px;background:linear-gradient(#e7d7ce 2.2px,#c9d7f0 3.2px 5px,#a2c1ff 6px 7.7px,#779af7 8.7px 10.5px,#4e68d8 11.5px 13.2px,#4c66d6 14.2px 16px,#779af7 17px 18.7px,#a2c1ff 19.7px 21.4px,#c9d7f0 22.4px 24.2px,#e6d7cf 25.2px 26.9px,#f5c0a7 27.9px 29.7px,#f5a081 30.7px 32.4px,#ec7f63 33.4px 35.2px,#dd5f4b 36.2px 37.9px,#cd423b 38.9px 40.7px,#c12b30 41.7px 43.4px,#ba162b 44.4px 46.2px,#b70d28 47.2px 48.9px,#bd1f2d 49.9px 51.7px,#c73635 52.7px 54.4px,#d55042 55.4px 57.2px,#e46e56 58.2px 59.9px,#f29072 60.9px 62.6px,#f7b093 63.6px 65.4px,#f1cdba 66.4px 68.1px,#d9dce1 69.1px 70.9px,#b6cefa 71.9px 73.6px,#8db0fe 74.6px 76.4px,#6282ea 77.4px 79.1px,#3b4cc0 80.1px 81.9px,#6282ea 82.9px 84.6px,#8caffe 85.6px 87.4px,#b6cefa 88.4px 90.1px,#d9dce1 91.1px 92.9px,#f1cdba 93.9px 95.6px,#f7b194 96.6px 98.4px,#f29072 99.4px 101.1px,#e46e56 102.1px 103.9px,#d55042 104.9px 106.6px,#c73635 107.6px 109.3px,#bd1f2d 110.3px 112.1px,#b70d28 113.1px 114.8px,#ba162b 115.8px 117.6px,#c12b30 118.6px 120.3px,#cd423b 121.3px 123.1px,#dd5f4b 124.1px 125.8px,#ec7f63 126.8px 128.6px,#f5a081 129.6px 131.3px,#f6bfa6 132.3px)"></i>
<i style="left:1556px;top:259px;width:1px;height:136px;background:linear-gradient(#d9d9e0 1.3px,#b7cef8,#8daffc,#6382e9,#475ed0,#607fe7,#8cadfc,#b5cdf9,#d7dae1,#eecdbc,#f6b295,#f29273,#e67158,#d65244,#c83836,#be232e,#b9132a,#bb192b,#c22c32,#ce443c,#dd604c,#eb7f64,#f5a082,#f4bfa6,#e5d6ce,#c8d6ef,#a2c0fd,#789bf6,#4e67d6,#4d65d5,#7698f5,#a0bffd,#c8d6ef,#e5d6cf,#f5c0a8,#f5a284,#ec8064,#dd604c,#cf443c,#c22d31,#bb192c,#b9132a,#be222e,#c73735,#d55043,#e56f57,#f19173,#f6b094,#f0ccba 133.2px)"></i>
<i style="left:1557px;top:259px;width:12px;height:136px;background:linear-gradient(#d1dae9 2.2px,#adc9fd 3.2px 5px,#82a6fb 6px 7.7px,#5875e1 8.7px 10.5px,#4358cb 11.5px 13.2px,#6b8df0 14.2px 16px,#97b8ff 17px 18.7px,#bfd3f6 19.7px 21.4px,#dfdbd9 22.4px 24.2px,#f3c8b2 25.2px 26.9px,#f7aa8c 27.9px 29.7px,#f08a6c 30.7px 32.4px,#e26952 33.4px 35.2px,#d24b40 36.2px 37.9px,#c53334 38.9px 40.7px,#bd1f2d 41.7px 43.4px,#b8122a 44.4px 46.2px,#bd1f2d 47.2px 48.9px,#c53334 49.9px 51.7px,#d24b40 52.7px 54.4px,#e26952 55.4px 57.2px,#ef886b 58.2px 59.9px,#f7a98b 60.9px 62.6px,#f3c7b1 63.6px 65.4px,#dfdbd9 66.4px 68.1px,#bfd3f6 69.1px 70.9px,#97b8ff 71.9px 73.6px,#6c8ff1 74.6px 76.4px,#4358cb 77.4px 79.1px,#5673e0 80.1px 81.9px,#81a4fb 82.9px 84.6px,#abc8fd 85.6px 87.4px,#d1dae9 88.4px 90.1px,#ebd3c6 91.1px 92.9px,#f7b99e 93.9px 95.6px,#f49a7b 96.6px 98.4px,#e9785d 99.4px 101.1px,#d95847 102.1px 103.9px,#cb3e38 104.9px 106.6px,#c0282f 107.6px 109.3px,#ba162b 110.3px 114.8px,#c0282f 115.8px 117.6px,#cb3e38 118.6px 120.3px,#d95847 121.3px 123.1px,#e9785d 124.1px 125.8px,#f49a7b 126.8px 128.6px,#f7b99e 129.6px 131.3px,#ecd3c5 132.3px)"></i>
<i style="left:1569px;top:259px;width:1px;height:136px;background:linear-gradient(#cad7ed 1.3px,#a5c3fd,#7a9df7,#516bd9,#4a62d2,#7395f3,#9ebdfe,#c5d5f1,#e3d8d2,#f4c3ab,#f6a486,#ee8468,#df644f,#d0473e,#c43033,#bc1e2d,#b9152b,#bf232e,#c83836,#d55143,#e56f57,#f18f71,#f6af92,#f0cbb8,#dadadf,#b8cff8,#8fb1fd,#6585eb,#455bce,#5e7ce6,#89abfc,#b2ccfa,#d6dae3,#eecfbf,#f7b498,#f29476,#e77359,#d75445,#c93a36,#bf262e,#ba172b,#bc1b2c,#c22c31,#ce433b,#dc5e4b,#eb7e62,#f5a081,#f5bea5,#e7d5cc 133.2px)"></i>
<i style="left:1570px;top:259px;width:13px;height:136px;background:linear-gradient(#b7cff9 2.2px,#8fb1fe 3.2px 5px,#6384eb 6px 7.7px,#3c4ec2 8.7px 10.5px,#5f7fe8 11.5px 13.2px,#89acfd 14.2px 16px,#b3cdfb 17px 18.7px,#d6dce4 19.7px 21.4px,#efcfbf 22.4px 24.2px,#f7b497 25.2px 26.9px,#f39475 27.9px 29.7px,#e7745b 30.7px 32.4px,#d85646 33.4px 35.2px,#ca3b37 36.2px 37.9px,#c0282f 38.9px 40.7px,#bb1b2c 41.7px 43.4px,#bd1f2d 44.4px 46.2px,#c32e31 47.2px 48.9px,#cf453c 49.9px 51.7px,#de614d 52.7px 54.4px,#ec8165 55.4px 57.2px,#f6a283 58.2px 59.9px,#f5c0a7 60.9px 62.6px,#e7d7ce 63.6px 65.4px,#cad8ef 66.4px 68.1px,#a3c2fe 69.1px 70.9px,#799cf8 71.9px 73.6px,#4f69d9 74.6px 76.4px,#4b64d5 77.4px 79.1px,#7597f6 80.1px 81.9px,#9fbfff 82.9px 84.6px,#c6d6f1 85.6px 87.4px,#e4d9d2 88.4px 90.1px,#f5c2aa 91.1px 92.9px,#f6a586 93.9px 95.6px,#ee8468 96.6px 98.4px,#e0654f 99.4px 101.1px,#d1493f 102.1px 103.9px,#c43032 104.9px 106.6px,#bd1f2d 107.6px 109.3px,#bb1b2c 110.3px 112.1px,#c0282f 113.1px 114.8px,#c83836 115.8px 117.6px,#d65244 118.6px 120.3px,#e57058 121.3px 123.1px,#f29072 124.1px 125.8px,#f7b194 126.8px 128.6px,#f1cdba 129.6px 131.3px,#d9dce1 132.3px)"></i>
<i style="left:1583px;top:259px;width:1px;height:136px;background:linear-gradient(#a1c0fe 1.3px,#7699f5,#4d66d6,#4e69d7,#7699f6,#a1c0fe,#c8d6f0,#e5d7cf,#f5c1aa,#f5a384,#ed8467,#df644f,#d1493e,#c53233,#bd202d,#bd1e2d,#c02930,#cb3d39,#d85545,#e7755b,#f29475,#f7b498,#eecfbe,#d7dae3,#b5cdfa,#8aadfc,#6181e9,#4054c8,#6282ea,#8caefd,#b5cefa,#d7dbe2,#efcebc,#f7b396,#f39375,#e6735a,#d85646,#cb3d38,#c1292f,#bd1f2d,#be232e,#c63434,#d1483f,#e06650,#ee8568,#f6a586,#f4c2a9,#e4d8d1,#c7d6f0 133.2px)"></i>
<i style="left:1584px;top:259px;width:12px;height:136px;background:linear-gradient(#9dbdff 2.2px,#7295f4 3.2px 5px,#4961d2 6px 7.7px,#516ddb 8.7px 10.5px,#7a9df8 11.5px 13.2px,#a5c3fe 14.2px 16px,#cbd8ee 17px 18.7px,#e8d6cc 19.7px 21.4px,#f6bfa6 22.4px 24.2px,#f5a081 25.2px 26.9px,#ec8165 27.9px 29.7px,#de614d 30.7px 32.4px,#d0473d 33.4px 35.2px,#c43032 36.2px 37.9px,#bd1f2d 38.9px 43.4px,#c12b30 44.4px 46.2px,#cc403a 47.2px 48.9px,#d95847 49.9px 51.7px,#e9785d 52.7px 54.4px,#f39778 55.4px 57.2px,#f7b79b 58.2px 59.9px,#edd1c2 60.9px 62.6px,#d4dbe6 63.6px 65.4px,#b1cbfc 66.4px 68.1px,#86a9fc 69.1px 70.9px,#5d7ce6 71.9px 73.6px,#3e51c5 74.6px 76.4px,#6687ed 77.4px 79.1px,#90b2fe 80.1px 81.9px,#b9d0f9 82.9px 84.6px,#dadce0 85.6px 87.4px,#f1ccb8 88.4px 90.1px,#f7b093 91.1px 92.9px,#f29072 93.9px 95.6px,#e57058 96.6px 98.4px,#d75445 99.4px 101.1px,#ca3b37 102.1px 103.9px,#c0282f 104.9px 106.6px,#bd1f2d 107.6px 109.3px,#be242e 110.3px 112.1px,#c73635 113.1px 114.8px,#d24b40 115.8px 117.6px,#e26952 118.6px 120.3px,#ef886b 121.3px 123.1px,#f7a889 124.1px 125.8px,#f4c5ad 126.8px 128.6px,#e2dad5 129.6px 131.3px,#c4d5f3 132.3px)"></i>
<i style="left:1596px;top:259px;width:1px;height:136px;background:linear-gradient(#90b1fd 1.3px,#6585eb,#465dcf,#5d7ce5,#87a9fb,#b1cafa,#d3dae6,#edd0c1,#f6b79c,#f39779,#e8785e,#da5a49,#cd413a,#c32e31,#bd212d,#bf252e,#c53233,#d1483f,#de624e,#ed8265,#f5a183,#f5bfa7,#e6d6ce,#cad7ed,#a5c2fd,#7a9cf6,#516cda,#4961d1,#7294f3,#9cbcfe,#c3d5f3,#e1d8d5,#f4c5ad,#f6a789,#ef876b,#e16852,#d34d41,#c73635,#bf262f,#bd212d,#c12a30,#cb3d38,#d75445,#e67259,#f29274,#f7b194,#efccb9,#d9dadf,#b8cff8 133.2px)"></i>
<i style="left:1597px;top:259px;width:13px;height:136px;background:linear-gradient(#81a4fb 2.2px,#5673e0 3.2px 5px,#4358cb 6px 7.7px,#6b8df0 8.7px 10.5px,#96b7ff 11.5px 13.2px,#bed2f6 14.2px 16px,#dddcdc 17px 18.7px,#f2cab5 19.7px 21.4px,#f7ad90 22.4px 24.2px,#f18d6f 25.2px 26.9px,#e46e56 27.9px 29.7px,#d65244 30.7px 32.4px,#ca3b37 33.4px 35.2px,#c12b30 36.2px 37.9px,#be242e 38.9px 40.7px,#c12b30 41.7px 43.4px,#ca3b37 44.4px 46.2px,#d65244 47.2px 48.9px,#e46e56 49.9px 51.7px,#f18d6f 52.7px 54.4px,#f7ad90 55.4px 57.2px,#f2c9b4 58.2px 59.9px,#dedcdb 60.9px 62.6px,#bed2f6 63.6px 65.4px,#96b7ff 66.4px 68.1px,#6b8df0 69.1px 70.9px,#445acc 71.9px 73.6px,#5673e0 74.6px 76.4px,#80a3fa 77.4px 79.1px,#aac7fd 80.1px 81.9px,#cedaeb 82.9px 84.6px,#ead4c8 85.6px 87.4px,#f7bca1 88.4px 90.1px,#f59d7e 91.1px 92.9px,#eb7d62 93.9px 95.6px,#dd5f4b 96.6px 98.4px,#cf453c 99.4px 101.1px,#c43032 102.1px 103.9px,#be242e 104.9px 109.3px,#c43032 110.3px 112.1px,#cf453c 113.1px 114.8px,#dd5f4b 115.8px 117.6px,#eb7d62 118.6px 120.3px,#f59d7e 121.3px 123.1px,#f7bca1 124.1px 125.8px,#ead4c8 126.8px 128.6px,#cfdaea 129.6px 131.3px,#abc8fd 132.3px)"></i>
<i style="left:1610px;top:259px;width:13px;height:136px;background:linear-gradient(#6687ed 2.2px,#3f53c6 3.2px 5px,#5b7ae5 6px 7.7px,#85a8fc 8.7px 10.5px,#aec9fc 11.5px 13.2px,#d2dbe8 14.2px 16px,#ecd3c5 17px 18.7px,#f7b99e 19.7px 21.4px,#f49a7b 22.4px 24.2px,#ea7b60 25.2px 26.9px,#dc5d4a 27.9px 29.7px,#cf453c 30.7px 32.4px,#c43032 33.4px 35.2px,#c0282f 36.2px 40.7px,#c73635 41.7px 43.4px,#d1493f 44.4px 46.2px,#e0654f 47.2px 48.9px,#ed8366 49.9px 51.7px,#f6a283 52.7px 54.4px,#f6bfa6 55.4px 57.2px,#e7d7ce 58.2px 59.9px,#cbd8ee 60.9px 62.6px,#a6c4fe 63.6px 65.4px,#7b9ff9 66.4px 68.1px,#536edd 69.1px 70.9px,#485fd1 71.9px 73.6px,#6f92f3 74.6px 76.4px,#9abbff 77.4px 79.1px,#c1d4f4 80.1px 81.9px,#e0dbd8 82.9px 84.6px,#f3c7b1 85.6px 87.4px,#f7aa8c 88.4px 90.1px,#f08b6e 91.1px 92.9px,#e36c55 93.9px 95.6px,#d55042 96.6px 98.4px,#ca3b37 99.4px 101.1px,#c12b30 102.1px 103.9px,#be242e 104.9px 106.6px,#c32e31 107.6px 109.3px,#cb3e38 110.3px 112.1px,#d85646 113.1px 114.8px,#e67259 115.8px 117.6px,#f29274 118.6px 120.3px,#f7b194 121.3px 123.1px,#f1cdba 124.1px 125.8px,#dadce0 126.8px 128.6px,#bad0f8 129.6px 131.3px,#92b4fe 132.3px)"></i>
<i style="left:1623px;top:259px;width:1px;height:136px;background:linear-gradient(#5672df 1.3px,#475ed0,#6c8df0,#96b7fe,#bdd2f5,#dddada,#f1cab5,#f7ae90,#f18e70,#e56f57,#d75344,#ca3c38,#c22d31,#c0282f,#c32d31,#cb3e39,#d75446,#e57058,#f19072,#f7af92,#f1cab7,#dcdadd,#bcd1f6,#95b6fe,#6a8cef,#4357ca,#5774e0,#80a3fa,#abc7fc,#ced9ea,#e9d4c8,#f6bca2,#f49d7f,#eb7e63,#dd604d,#d0473d,#c63434,#c0292f,#c0292f,#c63534,#d1493e,#df634e,#eb7f64,#f59f81,#f6bea4,#e8d5ca,#cdd8eb,#a9c5fd,#7fa2f9 133.2px)"></i>
<i style="left:1624px;top:259px;width:12px;height:136px;background:linear-gradient(#4e68d8 2.2px,#4b64d5 3.2px 5px,#7597f6 6px 7.7px,#9fbfff 8.7px 10.5px,#c5d6f2 11.5px 13.2px,#e3d9d3 14.2px 16px,#f4c5ad 17px 18.7px,#f7a889 19.7px 21.4px,#ef886b 22.4px 24.2px,#e26952 25.2px 26.9px,#d44e41 27.9px 29.7px,#c83836 30.7px 32.4px,#c12b30 33.4px 35.2px,#c0282f 36.2px 37.9px,#c43032 38.9px 40.7px,#cd423b 41.7px 43.4px,#da5a49 44.4px 46.2px,#e8765c 47.2px 48.9px,#f39778 49.9px 51.7px,#f7b599 52.7px 54.4px,#efcfbf 55.4px 57.2px,#d6dce4 58.2px 59.9px,#b5cdfa 60.9px 62.6px,#8caffe 63.6px 65.4px,#6282ea 66.4px 68.1px,#3b4cc0 69.1px 70.9px,#5f7fe8 71.9px 73.6px,#89acfd 74.6px 76.4px,#b3cdfb 77.4px 79.1px,#d5dbe5 80.1px 81.9px,#eed0c0 82.9px 84.6px,#f7b79b 85.6px 87.4px,#f39778 88.4px 90.1px,#e9785d 91.1px 92.9px,#da5a49 93.9px 95.6px,#cd423b 96.6px 98.4px,#c43032 99.4px 101.1px,#c0282f 102.1px 103.9px,#c12b30 104.9px 106.6px,#c83836 107.6px 109.3px,#d44e41 110.3px 112.1px,#e26952 113.1px 114.8px,#ee8669 115.8px 117.6px,#f7a688 118.6px 120.3px,#f5c4ac 121.3px 123.1px,#e4d9d2 124.1px 125.8px,#c6d6f1 126.8px 128.6px,#a1c0ff 129.6px 131.3px,#7699f6 132.3px)"></i>
<i style="left:1636px;top:259px;width:1px;height:136px;background:linear-gradient(#4a62d3 1.3px,#526ddb,#7c9ef8,#a6c3fd,#cad8ed,#e7d6cc,#f5c0a7,#f6a384,#ed8367,#e0644f,#d24b3f,#c73635,#c12a30,#c12a30,#c63333,#cf463d,#dc5f4c,#ea7c61,#f49c7d,#f6baa0,#ebd2c5,#d1dae8,#aec8fb,#84a7fb,#5b79e3,#4155c7,#6687ec,#90b2fd,#b9d0f8,#dadadf,#f0ccba,#f7b295,#f29274,#e7735a,#d85647,#cc3f3a,#c32f31,#c0282f,#c22d31,#ca3c38,#d65344,#e46e56,#f08b6e,#f7ab8e,#f3c8b2,#dfdad8,#c0d3f4,#9abafe,#6f91f2 133.2px)"></i>
<i style="left:1637px;top:259px;width:13px;height:136px;background:linear-gradient(#3e51c5 2.2px,#6485ec 3.2px 5px,#8fb1fe 6px 7.7px,#b7cff9 8.7px 10.5px,#d9dce1 11.5px 13.2px,#f0cdbb 14.2px 16px,#f7b396 17px 18.7px,#f39475 19.7px 21.4px,#e7745b 22.4px 24.2px,#d95847 25.2px 26.9px,#cd423b 27.9px 29.7px,#c43032 30.7px 32.4px,#c0282f 33.4px 35.2px,#c32e31 36.2px 37.9px,#ca3b37 38.9px 40.7px,#d65244 41.7px 43.4px,#e36c55 44.4px 46.2px,#f08b6e 47.2px 48.9px,#f7aa8c 49.9px 51.7px,#f3c7b1 52.7px 54.4px,#e1dad6 55.4px 57.2px,#c3d5f4 58.2px 59.9px,#9bbcff 60.9px 62.6px,#7093f3 63.6px 65.4px,#4961d2 66.4px 68.1px,#506bda 69.1px 70.9px,#7a9df8 71.9px 73.6px,#a3c2fe 74.6px 76.4px,#cad8ef 77.4px 79.1px,#e6d7cf 80.1px 81.9px,#f5c1a9 82.9px 84.6px,#f6a385 85.6px 87.4px,#ee8468 88.4px 90.1px,#e16751 91.1px 92.9px,#d24b40 93.9px 95.6px,#c83836 96.6px 98.4px,#c12b30 99.4px 101.1px,#c0282f 102.1px 103.9px,#c53334 104.9px 106.6px,#cf453c 107.6px 109.3px,#dd5f4b 110.3px 112.1px,#ea7b60 113.1px 114.8px,#f49a7b 115.8px 117.6px,#f7b99e 118.6px 120.3px,#edd2c3 121.3px 123.1px,#d3dbe7 124.1px 125.8px,#afcafc 126.8px 128.6px,#86a9fc 129.6px 131.3px,#5d7ce6 132.3px)"></i>
<i style="left:1650px;top:259px;width:1px;height:136px;background:linear-gradient(#536fdd 1.3px,#7d9ff8,#a7c4fd,#cbd9ed,#e8d6cc,#f5bfa5,#f5a183,#ed8265,#e06550,#d24b40,#c83736,#c12c30,#c12b30,#c73535,#d0473e,#de614d,#eb7d61,#f49d7e,#f6bb9f,#ebd3c6,#d0dae8,#adc9fc,#83a6fb,#5977e2,#4459cc,#6889ed,#93b4fe,#bbd0f7,#dbdcde,#f1ccb8,#f7b194,#f29173,#e6725a,#d85646,#cc4039,#c42f32,#c0282f,#c32d31,#ca3d38,#d65244,#e46e56,#f08d6f,#f7ac8e,#f3c8b2,#dedcda,#bfd3f5,#99b9ff,#6e90f1,#465cce 133.2px)"></i>
<i style="left:1651px;top:259px;width:12px;height:136px;background:linear-gradient(#5673e0 2.2px,#80a3fa 3.2px 5px,#aac7fd 6px 7.7px,#cedaeb 8.7px 10.5px,#ead5c9 11.5px 13.2px,#f6bda2 14.2px 16px,#f59f80 17px 18.7px,#ec7f63 19.7px 21.4px,#df634e 22.4px 24.2px,#d1493f 25.2px 26.9px,#c73635 27.9px 29.7px,#c12b30 30.7px 35.2px,#c73635 36.2px 37.9px,#d1493f 38.9px 40.7px,#df634e 41.7px 43.4px,#ec7f63 44.4px 46.2px,#f59f80 47.2px 48.9px,#f6bda2 49.9px 51.7px,#ead5c9 52.7px 54.4px,#cedaeb 55.4px 57.2px,#aac7fd 58.2px 59.9px,#80a3fa 60.9px 62.6px,#5673e0 63.6px 65.4px,#4358cb 66.4px 68.1px,#6b8df0 69.1px 70.9px,#96b7ff 71.9px 73.6px,#bed2f6 74.6px 76.4px,#dddcdc 77.4px 79.1px,#f2cab5 80.1px 81.9px,#f7af91 82.9px 84.6px,#f18f71 85.6px 87.4px,#e57058 88.4px 90.1px,#d75445 91.1px 92.9px,#cb3e38 93.9px 95.6px,#c32e31 96.6px 98.4px,#c0282f 99.4px 101.1px,#c32e31 102.1px 103.9px,#cb3e38 104.9px 106.6px,#d75445 107.6px 109.3px,#e57058 110.3px 112.1px,#f18f71 113.1px 114.8px,#f7af91 115.8px 117.6px,#f2cab5 118.6px 120.3px,#dcdddd 121.3px 123.1px,#bcd2f7 124.1px 125.8px,#96b7ff 126.8px 128.6px,#6b8df0 129.6px 131.3px,#4358cb 132.3px)"></i>
<i style="left:1663px;top:259px;width:1px;height:136px;background:linear-gradient(#6484ea 1.3px,#8eb0fc,#b7cef8,#d8dae0,#efcebc,#f6b397,#f39576,#e8755c,#da5a48,#ce423b,#c43133,#c12a30,#c22d31,#ca3c38,#d55043,#e36c55,#ef8a6d,#f6a98b,#f3c5af,#e1d8d5,#c2d4f2,#9cbcfd,#7294f3,#4961d2,#506ad9,#799bf6,#a3c1fe,#c9d6ee,#e5d7cf,#f4c1a9,#f6a486,#ed8568,#e16751,#d34d41,#c83735,#c22b30,#c0292f,#c53333,#ce443c,#dc5d4b,#e97a60,#f39a7b,#f6b89d,#ecd1c3,#d3dae6,#afcafb,#88aafc,#5d7ce5,#465dcf 133.2px)"></i>
<i style="left:1664px;top:259px;width:12px;height:136px;background:linear-gradient(#7396f5 2.2px,#9dbdff 3.2px 5px,#c4d5f3 6px 7.7px,#e2dad5 8.7px 10.5px,#f4c6af 11.5px 13.2px,#f7a98b 14.2px 16px,#f08a6c 17px 18.7px,#e36b54 19.7px 21.4px,#d55042 22.4px 24.2px,#ca3b37 25.2px 26.9px,#c12b30 27.9px 29.7px,#c0282f 30.7px 32.4px,#c43032 33.4px 35.2px,#cd423b 36.2px 37.9px,#d95847 38.9px 40.7px,#e8765c 41.7px 43.4px,#f39577 44.4px 46.2px,#f7b497 47.2px 48.9px,#efcebd 49.9px 51.7px,#d8dce2 52.7px 54.4px,#b6cefa 55.4px 57.2px,#8db0fe 58.2px 59.9px,#6384eb 60.9px 62.6px,#3c4ec2 63.6px 65.4px,#5e7de7 66.4px 68.1px,#88abfd 69.1px 70.9px,#b1cbfc 71.9px 73.6px,#d4dbe6 74.6px 76.4px,#edd1c2 77.4px 79.1px,#f7b89c 80.1px 81.9px,#f4987a 82.9px 84.6px,#e97a5f 85.6px 87.4px,#dc5d4a 88.4px 90.1px,#cf453c 91.1px 92.9px,#c43032 93.9px 95.6px,#c0282f 96.6px 98.4px,#c12b30 99.4px 101.1px,#c83836 102.1px 103.9px,#d24b40 104.9px 106.6px,#e16751 107.6px 109.3px,#ee8468 110.3px 112.1px,#f6a586 113.1px 114.8px,#f5c1a9 115.8px 117.6px,#e5d8d1 118.6px 120.3px,#c9d7f0 121.3px 123.1px,#a2c1ff 124.1px 125.8px,#799cf8 126.8px 128.6px,#4f69d9 129.6px 131.3px,#4a63d3 132.3px)"></i>
<i style="left:1676px;top:259px;width:1px;height:136px;background:linear-gradient(#7699f6 1.3px,#a0bffe,#c6d6f1,#e3d9d2,#f4c4ad,#f7a789,#ef886a,#e26953,#d44e41,#c93a36,#c12a30,#c0282f,#c53132,#ce433c,#da5a48,#e9785e,#f39779,#f7b699,#eecfbf,#d6dbe4,#b4ccfa,#8aadfd,#6081e9,#3e51c4,#6180e9,#8badfd,#b3ccfb,#d6dbe4,#eecfc0,#f7b69a,#f39678,#e8785e,#db5b49,#ce443b,#c42f32,#c0282f,#c12b30,#c93937,#d34d41,#e26952,#ef866a,#f6a788,#f4c3ab,#e3d8d3,#c7d6f1,#9fbfff,#7699f6,#4e67d7,#4d66d5 133.2px)"></i>
<i style="left:1677px;top:259px;width:13px;height:136px;background:linear-gradient(#92b4fe 2.2px,#bad0f8 3.2px 5px,#dadce0 6px 7.7px,#f1ccb8 8.7px 10.5px,#f7b093 11.5px 13.2px,#f29072 14.2px 16px,#e67259 17px 18.7px,#d85646 19.7px 21.4px,#cb3e38 22.4px 24.2px,#c32e31 25.2px 26.9px,#be242e 27.9px 29.7px,#c12b30 30.7px 32.4px,#ca3b37 33.4px 35.2px,#d55042 36.2px 37.9px,#e36c55 38.9px 40.7px,#f08b6e 41.7px 43.4px,#f7aa8c 44.4px 46.2px,#f3c8b2 47.2px 48.9px,#e0dbd8 49.9px 51.7px,#c1d4f4 52.7px 54.4px,#9abbff 55.4px 57.2px,#6f92f3 58.2px 59.9px,#465ecf 60.9px 62.6px,#536edd 63.6px 65.4px,#7da0f9 66.4px 68.1px,#a6c4fe 69.1px 70.9px,#cbd8ee 71.9px 73.6px,#e8d6cc 74.6px 76.4px,#f6bfa6 77.4px 79.1px,#f6a283 80.1px 81.9px,#ec8165 82.9px 84.6px,#df634e 85.6px 87.4px,#d1493f 88.4px 90.1px,#c73635 91.1px 92.9px,#c0282f 93.9px 98.4px,#c43032 99.4px 101.1px,#cf453c 102.1px 103.9px,#dd5f4b 104.9px 106.6px,#ea7b60 107.6px 109.3px,#f59c7d 110.3px 112.1px,#f7ba9f 113.1px 114.8px,#ecd3c5 115.8px 117.6px,#d2dbe8 118.6px 120.3px,#aec9fc 121.3px 123.1px,#84a7fc 124.1px 125.8px,#5a78e4 126.8px 128.6px,#3f53c6 129.6px 131.3px,#6788ee 132.3px)"></i>
<i style="left:1690px;top:259px;width:1px;height:136px;background:linear-gradient(#a7c4fd 1.3px,#ccd8ec,#e7d4cb,#f5bda4,#f49f80,#ec7f63,#de614e,#d0483e,#c53333,#c0272f,#be242e,#c43133,#cf453d,#dd5f4b,#ea7c61,#f49c7e,#f6b99f,#ead2c6,#d1d9e8,#acc8fb,#83a6fa,#5a77e2,#4961d2,#6889ed,#93b4fd,#bbd0f6,#dbd9dd,#f0cab7,#f7af92,#f19072,#e57058,#d75445,#ca3c38,#c22c31,#bf252e,#c12a30,#c93a36,#d55143,#e36c55,#f08b6e,#f6ac8e,#f2c7b2,#dfd9d8,#bfd3f4,#99b8fd,#6e8ff1,#465ccd,#5470dd,#7ea0f8 133.2px)"></i>
<i style="left:1691px;top:259px;width:12px;height:136px;background:linear-gradient(#b1cbfc 2.2px,#d4dbe6 3.2px 5px,#edd1c2 6px 7.7px,#f7b79b 8.7px 10.5px,#f39778 11.5px 13.2px,#e9785d 14.2px 16px,#da5a49 17px 18.7px,#cd423b 19.7px 21.4px,#c32e31 22.4px 24.2px,#be242e 25.2px 29.7px,#c53334 30.7px 32.4px,#d1493f 33.4px 35.2px,#e0654f 36.2px 37.9px,#ed8366 38.9px 40.7px,#f6a385 41.7px 43.4px,#f5c0a7 44.4px 46.2px,#e6d7cf 47.2px 48.9px,#cad8ef 49.9px 51.7px,#a3c2fe 52.7px 54.4px,#799cf8 55.4px 57.2px,#506bda 58.2px 59.9px,#4a63d3 60.9px 62.6px,#7295f4 63.6px 65.4px,#9dbdff 66.4px 68.1px,#c4d5f3 69.1px 70.9px,#e2dad5 71.9px 73.6px,#f4c5ad 74.6px 76.4px,#f7a889 77.4px 79.1px,#ef886b 80.1px 81.9px,#e26952 82.9px 84.6px,#d44e41 85.6px 87.4px,#c73635 88.4px 90.1px,#c0282f 91.1px 92.9px,#be242e 93.9px 95.6px,#c12b30 96.6px 98.4px,#cb3e38 99.4px 101.1px,#d85646 102.1px 103.9px,#e67259 104.9px 106.6px,#f29274 107.6px 109.3px,#f7b396 110.3px 112.1px,#f0cdbb 113.1px 114.8px,#d9dce1 115.8px 117.6px,#b7cff9 118.6px 120.3px,#8fb1fe 121.3px 123.1px,#6485ec 124.1px 125.8px,#3d50c3 126.8px 128.6px,#5e7de7 129.6px 131.3px,#88abfd 132.3px)"></i>
<i style="left:1703px;top:259px;width:1px;height:136px;background:linear-gradient(#bacff7 1.3px,#dbd9dd,#f0cbb8,#f6af92,#f08f71,#e57158,#d65345,#ca3c38,#c12a30,#be232e,#bf272f,#c73736,#d44f42,#e36c54,#ef8a6d,#f6aa8d,#f2c6b0,#dfd8d7,#c1d3f3,#99b9fd,#6f90f1,#4c65d6,#546fdc,#7d9ff7,#a7c3fc,#ccd7ec,#e7d5cb,#f5bea4,#f59f81,#eb8064,#de624d,#d0473e,#c53233,#bf252e,#bf252e,#c32f32,#ce433b,#db5d4a,#e9795f,#f39a7c,#f6b99e,#ebd1c4,#d1d9e7,#aec8fb,#85a7fa,#5b78e3,#445acc,#6889ed,#92b3fd 133.2px)"></i>
<i style="left:1704px;top:259px;width:13px;height:136px;background:linear-gradient(#cfdaea 2.2px,#ead4c8 3.2px 5px,#f7bca1 6px 7.7px,#f59c7d 8.7px 10.5px,#ea7b60 11.5px 13.2px,#dd5f4b 14.2px 16px,#cd423b 17px 18.7px,#c32e31 19.7px 21.4px,#bd1f2d 22.4px 26.9px,#c32e31 27.9px 29.7px,#cd423b 30.7px 32.4px,#dc5d4a 33.4px 35.2px,#ea7b60 36.2px 37.9px,#f59c7d 38.9px 40.7px,#f7ba9f 41.7px 43.4px,#ebd3c6 44.4px 46.2px,#cfdaea 47.2px 48.9px,#abc8fd 49.9px 51.7px,#81a4fb 52.7px 54.4px,#5875e1 55.4px 57.2px,#4358cb 58.2px 59.9px,#6b8df0 60.9px 62.6px,#96b7ff 63.6px 65.4px,#bed2f6 66.4px 68.1px,#dedcdb 69.1px 70.9px,#f2c9b4 71.9px 73.6px,#f7ac8e 74.6px 76.4px,#f08b6e 77.4px 79.1px,#e36c55 80.1px 81.9px,#d55042 82.9px 84.6px,#c83836 85.6px 87.4px,#c0282f 88.4px 90.1px,#bd1f2d 91.1px 92.9px,#c0282f 93.9px 95.6px,#c83836 96.6px 98.4px,#d55042 99.4px 101.1px,#e36c55 102.1px 103.9px,#f08b6e 104.9px 106.6px,#f7ac8e 107.6px 109.3px,#f3c8b2 110.3px 112.1px,#dedcdb 113.1px 114.8px,#bfd3f6 115.8px 117.6px,#97b8ff 118.6px 120.3px,#6c8ff1 121.3px 123.1px,#445acc 124.1px 125.8px,#5673e0 126.8px 128.6px,#81a4fb 129.6px 131.3px,#aac7fd 132.3px)"></i>
<i style="left:1757.86px;top:259.20px;width:6.41px;height:135.05px;background:linear-gradient(#b40426,#ba162b,#c0282f,#c53334,#cb3e38,#d0473d,#d55042,#d95847,#de614d,#e26952,#e57058,#e9785d,#ec7f63,#ee8669,#f18d6f,#f39475,#f59c7d,#f6a283,#f7a889,#f7ad90,#f7b396,#f7b89c,#f6bda2,#f5c1a9,#f4c6af,#f2cab5,#f0cdbb,#edd1c2,#ead4c8,#e7d7ce,#e3d9d3,#dfdbd9,#dadce0,#d6dce4,#d2dbe8,#cdd9ec,#c9d7f0,#c4d5f3,#bfd3f6,#bad0f8,#b5cdfa,#afcafc,#aac7fd,#a5c3fe,#9fbfff,#9abbff,#94b6ff,#8fb1fe,#88abfd,#82a6fb,#7da0f9,#779af7,#7295f4,#6c8ff1,#6788ee,#6282ea,#5d7ce6,#5875e1,#536edd,#4e68d8,#4961d2,#445acc,#3f53c6,#3b4cc0)"></i>
<i style="left:1059px;top:475px;width:15px;height:136px;background:linear-gradient(#3e51c5 2.4px,#3f53c6 3.4px 5.2px,#4a63d3 6.2px 7.9px,#5470de 8.9px 10.7px,#5e7de7 11.7px 13.4px,#6788ee 14.4px 16.2px,#7093f3 17.2px 18.9px,#799cf8 19.9px 21.6px,#80a3fa 22.6px 24.4px,#86a9fc 25.4px 27.1px,#8badfd 28.1px 29.9px,#8db0fe 30.9px 32.6px,#90b2fe 33.6px 38.1px,#8fb1fe 39.1px 40.9px,#8caffe 41.9px 43.6px,#88abfd 44.6px 46.4px,#82a6fb 47.4px 49.1px,#7b9ff9 50.1px 51.9px,#7396f5 52.9px 54.6px,#6a8bef 55.6px 57.4px,#6180e9 58.4px 60.1px,#5673e0 61.1px 62.8px,#4c66d6 63.8px 65.6px,#4358cb 66.6px 68.3px,#3b4cc0 69.3px 71.1px,#455cce 72.1px 73.8px,#4f69d9 74.8px 76.6px,#5977e3 77.6px 79.3px,#6384eb 80.3px 82.1px,#6c8ff1 83.1px 84.8px,#7597f6 85.8px 87.6px,#7da0f9 88.6px 90.3px,#84a7fc 91.3px 93.1px,#88abfd 94.1px 95.8px,#8caffe 96.8px 98.6px,#8fb1fe 99.6px 101.3px,#90b2fe 102.3px 104.1px,#8fb1fe 105.1px 106.8px,#8db0fe 107.8px 109.5px,#89acfd 110.5px 112.3px,#85a8fc 113.3px 115px,#7ea1fa 116px 117.8px,#779af7 118.8px 120.5px,#6f92f3 121.5px 123.3px,#6687ed 124.3px 126px,#5b7ae5 127px 128.8px,#516ddb 129.8px 131.5px,#485fd1 132.5px)"></i>
<i style="left:1074px;top:475px;width:1px;height:136px;background:linear-gradient(#5774e1 1.5px,#5d7be5,#6484eb,#698cef,#7092f3,#7495f5,#7699f7,#7a9df8,#7b9ef8,#7a9df8,#799cf8,#789af7,#7396f4,#6f91f1,#6a8bef,#6484ea,#5e7ce6,#5673de,#4f69d7,#475ece,#4053c5,#435acb,#4961d3,#506ada,#5470de,#5a78e3,#6181e9,#6787ed,#6d8ff1,#7194f4,#7699f6,#799bf8,#7a9df8,#7b9ef8,#7b9ef9,#789bf7,#7598f5,#7294f3,#6c8ef1,#6789ed,#607fe8,#5a78e2,#536edc,#4b64d3,#4358ca,#4156c7,#465dcf,#4c65d6,#536edd 133.4px)"></i>
<i style="left:1075px;top:475px;width:12px;height:136px;background:linear-gradient(#5a78e4 2.4px,#6180e9 3.4px 5.2px,#6788ee 6.2px 7.9px,#6c8ff1 8.9px 10.7px,#7295f4 11.7px 13.4px,#7597f6 14.4px 16.2px,#779af7 17.2px 18.9px,#7a9df8 19.9px 24.4px,#799cf8 25.4px 27.1px,#779af7 28.1px 29.9px,#7597f6 30.9px 32.6px,#7093f3 33.6px 35.4px,#6b8df0 36.4px 38.1px,#6687ed 39.1px 40.9px,#5f7fe8 41.9px 43.6px,#5977e3 44.6px 46.4px,#516ddb 47.4px 49.1px,#4a63d3 50.1px 51.9px,#4257c9 52.9px 54.6px,#3b4cc0 55.6px 57.4px,#4055c8 58.4px 60.1px,#485fd1 61.1px 62.8px,#506bda 63.8px 65.6px,#5673e0 66.6px 68.3px,#5e7de7 69.3px 71.1px,#6485ec 72.1px 73.8px,#6a8bef 74.8px 76.6px,#6f92f3 77.6px 79.3px,#7396f5 80.3px 82.1px,#779af7 83.1px 84.8px,#799cf8 85.8px 87.6px,#7a9df8 88.6px 93.1px,#799cf8 94.1px 95.8px,#7699f6 96.8px 98.6px,#7295f4 99.6px 101.3px,#6e90f2 102.3px 104.1px,#688aef 105.1px 106.8px,#6384eb 107.8px 109.5px,#5b7ae5 110.5px 112.3px,#5572df 113.3px 115px,#4e68d8 116px 117.8px,#465ecf 118.8px 120.5px,#3e51c5 121.5px 123.3px,#3d50c3 124.3px 126px,#445acc 127px 128.8px,#4b64d5 129.8px 131.5px,#5470de 132.5px)"></i>
<i style="left:1087px;top:475px;width:1px;height:136px;background:linear-gradient(#6a8aee 1.5px,#6e8ff1,#7294f3,#7397f5,#7699f6,#7698f6,#7598f6,#7497f5,#7194f4,#6e8ff1,#6989ee,#6483ea,#5e7ce4,#5773de,#516ad7,#506ad8,#516bda,#516cdb,#516cda,#506bd8,#5069d6,#5672dc,#5d7ae2,#6382e8,#6787ec,#6c8ef0,#7092f2,#7395f4,#7598f6,#7699f6,#7699f7,#7598f6,#7395f4,#6f91f2,#6c8df0,#6686eb,#617fe7,#5a77e1,#546fdb,#506ad7,#506ad9,#516cdb,#516cdb,#506cda,#5069d7,#526dd9,#5976df,#5f7de5,#6585ea 133.4px)"></i>
<i style="left:1088px;top:475px;width:12px;height:136px;background:linear-gradient(#7a9df8 2.4px,#7b9ff9 3.4px 5.2px,#7da0f9 6.2px 7.9px,#7b9ff9 8.9px 10.7px,#7a9df8 11.7px 13.4px,#779af7 14.4px 16.2px,#7396f5 17.2px 18.9px,#6e90f2 19.9px 21.6px,#688aef 22.6px 24.4px,#6282ea 25.4px 27.1px,#5a78e4 28.1px 29.9px,#536edd 30.9px 32.6px,#4b64d5 33.6px 35.4px,#4358cb 36.4px 38.1px,#3b4cc0 39.1px 40.9px,#4055c8 41.9px 43.6px,#485fd1 44.6px 46.4px,#506bda 47.4px 49.1px,#5875e1 50.1px 51.9px,#5f7fe8 52.9px 54.6px,#6687ed 55.6px 57.4px,#6c8ff1 58.4px 60.1px,#7295f4 61.1px 62.8px,#7699f6 63.8px 65.6px,#799cf8 66.6px 68.3px,#7b9ff9 69.3px 71.1px,#7da0f9 72.1px 76.6px,#7b9ff9 77.6px 79.3px,#799cf8 80.3px 82.1px,#7597f6 83.1px 84.8px,#7093f3 85.8px 87.6px,#6b8df0 88.6px 90.3px,#6485ec 91.3px 93.1px,#5e7de7 94.1px 95.8px,#5673e0 96.8px 98.6px,#4f69d9 99.6px 101.3px,#465ecf 102.3px 104.1px,#3f53c6 105.1px 106.8px,#3d50c3 107.8px 109.5px,#445acc 110.5px 112.3px,#4c66d6 113.3px 115px,#5470de 116px 117.8px,#5b7ae5 118.8px 120.5px,#6282ea 121.5px 123.3px,#688aef 124.3px 126px,#6f92f3 127px 128.8px,#7396f5 129.8px 131.5px,#779af7 132.5px)"></i>
<i style="left:1100px;top:475px;width:1px;height:136px;background:linear-gradient(#7c9ff9 1.5px,#7da1fa,#7ea1f9,#7b9ff9,#7a9df8,#7699f6,#7194f4,#6c8df0,#6586ec,#5f7ee7,#5774e1,#526cdc,#4c65d6,#465cce,#4052c5,#455bcc,#4d65d5,#5571dd,#5d7be4,#6484ea,#6b8cef,#7093f2,#7698f5,#799cf7,#7c9ff9,#7da1fa,#7ea1f9,#7ea1f9,#7b9ff9,#789bf8,#7495f5,#6e91f2,#698aee,#6181e9,#5b78e3,#5470de,#4f69d9,#4860d1,#4358ca,#4256c8,#4960d0,#516cda,#5976e1,#607fe8,#6787ec,#6d8ff1,#7396f4,#7799f6,#7a9df8 133.4px)"></i>
<i style="left:1101px;top:475px;width:13px;height:136px;background:linear-gradient(#90b2fe 2.4px,#8caffe 3.4px 5.2px,#86a9fc 6.2px 7.9px,#7ea1fa 8.9px 10.7px,#7699f6 11.7px 13.4px,#6c8ff1 14.4px 16.2px,#6282ea 17.2px 18.9px,#5875e1 19.9px 21.6px,#4c66d6 22.6px 24.4px,#4257c9 25.4px 27.1px,#3c4ec2 28.1px 29.9px,#465ecf 30.9px 32.6px,#516ddb 33.6px 35.4px,#5d7ce6 36.4px 38.1px,#6788ee 39.1px 40.9px,#7093f3 41.9px 43.6px,#7a9df8 44.6px 46.4px,#82a6fb 47.4px 49.1px,#89acfd 50.1px 51.9px,#8fb1fe 52.9px 54.6px,#93b5fe 55.6px 57.4px,#94b6ff 58.4px 60.1px,#96b7ff 61.1px 62.8px,#94b6ff 63.8px 65.6px,#93b5fe 66.6px 68.3px,#8fb1fe 69.3px 71.1px,#89acfd 72.1px 73.8px,#82a6fb 74.8px 76.6px,#7a9df8 77.6px 79.3px,#7295f4 80.3px 82.1px,#6788ee 83.1px 84.8px,#5d7ce6 85.8px 87.6px,#536edd 88.6px 90.3px,#485fd1 91.3px 93.1px,#3d50c3 94.1px 95.8px,#4257c9 96.8px 98.6px,#4c66d6 99.6px 101.3px,#5673e0 102.3px 104.1px,#6282ea 105.1px 106.8px,#6b8df0 107.8px 109.5px,#7699f6 110.5px 112.3px,#7ea1fa 113.3px 115px,#85a8fc 116px 117.8px,#8caffe 118.8px 120.5px,#90b2fe 121.5px 123.3px,#94b6ff 124.3px 126px,#96b7ff 127px 131.5px,#94b6ff 132.5px)"></i>
<i style="left:1114px;top:475px;width:1px;height:136px;background:linear-gradient(#98b9ff 1.5px,#8fb1fe,#85a8fc,#789af7,#6b8cf0,#5e7de6,#506bd9,#4358ca,#4961d2,#506bd9,#5a76e0,#6786eb,#7495f2,#81a2f7,#8cadfa,#95b5fb,#9ebcfc,#a4c1fb,#a9c4fb,#abc6fa,#acc7fb,#aac6fc,#a8c4fd,#a3c1fe,#9dbdff,#94b5ff,#89acfd,#7ea2fa,#7294f4,#6585ec,#5773e0,#4a62d1,#465cce,#4d66d7,#5470dc,#617fe6,#6d8eef,#7a9bf5,#87a7f9,#91b1fb,#9ab9fb,#a1befb,#a6c2fb,#aac5fb,#acc7fa,#acc7fb,#aac6fc,#a6c4fe,#a0bffe 133.4px)"></i>
<i style="left:1115px;top:475px;width:12px;height:136px;background:linear-gradient(#9bbcff 2.4px,#90b2fe 3.4px 5.2px,#84a7fc 6.2px 7.9px,#7597f6 8.9px 10.7px,#6687ed 11.7px 13.4px,#5875e1 14.4px 16.2px,#4961d2 17.2px 18.9px,#3b4cc0 19.9px 21.6px,#485fd1 22.6px 24.4px,#5673e0 25.4px 27.1px,#6687ed 28.1px 29.9px,#7597f6 30.9px 32.6px,#82a6fb 33.6px 35.4px,#90b2fe 36.4px 38.1px,#9bbcff 39.1px 40.9px,#a5c3fe 41.9px 43.6px,#adc9fd 44.6px 46.4px,#b2ccfb 47.4px 49.1px,#b6cefa 50.1px 51.9px,#b7cff9 52.9px 54.6px,#b6cefa 55.6px 57.4px,#b3cdfb 58.4px 60.1px,#afcafc 61.1px 62.8px,#a9c6fd 63.8px 65.6px,#a1c0ff 66.6px 68.3px,#96b7ff 69.3px 71.1px,#89acfd 72.1px 73.8px,#7da0f9 74.8px 76.6px,#6e90f2 77.6px 79.3px,#5f7fe8 80.3px 82.1px,#506bda 83.1px 84.8px,#4257c9 85.8px 87.6px,#4055c8 88.6px 90.3px,#4f69d9 91.3px 93.1px,#5e7de7 94.1px 95.8px,#6e90f2 96.8px 98.6px,#7b9ff9 99.6px 101.3px,#89acfd 102.3px 104.1px,#96b7ff 105.1px 106.8px,#a1c0ff 107.8px 109.5px,#a9c6fd 110.5px 112.3px,#afcafc 113.3px 115px,#b3cdfb 116px 117.8px,#b6cefa 118.8px 120.5px,#b7cff9 121.5px 123.3px,#b6cefa 124.3px 126px,#b2ccfb 127px 128.8px,#adc9fd 129.8px 131.5px,#a5c3fe 132.5px)"></i>
<i style="left:1127px;top:475px;width:1px;height:136px;background:linear-gradient(#9bbcff 1.5px,#8eb0fe,#7fa2fa,#6f90f2,#5e7de6,#4f68d7,#4a62d3,#465ccc,#5570dc,#6584e9,#7697f3,#85a6f8,#92b2fb,#9fbdfb,#aac5fa,#b3caf7,#b9cff6,#bdd1f4,#c0d2f3,#c0d3f3,#bdd2f5,#b9d0f8,#b4ccfa,#abc8fd,#a1c0ff,#94b5ff,#86a9fc,#7799f6,#6787ec,#5773df,#4c65d5,#485fd0,#4c66d4,#5d7ae3,#6d8dee,#7e9ff6,#8bacfa,#99b8fb,#a5c1fb,#afc8f9,#b6cdf6,#bbd0f5,#bed2f4,#c0d2f3,#bfd2f4,#bdd1f6,#b7cff9,#b0cbfc,#a7c4fe 133.4px)"></i>
<i style="left:1128px;top:475px;width:13px;height:136px;background:linear-gradient(#9abbff 2.4px,#88abfd 3.4px 5.2px,#7597f6 6.2px 7.9px,#6180e9 8.9px 10.7px,#4c66d6 11.7px 13.4px,#3b4cc0 14.4px 16.2px,#4b64d5 17.2px 18.9px,#5f7fe8 19.9px 21.6px,#7295f4 22.6px 24.4px,#86a9fc 25.4px 27.1px,#98b9ff 28.1px 29.9px,#a9c6fd 30.9px 32.6px,#b6cefa 33.6px 35.4px,#c1d4f4 36.4px 38.1px,#cbd8ee 39.1px 40.9px,#d1dae9 41.9px 43.6px,#d5dbe5 44.6px 46.4px,#d6dce4 47.4px 51.9px,#d3dbe7 52.9px 54.6px,#cedaeb 55.6px 57.4px,#c7d7f0 58.4px 60.1px,#bed2f6 61.1px 62.8px,#b1cbfc 63.8px 65.6px,#a2c1ff 66.6px 68.3px,#90b2fe 69.3px 71.1px,#7ea1fa 72.1px 73.8px,#6a8bef 74.8px 76.6px,#5673e0 77.6px 79.3px,#445acc 80.3px 82.1px,#4257c9 83.1px 84.8px,#5572df 85.8px 87.6px,#688aef 88.6px 90.3px,#7da0f9 91.3px 93.1px,#8fb1fe 94.1px 95.8px,#a1c0ff 96.8px 98.6px,#afcafc 99.6px 101.3px,#bcd2f7 102.3px 104.1px,#c6d6f1 105.1px 106.8px,#cedaeb 107.8px 109.5px,#d3dbe7 110.5px 112.3px,#d6dce4 113.3px 117.8px,#d5dbe5 118.8px 120.5px,#d1dae9 121.5px 123.3px,#cbd8ee 124.3px 126px,#c3d5f4 127px 128.8px,#b7cff9 129.8px 131.5px,#aac7fd 132.5px)"></i>
<i style="left:1141px;top:475px;width:1px;height:136px;background:linear-gradient(#8db0fe 1.5px,#7598f6,#5d7ce6,#465dce,#475fd0,#5a78e3,#7295f3,#89acfc,#a1bffd,#b5cdf9,#c5d4f1,#d2dae6,#dcdadb,#e5d6cf,#e9d3c8,#ecd1c3,#ecd1c3,#ebd3c6,#e8d6cb,#e2d9d5,#d9dce1,#cddaeb,#c0d4f5,#adc9fd,#98b9ff,#81a4fa,#698aef,#516cdb,#3d4fc3,#506bda,#6787ec,#7ea2f9,#96b7fe,#abc6fc,#bdd1f5,#cdd8eb,#d7dae1,#e1d8d5,#e7d5cc,#ead2c5,#ecd1c3,#ecd1c3,#e9d4c9,#e5d7d0,#dedbda,#d4dbe6,#c7d7f0,#b7cff9,#a3c2ff 133.4px)"></i>
<i style="left:1142px;top:475px;width:12px;height:136px;background:linear-gradient(#8caffe 2.4px,#7396f5 3.4px 5.2px,#5b7ae5 6.2px 7.9px,#445acc 8.9px 10.7px,#465ecf 11.7px 13.4px,#5d7ce6 14.4px 16.2px,#7699f6 17.2px 18.9px,#8db0fe 19.9px 21.6px,#a5c3fe 22.6px 24.4px,#b9d0f9 25.4px 27.1px,#c9d7f0 28.1px 29.9px,#d6dce4 30.9px 32.6px,#e0dbd8 33.6px 35.4px,#e8d6cc 36.4px 38.1px,#ecd3c5 39.1px 40.9px,#eed0c0 41.9px 46.4px,#edd2c3 47.4px 49.1px,#ead5c9 50.1px 51.9px,#e3d9d3 52.9px 54.6px,#dadce0 55.6px 57.4px,#cedaeb 58.4px 60.1px,#c0d4f5 61.1px 62.8px,#adc9fd 63.8px 65.6px,#97b8ff 66.6px 68.3px,#80a3fa 69.3px 71.1px,#6788ee 72.1px 73.8px,#4f69d9 74.8px 76.6px,#3b4cc0 77.6px 79.3px,#516ddb 80.3px 82.1px,#6a8bef 83.1px 84.8px,#82a6fb 85.8px 87.6px,#9abbff 88.6px 90.3px,#afcafc 91.3px 93.1px,#c1d4f4 94.1px 95.8px,#d1dae9 96.8px 98.6px,#dbdcde 99.6px 101.3px,#e4d9d2 102.3px 104.1px,#ead5c9 105.1px 106.8px,#edd1c2 107.8px 109.5px,#eed0c0 110.5px 115px,#ebd3c6 116px 117.8px,#e7d7ce 118.8px 120.5px,#dfdbd9 121.5px 123.3px,#d5dbe5 124.3px 126px,#c7d7f0 127px 128.8px,#b7cff9 129.8px 131.5px,#a2c1ff 132.5px)"></i>
<i style="left:1154px;top:475px;width:1px;height:136px;background:linear-gradient(#7ea1f9 1.5px,#6484ea,#4b63d3,#4c64d5,#5b79e2,#7597f2,#8fb0fa,#a7c2fa,#bdcff2,#ced5e6,#dcd4d8,#e5d2ca,#ebccbe,#f0c7b4,#f2c3ae,#f3c3ad,#f3c5af,#f1c9b5,#eed0c0,#e7d6cd,#dcdcde,#cdd9ec,#bbd1f7,#a5c3fe,#8caefd,#7193f3,#5774df,#4a62d3,#4f67d5,#6888eb,#83a4f7,#9bbafb,#b3caf7,#c6d3ec,#d6d5df,#e2d3d1,#e9cec3,#eecab9,#f1c5b1,#f2c2ad,#f3c4ad,#f2c7b1,#f0ccba,#ebd3c7,#e2dad5,#d5dbe5,#c5d6f2,#b0cbfb,#98b9fe 133.4px)"></i>
<i style="left:1155px;top:475px;width:12px;height:136px;background:linear-gradient(#7295f4 2.4px,#5673e0 3.4px 5.2px,#3c4ec2 6.2px 7.9px,#536edd 8.9px 10.7px,#6f92f3 11.7px 13.4px,#8caffe 14.4px 16.2px,#a7c5fe 17.2px 18.9px,#bfd3f6 19.9px 21.6px,#d3dbe7 22.6px 24.4px,#e2dad5 25.4px 27.1px,#edd1c2 28.1px 29.9px,#f3c8b2 30.9px 32.6px,#f6bfa6 33.6px 35.4px,#f7b99e 36.4px 38.1px,#f7b599 39.1px 40.9px,#f7b79b 41.9px 43.6px,#f7ba9f 44.6px 46.4px,#f5c1a9 47.4px 49.1px,#f2cbb7 50.1px 51.9px,#ead4c8 52.9px 54.6px,#dddcdc 55.6px 57.4px,#ccd9ed 58.4px 60.1px,#b7cff9 61.1px 62.8px,#9dbdff 63.8px 65.6px,#81a4fb 66.6px 68.3px,#6485ec 69.3px 71.1px,#4961d2 72.1px 73.8px,#455cce 74.8px 76.6px,#6180e9 77.6px 79.3px,#7da0f9 80.3px 82.1px,#9abbff 83.1px 84.8px,#b3cdfb 85.8px 87.6px,#cad8ef 88.6px 90.3px,#dbdcde 91.3px 93.1px,#e9d5cb 94.1px 95.8px,#f1cdba 96.8px 98.6px,#f5c2aa 99.6px 101.3px,#f7bca1 102.3px 104.1px,#f7b79b 105.1px 106.8px,#f7b599 107.8px 109.5px,#f7b89c 110.5px 112.3px,#f6bea4 113.3px 115px,#f4c6af 116px 117.8px,#eed0c0 118.8px 120.5px,#e4d9d2 121.5px 123.3px,#d5dbe5 124.3px 126px,#c3d5f4 127px 128.8px,#aac7fd 129.8px 131.5px,#8fb1fe 132.5px)"></i>
<i style="left:1167px;top:475px;width:1px;height:136px;background:linear-gradient(#6e90f1 1.5px,#536fdd,#4054c7,#5874e1,#7598f4,#92b3fd,#adc8fb,#c4d3f1,#d7d9e1,#e5d6ce,#eeccbc,#f3c3ac,#f6baa1,#f7b599,#f7b195,#f7b498,#f7b89d,#f5c0a8,#f2cbb6,#ead4c8,#dcdcdd,#cad8ee,#b4cdfa,#9abaff,#7da0f9,#607fe8,#4a62d3,#4a62d2,#6786ec,#83a5f9,#a0befd,#b8cff7,#ced7e9,#ded9d8,#ebd1c4,#f2c8b4,#f5bda4,#f7b79c,#f7b397,#f7b296,#f7b699,#f6bca2,#f4c5ae,#eed0c0,#e4d9d3,#d4dbe6,#c1d4f5,#a7c5fd,#8baefd 133.4px)"></i>
<i style="left:1168px;top:475px;width:13px;height:136px;background:linear-gradient(#516ddb 2.4px,#3f53c6 3.4px 5.2px,#5e7de7 6.2px 7.9px,#7ea1fa 8.9px 10.7px,#9fbfff 11.7px 13.4px,#bcd2f7 14.4px 16.2px,#d4dbe6 17.2px 18.9px,#e7d7ce 19.9px 21.6px,#f2cab5 22.6px 24.4px,#f7ba9f 25.4px 27.1px,#f7ac8e 28.1px 29.9px,#f5a081 30.9px 32.6px,#f4987a 33.6px 35.4px,#f39577 36.4px 38.1px,#f4987a 39.1px 40.9px,#f59f80 41.9px 43.6px,#f7aa8c 44.6px 46.4px,#f7b99e 47.4px 49.1px,#f3c8b2 50.1px 51.9px,#e9d5cb 52.9px 54.6px,#d7dce3 55.6px 57.4px,#bfd3f6 58.4px 60.1px,#a2c1ff 61.1px 62.8px,#82a6fb 63.8px 65.6px,#6282ea 66.6px 68.3px,#4358cb 69.3px 71.1px,#4e68d8 72.1px 73.8px,#6e90f2 74.8px 76.6px,#8fb1fe 77.6px 79.3px,#aec9fc 80.3px 82.1px,#c9d7f0 83.1px 84.8px,#dedcdb 85.8px 87.6px,#edd1c2 88.6px 90.3px,#f5c2aa 91.3px 93.1px,#f7b396 94.1px 95.8px,#f7a688 96.8px 98.6px,#f59c7d 99.6px 101.3px,#f39778 102.3px 106.8px,#f59c7d 107.8px 109.5px,#f6a586 110.5px 112.3px,#f7b194 113.3px 115px,#f5c0a7 116px 117.8px,#efcfbf 118.8px 120.5px,#e0dbd8 121.5px 123.3px,#ccd9ed 124.3px 126px,#b1cbfc 127px 128.8px,#93b5fe 129.8px 131.5px,#7295f4 132.5px)"></i>
<i style="left:1181px;top:475px;width:1px;height:136px;background:linear-gradient(#4861d2 1.5px,#5d7be4,#80a1f8,#a2bffb,#c1d2f1,#d9d7dc,#eacec2,#f3bda6,#f4ab8f,#f3997c,#ef8b6f,#ec8166,#eb7e63,#ec8064,#ef896b,#f39677,#f6a688,#f7ba9f,#f1ccb9,#e2d9d5,#cbd8ed,#aec9fc,#8caefd,#688aed,#485ecf,#516cda,#6e8fef,#91b2fb,#b2caf8,#cdd7e8,#e3d3cf,#efc7b4,#f4b59b,#f4a386,#f09275,#ed866a,#eb7f64,#eb7f64,#ed8468,#f18f71,#f59e7f,#f7b093,#f5c3ab,#ebd3c8,#d7dbe2,#bdd2f6,#9dbcfe,#799cf6,#5874e0 133.4px)"></i>
<i style="left:1182px;top:475px;width:12px;height:136px;background:linear-gradient(#455cce 2.4px,#688aef 3.4px 5.2px,#8caffe 6.2px 7.9px,#afcafc 8.9px 10.7px,#cdd9ec 11.7px 13.4px,#e4d9d2 14.4px 16.2px,#f2c9b4 17.2px 18.9px,#f7b497 19.9px 21.6px,#f5a081 22.6px 24.4px,#f18d6f 25.4px 27.1px,#ec7f63 28.1px 29.9px,#e8765c 30.9px 32.6px,#e7745b 33.6px 35.4px,#e9785d 36.4px 38.1px,#ed8366 39.1px 40.9px,#f29274 41.9px 43.6px,#f6a586 44.6px 46.4px,#f7ba9f 47.4px 49.1px,#f0cdbb 50.1px 51.9px,#dfdbd9 52.9px 54.6px,#c6d6f1 55.6px 57.4px,#a7c5fe 58.4px 60.1px,#84a7fc 61.1px 62.8px,#5f7fe8 63.8px 65.6px,#3e51c5 66.6px 68.3px,#5673e0 69.3px 71.1px,#7a9df8 72.1px 73.8px,#9ebeff 74.8px 76.6px,#bfd3f6 77.6px 79.3px,#d9dce1 80.3px 82.1px,#edd2c3 83.1px 84.8px,#f6bfa6 85.8px 87.6px,#f7aa8c 88.6px 90.3px,#f39778 91.3px 93.1px,#ee8669 94.1px 95.8px,#e97a5f 96.8px 98.6px,#e7745b 99.6px 101.3px,#e8765c 102.3px 104.1px,#eb7d62 105.1px 106.8px,#f08a6c 107.8px 109.5px,#f59c7d 110.5px 112.3px,#f7b093 113.3px 115px,#f5c4ac 116px 117.8px,#e9d5cb 118.8px 120.5px,#d4dbe6 121.5px 123.3px,#b7cff9 124.3px 126px,#96b7ff 127px 128.8px,#7093f3 129.8px 131.5px,#4e68d8 132.5px)"></i>
<i style="left:1194px;top:475px;width:1px;height:136px;background:linear-gradient(#536eda 1.5px,#789af4,#9cbbfc,#bdd0f3,#d8d6dd,#eacec1,#f3bba3,#f4a588,#f09073,#eb7e64,#e57159,#e26b54,#e36b55,#e77359,#ec8064,#f29274,#f6a789,#f6bea4,#edd0c2,#d9dae0,#bdd1f5,#9bbbfd,#7799f5,#536edb,#4960d0,#6685e9,#8aabfa,#adc7f9,#ccd4e9,#e2d4d0,#f0c5b1,#f5b095,#f39a7d,#ed886b,#e7775e,#e36d56,#e26a54,#e56f57,#e9795f,#ef896b,#f59d7e,#f7b397,#f3c8b2,#e4d7d2,#ccd8ec,#adc8fb,#89abfb,#6483e9,#4d67d7 133.4px)"></i>
<i style="left:1195px;top:475px;width:13px;height:136px;background:linear-gradient(#7093f3 2.4px,#98b9ff 3.4px 5.2px,#bcd2f7 6.2px 7.9px,#dadce0 8.9px 10.7px,#efcfbf 11.7px 13.4px,#f7b99e 14.4px 16.2px,#f59f80 17.2px 18.9px,#ee8669 19.9px 21.6px,#e57058 22.6px 24.4px,#de614d 25.4px 27.1px,#d85646 28.1px 29.9px,#d75445 30.9px 32.6px,#da5a49 33.6px 35.4px,#e26952 36.4px 38.1px,#ea7b60 39.1px 40.9px,#f29274 41.9px 43.6px,#f7ac8e 44.6px 46.4px,#f4c5ad 47.4px 49.1px,#e6d7cf 50.1px 51.9px,#ccd9ed 52.9px 54.6px,#aac7fd 55.6px 57.4px,#84a7fc 58.4px 60.1px,#5e7de7 61.1px 62.8px,#3b4cc0 63.8px 65.6px,#5e7de7 66.6px 68.3px,#85a8fc 69.3px 71.1px,#aac7fd 72.1px 73.8px,#ccd9ed 74.8px 76.6px,#e6d7cf 77.6px 79.3px,#f4c5ad 80.3px 82.1px,#f7ac8e 83.1px 84.8px,#f29274 85.8px 87.6px,#ea7b60 88.6px 90.3px,#e26952 91.3px 93.1px,#da5a49 94.1px 95.8px,#d75445 96.8px 98.6px,#d85646 99.6px 101.3px,#de614d 102.3px 104.1px,#e57058 105.1px 106.8px,#ee8669 107.8px 109.5px,#f59f80 110.5px 112.3px,#f7b99e 113.3px 115px,#efcfbf 116px 117.8px,#dadce0 118.8px 120.5px,#bcd2f7 121.5px 123.3px,#98b9ff 124.3px 126px,#7093f3 127px 128.8px,#4b64d5 129.8px)"></i>
<i style="left:1208px;top:475px;width:13px;height:136px;background:linear-gradient(#a1c0ff 2.4px,#c6d6f1 3.4px 5.2px,#e3d9d3 6.2px 7.9px,#f4c6af 8.9px 10.7px,#f7aa8c 11.7px 13.4px,#f18d6f 14.4px 16.2px,#e57058 17.2px 18.9px,#d95847 19.9px 21.6px,#cf453c 22.6px 24.4px,#ca3b37 25.4px 27.1px,#c83836 28.1px 29.9px,#cc403a 30.9px 32.6px,#d55042 33.6px 35.4px,#e16751 36.4px 38.1px,#ed8366 39.1px 40.9px,#f5a081 41.9px 43.6px,#f6bda2 44.6px 46.4px,#ead4c8 47.4px 49.1px,#d1dae9 50.1px 51.9px,#aec9fc 52.9px 54.6px,#85a8fc 55.6px 57.4px,#5d7ce6 58.4px 60.1px,#3d50c3 61.1px 62.8px,#6384eb 63.8px 65.6px,#8caffe 66.6px 68.3px,#b5cdfa 69.3px 71.1px,#d5dbe5 72.1px 73.8px,#edd1c2 74.8px 76.6px,#f7b89c 77.6px 79.3px,#f59c7d 80.3px 82.1px,#eb7d62 83.1px 84.8px,#df634e 85.8px 87.6px,#d44e41 88.6px 90.3px,#cb3e38 91.3px 93.1px,#c83836 94.1px 95.8px,#ca3b37 96.8px 98.6px,#d0473d 99.6px 101.3px,#dc5d4a 102.3px 104.1px,#e7745b 105.1px 106.8px,#f29274 107.8px 109.5px,#f7af91 110.5px 112.3px,#f2cab5 113.3px 115px,#dedcdb 116px 117.8px,#c0d4f5 118.8px 120.5px,#9abbff 121.5px 123.3px,#7093f3 124.3px 126px,#4961d2 127px 128.8px,#4f69d9 129.8px 131.5px,#779af7 132.5px)"></i>
<i style="left:1221px;top:475px;width:1px;height:136px;background:linear-gradient(#b8cef5 1.5px,#d9d5dc,#edcaba,#f5b196,#f19376,#e6745c,#d95949,#cd413b,#c53034,#c22a31,#c43133,#cc403a,#d75445,#e57057,#f18e71,#f6ad90,#f1c8b4,#ded8d9,#bfd1f3,#98b7fc,#6e8ff0,#4d66d5,#546eda,#7c9ef5,#a5c1fb,#cad5eb,#e5d2cc,#f2bfa7,#f4a285,#ec8368,#e06652,#d34c41,#c93937,#c22b32,#c32d32,#c73735,#d1493f,#df634e,#eb7f64,#f59e7f,#f5bba1,#e9d3c7,#cfd8e9,#acc7fa,#83a5f9,#5a77e1,#4e68d8,#6887ea,#91b1fb 133.4px)"></i>
<i style="left:1222px;top:475px;width:12px;height:136px;background:linear-gradient(#ccd9ed 2.4px,#e9d5cb 3.4px 5.2px,#f6bea4 6.2px 7.9px,#f59f80 8.9px 10.7px,#ec7f63 11.7px 13.4px,#dd5f4b 14.4px 16.2px,#cf453c 17.2px 18.9px,#c32e31 19.9px 21.6px,#bd1f2d 22.6px 24.4px,#bb1b2c 25.4px 27.1px,#c12b30 28.1px 29.9px,#cc403a 30.9px 32.6px,#d95847 33.6px 35.4px,#e9785d 36.4px 38.1px,#f4987a 39.1px 40.9px,#f7b89c 41.9px 43.6px,#edd2c3 44.6px 46.4px,#d3dbe7 47.4px 49.1px,#afcafc 50.1px 51.9px,#85a8fc 52.9px 54.6px,#5b7ae5 55.6px 57.4px,#3f53c6 58.4px 60.1px,#6788ee 61.1px 62.8px,#92b4fe 63.8px 65.6px,#bbd1f8 66.6px 68.3px,#dbdcde 69.3px 71.1px,#f2cbb7 72.1px 73.8px,#f7af91 74.8px 76.6px,#f18f71 77.6px 79.3px,#e46e56 80.3px 82.1px,#d65244 83.1px 84.8px,#c83836 85.8px 87.6px,#c0282f 88.6px 90.3px,#bb1b2c 91.3px 93.1px,#be242e 94.1px 95.8px,#c53334 96.8px 98.6px,#d24b40 99.6px 101.3px,#e26952 102.3px 104.1px,#ef886b 105.1px 106.8px,#f7a889 107.8px 109.5px,#f4c6af 110.5px 112.3px,#e1dad6 113.3px 115px,#c3d5f4 116px 117.8px,#9bbcff 118.8px 120.5px,#7093f3 121.5px 123.3px,#485fd1 124.3px 126px,#536edd 127px 128.8px,#7da0f9 129.8px 131.5px,#a7c5fe 132.5px)"></i>
<i style="left:1234px;top:475px;width:1px;height:136px;background:linear-gradient(#d1d8e7 1.5px,#ebd1c4,#f6b89e,#f3997b,#e9795f,#da5948,#cc3f3a,#c12930,#bc1c2c,#bb1b2c,#c22d31,#cd433b,#db5b49,#ea7c60,#f49c7e,#f6bba1,#ead3c8,#ced9ea,#a9c5fc,#7fa1f9,#5775e1,#455bcc,#6e8ff0,#98b8fd,#c0d3f4,#ded9d8,#f3c6b1,#f6a98b,#ef896c,#e16852,#d34c41,#c63234,#be232e,#ba192b,#be252e,#c63535,#d44e42,#e46d55,#f08c6f,#f7ac8e,#f2c9b4,#ddd9da,#bdd1f6,#95b6fd,#6a8bee,#4a61d3,#5a76e1,#84a6fa,#adc8fb 133.4px)"></i>
<i style="left:1235px;top:475px;width:13px;height:136px;background:linear-gradient(#ebd3c6 2.4px,#f7b99e 3.4px 5.2px,#f4987a 6.2px 7.9px,#e8765c 8.9px 10.7px,#d85646 11.7px 13.4px,#c83836 14.4px 16.2px,#bd1f2d 17.2px 18.9px,#b50927 19.9px 24.4px,#bb1b2c 25.4px 27.1px,#c73635 28.1px 29.9px,#d65244 30.9px 32.6px,#e57058 33.6px 35.4px,#f39475 36.4px 38.1px,#f7b497 39.1px 40.9px,#eed0c0 41.9px 43.6px,#d5dbe5 44.6px 46.4px,#b1cbfc 47.4px 49.1px,#86a9fc 50.1px 51.9px,#5a78e4 52.9px 54.6px,#4055c8 55.6px 57.4px,#688aef 58.4px 60.1px,#94b6ff 61.1px 62.8px,#bed2f6 63.8px 65.6px,#dedcdb 66.6px 68.3px,#f3c8b2 69.3px 71.1px,#f7a98b 72.1px 73.8px,#ef886b 74.8px 76.6px,#e16751 77.6px 79.3px,#d0473d 80.3px 82.1px,#c12b30 83.1px 84.8px,#b8122a 85.8px 87.6px,#b40426 88.6px 90.3px,#b70d28 91.3px 93.1px,#c0282f 94.1px 95.8px,#cd423b 96.8px 98.6px,#de614d 99.6px 101.3px,#ed8366 102.3px 104.1px,#f6a586 105.1px 106.8px,#f5c4ac 107.8px 109.5px,#e3d9d3 110.5px 112.3px,#c4d5f3 113.3px 115px,#9bbcff 116px 117.8px,#7093f3 118.8px 120.5px,#465ecf 121.5px 123.3px,#5470de 124.3px 126px,#80a3fa 127px 128.8px,#aac7fd 129.8px 131.5px,#cfdaea 132.5px)"></i>
<i style="left:1248px;top:475px;width:1px;height:136px;background:linear-gradient(#f4bfa6 1.5px,#f4a082,#eb7e64,#db5c4b,#cc403a,#be222e,#b60b28,#b40526,#b9132a,#c22d32,#d24a3f,#e16853,#ef8a6d,#f6ac8e,#f1c8b5,#dbd8dc,#bacff6,#91b2fc,#6584ea,#465ecf,#607ee5,#8aacfb,#b4ccf8,#d7d9e0,#eeccbc,#f6b195,#f08f72,#e46e56,#d44e41,#c53233,#ba142a,#b50827,#b60b28,#be212d,#ca3c38,#d95847,#e8795f,#f49b7d,#f5bba1,#e8d4c9,#ccd6eb,#a5c2fc,#7b9df6,#506bd8,#506cda,#7596f3,#a0befc,#c6d5ef,#e5d5ce 133.4px)"></i>
<i style="left:1249px;top:475px;width:12px;height:136px;background:linear-gradient(#f7b89c 2.4px,#f39778 3.4px 5.2px,#e8765c 6.2px 7.9px,#d75445 8.9px 10.7px,#c83836 11.7px 13.4px,#bb1b2c 14.4px 16.2px,#b40426 17.2px 21.6px,#ba162b 22.6px 24.4px,#c53334 25.4px 27.1px,#d55042 28.1px 29.9px,#e57058 30.9px 32.6px,#f29274 33.6px 35.4px,#f7b497 36.4px 38.1px,#efcfbf 39.1px 40.9px,#d5dbe5 41.9px 43.6px,#b1cbfc 44.6px 46.4px,#86a9fc 47.4px 49.1px,#5a78e4 50.1px 51.9px,#4055c8 52.9px 54.6px,#6a8bef 55.6px 57.4px,#96b7ff 58.4px 60.1px,#bfd3f6 61.1px 62.8px,#dfdbd9 63.8px 65.6px,#f3c7b1 66.6px 68.3px,#f7a98b 69.3px 71.1px,#ee8669 72.1px 73.8px,#e0654f 74.8px 76.6px,#cf453c 77.6px 79.3px,#c12b30 80.3px 82.1px,#b70d28 83.1px 84.8px,#b40426 85.8px 87.6px,#b70d28 88.6px 90.3px,#c0282f 91.3px 93.1px,#cd423b 94.1px 95.8px,#dd5f4b 96.8px 98.6px,#ec8165 99.6px 101.3px,#f6a385 102.3px 104.1px,#f5c2aa 105.1px 106.8px,#e3d9d3 107.8px 109.5px,#c4d5f3 110.5px 112.3px,#9bbcff 113.3px 115px,#7093f3 116px 117.8px,#465ecf 118.8px 120.5px,#5470de 121.5px 123.3px,#80a3fa 124.3px 126px,#aac7fd 127px 128.8px,#cfdaea 129.8px 131.5px,#ecd3c5 132.5px)"></i>
<i style="left:1261px;top:475px;width:1px;height:136px;background:linear-gradient(#f6ae91 1.5px,#f08d6f,#e46d56,#d34d41,#c53234,#bb192c,#b50927,#b80f29,#c0232f,#cc3f3a,#db5d4b,#ea7d63,#f49f82,#f3bea6,#e5d3cd,#c8d5ed,#a1bffc,#7798f4,#506bd9,#4e67d5,#799af4,#a3c1fc,#cad6ed,#e6d5cc,#f4bda5,#f59e81,#ea7c62,#dc5d4a,#cb3f39,#c0272f,#b70f29,#b60c28,#bc192c,#c63334,#d44e42,#e36c55,#f08e71,#f5af93,#eecbb9,#d8d8df,#b5ccf7,#8cadfb,#6180e6,#4b64d4,#6381e8,#8faffb,#b6cdf7,#d9d8de,#f0cbb8 133.4px)"></i>
<i style="left:1262px;top:475px;width:13px;height:136px;background:linear-gradient(#f59c7d 2.4px,#ea7b60 3.4px 5.2px,#dc5d4a 6.2px 7.9px,#cc403a 8.9px 10.7px,#c0282f 11.7px 13.4px,#ba162b 14.4px 16.2px,#b8122a 17.2px 18.9px,#be242e 19.9px 21.6px,#ca3b37 22.6px 24.4px,#d85646 25.4px 27.1px,#e7745b 28.1px 29.9px,#f39577 30.9px 32.6px,#f7b79b 33.6px 35.4px,#edd1c2 36.4px 38.1px,#d4dbe6 39.1px 40.9px,#afcafc 41.9px 43.6px,#85a8fc 44.6px 46.4px,#5b7ae5 47.4px 49.1px,#3f53c6 50.1px 51.9px,#6788ee 52.9px 54.6px,#93b5fe 55.6px 57.4px,#bcd2f7 58.4px 60.1px,#dddcdc 61.1px 62.8px,#f2cab5 63.8px 65.6px,#f7ac8e 66.6px 68.3px,#f08b6e 69.3px 71.1px,#e36b54 72.1px 73.8px,#d44e41 74.8px 76.6px,#c53334 77.6px 79.3px,#bd1f2d 80.3px 82.1px,#b8122a 83.1px 84.8px,#bb1b2c 85.8px 87.6px,#c43032 88.6px 90.3px,#d0473d 91.3px 93.1px,#e0654f 94.1px 95.8px,#ee8468 96.8px 98.6px,#f7a688 99.6px 101.3px,#f4c5ad 102.3px 104.1px,#e2dad5 105.1px 106.8px,#c3d5f4 107.8px 109.5px,#9bbcff 110.5px 112.3px,#7093f3 113.3px 115px,#465ecf 116px 117.8px,#536edd 118.8px 120.5px,#7da0f9 121.5px 123.3px,#a9c6fd 124.3px 126px,#cdd9ec 127px 128.8px,#ead5c9 129.8px 131.5px,#f7bca1 132.5px)"></i>
<i style="left:1275px;top:475px;width:13px;height:136px;background:linear-gradient(#ef886b 2.4px,#e36b54 3.4px 5.2px,#d65244 6.2px 7.9px,#cb3e38 8.9px 10.7px,#c43032 11.7px 16.2px,#c83836 17.2px 18.9px,#d24b40 19.9px 21.6px,#df634e 22.6px 24.4px,#ec7f63 25.4px 27.1px,#f59d7e 28.1px 29.9px,#f7bca1 30.9px 32.6px,#ebd3c6 33.6px 35.4px,#d2dbe8 36.4px 38.1px,#aec9fc 39.1px 40.9px,#85a8fc 41.9px 43.6px,#5b7ae5 44.6px 46.4px,#3e51c5 47.4px 49.1px,#6485ec 50.1px 51.9px,#8fb1fe 52.9px 54.6px,#b6cefa 55.6px 57.4px,#d8dce2 58.4px 60.1px,#efcebd 61.1px 62.8px,#f7b599 63.8px 65.6px,#f39778 66.6px 68.3px,#e9785d 69.3px 71.1px,#dc5d4a 72.1px 73.8px,#d0473d 74.8px 76.6px,#c73635 77.6px 79.3px,#c43032 80.3px 82.1px,#c53334 83.1px 84.8px,#cc403a 85.8px 87.6px,#d85646 88.6px 90.3px,#e57058 91.3px 93.1px,#f18f71 94.1px 95.8px,#f7ad90 96.8px 98.6px,#f3c8b2 99.6px 101.3px,#dfdbd9 102.3px 104.1px,#c1d4f4 105.1px 106.8px,#9abbff 107.8px 109.5px,#7093f3 110.5px 112.3px,#4961d2 113.3px 115px,#506bda 116px 117.8px,#799cf8 118.8px 120.5px,#a3c2fe 121.5px 123.3px,#c9d7f0 124.3px 126px,#e5d8d1 127px 128.8px,#f5c2aa 129.8px 131.5px,#f7a688 132.5px)"></i>
<i style="left:1288px;top:475px;width:1px;height:136px;background:linear-gradient(#ed8366 1.5px,#e26a53,#d75445,#d0473d,#cc3f3a,#ce433c,#d44f43,#de624f,#e97b61,#f29678,#f5b297,#eecbba,#dad6db,#bcd0f4,#97b6fc,#6e8ff0,#4960d0,#516bd9,#7799f5,#a0bffd,#c4d5f1,#e2d8d5,#f2c6b1,#f7ad8f,#f19072,#e7755b,#dd5e4b,#d34d41,#cd423b,#cd413a,#d0483f,#d95849,#e36e57,#ed886c,#f4a488,#f3bfa8,#e5d3cb,#ccd6e9,#aac5fa,#82a4f8,#5b78e1,#4b64d4,#6483e9,#8caefc,#b3ccf9,#d4dae5,#ecd1c3,#f6ba9f,#f59e80 133.4px)"></i>
<i style="left:1289px;top:475px;width:12px;height:136px;background:linear-gradient(#ec7f63 2.4px,#e26952 3.4px 5.2px,#d85646 6.2px 7.9px,#d44e41 8.9px 10.7px,#d24b40 11.7px 13.4px,#d65244 14.4px 16.2px,#de614d 17.2px 18.9px,#e7745b 19.9px 21.6px,#f18d6f 22.6px 24.4px,#f7a889 25.4px 27.1px,#f5c2aa 28.1px 29.9px,#e7d7ce 30.9px 32.6px,#cdd9ec 33.6px 35.4px,#abc8fd 36.4px 38.1px,#85a8fc 39.1px 40.9px,#5d7ce6 41.9px 43.6px,#3b4cc0 44.6px 46.4px,#5f7fe8 47.4px 49.1px,#86a9fc 50.1px 51.9px,#aec9fc 52.9px 54.6px,#cfdaea 55.6px 57.4px,#e9d5cb 58.4px 60.1px,#f5c0a7 61.1px 62.8px,#f7a688 63.8px 65.6px,#f08b6e 66.6px 68.3px,#e67259 69.3px 71.1px,#dd5f4b 72.1px 73.8px,#d65244 74.8px 76.6px,#d24b40 77.6px 79.3px,#d44e41 80.3px 82.1px,#d95847 83.1px 84.8px,#e36b54 85.8px 87.6px,#ec8165 88.6px 90.3px,#f49a7b 91.3px 93.1px,#f7b599 94.1px 95.8px,#f0cdbb 96.8px 98.6px,#dbdcde 99.6px 101.3px,#bed2f6 102.3px 104.1px,#98b9ff 105.1px 106.8px,#7093f3 107.8px 109.5px,#4a63d3 110.5px 112.3px,#4c66d6 113.3px 115px,#7396f5 116px 117.8px,#9bbcff 118.8px 120.5px,#c0d4f5 121.5px 123.3px,#dddcdc 124.3px 126px,#f1ccb8 127px 128.8px,#f7b497 129.8px 131.5px,#f4987a 132.5px)"></i>
<i style="left:1301px;top:475px;width:1px;height:136px;background:linear-gradient(#ec8064 1.5px,#e36b54,#da5a49,#d75344,#d55144,#d95949,#e16853,#e97b61,#f29476,#f6ae91,#f2c6b1,#e2d7d4,#c7d6ef,#a4c2fd,#7fa1f9,#5875e0,#4053c6,#6485eb,#8badfd,#b2cbfa,#d1dae8,#ead4c8,#f5bfa5,#f7a587,#f08b6e,#e7745a,#de624d,#d85647,#d55144,#d75445,#dc5f4c,#e6725a,#ee886c,#f4a082,#f5baa1,#ecd0c2,#d5dae3,#b7cdf8,#91b3fd,#6a8cee,#4a62d3,#516dda,#789bf7,#9fbffe,#c3d5f3,#dfdbd9,#f2cbb6,#f7b396,#f4987a 133.4px)"></i>
<i style="left:1302px;top:475px;width:13px;height:136px;background:linear-gradient(#ee8468 2.4px,#e8765c 3.4px 5.2px,#e36c55 6.2px 7.9px,#e36b54 8.9px 10.7px,#e46e56 11.7px 13.4px,#e97a5f 14.4px 16.2px,#f08b6e 17.2px 18.9px,#f59f80 19.9px 21.6px,#f7b599 22.6px 24.4px,#f2cbb7 25.4px 27.1px,#e1dad6 28.1px 29.9px,#c9d7f0 30.9px 32.6px,#a9c6fd 33.6px 35.4px,#84a7fc 36.4px 38.1px,#5f7fe8 39.1px 40.9px,#3d50c3 41.9px 43.6px,#5977e3 44.6px 46.4px,#7ea1fa 47.4px 49.1px,#a2c1ff 50.1px 51.9px,#c4d5f3 52.9px 54.6px,#dddcdc 55.6px 57.4px,#f0cdbb 58.4px 60.1px,#f7b99e 61.1px 62.8px,#f6a385 63.8px 65.6px,#f18d6f 66.6px 68.3px,#ea7b60 69.3px 71.1px,#e57058 72.1px 73.8px,#e36b54 74.8px 76.6px,#e36c55 77.6px 79.3px,#e7745b 80.3px 82.1px,#ec8165 83.1px 84.8px,#f39475 85.8px 87.6px,#f7aa8c 88.6px 90.3px,#f5c0a7 91.3px 93.1px,#ebd3c6 94.1px 95.8px,#d6dce4 96.8px 98.6px,#b9d0f9 99.6px 101.3px,#96b7ff 102.3px 104.1px,#7093f3 105.1px 106.8px,#4e68d8 107.8px 109.5px,#485fd1 110.5px 112.3px,#6b8df0 113.3px 115px,#90b2fe 116px 117.8px,#b3cdfb 118.8px 120.5px,#d2dbe8 121.5px 123.3px,#e8d6cc 124.3px 126px,#f5c4ac 127px 128.8px,#f7ad90 129.8px 131.5px,#f4987a 132.5px)"></i>
<i style="left:1315px;top:475px;width:1px;height:136px;background:linear-gradient(#f29174 1.5px,#ef896c,#ed8468,#ee876a,#f08e70,#f39a7c,#f5aa8d,#f5bca2,#eeccbc,#dfd8d7,#c8d5ed,#acc7fb,#8badfb,#6989ed,#4960d0,#4c66d6,#6c8ef0,#8fb1fe,#afcafc,#ccd9ed,#e2dad5,#f1ccb9,#f7ba9f,#f7a88a,#f4997a,#f08d6f,#ed8569,#ed8468,#ef896d,#f29375,#f4a183,#f6b397,#f2c4ae,#e7d3c9,#d5d8e3,#bbd0f6,#9cbbfd,#7a9df7,#5774e0,#455bcc,#5b78e4,#7ea1f9,#a0bffe,#bed2f6,#d8dce2,#ebd4c7,#f5c4ac,#f7b295,#f6a082 133.4px)"></i>
<i style="left:1316px;top:475px;width:12px;height:136px;background:linear-gradient(#f39577 2.4px,#f18f71 3.4px 5.2px,#f08b6e 6.2px 7.9px,#f18f71 8.9px 10.7px,#f39778 11.7px 13.4px,#f6a385 14.4px 16.2px,#f7b396 17.2px 18.9px,#f5c4ac 19.9px 21.6px,#ebd3c6 22.6px 24.4px,#d9dce1 25.4px 27.1px,#c1d4f4 28.1px 29.9px,#a3c2fe 30.9px 32.6px,#82a6fb 33.6px 35.4px,#6180e9 36.4px 38.1px,#4257c9 39.1px 40.9px,#516ddb 41.9px 43.6px,#7295f4 44.6px 46.4px,#94b6ff 47.4px 49.1px,#b3cdfb 50.1px 51.9px,#cedaeb 52.9px 54.6px,#e3d9d3 55.6px 57.4px,#f1ccb8 58.4px 60.1px,#f7ba9f 61.1px 62.8px,#f7aa8c 63.8px 65.6px,#f59c7d 66.6px 68.3px,#f29274 69.3px 71.1px,#f08b6e 72.1px 76.6px,#f29274 77.6px 79.3px,#f59c7d 80.3px 82.1px,#f7aa8c 83.1px 84.8px,#f7bca1 85.8px 87.6px,#f1ccb8 88.6px 90.3px,#e3d9d3 91.3px 93.1px,#cedaeb 94.1px 95.8px,#b3cdfb 96.8px 98.6px,#93b5fe 99.6px 101.3px,#7295f4 102.3px 104.1px,#506bda 105.1px 106.8px,#4257c9 107.8px 109.5px,#6180e9 110.5px 112.3px,#84a7fc 113.3px 115px,#a5c3fe 116px 117.8px,#c1d4f4 118.8px 120.5px,#dadce0 121.5px 123.3px,#ecd3c5 124.3px 126px,#f5c4ac 127px 128.8px,#f7b396 129.8px 131.5px,#f6a385 132.5px)"></i>
<i style="left:1328px;top:475px;width:1px;height:136px;background:linear-gradient(#f59f81 1.5px,#f39a7c,#f3987b,#f39d7f,#f5a487,#f5b095,#f3bea7,#edccbc,#e0d6d4,#cdd7ea,#b4ccf8,#96b7fd,#7699f5,#5773df,#445acc,#5876e1,#789bf7,#99baff,#b6cffa,#cfdaea,#e3d9d4,#f0cebb,#f6bea4,#f7b093,#f6a586,#f49c7f,#f3977a,#f3997c,#f4a083,#f5aa8d,#f5b69c,#f1c6b1,#e8d2c7,#d8d8df,#c2d4f2,#a6c3fc,#87a9fa,#6788ec,#485fd0,#4a62d2,#6888ee,#89acfd,#a8c5fd,#c3d5f3,#dadce0,#ebd4c7,#f4c7b0,#f7b89c,#f6aa8d 133.4px)"></i>
<i style="left:1329px;top:475px;width:13px;height:136px;background:linear-gradient(#f7af91 2.4px,#f7ac8e 3.4px 5.2px,#f7ad90 6.2px 7.9px,#f7b396 8.9px 10.7px,#f7ba9f 11.7px 13.4px,#f4c6af 14.4px 16.2px,#edd1c2 17.2px 18.9px,#e1dad6 19.9px 21.6px,#cfdaea 22.6px 24.4px,#bad0f8 25.4px 27.1px,#9fbfff 28.1px 29.9px,#81a4fb 30.9px 32.6px,#6384eb 33.6px 35.4px,#465ecf 36.4px 38.1px,#485fd1 39.1px 40.9px,#6485ec 41.9px 43.6px,#82a6fb 44.6px 46.4px,#a1c0ff 47.4px 49.1px,#bbd1f8 50.1px 51.9px,#d1dae9 52.9px 54.6px,#e2dad5 55.6px 57.4px,#eed0c0 58.4px 60.1px,#f4c5ad 61.1px 62.8px,#f7ba9f 63.8px 65.6px,#f7b396 66.6px 68.3px,#f7ad90 69.3px 71.1px,#f7ac8e 72.1px 73.8px,#f7b093 74.8px 76.6px,#f7b79b 77.6px 79.3px,#f5c0a7 80.3px 82.1px,#f2cbb7 83.1px 84.8px,#e8d6cc 85.8px 87.6px,#d9dce1 88.6px 90.3px,#c5d6f2 91.3px 93.1px,#adc9fd 94.1px 95.8px,#90b2fe 96.8px 98.6px,#7295f4 99.6px 101.3px,#5572df 102.3px 104.1px,#3b4cc0 105.1px 106.8px,#5673e0 107.8px 109.5px,#7396f5 110.5px 112.3px,#92b4fe 113.3px 115px,#aec9fc 116px 117.8px,#c6d6f1 118.8px 120.5px,#dadce0 121.5px 123.3px,#e9d5cb 124.3px 126px,#f2cbb7 127px 128.8px,#f6bfa6 129.8px 131.5px,#f7b599 132.5px)"></i>
<i style="left:1342px;top:475px;width:13px;height:136px;background:linear-gradient(#f2c9b4 5.2px,#f1ccb8 6.2px 7.9px,#efcfbf 8.9px 10.7px,#e9d5cb 11.7px 13.4px,#e0dbd8 14.4px 16.2px,#d4dbe6 17.2px 18.9px,#c4d5f3 19.9px 21.6px,#afcafc 22.6px 24.4px,#98b9ff 25.4px 27.1px,#80a3fa 28.1px 29.9px,#6687ed 30.9px 32.6px,#4c66d6 33.6px 35.4px,#3e51c5 36.4px 38.1px,#5673e0 39.1px 40.9px,#6f92f3 41.9px 43.6px,#89acfd 44.6px 46.4px,#a2c1ff 47.4px 49.1px,#b7cff9 50.1px 51.9px,#cad8ef 52.9px 54.6px,#d8dce2 55.6px 57.4px,#e3d9d3 58.4px 60.1px,#ebd3c6 61.1px 62.8px,#f0cdbb 63.8px 65.6px,#f2cab5 66.6px 68.3px,#f2c9b4 69.3px 71.1px,#f2cab5 72.1px 73.8px,#f0cdbb 74.8px 76.6px,#ecd3c5 77.6px 79.3px,#e5d8d1 80.3px 82.1px,#dadce0 83.1px 84.8px,#ccd9ed 85.8px 87.6px,#bad0f8 88.6px 90.3px,#a5c3fe 91.3px 93.1px,#8db0fe 94.1px 95.8px,#7396f5 96.8px 98.6px,#5977e3 99.6px 101.3px,#4257c9 102.3px 104.1px,#4a63d3 105.1px 106.8px,#6384eb 107.8px 109.5px,#7da0f9 110.5px 112.3px,#96b7ff 113.3px 115px,#adc9fd 116px 117.8px,#c1d4f4 118.8px 120.5px,#d2dbe8 121.5px 123.3px,#dedcdb 124.3px 126px,#e8d6cc 127px 128.8px,#eed0c0 129.8px 131.5px,#f1ccb8 132.5px)"></i>
<i style="left:1355px;top:475px;width:1px;height:136px;background:linear-gradient(#e7d4ca 1.5px,#e6d4cb,#e4d5ce,#e0d6d5,#d9d7de,#cfd7e8,#c2d3f2,#b2caf9,#9fbefd,#89abfc,#7395f4,#5b7ae4,#455cce,#4359cb,#5977e3,#7093f3,#87aafc,#9dbdff,#b0cbfb,#c1d4f4,#ced9ea,#d8dae0,#dfd8d7,#e4d6cf,#e6d5cb,#e6d4cb,#e5d5cc,#e2d6d2,#ddd8d9,#d5d7e3,#c8d6ed,#bad0f6,#a9c5fc,#95b6fd,#7ea1f9,#6787ed,#506bda,#3f53c5,#4e69d8,#6586ec,#7c9ff9,#92b4fe,#a7c4fe,#b9d0f8,#c8d7ef,#d3dae6,#ddd9db,#e2d7d3,#e5d5cd 133.4px)"></i>
<i style="left:1356px;top:475px;width:12px;height:136px;background:linear-gradient(#dfdbd9 2.4px,#dedcdb 3.4px 5.2px,#dbdcde 6.2px 7.9px,#d5dbe5 8.9px 10.7px,#cdd9ec 11.7px 13.4px,#c3d5f4 14.4px 16.2px,#b6cefa 17.2px 18.9px,#a5c3fe 19.9px 21.6px,#93b5fe 22.6px 24.4px,#7ea1fa 25.4px 27.1px,#6a8bef 28.1px 29.9px,#5470de 30.9px 32.6px,#4055c8 33.6px 35.4px,#465ecf 36.4px 38.1px,#5b7ae5 39.1px 40.9px,#7093f3 41.9px 43.6px,#85a8fc 44.6px 46.4px,#9abbff 47.4px 49.1px,#abc8fd 50.1px 51.9px,#bbd1f8 52.9px 54.6px,#c7d7f0 55.6px 57.4px,#d1dae9 58.4px 60.1px,#d7dce3 61.1px 62.8px,#dcdddd 63.8px 65.6px,#dedcdb 66.6px 71.1px,#dcdddd 72.1px 73.8px,#d8dce2 74.8px 76.6px,#d2dbe8 77.6px 79.3px,#c9d7f0 80.3px 82.1px,#bcd2f7 83.1px 84.8px,#aec9fc 85.8px 87.6px,#9dbdff 88.6px 90.3px,#89acfd 91.3px 93.1px,#7396f5 94.1px 95.8px,#5e7de7 96.8px 98.6px,#4a63d3 99.6px 101.3px,#3d50c3 102.3px 104.1px,#516ddb 105.1px 106.8px,#6687ed 107.8px 109.5px,#7b9ff9 110.5px 112.3px,#90b2fe 113.3px 115px,#a2c1ff 116px 117.8px,#b3cdfb 118.8px 120.5px,#c1d4f4 121.5px 123.3px,#ccd9ed 124.3px 126px,#d5dbe5 127px 128.8px,#dadce0 129.8px 131.5px,#dddcdc 132.5px)"></i>
<i style="left:1368px;top:475px;width:1px;height:136px;background:linear-gradient(#d9dade 1.5px,#d8dae0,#d5dae3,#cfd9e9,#c7d6ef,#bed2f6,#b1cafb,#a0bffe,#8fb1fd,#7b9ef8,#6888ed,#526edc,#3f54c7,#465ecf,#5a79e4,#6e91f2,#82a5fb,#97b8ff,#a7c5fd,#b6cef9,#c2d4f2,#ccd8ec,#d2dae7,#d7dbe2,#d9dae0,#d9dae0,#d7dbe2,#d2dae6,#ccd8ec,#c3d4f2,#b7cef9,#a9c5fc,#98b9fe,#85a8fc,#7093f3,#5c7be5,#4961d2,#3d51c4,#516cdb,#6585ec,#799df8,#8daffd,#9ebeff,#afcafc,#bcd1f6,#c7d6f0,#d0d9e9,#d5dae4,#d8dae1 133.4px)"></i>
<i style="left:1369px;top:475px;width:13px;height:136px;background:linear-gradient(#c1d4f4 2.4px,#c0d4f5 3.4px 5.2px,#bcd2f7 6.2px 7.9px,#b7cff9 8.9px 10.7px,#afcafc 11.7px 13.4px,#a6c4fe 14.4px 16.2px,#9abbff 17.2px 18.9px,#8caffe 19.9px 21.6px,#7da0f9 22.6px 24.4px,#6c8ff1 25.4px 27.1px,#5d7ce6 28.1px 29.9px,#4c66d6 30.9px 32.6px,#3c4ec2 33.6px 35.4px,#485fd1 36.4px 38.1px,#5875e1 39.1px 40.9px,#6788ee 41.9px 43.6px,#779af7 44.6px 46.4px,#88abfd 47.4px 49.1px,#96b7ff 50.1px 51.9px,#a2c1ff 52.9px 54.6px,#adc9fd 55.6px 57.4px,#b5cdfa 58.4px 60.1px,#bbd1f8 61.1px 62.8px,#bfd3f6 63.8px 65.6px,#c1d4f4 66.6px 71.1px,#bfd3f6 72.1px 73.8px,#bad0f8 74.8px 76.6px,#b3cdfb 77.6px 79.3px,#abc8fd 80.3px 82.1px,#9fbfff 83.1px 84.8px,#93b5fe 85.8px 87.6px,#85a8fc 88.6px 90.3px,#7597f6 91.3px 93.1px,#6485ec 94.1px 95.8px,#5470de 96.8px 98.6px,#445acc 99.6px 101.3px,#3f53c6 102.3px 104.1px,#4f69d9 105.1px 106.8px,#5f7fe8 107.8px 109.5px,#6f92f3 110.5px 112.3px,#80a3fa 113.3px 115px,#8fb1fe 116px 117.8px,#9dbdff 118.8px 120.5px,#a7c5fe 121.5px 123.3px,#b1cbfc 124.3px 126px,#b9d0f9 127px 128.8px,#bed2f6 129.8px 131.5px,#c0d4f5 132.5px)"></i>
<i style="left:1382px;top:475px;width:1px;height:136px;background:linear-gradient(#a6c3fd 1.5px,#a6c3fd,#a4c2fd,#a0bffe,#9abafe,#92b4fe,#89acfd,#7fa2fa,#7396f4,#6687ed,#5a78e4,#4c66d6,#3f54c7,#4054c7,#4d67d6,#5a77e3,#6687ed,#7396f4,#7fa2f9,#89acfc,#93b4fe,#9abafd,#9fbefe,#a4c2fd,#a6c3fd,#a6c3fd,#a5c2fd,#a1c0fe,#9dbcfe,#97b8fe,#8eb0fd,#84a7fb,#799cf7,#6c8df0,#6080e9,#536edd,#465dce,#3c4dc1,#465dcf,#536fdd,#6181e9,#6d8ff1,#799cf7,#84a7fb,#8eb0fd,#96b6fe,#9dbcfe,#a2c1fd,#a5c3fd 133.4px)"></i>
<i style="left:1383px;top:475px;width:12px;height:136px;background:linear-gradient(#9fbfff 5.2px,#9ebeff 6.2px 7.9px,#9abbff 8.9px 10.7px,#94b6ff 11.7px 13.4px,#8db0fe 14.4px 16.2px,#85a8fc 17.2px 18.9px,#7b9ff9 19.9px 21.6px,#7093f3 22.6px 24.4px,#6485ec 25.4px 27.1px,#5977e3 28.1px 29.9px,#4c66d6 30.9px 32.6px,#4055c8 33.6px 35.4px,#3e51c5 36.4px 38.1px,#4a63d3 39.1px 40.9px,#5673e0 41.9px 43.6px,#6282ea 44.6px 46.4px,#6e90f2 47.4px 49.1px,#799cf8 50.1px 51.9px,#82a6fb 52.9px 54.6px,#8caffe 55.6px 57.4px,#93b5fe 58.4px 60.1px,#98b9ff 61.1px 62.8px,#9dbdff 63.8px 65.6px,#9fbfff 66.6px 71.1px,#9ebeff 72.1px 73.8px,#9bbcff 74.8px 76.6px,#97b8ff 77.6px 79.3px,#92b4fe 80.3px 82.1px,#89acfd 83.1px 84.8px,#80a3fa 85.8px 87.6px,#7699f6 88.6px 90.3px,#6a8bef 91.3px 93.1px,#5f7fe8 94.1px 95.8px,#536edd 96.8px 98.6px,#465ecf 99.6px 101.3px,#3b4cc0 102.3px 104.1px,#445acc 105.1px 106.8px,#506bda 107.8px 109.5px,#5d7ce6 110.5px 112.3px,#688aef 113.3px 115px,#7396f5 116px 117.8px,#7ea1fa 118.8px 120.5px,#88abfd 121.5px 123.3px,#8fb1fe 124.3px 126px,#96b7ff 127px 128.8px,#9bbcff 129.8px 131.5px,#9ebeff 132.5px)"></i>
<i style="left:1395px;top:475px;width:1px;height:136px;background:linear-gradient(#93b4fd 1.5px,#93b5fd,#93b4fd,#90b3fd,#8caffd,#87aafc,#80a3fa,#789bf7,#6f92f3,#6586ec,#5b7ae5,#506bda,#465dce,#4155c9,#455bcd,#4d66d6,#5874e0,#6281e8,#6c8df0,#7597f4,#7ea0f8,#85a7fa,#8aabfb,#8fb0fc,#92b3fd,#93b4fd,#93b4fd,#91b3fd,#8eb0fd,#8badfc,#83a7fb,#7c9ff8,#7497f5,#6a8bef,#6181e9,#5672e0,#4b64d5,#4155c8,#4359cb,#485fd0,#536edb,#5c7be5,#6787ec,#7192f2,#7a9cf6,#81a3f8,#88a9fb,#8daefc,#91b2fd 133.4px)"></i>
<i style="left:1396px;top:475px;width:13px;height:136px;background:linear-gradient(#80a3fa 2.4px,#82a6fb 3.4px 10.7px,#81a4fb 11.7px 13.4px,#7da0f9 14.4px 16.2px,#799cf8 17.2px 18.9px,#7396f5 19.9px 21.6px,#6e90f2 22.6px 24.4px,#6687ed 25.4px 27.1px,#5f7fe8 28.1px 29.9px,#5673e0 30.9px 32.6px,#4e68d8 33.6px 35.4px,#455cce 36.4px 38.1px,#3d50c3 39.1px 40.9px,#3f53c6 41.9px 43.6px,#485fd1 44.6px 46.4px,#506bda 47.4px 49.1px,#5977e3 50.1px 51.9px,#6180e9 52.9px 54.6px,#688aef 55.6px 57.4px,#6f92f3 58.4px 60.1px,#7597f6 61.1px 62.8px,#7a9df8 63.8px 65.6px,#7ea1fa 66.6px 68.3px,#81a4fb 69.3px 71.1px,#82a6fb 72.1px 76.6px,#81a4fb 77.6px 79.3px,#80a3fa 80.3px 82.1px,#7b9ff9 83.1px 84.8px,#7699f6 85.8px 87.6px,#7093f3 88.6px 90.3px,#6a8bef 91.3px 93.1px,#6384eb 94.1px 95.8px,#5a78e4 96.8px 98.6px,#536edd 99.6px 101.3px,#4a63d3 102.3px 104.1px,#4257c9 105.1px 106.8px,#3b4cc0 107.8px 109.5px,#4358cb 110.5px 112.3px,#4b64d5 113.3px 115px,#5470de 116px 117.8px,#5d7ce6 118.8px 120.5px,#6485ec 121.5px 123.3px,#6b8df0 124.3px 126px,#7295f4 127px 128.8px,#779af7 129.8px 131.5px,#7da0f9 132.5px)"></i>
<i style="left:1409px;top:475px;width:13px;height:136px;background:linear-gradient(#6687ed 2.4px,#6b8df0 3.4px 5.2px,#6f92f3 6.2px 7.9px,#7396f5 8.9px 10.7px,#7699f6 11.7px 13.4px,#779af7 14.4px 21.6px,#7597f6 22.6px 24.4px,#7295f4 25.4px 27.1px,#6e90f2 28.1px 29.9px,#6a8bef 30.9px 32.6px,#6485ec 33.6px 35.4px,#5e7de7 36.4px 38.1px,#5875e1 39.1px 40.9px,#506bda 41.9px 43.6px,#4961d2 44.6px 46.4px,#4257c9 47.4px 49.1px,#3b4cc0 50.1px 51.9px,#4055c8 52.9px 54.6px,#485fd1 55.6px 57.4px,#4f69d9 58.4px 60.1px,#5673e0 61.1px 62.8px,#5d7ce6 63.8px 65.6px,#6384eb 66.6px 68.3px,#688aef 69.3px 71.1px,#6e90f2 72.1px 73.8px,#7295f4 74.8px 76.6px,#7597f6 77.6px 79.3px,#779af7 80.3px 87.6px,#7699f6 88.6px 90.3px,#7396f5 91.3px 93.1px,#7093f3 94.1px 95.8px,#6c8ff1 96.8px 98.6px,#6788ee 99.6px 101.3px,#6180e9 102.3px 104.1px,#5a78e4 105.1px 106.8px,#5470de 107.8px 109.5px,#4c66d6 110.5px 112.3px,#455cce 113.3px 115px,#3e51c5 116px 117.8px,#3d50c3 118.8px 120.5px,#445acc 121.5px 123.3px,#4b64d5 124.3px 126px,#536edd 127px 128.8px,#5a78e4 129.8px 131.5px,#6180e9 132.5px)"></i>
<i style="left:1422px;top:475px;width:1px;height:136px;background:linear-gradient(#5c7ae5 1.5px,#6383eb,#6a8cf0,#7092f3,#7699f6,#799df8,#7da0f9,#7fa2fa,#7fa2fa,#7ea1f9,#7d9ff8,#7a9df7,#7699f5,#7192f2,#6b8bee,#6584ea,#5d7ae4,#5571dd,#4d66d5,#4a62d3,#475ed0,#455acd,#4860d0,#506ad9,#5876e1,#607fe8,#6788ed,#6e90f2,#7396f5,#789bf8,#7b9ef9,#7ea1f9,#7fa2fa,#7fa2f9,#7da0f8,#7c9ff8,#799bf6,#7495f3,#6e90f1,#6888ed,#617fe7,#5976e1,#516bd9,#4b63d3,#4860d1,#465cce,#4459cb,#4c65d5,#5470dd 133.4px)"></i>
<i style="left:1423px;top:475px;width:12px;height:136px;background:linear-gradient(#5572df 2.4px,#5e7de7 3.4px 5.2px,#6788ee 6.2px 7.9px,#6e90f2 8.9px 10.7px,#7699f6 11.7px 13.4px,#7b9ff9 14.4px 16.2px,#81a4fb 17.2px 18.9px,#84a7fc 19.9px 21.6px,#86a9fc 22.6px 29.9px,#85a8fc 30.9px 32.6px,#82a6fb 33.6px 35.4px,#7da0f9 36.4px 38.1px,#779af7 39.1px 40.9px,#7295f4 41.9px 43.6px,#6a8bef 44.6px 46.4px,#6282ea 47.4px 49.1px,#5977e3 50.1px 51.9px,#506bda 52.9px 54.6px,#465ecf 55.6px 57.4px,#3e51c5 58.4px 60.1px,#3f53c6 61.1px 62.8px,#485fd1 63.8px 65.6px,#516ddb 66.6px 68.3px,#5a78e4 69.3px 71.1px,#6282ea 72.1px 73.8px,#6b8df0 74.8px 76.6px,#7295f4 77.6px 79.3px,#799cf8 80.3px 82.1px,#7ea1fa 83.1px 84.8px,#82a6fb 85.8px 87.6px,#85a8fc 88.6px 90.3px,#86a9fc 91.3px 98.6px,#84a7fc 99.6px 101.3px,#80a3fa 102.3px 104.1px,#7b9ff9 105.1px 106.8px,#7597f6 107.8px 109.5px,#6e90f2 110.5px 112.3px,#6687ed 113.3px 115px,#5d7ce6 116px 117.8px,#5470de 118.8px 120.5px,#4b64d5 121.5px 123.3px,#4257c9 124.3px 126px,#3b4cc0 127px 128.8px,#4358cb 129.8px 131.5px,#4c66d6 132.5px)"></i>
<i style="left:1435px;top:475px;width:1px;height:136px;background:linear-gradient(#5470de 1.5px,#5d7ce6,#6788ee,#6f91f3,#789bf7,#7ea2fa,#85a8fc,#89abfd,#8baefd,#8caefc,#8daffc,#8caefc,#89acfc,#85a7fa,#7fa1f9,#799cf6,#7193f2,#698aee,#5f7ee7,#5672df,#4b65d4,#4257ca,#4055c8,#455bcd,#4f6ad9,#5976e3,#6282ea,#6c8ef0,#7497f5,#7c9ff9,#82a4fb,#86aafc,#8aacfd,#8caefd,#8daefc,#8daffc,#8badfc,#87aafb,#83a6fa,#7c9ef8,#7597f5,#6d8ff0,#6484ea,#5a77e2,#506bda,#475dce,#3e51c4,#4257ca,#4a63d3 133.4px)"></i>
<i style="left:1436px;top:475px;width:13px;height:136px;background:linear-gradient(#4e68d8 2.4px,#5a78e4 3.4px 5.2px,#6788ee 6.2px 7.9px,#7396f5 8.9px 10.7px,#80a3fa 11.7px 13.4px,#89acfd 14.4px 16.2px,#93b5fe 17.2px 18.9px,#9abbff 19.9px 21.6px,#9fbfff 22.6px 24.4px,#a3c2fe 25.4px 27.1px,#a6c4fe 28.1px 32.6px,#a5c3fe 33.6px 35.4px,#a1c0ff 36.4px 38.1px,#9bbcff 39.1px 40.9px,#94b6ff 41.9px 43.6px,#8caffe 44.6px 46.4px,#82a6fb 47.4px 49.1px,#779af7 50.1px 51.9px,#6b8df0 52.9px 54.6px,#5e7de7 55.6px 57.4px,#516ddb 58.4px 60.1px,#455cce 61.1px 62.8px,#3b4cc0 63.8px 65.6px,#485fd1 66.6px 68.3px,#5470de 69.3px 71.1px,#6180e9 72.1px 73.8px,#6e90f2 74.8px 76.6px,#7a9df8 77.6px 79.3px,#85a8fc 80.3px 82.1px,#8fb1fe 83.1px 84.8px,#97b8ff 85.8px 87.6px,#9dbdff 88.6px 90.3px,#a2c1ff 91.3px 93.1px,#a5c3fe 94.1px 95.8px,#a6c4fe 96.8px 98.6px,#a5c3fe 99.6px 101.3px,#a3c2fe 102.3px 104.1px,#9fbfff 105.1px 106.8px,#98b9ff 107.8px 109.5px,#90b2fe 110.5px 112.3px,#88abfd 113.3px 115px,#7da0f9 116px 117.8px,#7093f3 118.8px 120.5px,#6485ec 121.5px 123.3px,#5875e1 124.3px 126px,#4b64d5 127px 128.8px,#3e51c5 129.8px 131.5px,#4257c9 132.5px)"></i>
<i style="left:1449px;top:475px;width:1px;height:136px;background:linear-gradient(#4f69d9 1.5px,#607fe8,#7093f3,#7fa3fa,#8fb2fd,#9dbcff,#a8c5fd,#b1cafb,#b8cef8,#bed1f5,#c0d3f3,#c1d3f3,#c0d2f3,#bdd1f6,#b7cef8,#b0cafb,#a5c3fd,#9abafe,#8baefd,#7da0f9,#6d8ff1,#5c7ae5,#4c66d6,#3d4fc2,#465ecf,#5774e0,#6889ee,#789bf7,#88aafc,#96b7fe,#a3c1fe,#adc8fc,#b5cdf9,#bbd0f6,#bfd2f4,#c1d3f3,#c1d3f3,#bfd2f4,#bad0f7,#b4ccf9,#abc6fc,#a0bffe,#93b4fe,#84a7fb,#7598f6,#6484ec,#5470de,#445acc,#4054c7 133.4px)"></i>
<i style="left:1450px;top:475px;width:12px;height:136px;background:linear-gradient(#4f69d9 2.4px,#6180e9 3.4px 5.2px,#7295f4 6.2px 7.9px,#82a6fb 8.9px 10.7px,#93b5fe 11.7px 13.4px,#a1c0ff 14.4px 16.2px,#adc9fd 17.2px 18.9px,#b6cefa 19.9px 21.6px,#bed2f6 22.6px 24.4px,#c4d5f3 25.4px 27.1px,#c6d6f1 28.1px 29.9px,#c7d7f0 30.9px 32.6px,#c6d6f1 33.6px 35.4px,#c3d5f4 36.4px 38.1px,#bed2f6 39.1px 40.9px,#b6cefa 41.9px 43.6px,#abc8fd 44.6px 46.4px,#9fbfff 47.4px 49.1px,#90b2fe 50.1px 51.9px,#81a4fb 52.9px 54.6px,#7093f3 55.6px 57.4px,#5e7de7 58.4px 60.1px,#4e68d8 61.1px 62.8px,#3d50c3 63.8px 65.6px,#465ecf 66.6px 68.3px,#5875e1 69.3px 71.1px,#6a8bef 72.1px 73.8px,#7a9df8 74.8px 76.6px,#8badfd 77.6px 79.3px,#9abbff 80.3px 82.1px,#a7c5fe 83.1px 84.8px,#b2ccfb 85.8px 87.6px,#bbd1f8 88.6px 90.3px,#c1d4f4 91.3px 93.1px,#c5d6f2 94.1px 95.8px,#c7d7f0 96.8px 101.3px,#c5d6f2 102.3px 104.1px,#c0d4f5 105.1px 106.8px,#bad0f8 107.8px 109.5px,#b1cbfc 110.5px 112.3px,#a6c4fe 113.3px 115px,#98b9ff 116px 117.8px,#89acfd 118.8px 120.5px,#799cf8 121.5px 123.3px,#6788ee 124.3px 126px,#5673e0 127px 128.8px,#455cce 129.8px 131.5px,#3f53c6 132.5px)"></i>
<i style="left:1462px;top:475px;width:1px;height:136px;background:linear-gradient(#546fde 1.5px,#6788ed,#7a9df7,#8caffd,#9ebdfd,#adc8fb,#bacff7,#c3d3f1,#cbd7ec,#d0d8e8,#d2d7e4,#d3d8e4,#d2d8e5,#ced8ea,#c8d6ee,#c0d3f4,#b5cdf9,#a8c5fd,#98b8fe,#87a9fc,#7497f5,#6080e9,#4e68d8,#3c4ec2,#4a63d4,#5e7de6,#7193f3,#83a6fb,#96b6fd,#a6c3fd,#b4ccf9,#bed2f4,#c7d6ef,#cdd7ea,#d1d8e6,#d3d8e4,#d3d8e4,#d0d8e7,#cbd7eb,#c5d5f0,#bbd0f7,#afcafb,#a0bffe,#8fb1fe,#7ea1fa,#6a8bf0,#5774e0,#445acd,#4257c9 133.4px)"></i>
<i style="left:1463px;top:475px;width:13px;height:136px;background:linear-gradient(#5a78e4 2.4px,#7093f3 3.4px 5.2px,#86a9fc 6.2px 7.9px,#9bbcff 8.9px 10.7px,#aec9fc 11.7px 13.4px,#bed2f6 14.4px 16.2px,#cbd8ee 17.2px 18.9px,#d5dbe5 19.9px 21.6px,#dcdddd 22.6px 24.4px,#e0dbd8 25.4px 27.1px,#e3d9d3 28.1px 32.6px,#e2dad5 33.6px 35.4px,#dedcdb 36.4px 38.1px,#d7dce3 39.1px 40.9px,#cedaeb 41.9px 43.6px,#c3d5f4 44.6px 46.4px,#b5cdfa 47.4px 49.1px,#a2c1ff 50.1px 51.9px,#8fb1fe 52.9px 54.6px,#799cf8 55.6px 57.4px,#6384eb 58.4px 60.1px,#4e68d8 61.1px 62.8px,#3b4cc0 63.8px 65.6px,#506bda 66.6px 68.3px,#6687ed 69.3px 71.1px,#7b9ff9 72.1px 73.8px,#90b2fe 74.8px 76.6px,#a5c3fe 77.6px 79.3px,#b6cefa 80.3px 82.1px,#c5d6f2 83.1px 84.8px,#cfdaea 85.8px 87.6px,#d8dce2 88.6px 90.3px,#dedcdb 91.3px 93.1px,#e2dad5 94.1px 95.8px,#e3d9d3 96.8px 101.3px,#e0dbd8 102.3px 104.1px,#dbdcde 105.1px 106.8px,#d4dbe6 107.8px 109.5px,#cad8ef 110.5px 112.3px,#bcd2f7 113.3px 115px,#abc8fd 116px 117.8px,#98b9ff 118.8px 120.5px,#84a7fc 121.5px 123.3px,#6e90f2 124.3px 126px,#5875e1 127px 128.8px,#4358cb 129.8px 131.5px,#455cce 132.5px)"></i>
<i style="left:1476px;top:475px;width:13px;height:136px;background:linear-gradient(#6f92f3 2.4px,#89acfd 3.4px 5.2px,#a3c2fe 6.2px 7.9px,#bad0f8 8.9px 10.7px,#ccd9ed 11.7px 13.4px,#dbdcde 14.4px 16.2px,#e6d7cf 17.2px 18.9px,#eed0c0 19.9px 21.6px,#f2cab5 22.6px 24.4px,#f4c6af 25.4px 27.1px,#f5c4ac 28.1px 29.9px,#f4c5ad 30.9px 32.6px,#f2c9b4 33.6px 35.4px,#efcebd 36.4px 38.1px,#ead5c9 39.1px 40.9px,#dfdbd9 41.9px 43.6px,#d2dbe8 44.6px 46.4px,#c0d4f5 47.4px 49.1px,#aac7fd 50.1px 51.9px,#92b4fe 52.9px 54.6px,#779af7 55.6px 57.4px,#5d7ce6 58.4px 60.1px,#445acc 61.1px 62.8px,#485fd1 63.8px 65.6px,#6282ea 66.6px 68.3px,#7da0f9 69.3px 71.1px,#97b8ff 72.1px 73.8px,#aec9fc 74.8px 76.6px,#c4d5f3 77.6px 79.3px,#d4dbe6 80.3px 82.1px,#e1dad6 83.1px 84.8px,#ead4c8 85.8px 87.6px,#f0cdbb 88.6px 90.3px,#f3c8b2 91.3px 93.1px,#f4c5ad 94.1px 95.8px,#f5c4ac 96.8px 98.6px,#f3c7b1 99.6px 101.3px,#f2cbb7 102.3px 104.1px,#edd2c3 105.1px 106.8px,#e5d8d1 107.8px 109.5px,#d9dce1 110.5px 112.3px,#cad8ef 113.3px 115px,#b6cefa 116px 117.8px,#9ebeff 118.8px 120.5px,#85a8fc 121.5px 123.3px,#6a8bef 124.3px 126px,#506bda 127px 128.8px,#3c4ec2 129.8px 131.5px,#5572df 132.5px)"></i>
<i style="left:1489px;top:475px;width:1px;height:136px;background:linear-gradient(#81a4fa 1.5px,#9ebdfd,#b8cef7,#cdd8ea,#ded6d8,#e9d1c4,#f0c7b4,#f4bea6,#f5b69b,#f6b297,#f6b195,#f6b498,#f5bba1,#f3c4ad,#efcfbe,#e5d8d1,#d5dce5,#c2d5f4,#a9c6fd,#8eb0fd,#7093f3,#546fdd,#4358ca,#5672df,#7395f3,#90b2fd,#abc6fb,#c2d4f1,#d6d8e1,#e4d4ce,#eeccbc,#f2c2ac,#f4baa1,#f6b498,#f6b296,#f6b397,#f6b89d,#f5c0a7,#f1cab5,#ead4c8,#dddbdb,#ccd9ed,#b6cefa,#9bbcff,#7fa2fa,#6282e9,#465dcf,#485fd0,#6585eb 133.4px)"></i>
<i style="left:1490px;top:475px;width:12px;height:136px;background:linear-gradient(#8caffe 2.4px,#aac7fd 3.4px 5.2px,#c4d5f3 6.2px 7.9px,#d8dce2 8.9px 10.7px,#e9d5cb 11.7px 13.4px,#f2cab5 14.4px 16.2px,#f6bea4 17.2px 18.9px,#f7b396 19.9px 21.6px,#f7aa8c 22.6px 24.4px,#f7a688 25.4px 29.9px,#f7aa8c 30.9px 32.6px,#f7b396 33.6px 35.4px,#f6bea4 36.4px 38.1px,#f2cbb7 39.1px 40.9px,#e8d6cc 41.9px 43.6px,#d7dce3 44.6px 46.4px,#c3d5f4 47.4px 49.1px,#a9c6fd 50.1px 51.9px,#8badfd 52.9px 54.6px,#6c8ff1 55.6px 57.4px,#4e68d8 58.4px 60.1px,#4257c9 61.1px 62.8px,#5e7de7 63.8px 65.6px,#7da0f9 66.6px 68.3px,#9bbcff 69.3px 71.1px,#b7cff9 72.1px 73.8px,#cedaeb 74.8px 76.6px,#e1dad6 77.6px 79.3px,#eed0c0 80.3px 82.1px,#f5c4ac 83.1px 84.8px,#f7b89c 85.8px 87.6px,#f7af91 88.6px 90.3px,#f7a889 91.3px 93.1px,#f7a688 94.1px 95.8px,#f7a98b 96.8px 98.6px,#f7af91 99.6px 101.3px,#f7b99e 102.3px 104.1px,#f4c5ad 105.1px 106.8px,#edd1c2 107.8px 109.5px,#e0dbd8 110.5px 112.3px,#cdd9ec 113.3px 115px,#b6cefa 116px 117.8px,#9abbff 118.8px 120.5px,#7b9ff9 121.5px 123.3px,#5d7ce6 124.3px 126px,#4055c8 127px 128.8px,#4f69d9 129.8px 131.5px,#6e90f2 132.5px)"></i>
<i style="left:1502px;top:475px;width:1px;height:136px;background:linear-gradient(#94b5fe 1.5px,#b2cbf9,#cbd6ec,#ded8d8,#eccfc1,#f3c2ab,#f6b59a,#f6aa8d,#f5a284,#f59e81,#f5a082,#f6a587,#f7af92,#f6bca1,#f2cab5,#e8d6cc,#d7dce3,#c1d4f5,#a6c4fd,#87a9fc,#6789ed,#4a62d3,#485fcf,#6585eb,#85a7fa,#a3c1fd,#bfd2f4,#d5d8e2,#e6d5cc,#f0c9b6,#f5bca2,#f6af93,#f5a688,#f5a081,#f59f81,#f6a385,#f6aa8c,#f7b69a,#f4c3aa,#eed0c0,#e0dbd8,#ccd9ed,#b4cdfb,#97b8ff,#779af7,#5875e1,#4358cb,#5672df,#7698f5 133.4px)"></i>
<i style="left:1503px;top:475px;width:13px;height:136px;background:linear-gradient(#afcafc 2.4px,#ccd9ed 3.4px 5.2px,#e2dad5 6.2px 7.9px,#f1ccb8 8.9px 10.7px,#f7ba9f 11.7px 13.4px,#f7a98b 14.4px 16.2px,#f4987a 17.2px 18.9px,#f18d6f 19.9px 21.6px,#ee8669 22.6px 24.4px,#ee8468 25.4px 27.1px,#f08a6c 28.1px 29.9px,#f39475 30.9px 32.6px,#f6a283 33.6px 35.4px,#f7b497 36.4px 38.1px,#f4c6af 39.1px 40.9px,#e9d5cb 41.9px 43.6px,#d5dbe5 44.6px 46.4px,#bbd1f8 47.4px 49.1px,#9dbdff 50.1px 51.9px,#7a9df8 52.9px 54.6px,#5875e1 55.6px 57.4px,#3c4ec2 58.4px 60.1px,#5b7ae5 61.1px 62.8px,#7ea1fa 63.8px 65.6px,#9fbfff 66.6px 68.3px,#bfd3f6 69.3px 71.1px,#d8dce2 72.1px 73.8px,#ebd3c6 74.8px 76.6px,#f5c4ac 77.6px 79.3px,#f7b194 80.3px 82.1px,#f5a081 83.1px 84.8px,#f29274 85.8px 87.6px,#f08a6c 88.6px 90.3px,#ee8468 91.3px 93.1px,#ee8669 94.1px 95.8px,#f18f71 96.8px 98.6px,#f49a7b 99.6px 101.3px,#f7aa8c 102.3px 104.1px,#f6bda2 105.1px 106.8px,#f0cdbb 107.8px 109.5px,#e0dbd8 110.5px 112.3px,#cad8ef 113.3px 115px,#adc9fd 116px 117.8px,#8badfd 118.8px 120.5px,#688aef 121.5px 123.3px,#485fd1 124.3px 126px,#4b64d5 127px 128.8px,#6c8ff1 129.8px 131.5px,#8fb1fe 132.5px)"></i>
<i style="left:1516px;top:475px;width:1px;height:136px;background:linear-gradient(#cdd8ea 1.5px,#e5d6cf,#f2c5b0,#f6b093,#f49a7c,#ee866a,#e7775e,#e46d56,#e26a53,#e46d56,#e8785e,#ef886b,#f49b7c,#f7b194,#f3c8b2,#e4d8d2,#cdd8ed,#adc9fc,#89abfc,#6384eb,#4156c8,#5470de,#789bf7,#9dbdfd,#bfd2f4,#dadade,#edcfbf,#f5bca2,#f5a587,#f19073,#eb7f63,#e57159,#e36b54,#e26a53,#e67259,#eb7e63,#f29273,#f7a789,#f6bea4,#edd1c2,#d9dce0,#bdd2f7,#9bbcff,#7699f5,#526edc,#485fd1,#6686ec,#8caefc,#afc8fb 133.4px)"></i>
<i style="left:1517px;top:475px;width:12px;height:136px;background:linear-gradient(#d3dbe7 2.4px,#ead5c9 3.4px 5.2px,#f5c1a9 6.2px 7.9px,#f7aa8c 8.9px 10.7px,#f39475 11.7px 13.4px,#ec7f63 14.4px 16.2px,#e57058 17.2px 18.9px,#e16751 19.9px 21.6px,#e0654f 22.6px 24.4px,#e26952 25.4px 27.1px,#e7745b 28.1px 29.9px,#ee8669 30.9px 32.6px,#f49a7b 33.6px 35.4px,#f7b194 36.4px 38.1px,#f3c8b2 39.1px 40.9px,#e3d9d3 41.9px 43.6px,#cbd8ee 44.6px 46.4px,#aac7fd 47.4px 49.1px,#85a8fc 50.1px 51.9px,#5f7fe8 52.9px 54.6px,#3d50c3 55.6px 57.4px,#5977e3 58.4px 60.1px,#7ea1fa 61.1px 62.8px,#a3c2fe 63.8px 65.6px,#c5d6f2 66.6px 68.3px,#dfdbd9 69.3px 71.1px,#f1ccb8 72.1px 73.8px,#f7b79b 74.8px 76.6px,#f59f80 77.6px 79.3px,#f08a6c 80.3px 82.1px,#e9785d 83.1px 84.8px,#e36b54 85.8px 87.6px,#e0654f 88.6px 93.1px,#e46e56 94.1px 95.8px,#ea7b60 96.8px 98.6px,#f29072 99.6px 101.3px,#f7a688 102.3px 104.1px,#f6bea4 105.1px 106.8px,#edd2c3 107.8px 109.5px,#d8dce2 110.5px 112.3px,#bbd1f8 113.3px 115px,#98b9ff 116px 117.8px,#7295f4 118.8px 120.5px,#4e68d8 121.5px 123.3px,#485fd1 124.3px 126px,#6b8df0 127px 128.8px,#92b4fe 129.8px 131.5px,#b5cdfa 132.5px)"></i>
<i style="left:1529px;top:475px;width:1px;height:136px;background:linear-gradient(#dfd6d5 1.5px,#f0c8b5,#f5b196,#f2987b,#ec8166,#e36d56,#dc5f4d,#d95848,#da5a48,#de624d,#e57058,#ee8569,#f49c7d,#f7b599,#f0ccb9,#dddadb,#c2d4f3,#9ebdfd,#789af6,#516dda,#485fd0,#6989ed,#90b0fc,#b4ccf7,#d3d7e3,#e8d1c6,#f4bda5,#f4a589,#ef8c70,#e8775d,#e06651,#db5b4a,#d95847,#db5c49,#e16852,#e9795e,#f29072,#f7a98c,#f5c2aa,#e8d6cb,#d0d9e9,#b0cafb,#8badfc,#6484ea,#4a62d3,#5772de,#7d9ff6,#a3c0fc,#c4d4ef 133.4px)"></i>
<i style="left:1530px;top:475px;width:13px;height:136px;background:linear-gradient(#efcfbf 2.4px,#f7b89c 3.4px 5.2px,#f59c7d 6.2px 7.9px,#ec8165 8.9px 10.7px,#e26952 11.7px 13.4px,#d85646 14.4px 16.2px,#d1493f 17.2px 18.9px,#cf453c 19.9px 21.6px,#d24b40 22.6px 24.4px,#d95847 25.4px 27.1px,#e36b54 28.1px 29.9px,#ee8468 30.9px 32.6px,#f59f80 33.6px 35.4px,#f7ba9f 36.4px 38.1px,#edd2c3 39.1px 40.9px,#d5dbe5 41.9px 43.6px,#b6cefa 44.6px 46.4px,#8fb1fe 47.4px 49.1px,#6788ee 50.1px 51.9px,#4055c8 52.9px 54.6px,#5673e0 55.6px 57.4px,#7ea1fa 58.4px 60.1px,#a6c4fe 61.1px 62.8px,#cad8ef 63.8px 65.6px,#e5d8d1 66.6px 68.3px,#f4c5ad 69.3px 71.1px,#f7aa8c 72.1px 73.8px,#f18f71 74.8px 76.6px,#e7745b 77.6px 79.3px,#dd5f4b 80.3px 82.1px,#d44e41 83.1px 84.8px,#d0473d 85.8px 90.3px,#d55042 91.3px 93.1px,#de614d 94.1px 95.8px,#e8765c 96.8px 98.6px,#f29072 99.6px 101.3px,#f7ad90 102.3px 104.1px,#f3c7b1 105.1px 106.8px,#e2dad5 107.8px 109.5px,#c6d6f1 110.5px 112.3px,#a2c1ff 113.3px 115px,#7a9df8 116px 117.8px,#536edd 118.8px 120.5px,#445acc 121.5px 123.3px,#6a8bef 124.3px 126px,#93b5fe 127px 128.8px,#b9d0f9 129.8px 131.5px,#d8dce2 132.5px)"></i>
<i style="left:1543px;top:475px;width:13px;height:136px;background:linear-gradient(#f7b093 2.4px,#f29072 3.4px 5.2px,#e67259 6.2px 7.9px,#d85646 8.9px 10.7px,#cc403a 11.7px 13.4px,#c43032 14.4px 16.2px,#c12b30 17.2px 18.9px,#c43032 19.9px 21.6px,#cc403a 22.6px 24.4px,#d85646 25.4px 27.1px,#e57058 28.1px 29.9px,#f18f71 30.9px 32.6px,#f7af91 33.6px 35.4px,#f2cab5 36.4px 38.1px,#dddcdc 39.1px 40.9px,#bed2f6 41.9px 43.6px,#96b7ff 44.6px 46.4px,#6b8df0 47.4px 49.1px,#445acc 50.1px 51.9px,#5572df 52.9px 54.6px,#80a3fa 55.6px 57.4px,#a9c6fd 58.4px 60.1px,#cdd9ec 61.1px 62.8px,#e9d5cb 63.8px 65.6px,#f6bea4 66.6px 68.3px,#f5a081 69.3px 71.1px,#ec8165 72.1px 73.8px,#e0654f 74.8px 76.6px,#d24b40 77.6px 79.3px,#c83836 80.3px 82.1px,#c12b30 83.1px 87.6px,#c73635 88.6px 90.3px,#d1493f 91.3px 93.1px,#df634e 94.1px 95.8px,#ec7f63 96.8px 98.6px,#f59f80 99.6px 101.3px,#f6bda2 102.3px 104.1px,#ead5c9 105.1px 106.8px,#cedaeb 107.8px 109.5px,#aac7fd 110.5px 112.3px,#81a4fb 113.3px 115px,#5875e1 116px 117.8px,#4257c9 118.8px 120.5px,#6a8bef 121.5px 123.3px,#94b6ff 124.3px 126px,#bcd2f7 127px 128.8px,#dcdddd 129.8px 131.5px,#f2cbb7 132.5px)"></i>
<i style="left:1556px;top:475px;width:1px;height:136px;background:linear-gradient(#f2977a 1.5px,#e8775d,#d95949,#cb3d39,#c12831,#bc192c,#bc1d2d,#c32f31,#cf453c,#dd604c,#eb7d62,#f59e80,#f5bda3,#e7d4ca,#ccd7ec,#a7c3fc,#7d9ff7,#526dda,#4f6ad8,#7192f1,#9bbafc,#c2d3f1,#e0d5d3,#f2c3ae,#f5a789,#ed866a,#e06652,#d24c40,#c53234,#be1f2e,#bb1b2c,#be232e,#c83736,#d55043,#e46e56,#f18d70,#f6af92,#f0cab7,#dbd9dc,#bad0f6,#92b3fc,#6887ec,#4860d1,#5c79e2,#85a7f9,#afc8f9,#d2d8e5,#ebcfc1,#f5b69b 133.4px)"></i>
<i style="left:1557px;top:475px;width:12px;height:136px;background:linear-gradient(#f08a6c 2.4px,#e26952 3.4px 5.2px,#d24b40 6.2px 7.9px,#c43032 8.9px 10.7px,#bb1b2c 11.7px 13.4px,#b70d28 14.4px 16.2px,#ba162b 17.2px 18.9px,#c32e31 19.9px 21.6px,#d0473d 22.6px 24.4px,#e0654f 25.4px 27.1px,#ee8468 28.1px 29.9px,#f7a688 30.9px 32.6px,#f4c5ad 33.6px 35.4px,#e1dad6 36.4px 38.1px,#c3d5f4 39.1px 40.9px,#9abbff 41.9px 43.6px,#6f92f3 44.6px 46.4px,#455cce 47.4px 49.1px,#5572df 50.1px 51.9px,#80a3fa 52.9px 54.6px,#aac7fd 55.6px 57.4px,#cfdaea 58.4px 60.1px,#ebd3c6 61.1px 62.8px,#f7ba9f 63.8px 65.6px,#f49a7b 66.6px 68.3px,#e9785d 69.3px 71.1px,#d95847 72.1px 73.8px,#cb3e38 74.8px 76.6px,#be242e 77.6px 79.3px,#b8122a 80.3px 84.8px,#bd1f2d 85.8px 87.6px,#c83836 88.6px 90.3px,#d75445 91.3px 93.1px,#e7745b 94.1px 95.8px,#f39577 96.8px 98.6px,#f7b79b 99.6px 101.3px,#edd1c2 102.3px 104.1px,#d3dbe7 105.1px 106.8px,#afcafc 107.8px 109.5px,#85a8fc 110.5px 112.3px,#5a78e4 113.3px 115px,#4055c8 116px 117.8px,#6a8bef 118.8px 120.5px,#94b6ff 121.5px 123.3px,#bed2f6 124.3px 126px,#dedcdb 127px 128.8px,#f3c8b2 129.8px 131.5px,#f7aa8c 132.5px)"></i>
<i style="left:1569px;top:475px;width:1px;height:136px;background:linear-gradient(#ec8165 1.5px,#dd604c,#ce433c,#c1272f,#b9152a,#b60c28,#bb1a2c,#c53333,#d34d41,#e36c55,#f08c6f,#f6ad91,#f0cab7,#dad9dd,#b9cff7,#8fb1fc,#6585ea,#4961d2,#607ee6,#8bacfb,#b3ccf8,#d6d8e1,#eeccbb,#f6b195,#f19073,#e46f57,#d44f42,#c73535,#bb1c2c,#b70e29,#b9132a,#bf242f,#cb3e39,#db5b4a,#ea7c61,#f49d7f,#f5bda4,#e7d4cb,#cad7ec,#a5c2fc,#7a9cf6,#536fdd,#4b63d2,#7596f3,#9fbdfd,#c6d4ef,#e3d7d0,#f4c0a8,#f5a183 133.4px)"></i>
<i style="left:1570px;top:475px;width:13px;height:136px;background:linear-gradient(#e0654f 2.4px,#cf453c 3.4px 5.2px,#c12b30 6.2px 7.9px,#b70d28 8.9px 10.7px,#b40426 11.7px 13.4px,#b50927 14.4px 16.2px,#be242e 17.2px 18.9px,#cc403a 19.9px 21.6px,#dd5f4b 22.6px 24.4px,#ec8165 25.4px 27.1px,#f6a385 28.1px 29.9px,#f5c2aa 30.9px 32.6px,#e3d9d3 33.6px 35.4px,#c4d5f3 36.4px 38.1px,#9dbdff 39.1px 40.9px,#7093f3 41.9px 43.6px,#465ecf 44.6px 46.4px,#5470de 47.4px 49.1px,#80a3fa 50.1px 51.9px,#aac7fd 52.9px 54.6px,#cfdaea 55.6px 57.4px,#ecd3c5 58.4px 60.1px,#f7b89c 61.1px 62.8px,#f39778 63.8px 65.6px,#e7745b 66.6px 68.3px,#d75445 69.3px 71.1px,#c73635 72.1px 73.8px,#bb1b2c 74.8px 76.6px,#b40426 77.6px 82.1px,#ba162b 83.1px 84.8px,#c53334 85.8px 87.6px,#d55042 88.6px 90.3px,#e57058 91.3px 93.1px,#f29274 94.1px 95.8px,#f7b497 96.8px 98.6px,#efcfbf 99.6px 101.3px,#d5dbe5 102.3px 104.1px,#b1cbfc 105.1px 106.8px,#86a9fc 107.8px 109.5px,#5a78e4 110.5px 112.3px,#4055c8 113.3px 115px,#6a8bef 116px 117.8px,#96b7ff 118.8px 120.5px,#bfd3f6 121.5px 123.3px,#dfdbd9 124.3px 126px,#f3c7b1 127px 128.8px,#f7a98b 129.8px 131.5px,#ee8669 132.5px)"></i>
<i style="left:1583px;top:475px;width:1px;height:136px;background:linear-gradient(#d24b40 1.5px,#c53133,#b9162b,#b50a27,#b71029,#bf262f,#cd403a,#dc5e4b,#eb7e62,#f5a081,#f5bfa6,#e5d7cf,#c8d6ef,#a1c0fd,#7698f5,#4c66d4,#526ddc,#7a9cf6,#a4c2fd,#cad7ed,#e7d4cb,#f5bda4,#f49d7f,#ea7b60,#da5a49,#cc3f39,#be222e,#b80f29,#b50827,#ba182b,#c53134,#d44e42,#e46d56,#f18f71,#f6b094,#efccba,#d8d9e0,#b4ccf9,#8badfc,#607fe7,#445acc,#6483e9,#90b1fd,#b8cef7,#dadbdf,#f0cbb8,#f6ad90,#f08d70,#e36b54 133.4px)"></i>
<i style="left:1584px;top:475px;width:12px;height:136px;background:linear-gradient(#d0473d 2.4px,#c32e31 3.4px 5.2px,#b8122a 6.2px 7.9px,#b50927 8.9px 10.7px,#b8122a 11.7px 13.4px,#c12b30 14.4px 16.2px,#cf453c 17.2px 18.9px,#df634e 19.9px 21.6px,#ed8366 22.6px 24.4px,#f6a586 25.4px 27.1px,#f5c4ac 28.1px 29.9px,#e2dad5 30.9px 32.6px,#c3d5f4 33.6px 35.4px,#9bbcff 36.4px 38.1px,#6f92f3 39.1px 40.9px,#465ecf 41.9px 43.6px,#5470de 44.6px 46.4px,#80a3fa 47.4px 49.1px,#aac7fd 50.1px 51.9px,#cfdaea 52.9px 54.6px,#ebd3c6 55.6px 57.4px,#f7b99e 58.4px 60.1px,#f4987a 61.1px 62.8px,#e8765c 63.8px 65.6px,#d85646 66.6px 68.3px,#ca3b37 69.3px 71.1px,#bd1f2d 72.1px 73.8px,#b70d28 74.8px 76.6px,#b50927 77.6px 79.3px,#bb1b2c 80.3px 82.1px,#c73635 83.1px 84.8px,#d65244 85.8px 87.6px,#e67259 88.6px 90.3px,#f39475 91.3px 93.1px,#f7b599 94.1px 95.8px,#eed0c0 96.8px 98.6px,#d4dbe6 99.6px 101.3px,#afcafc 102.3px 104.1px,#85a8fc 105.1px 106.8px,#5a78e4 107.8px 109.5px,#4055c8 110.5px 112.3px,#6a8bef 113.3px 115px,#96b7ff 116px 117.8px,#bed2f6 118.8px 120.5px,#dedcdb 121.5px 123.3px,#f3c8b2 124.3px 126px,#f7a98b 127px 128.8px,#ef886b 129.8px 131.5px,#e16751 132.5px)"></i>
<i style="left:1596px;top:475px;width:1px;height:136px;background:linear-gradient(#cd413a 1.5px,#c22d31,#ba182b,#ba172b,#bf2430,#ca3c38,#d85748,#e7755d,#f29678,#f5b59a,#ebcfc1,#d2d7e4,#afc8f9,#85a7f9,#5b78e1,#4d67d6,#6888eb,#93b3fb,#bbd0f5,#dbd8db,#f0c9b5,#f6ad90,#f08c6f,#e36c55,#d44e41,#c73635,#bd212d,#ba182b,#bc1b2c,#c42e33,#d1493f,#df6551,#ed856a,#f5a688,#f1c3ae,#e1d5d3,#c1d2f1,#9ab9fc,#7090f0,#4f69d8,#536eda,#7d9ff6,#a8c3fb,#ccd7ea,#e7d4c9,#f5bca2,#f49d7f,#ea7c61,#dc5d4b 133.4px)"></i>
<i style="left:1597px;top:475px;width:13px;height:136px;background:linear-gradient(#ca3b37 2.4px,#c12b30 3.4px 5.2px,#bd1f2d 6.2px 7.9px,#c0282f 8.9px 10.7px,#c83836 11.7px 13.4px,#d55042 14.4px 16.2px,#e36c55 17.2px 18.9px,#f08b6e 19.9px 21.6px,#f7ac8e 22.6px 24.4px,#f3c8b2 25.4px 27.1px,#dfdbd9 28.1px 29.9px,#bfd3f6 30.9px 32.6px,#97b8ff 33.6px 35.4px,#6c8ff1 36.4px 38.1px,#445acc 39.1px 40.9px,#5572df 41.9px 43.6px,#80a3fa 44.6px 46.4px,#a9c6fd 47.4px 49.1px,#cedaeb 50.1px 51.9px,#ead5c9 52.9px 54.6px,#f6bda2 55.6px 57.4px,#f59f80 58.4px 60.1px,#eb7d62 61.1px 62.8px,#de614d 63.8px 65.6px,#cf453c 66.6px 68.3px,#c43032 69.3px 71.1px,#be242e 72.1px 76.6px,#c43032 77.6px 79.3px,#cf453c 80.3px 82.1px,#dd5f4b 83.1px 84.8px,#ea7b60 85.8px 87.6px,#f59c7d 88.6px 90.3px,#f7ba9f 91.3px 93.1px,#ebd3c6 94.1px 95.8px,#d1dae9 96.8px 98.6px,#abc8fd 99.6px 101.3px,#82a6fb 102.3px 104.1px,#5875e1 105.1px 106.8px,#4257c9 107.8px 109.5px,#6a8bef 110.5px 112.3px,#94b6ff 113.3px 115px,#bcd2f7 116px 117.8px,#dcdddd 118.8px 120.5px,#f2cab5 121.5px 123.3px,#f7ad90 124.3px 126px,#f18f71 127px 128.8px,#e46e56 129.8px 131.5px,#d65244 132.5px)"></i>
<i style="left:1610px;top:475px;width:13px;height:136px;background:linear-gradient(#cd423b 2.4px,#cb3e38 3.4px 5.2px,#cd423b 6.2px 7.9px,#d55042 8.9px 10.7px,#e0654f 11.7px 13.4px,#eb7d62 14.4px 16.2px,#f49a7b 17.2px 18.9px,#f7b79b 19.9px 21.6px,#efcfbf 22.6px 24.4px,#d8dce2 25.4px 27.1px,#b9d0f9 28.1px 29.9px,#92b4fe 30.9px 32.6px,#688aef 33.6px 35.4px,#4257c9 36.4px 38.1px,#5673e0 39.1px 40.9px,#7ea1fa 41.9px 43.6px,#a7c5fe 44.6px 46.4px,#cbd8ee 47.4px 49.1px,#e6d7cf 50.1px 51.9px,#f5c2aa 52.9px 54.6px,#f7a889 55.6px 57.4px,#f08a6c 58.4px 60.1px,#e46e56 61.1px 62.8px,#d95847 63.8px 65.6px,#d0473d 66.6px 68.3px,#cb3e38 69.3px 73.8px,#d0473d 74.8px 76.6px,#d95847 77.6px 79.3px,#e57058 80.3px 82.1px,#f08b6e 83.1px 84.8px,#f7a889 85.8px 87.6px,#f5c4ac 88.6px 90.3px,#e5d8d1 91.3px 93.1px,#cad8ef 94.1px 95.8px,#a5c3fe 96.8px 98.6px,#7da0f9 99.6px 101.3px,#5572df 102.3px 104.1px,#445acc 105.1px 106.8px,#6a8bef 107.8px 109.5px,#93b5fe 110.5px 112.3px,#bad0f8 113.3px 115px,#d9dce1 116px 117.8px,#efcebd 118.8px 120.5px,#f7b599 121.5px 123.3px,#f4987a 124.3px 126px,#ea7b60 127px 128.8px,#df634e 129.8px 131.5px,#d44e41 132.5px)"></i>
<i style="left:1623px;top:475px;width:1px;height:136px;background:linear-gradient(#d65244 1.5px,#d75445,#dc5d4c,#e46e57,#ed8468,#f39c7f,#f5b69c,#ecccbd,#d9d6dc,#bccff3,#99b8fc,#7292f1,#4c64d3,#516bd9,#7192f1,#98b8fd,#bcd0f5,#dad9de,#eecebe,#f6b89d,#f59f80,#ee8568,#e46e56,#dc5e4b,#d75445,#d65344,#d95847,#df6450,#e8785f,#f08f73,#f5a98d,#f2c1ac,#e4d4ce,#ccd5ea,#abc5fa,#85a6f9,#5f7ce4,#4b65d4,#5e7ce4,#85a6f9,#aac6fb,#ccd7eb,#e5d6cf,#f4c3ac,#f7ab8e,#f29173,#e9795e,#e06650,#d95847 133.4px)"></i>
<i style="left:1624px;top:475px;width:12px;height:136px;background:linear-gradient(#da5a49 2.4px,#dd5f4b 3.4px 5.2px,#e36b54 6.2px 7.9px,#eb7d62 8.9px 10.7px,#f39475 11.7px 13.4px,#f7ac8e 14.4px 16.2px,#f5c4ac 17.2px 18.9px,#e7d7ce 19.9px 21.6px,#cedaeb 22.6px 24.4px,#aec9fc 25.4px 27.1px,#89acfd 28.1px 29.9px,#6282ea 30.9px 32.6px,#3e51c5 33.6px 35.4px,#5875e1 36.4px 38.1px,#7ea1fa 39.1px 40.9px,#a5c3fe 41.9px 43.6px,#c6d6f1 44.6px 46.4px,#e1dad6 47.4px 49.1px,#f2cab5 50.1px 51.9px,#f7b396 52.9px 54.6px,#f49a7b 55.6px 57.4px,#ed8366 58.4px 60.1px,#e46e56 61.1px 62.8px,#de614d 63.8px 65.6px,#da5a49 66.6px 68.3px,#dc5d4a 69.3px 71.1px,#e0654f 72.1px 73.8px,#e67259 74.8px 76.6px,#ef886b 77.6px 79.3px,#f59f80 80.3px 82.1px,#f7b89c 83.1px 84.8px,#efcebd 85.8px 87.6px,#dbdcde 88.6px 90.3px,#bfd3f6 91.3px 93.1px,#9bbcff 94.1px 95.8px,#7597f6 96.8px 98.6px,#506bda 99.6px 101.3px,#465ecf 102.3px 104.1px,#6b8df0 105.1px 106.8px,#92b4fe 107.8px 109.5px,#b6cefa 110.5px 112.3px,#d5dbe5 113.3px 115px,#ebd3c6 116px 117.8px,#f6bea4 118.8px 120.5px,#f7a688 121.5px 123.3px,#f18d6f 124.3px 126px,#e9785d 127px 128.8px,#e16751 129.8px 131.5px,#dc5d4a 132.5px)"></i>
<i style="left:1636px;top:475px;width:1px;height:136px;background:linear-gradient(#df6450 1.5px,#e26b54,#e8775e,#ee8a6e,#f4a082,#f4b69d,#eecbba,#dcd6d9,#c2d3f0,#a1befb,#7c9ef6,#5773de,#465cce,#6281e8,#88aafb,#adc8fb,#cbd8ec,#e4d8d1,#f3c7b1,#f7b194,#f4997b,#ee8568,#e6735a,#e16852,#de634f,#e16852,#e57159,#ea7f65,#f19478,#f4ab8e,#f2c1ab,#e6d1ca,#cfd7e6,#b2caf8,#8eaffb,#6989ec,#4e69d8,#506bd8,#7597f4,#9bbbfd,#bdd1f6,#d9dae0,#edd0c1,#f6bca1,#f7a587,#f18e70,#ea7b60,#e36c55,#e06550 133.4px)"></i>
<i style="left:1637px;top:475px;width:13px;height:136px;background:linear-gradient(#ec7f63 2.4px,#f08a6c 3.4px 5.2px,#f4987a 6.2px 7.9px,#f7ac8e 8.9px 10.7px,#f6bfa6 11.7px 13.4px,#edd2c3 14.4px 16.2px,#dadce0 17.2px 18.9px,#c0d4f5 19.9px 21.6px,#a1c0ff 22.6px 24.4px,#7ea1fa 25.4px 27.1px,#5a78e4 28.1px 29.9px,#3b4cc0 30.9px 32.6px,#5a78e4 33.6px 35.4px,#7ea1fa 36.4px 38.1px,#a1c0ff 39.1px 40.9px,#c1d4f4 41.9px 43.6px,#dadce0 44.6px 46.4px,#edd1c2 47.4px 49.1px,#f6bfa6 50.1px 51.9px,#f7ac8e 52.9px 54.6px,#f4987a 55.6px 57.4px,#f08a6c 58.4px 60.1px,#ec7f63 61.1px 62.8px,#ea7b60 63.8px 68.3px,#ee8468 69.3px 71.1px,#f29072 72.1px 73.8px,#f6a283 74.8px 76.6px,#f7b599 77.6px 79.3px,#f2c9b4 80.3px 82.1px,#e5d8d1 83.1px 84.8px,#cedaeb 85.8px 87.6px,#b1cbfc 88.6px 90.3px,#8fb1fe 91.3px 93.1px,#6b8df0 94.1px 95.8px,#4a63d3 96.8px 101.3px,#6c8ff1 102.3px 104.1px,#90b2fe 105.1px 106.8px,#b2ccfb 107.8px 109.5px,#cedaeb 110.5px 112.3px,#e5d8d1 113.3px 115px,#f2c9b4 116px 117.8px,#f7b599 118.8px 120.5px,#f6a283 121.5px 123.3px,#f29072 124.3px 126px,#ee8468 127px 128.8px,#ea7b60 129.8px)"></i>
<i style="left:1650px;top:475px;width:1px;height:136px;background:linear-gradient(#f6a587 1.5px,#f6b295,#f5bfa6,#eecdbd,#e0d8d5,#cdd6eb,#b4ccf9,#96b6fd,#7698f4,#5673df,#4257ca,#5976e1,#799bf6,#99bafe,#b7cef9,#d0dae9,#e3d9d4,#f1cdbb,#f6bea4,#f7b093,#f7a486,#f49c7e,#f4987a,#f49b7c,#f5a081,#f6ab8e,#f6b89c,#f2c6b1,#e8d3c8,#d8d9e0,#c1d3f2,#a6c3fd,#87a9fb,#6786ec,#485ecf,#4e67d7,#688aed,#89acfc,#a8c5fd,#c4d5f2,#d9dce0,#ead4c7,#f4c6b0,#f7b89c,#f7a98b,#f6a081,#f49a7b,#f4997a,#f49c7d 133.4px)"></i>
<i style="left:1651px;top:475px;width:12px;height:136px;background:linear-gradient(#f7aa8c 2.4px,#f7b79b 3.4px 5.2px,#f5c4ac 6.2px 7.9px,#edd2c3 8.9px 10.7px,#dddcdc 11.7px 13.4px,#c9d7f0 14.4px 16.2px,#afcafc 17.2px 18.9px,#90b2fe 19.9px 21.6px,#7093f3 22.6px 24.4px,#516ddb 25.4px 27.1px,#3f53c6 28.1px 29.9px,#5d7ce6 30.9px 32.6px,#7da0f9 33.6px 35.4px,#9dbdff 36.4px 38.1px,#bad0f8 39.1px 40.9px,#d2dbe8 41.9px 43.6px,#e4d9d2 44.6px 46.4px,#f1cdba 47.4px 49.1px,#f6bea4 50.1px 51.9px,#f7b194 52.9px 54.6px,#f7a688 55.6px 57.4px,#f59f80 58.4px 60.1px,#f59c7d 61.1px 62.8px,#f59f80 63.8px 65.6px,#f6a586 66.6px 68.3px,#f7b093 69.3px 71.1px,#f6bda2 72.1px 73.8px,#f2cbb7 74.8px 76.6px,#e6d7cf 77.6px 79.3px,#d4dbe6 80.3px 82.1px,#bcd2f7 83.1px 84.8px,#a1c0ff 85.8px 87.6px,#81a4fb 88.6px 90.3px,#6180e9 91.3px 93.1px,#4358cb 94.1px 95.8px,#4e68d8 96.8px 98.6px,#6c8ff1 99.6px 101.3px,#8db0fe 102.3px 104.1px,#abc8fd 105.1px 106.8px,#c6d6f1 107.8px 109.5px,#dbdcde 110.5px 112.3px,#ebd3c6 113.3px 115px,#f4c6af 116px 117.8px,#f7b89c 118.8px 120.5px,#f7aa8c 121.5px 123.3px,#f6a283 124.3px 126px,#f59d7e 127px 131.5px,#f5a081 132.5px)"></i>
<i style="left:1663px;top:475px;width:1px;height:136px;background:linear-gradient(#f3bca5 1.5px,#efc6b4,#e7d0c6,#dcd4d9,#c8d4eb,#b2c9f7,#97b6fb,#7a9bf4,#5d7ae3,#4c66d5,#4f69d7,#6c8def,#8aacfc,#a7c4fe,#c0d3f4,#d5dbe5,#e5d8d1,#f0cebc,#f5c2aa,#f6b89d,#f7b195,#f6ad90,#f5ac90,#f5b195,#f4b79e,#f1c1ac,#ebcbbc,#e2d2cf,#d3d5e2,#bed0f2,#a5c1fa,#89aaf9,#6b8bed,#4f67d5,#4b63d4,#5d7be5,#7b9df7,#99b9fe,#b3cdfa,#cbd8ed,#dddcdc,#ebd3c6,#f3c8b3,#f6bea4,#f7b498,#f6af91,#f6ac8f,#f5ae92,#f4b398 133.4px)"></i>
<i style="left:1664px;top:475px;width:12px;height:136px;background:linear-gradient(#efcfbf 2.4px,#e6d7cf 3.4px 5.2px,#d9dce1 6.2px 7.9px,#c9d7f0 8.9px 10.7px,#b2ccfb 11.7px 13.4px,#9abbff 14.4px 16.2px,#7ea1fa 17.2px 18.9px,#6282ea 19.9px 21.6px,#485fd1 22.6px 24.4px,#465ecf 25.4px 27.1px,#6180e9 28.1px 29.9px,#7da0f9 30.9px 32.6px,#98b9ff 33.6px 35.4px,#b1cbfc 36.4px 38.1px,#c7d7f0 39.1px 40.9px,#d8dce2 41.9px 43.6px,#e6d7cf 44.6px 46.4px,#efcfbf 47.4px 49.1px,#f3c7b1 50.1px 51.9px,#f5c0a7 52.9px 54.6px,#f6bda2 55.6px 57.4px,#f7bca1 58.4px 60.1px,#f6bea4 61.1px 62.8px,#f5c4ac 63.8px 65.6px,#f2cbb7 66.6px 68.3px,#ebd3c6 69.3px 71.1px,#e0dbd8 72.1px 73.8px,#d1dae9 74.8px 76.6px,#bed2f6 77.6px 79.3px,#a6c4fe 80.3px 82.1px,#8caffe 83.1px 84.8px,#6f92f3 85.8px 87.6px,#5470de 88.6px 90.3px,#3b4cc0 91.3px 93.1px,#536edd 94.1px 95.8px,#6e90f2 96.8px 98.6px,#8badfd 99.6px 101.3px,#a5c3fe 102.3px 104.1px,#bcd2f7 105.1px 106.8px,#d1dae9 107.8px 109.5px,#dfdbd9 110.5px 112.3px,#ebd3c6 113.3px 115px,#f2cbb7 116px 117.8px,#f5c4ac 118.8px 120.5px,#f6bea4 121.5px 123.3px,#f7bca1 124.3px 128.8px,#f5c0a7 129.8px 131.5px,#f3c7b1 132.5px)"></i>
<i style="left:1676px;top:475px;width:1px;height:136px;background:linear-gradient(#ecd0c3 1.5px,#e3d7d2,#d5dae3,#c5d4f1,#aec9fb,#96b7fe,#7a9df7,#5f7de7,#4960d2,#4961d2,#6383ea,#7fa2f9,#99baff,#b2cbfc,#c7d7f0,#d8dce2,#e5d7d0,#eed0c1,#f2c8b3,#f4c2aa,#f5bfa5,#f6bea5,#f4c0a8,#f3c6b0,#efccbb,#e8d3ca,#dcdadb,#cdd8eb,#bacff7,#a2c0fd,#88abfc,#6b8df0,#526edc,#3e50c3,#5571df,#7092f3,#8daefd,#a6c4fe,#bdd2f7,#d1dae9,#dfdbda,#ead4c7,#f1ccb9,#f4c5ae,#f5c0a7,#f6bea4,#f6bea5,#f3c2ab,#f1c9b5 133.4px)"></i>
<i style="left:1677px;top:475px;width:13px;height:136px;background:linear-gradient(#cdd9ec 2.4px,#bed2f6 3.4px 5.2px,#adc9fd 6.2px 7.9px,#97b8ff 8.9px 10.7px,#81a4fb 11.7px 13.4px,#6a8bef 14.4px 16.2px,#536edd 17.2px 18.9px,#3c4ec2 19.9px 21.6px,#4e68d8 22.6px 24.4px,#6485ec 25.4px 27.1px,#7b9ff9 28.1px 29.9px,#93b5fe 30.9px 32.6px,#a7c5fe 33.6px 35.4px,#bad0f8 36.4px 38.1px,#cad8ef 39.1px 40.9px,#d6dce4 41.9px 43.6px,#dedcdb 44.6px 46.4px,#e5d8d1 47.4px 49.1px,#e9d5cb 50.1px 51.9px,#ead4c8 52.9px 57.4px,#e8d6cc 58.4px 60.1px,#e3d9d3 61.1px 62.8px,#dcdddd 63.8px 65.6px,#d3dbe7 66.6px 68.3px,#c6d6f1 69.3px 71.1px,#b6cefa 72.1px 73.8px,#a2c1ff 74.8px 76.6px,#8caffe 77.6px 79.3px,#7597f6 80.3px 82.1px,#5e7de7 83.1px 84.8px,#465ecf 85.8px 87.6px,#4257c9 88.6px 90.3px,#5977e3 91.3px 93.1px,#6f92f3 94.1px 95.8px,#88abfd 96.8px 98.6px,#9ebeff 99.6px 101.3px,#b2ccfb 102.3px 104.1px,#c3d5f4 105.1px 106.8px,#d1dae9 107.8px 109.5px,#dadce0 110.5px 112.3px,#e2dad5 113.3px 115px,#e7d7ce 116px 117.8px,#ead4c8 118.8px 123.3px,#ead5c9 124.3px 126px,#e6d7cf 127px 128.8px,#e0dbd8 129.8px 131.5px,#d8dce2 132.5px)"></i>
<i style="left:1690px;top:475px;width:1px;height:136px;background:linear-gradient(#acc6f9 1.5px,#9bbafc,#8aabfa,#7697f3,#6280e7,#4e67d5,#485fd1,#4d67d6,#6080e8,#7396f4,#87abfc,#9bbbff,#aac7fd,#b9d0f9,#c4d5f2,#cdd9ec,#d3dbe6,#d7d9e2,#d8d8e0,#d7d8e0,#d5d7e2,#d0d6e6,#c8d4ec,#bed1f2,#b2caf7,#a3c0fb,#92b2fb,#7fa1f7,#6c8ced,#5874df,#465bcc,#4a64d4,#5571de,#6a8cef,#7ea1f9,#92b3fe,#a3c1fe,#b2ccfb,#c0d3f5,#c9d7ef,#d0dae9,#d5dae4,#d8d9e1,#d9d8df,#d6d7e1,#d3d6e4,#ccd5e9,#c4d3ef,#b9cef5 133.4px)"></i>
<i style="left:1691px;top:475px;width:12px;height:136px;background:linear-gradient(#9dbdff 2.4px,#8caffe 3.4px 5.2px,#7a9df8 6.2px 7.9px,#6788ee 8.9px 10.7px,#5470de 11.7px 13.4px,#4257c9 14.4px 16.2px,#4358cb 17.2px 18.9px,#5572df 19.9px 21.6px,#688aef 22.6px 24.4px,#7a9df8 25.4px 27.1px,#8db0fe 28.1px 29.9px,#9ebeff 30.9px 32.6px,#abc8fd 33.6px 35.4px,#b9d0f9 36.4px 38.1px,#c1d4f4 39.1px 40.9px,#c9d7f0 41.9px 43.6px,#cedaeb 44.6px 46.4px,#d1dae9 47.4px 51.9px,#cfdaea 52.9px 54.6px,#cbd8ee 55.6px 57.4px,#c5d6f2 58.4px 60.1px,#bcd2f7 61.1px 62.8px,#b1cbfc 63.8px 65.6px,#a3c2fe 66.6px 68.3px,#94b6ff 69.3px 71.1px,#82a6fb 72.1px 73.8px,#7093f3 74.8px 76.6px,#5d7ce6 77.6px 79.3px,#4b64d5 80.3px 82.1px,#3b4cc0 83.1px 84.8px,#4c66d6 85.8px 87.6px,#5e7de7 88.6px 90.3px,#7295f4 91.3px 93.1px,#84a7fc 94.1px 95.8px,#96b7ff 96.8px 98.6px,#a5c3fe 99.6px 101.3px,#b2ccfb 102.3px 104.1px,#bed2f6 105.1px 106.8px,#c6d6f1 107.8px 109.5px,#ccd9ed 110.5px 112.3px,#cfdaea 113.3px 115px,#d1dae9 116px 120.5px,#cdd9ec 121.5px 123.3px,#c9d7f0 124.3px 126px,#c1d4f4 127px 128.8px,#b7cff9 129.8px 131.5px,#abc8fd 132.5px)"></i>
<i style="left:1703px;top:475px;width:1px;height:136px;background:linear-gradient(#8daefa 1.5px,#7e9ff7,#6c8dee,#5b78e2,#4f69d8,#465dce,#4b63d3,#5c7be4,#6d90f2,#7ea1f9,#8eb1fe,#9dbdff,#a9c6fd,#b5cdfa,#bbd1f6,#c2d3f4,#c5d6f0,#c7d5ef,#c6d5ef,#c3d3f0,#bed0f3,#b7cdf6,#adc7f9,#a2befb,#94b4fb,#85a7f9,#7496f2,#6483e8,#536edb,#4a63d4,#4458ca,#5470dd,#6484eb,#7699f6,#86a9fd,#96b7ff,#a3c2fe,#afcafc,#b9cff8,#bfd2f4,#c4d5f1,#c6d5ef,#c6d5ef,#c5d4ef,#c0d2f2,#bbcff4,#b2caf7,#a8c3fa,#9cbafb 133.4px)"></i>
<i style="left:1704px;top:475px;width:13px;height:136px;background:linear-gradient(#688aef 2.4px,#5b7ae5 3.4px 5.2px,#4c66d6 6.2px 7.9px,#3f53c6 8.9px 10.7px,#4257c9 11.7px 13.4px,#506bda 14.4px 16.2px,#5e7de7 17.2px 18.9px,#6c8ff1 19.9px 21.6px,#7a9df8 22.6px 24.4px,#86a9fc 25.4px 27.1px,#92b4fe 28.1px 29.9px,#9bbcff 30.9px 32.6px,#a3c2fe 33.6px 35.4px,#aac7fd 36.4px 38.1px,#aec9fc 39.1px 40.9px,#b1cbfc 41.9px 46.4px,#afcafc 47.4px 49.1px,#abc8fd 50.1px 51.9px,#a6c4fe 52.9px 54.6px,#9ebeff 55.6px 57.4px,#94b6ff 58.4px 60.1px,#89acfd 61.1px 62.8px,#7da0f9 63.8px 65.6px,#7093f3 66.6px 68.3px,#6282ea 69.3px 71.1px,#5470de 72.1px 73.8px,#465ecf 74.8px 76.6px,#3c4ec2 77.6px 79.3px,#4961d2 80.3px 82.1px,#5875e1 83.1px 84.8px,#6687ed 85.8px 87.6px,#7396f5 88.6px 90.3px,#81a4fb 91.3px 93.1px,#8caffe 94.1px 95.8px,#97b8ff 96.8px 98.6px,#9fbfff 99.6px 101.3px,#a7c5fe 102.3px 104.1px,#adc9fd 105.1px 106.8px,#afcafc 107.8px 109.5px,#b1cbfc 110.5px 112.3px,#afcafc 113.3px 115px,#adc9fd 116px 117.8px,#a9c6fd 118.8px 120.5px,#a2c1ff 121.5px 123.3px,#9abbff 124.3px 126px,#8fb1fe 127px 128.8px,#84a7fc 129.8px 131.5px,#779af7 132.5px)"></i>
<i style="left:1757.86px;top:475.30px;width:6.41px;height:135.25px;background:linear-gradient(#b40426,#ba162b,#c0282f,#c53334,#cb3e38,#d0473d,#d55042,#d95847,#de614d,#e26952,#e57058,#e9785d,#ec7f63,#ee8669,#f18d6f,#f39475,#f59c7d,#f6a283,#f7a889,#f7ad90,#f7b396,#f7b89c,#f6bda2,#f5c1a9,#f4c6af,#f2cab5,#f0cdbb,#edd1c2,#ead4c8,#e7d7ce,#e3d9d3,#dfdbd9,#dadce0,#d6dce4,#d2dbe8,#cdd9ec,#c9d7f0,#c4d5f3,#bfd3f6,#bad0f8,#b5cdfa,#afcafc,#aac7fd,#a5c3fe,#9fbfff,#9abbff,#94b6ff,#8fb1fe,#88abfd,#82a6fb,#7da0f9,#779af7,#7295f4,#6c8ff1,#6788ee,#6282ea,#5d7ce6,#5875e1,#536edd,#4e68d8,#4961d2,#445acc,#3f53c6,#3b4cc0)"></i>
<svg width="1834" height="685" viewBox="0 0 1834 685">
<rect x="113.86" y="45.86" width="656.12" height="247.00" stroke-width="1.667" fill="none"/>
<path d="M173.06 292.86L173.06 300.31" stroke-width="1.667"/>
<path d="M264.30 292.86L264.30 300.31" stroke-width="1.667"/>
<path d="M355.54 292.86L355.54 300.31" stroke-width="1.667"/>
<path d="M446.78 292.86L446.78 300.31" stroke-width="1.667"/>
<path d="M538.02 292.86L538.02 300.31" stroke-width="1.667"/>
<path d="M629.26 292.86L629.26 300.31" stroke-width="1.667"/>
<path d="M720.50 292.86L720.50 300.31" stroke-width="1.667"/>
<path d="M106.41 257.82L113.86 257.82" stroke-width="1.667"/>
<text transform="translate(99.26 267.12) scale(1 1.015)" font-size="25.10" text-anchor="end">50</text>
<path d="M106.41 188.87L113.86 188.87" stroke-width="1.667"/>
<text transform="translate(99.26 198.17) scale(1 1.015)" font-size="25.10" text-anchor="end">100</text>
<path d="M106.41 119.91L113.86 119.91" stroke-width="1.667"/>
<text transform="translate(99.26 129.22) scale(1 1.015)" font-size="25.10" text-anchor="end">150</text>
<path d="M106.41 50.96L113.86 50.96" stroke-width="1.667"/>
<text transform="translate(99.26 60.26) scale(1 1.015)" font-size="25.10" text-anchor="end">200</text>
<rect x="811.10" y="45.86" width="12.70" height="247.00" stroke-width="1.667" fill="none"/>
<rect x="113.86" y="365.86" width="656.12" height="247.00" stroke-width="1.667" fill="none"/>
<path d="M173.06 612.86L173.06 620.31" stroke-width="1.667"/>
<text transform="translate(173.06 646.86) scale(1 1.015)" font-size="25.10" text-anchor="middle">0</text>
<path d="M264.30 612.86L264.30 620.31" stroke-width="1.667"/>
<text transform="translate(264.30 646.86) scale(1 1.015)" font-size="25.10" text-anchor="middle">50</text>
<path d="M355.54 612.86L355.54 620.31" stroke-width="1.667"/>
<text transform="translate(355.54 646.86) scale(1 1.015)" font-size="25.10" text-anchor="middle">100</text>
<path d="M446.78 612.86L446.78 620.31" stroke-width="1.667"/>
<text transform="translate(446.78 646.86) scale(1 1.015)" font-size="25.10" text-anchor="middle">150</text>
<path d="M538.02 612.86L538.02 620.31" stroke-width="1.667"/>
<text transform="translate(538.02 646.86) scale(1 1.015)" font-size="25.10" text-anchor="middle">200</text>
<path d="M629.26 612.86L629.26 620.31" stroke-width="1.667"/>
<text transform="translate(629.26 646.86) scale(1 1.015)" font-size="25.10" text-anchor="middle">250</text>
<path d="M720.50 612.86L720.50 620.31" stroke-width="1.667"/>
<text transform="translate(720.50 646.86) scale(1 1.015)" font-size="25.10" text-anchor="middle">300</text>
<path d="M106.41 577.83L113.86 577.83" stroke-width="1.667"/>
<text transform="translate(99.26 587.12) scale(1 1.015)" font-size="25.10" text-anchor="end">50</text>
<path d="M106.41 508.87L113.86 508.87" stroke-width="1.667"/>
<text transform="translate(99.26 518.17) scale(1 1.015)" font-size="25.10" text-anchor="end">100</text>
<path d="M106.41 439.92L113.86 439.92" stroke-width="1.667"/>
<text transform="translate(99.26 449.22) scale(1 1.015)" font-size="25.10" text-anchor="end">150</text>
<path d="M106.41 370.96L113.86 370.96" stroke-width="1.667"/>
<text transform="translate(99.26 380.26) scale(1 1.015)" font-size="25.10" text-anchor="end">200</text>
<rect x="811.10" y="365.86" width="12.70" height="247.00" stroke-width="1.667" fill="none"/>
<path d="M823.80 292.86L831.25 292.86" stroke-width="1.667"/>
<text transform="translate(838.40 302.16) scale(1 1.015)" font-size="25.10" text-anchor="start">0.00</text>
<path d="M823.80 231.11L831.25 231.11" stroke-width="1.667"/>
<text transform="translate(838.40 240.41) scale(1 1.015)" font-size="25.10" text-anchor="start">0.25</text>
<path d="M823.80 169.36L831.25 169.36" stroke-width="1.667"/>
<text transform="translate(838.40 178.66) scale(1 1.015)" font-size="25.10" text-anchor="start">0.50</text>
<path d="M823.80 107.61L831.25 107.61" stroke-width="1.667"/>
<text transform="translate(838.40 116.91) scale(1 1.015)" font-size="25.10" text-anchor="start">0.75</text>
<path d="M823.80 45.86L831.25 45.86" stroke-width="1.667"/>
<text transform="translate(838.40 55.16) scale(1 1.015)" font-size="25.10" text-anchor="start">1.00</text>
<path d="M823.80 549.77L831.25 549.77" stroke-width="1.667"/>
<text transform="translate(838.40 559.07) scale(1 1.015)" font-size="25.10" text-anchor="start">0.25</text>
<path d="M823.80 486.53L831.25 486.53" stroke-width="1.667"/>
<text transform="translate(838.40 495.83) scale(1 1.015)" font-size="25.10" text-anchor="start">0.50</text>
<path d="M823.80 423.28L831.25 423.28" stroke-width="1.667"/>
<text transform="translate(838.40 432.58) scale(1 1.015)" font-size="25.10" text-anchor="start">0.75</text>
<text transform="translate(441.92 33.00) scale(1 1.012)" font-size="27.25" text-anchor="middle">Normalised photon count rate on V-detector</text>
<text transform="translate(438.02 352.90) scale(1 1.012)" font-size="27.25" text-anchor="middle">Best fit to fiber contribution</text>
<text transform="translate(441.92 678.80) scale(1 1.015)" font-size="25.15" text-anchor="middle">QWP angle / deg</text>
<text transform="translate(37.30 327.00) rotate(-90) scale(1 1.015)" font-size="25.15" text-anchor="middle">HWP angle / deg</text>
<text transform="translate(-1.00 32.30) scale(1 1.020)" font-size="41.70" text-anchor="start" font-weight="bold">a)</text>
<text transform="translate(944.90 37.70) scale(1 1.020)" font-size="41.70" text-anchor="start" font-weight="bold">b)</text>
<rect x="1059.98" y="43.10" width="656.89" height="135.05" stroke-width="1.667" fill="none"/>
<rect x="1757.86" y="43.10" width="6.41" height="135.05" stroke-width="1.667" fill="none"/>
<path d="M1088.06 178.15L1088.06 185.60" stroke-width="1.667"/>
<path d="M1179.23 178.15L1179.23 185.60" stroke-width="1.667"/>
<path d="M1270.39 178.15L1270.39 185.60" stroke-width="1.667"/>
<path d="M1361.56 178.15L1361.56 185.60" stroke-width="1.667"/>
<path d="M1452.73 178.15L1452.73 185.60" stroke-width="1.667"/>
<path d="M1543.90 178.15L1543.90 185.60" stroke-width="1.667"/>
<path d="M1635.07 178.15L1635.07 185.60" stroke-width="1.667"/>
<path d="M1052.53 155.04L1059.98 155.04" stroke-width="1.667"/>
<text transform="translate(1045.38 164.34) scale(1 1.015)" font-size="25.10" text-anchor="end">125</text>
<path d="M1052.53 117.65L1059.98 117.65" stroke-width="1.667"/>
<text transform="translate(1045.38 126.95) scale(1 1.015)" font-size="25.10" text-anchor="end">150</text>
<path d="M1052.53 80.26L1059.98 80.26" stroke-width="1.667"/>
<text transform="translate(1045.38 89.56) scale(1 1.015)" font-size="25.10" text-anchor="end">175</text>
<path d="M1052.53 42.87L1059.98 42.87" stroke-width="1.667"/>
<text transform="translate(1045.38 52.17) scale(1 1.015)" font-size="25.10" text-anchor="end">200</text>
<path d="M1764.27 144.49L1771.72 144.49" stroke-width="1.667"/>
<text transform="translate(1778.87 153.79) scale(1 1.015)" font-size="25.10" text-anchor="start">0.25</text>
<path d="M1764.27 110.69L1771.72 110.69" stroke-width="1.667"/>
<text transform="translate(1778.87 119.99) scale(1 1.015)" font-size="25.10" text-anchor="start">0.50</text>
<path d="M1764.27 76.90L1771.72 76.90" stroke-width="1.667"/>
<text transform="translate(1778.87 86.20) scale(1 1.015)" font-size="25.10" text-anchor="start">0.75</text>
<text transform="translate(1387.62 30.80) scale(1 1.012)" font-size="27.25" text-anchor="middle">Ion readout in <tspan font-style="italic">z</tspan>-basis</text>
<circle cx="1406.56" cy="89.91" r="5.80" fill="#000" stroke="none"/>
<path d="M1397.67 114.41L1415.67 132.41M1397.67 132.41L1415.67 114.41" stroke-width="2.08"/>
<path d="M1242.35 127.81L1242.35 136.81M1242.35 127.81L1235.15 123.31M1242.35 127.81L1249.55 123.31" stroke-width="2.08"/>
<text transform="translate(1315.00 72.90) scale(1 1.015)" font-size="25.15" text-anchor="start"><tspan font-style="italic">z</tspan>-basis (<tspan font-style="italic">H</tspan><tspan font-size="17.60" dy="4.50" font-style="italic">z</tspan><tspan dy="-4.50" dx="1.0">/</tspan><tspan font-style="italic">V</tspan><tspan font-size="17.60" dy="4.50" font-style="italic">z</tspan><tspan dy="-4.50" dx="0.6">)</tspan></text>
<rect x="1059.98" y="259.20" width="656.89" height="135.05" stroke-width="1.667" fill="none"/>
<rect x="1757.86" y="259.20" width="6.41" height="135.05" stroke-width="1.667" fill="none"/>
<path d="M1088.06 394.25L1088.06 401.70" stroke-width="1.667"/>
<path d="M1179.23 394.25L1179.23 401.70" stroke-width="1.667"/>
<path d="M1270.39 394.25L1270.39 401.70" stroke-width="1.667"/>
<path d="M1361.56 394.25L1361.56 401.70" stroke-width="1.667"/>
<path d="M1452.73 394.25L1452.73 401.70" stroke-width="1.667"/>
<path d="M1543.90 394.25L1543.90 401.70" stroke-width="1.667"/>
<path d="M1635.07 394.25L1635.07 401.70" stroke-width="1.667"/>
<path d="M1052.53 371.14L1059.98 371.14" stroke-width="1.667"/>
<text transform="translate(1045.38 380.44) scale(1 1.015)" font-size="25.10" text-anchor="end">125</text>
<path d="M1052.53 333.75L1059.98 333.75" stroke-width="1.667"/>
<text transform="translate(1045.38 343.05) scale(1 1.015)" font-size="25.10" text-anchor="end">150</text>
<path d="M1052.53 296.36L1059.98 296.36" stroke-width="1.667"/>
<text transform="translate(1045.38 305.66) scale(1 1.015)" font-size="25.10" text-anchor="end">175</text>
<path d="M1052.53 258.97L1059.98 258.97" stroke-width="1.667"/>
<text transform="translate(1045.38 268.27) scale(1 1.015)" font-size="25.10" text-anchor="end">200</text>
<path d="M1764.27 360.59L1771.72 360.59" stroke-width="1.667"/>
<text transform="translate(1778.87 369.89) scale(1 1.015)" font-size="25.10" text-anchor="start">0.25</text>
<path d="M1764.27 326.79L1771.72 326.79" stroke-width="1.667"/>
<text transform="translate(1778.87 336.09) scale(1 1.015)" font-size="25.10" text-anchor="start">0.50</text>
<path d="M1764.27 293.00L1771.72 293.00" stroke-width="1.667"/>
<text transform="translate(1778.87 302.30) scale(1 1.015)" font-size="25.10" text-anchor="start">0.75</text>
<text transform="translate(1387.62 246.90) scale(1 1.012)" font-size="27.25" text-anchor="middle">Ion readout in <tspan font-style="italic">x</tspan>-basis</text>
<circle cx="1406.56" cy="306.01" r="5.80" fill="#000" stroke="none"/>
<path d="M1397.67 330.51L1415.67 348.51M1397.67 348.51L1415.67 330.51" stroke-width="2.08"/>
<path d="M1242.35 343.91L1242.35 352.91M1242.35 343.91L1235.15 339.41M1242.35 343.91L1249.55 339.41" stroke-width="2.08"/>
<text transform="translate(1315.00 379.50) scale(1 1.015)" font-size="25.15" text-anchor="start"><tspan font-style="italic">x</tspan>-basis (<tspan font-style="italic">H</tspan><tspan font-size="17.60" dy="4.50" font-style="italic">x</tspan><tspan dy="-4.50" dx="1.0">/</tspan><tspan font-style="italic">V</tspan><tspan font-size="17.60" dy="4.50" font-style="italic">x</tspan><tspan dy="-4.50" dx="0.6">)</tspan></text>
<rect x="1059.98" y="475.30" width="656.89" height="135.25" stroke-width="1.667" fill="none"/>
<rect x="1757.86" y="475.30" width="6.41" height="135.25" stroke-width="1.667" fill="none"/>
<path d="M1088.06 610.55L1088.06 618.00" stroke-width="1.667"/>
<text transform="translate(1088.06 644.55) scale(1 1.015)" font-size="25.10" text-anchor="middle">−25</text>
<path d="M1179.23 610.55L1179.23 618.00" stroke-width="1.667"/>
<text transform="translate(1179.23 644.55) scale(1 1.015)" font-size="25.10" text-anchor="middle">0</text>
<path d="M1270.39 610.55L1270.39 618.00" stroke-width="1.667"/>
<text transform="translate(1270.39 644.55) scale(1 1.015)" font-size="25.10" text-anchor="middle">25</text>
<path d="M1361.56 610.55L1361.56 618.00" stroke-width="1.667"/>
<text transform="translate(1361.56 644.55) scale(1 1.015)" font-size="25.10" text-anchor="middle">50</text>
<path d="M1452.73 610.55L1452.73 618.00" stroke-width="1.667"/>
<text transform="translate(1452.73 644.55) scale(1 1.015)" font-size="25.10" text-anchor="middle">75</text>
<path d="M1543.90 610.55L1543.90 618.00" stroke-width="1.667"/>
<text transform="translate(1543.90 644.55) scale(1 1.015)" font-size="25.10" text-anchor="middle">100</text>
<path d="M1635.07 610.55L1635.07 618.00" stroke-width="1.667"/>
<text transform="translate(1635.07 644.55) scale(1 1.015)" font-size="25.10" text-anchor="middle">125</text>
<path d="M1052.53 587.34L1059.98 587.34" stroke-width="1.667"/>
<text transform="translate(1045.38 596.64) scale(1 1.015)" font-size="25.10" text-anchor="end">125</text>
<path d="M1052.53 549.95L1059.98 549.95" stroke-width="1.667"/>
<text transform="translate(1045.38 559.25) scale(1 1.015)" font-size="25.10" text-anchor="end">150</text>
<path d="M1052.53 512.56L1059.98 512.56" stroke-width="1.667"/>
<text transform="translate(1045.38 521.86) scale(1 1.015)" font-size="25.10" text-anchor="end">175</text>
<path d="M1052.53 475.17L1059.98 475.17" stroke-width="1.667"/>
<text transform="translate(1045.38 484.47) scale(1 1.015)" font-size="25.10" text-anchor="end">200</text>
<path d="M1764.27 576.84L1771.72 576.84" stroke-width="1.667"/>
<text transform="translate(1778.87 586.14) scale(1 1.015)" font-size="25.10" text-anchor="start">0.25</text>
<path d="M1764.27 542.99L1771.72 542.99" stroke-width="1.667"/>
<text transform="translate(1778.87 552.29) scale(1 1.015)" font-size="25.10" text-anchor="start">0.50</text>
<path d="M1764.27 509.15L1771.72 509.15" stroke-width="1.667"/>
<text transform="translate(1778.87 518.45) scale(1 1.015)" font-size="25.10" text-anchor="start">0.75</text>
<text transform="translate(1387.62 463.00) scale(1 1.012)" font-size="27.25" text-anchor="middle">Ion readout in <tspan font-style="italic">y</tspan>-basis</text>
<circle cx="1406.56" cy="522.21" r="5.80" fill="#000" stroke="none"/>
<path d="M1397.67 546.71L1415.67 564.71M1397.67 564.71L1415.67 546.71" stroke-width="2.08"/>
<path d="M1242.35 560.11L1242.35 569.11M1242.35 560.11L1235.15 555.61M1242.35 560.11L1249.55 555.61" stroke-width="2.08"/>
<text transform="translate(1151.50 599.90) scale(1 1.015)" font-size="25.15" text-anchor="start"><tspan font-style="italic">y</tspan>-basis (<tspan font-style="italic">H</tspan><tspan font-size="17.60" dy="4.50" font-style="italic">y</tspan><tspan dy="-4.50" dx="1.0">/</tspan><tspan font-style="italic">V</tspan><tspan font-size="17.60" dy="4.50" font-style="italic">y</tspan><tspan dy="-4.50" dx="0.6">)</tspan></text>
<text transform="translate(1388.42 676.50) scale(1 1.015)" font-size="25.15" text-anchor="middle">QWP angle / deg</text>
<text transform="translate(983.90 327.20) rotate(-90) scale(1 1.015)" font-size="25.15" text-anchor="middle">HWP angle / deg</text>
</svg>
</div>
</body></html>
